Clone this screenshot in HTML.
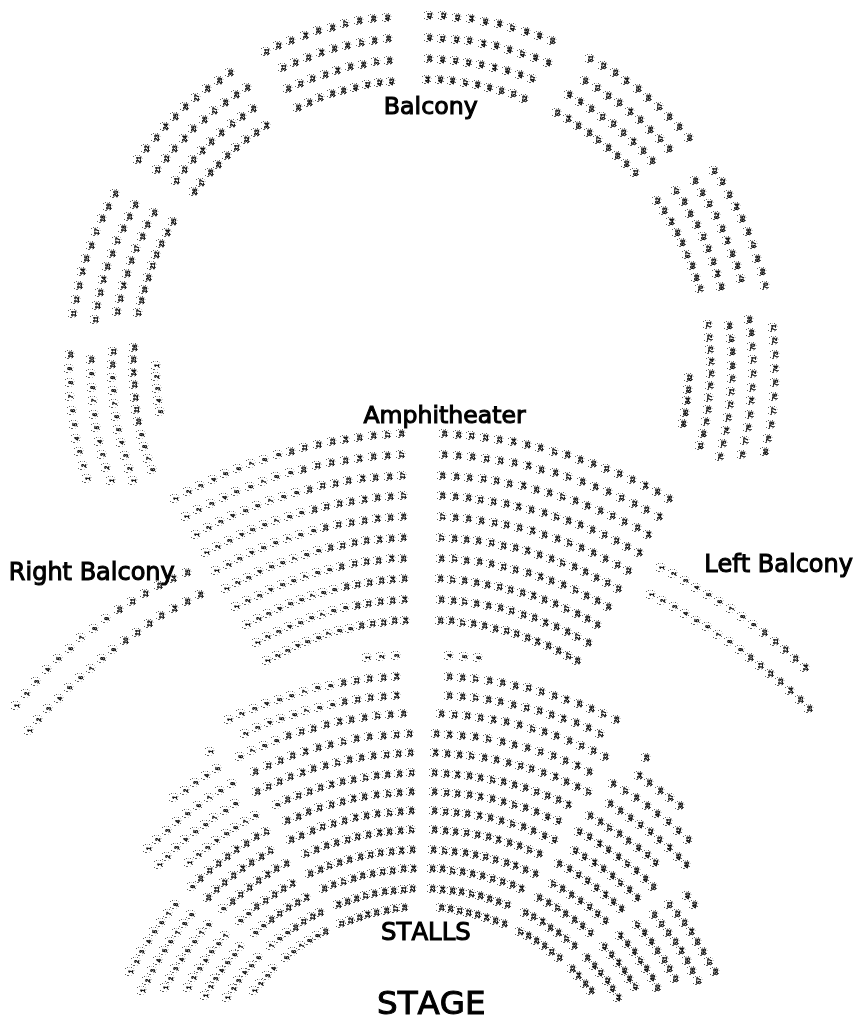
<!DOCTYPE html>
<html><head><meta charset="utf-8"><title>Seat map</title>
<style>
html,body{margin:0;padding:0;background:#fff;}
body{width:860px;height:1020px;overflow:hidden;position:relative;}
svg{position:absolute;left:0;top:0;display:block;}
.s path{fill:none;stroke:#5c5c5c;stroke-width:1;}
.s path+path{stroke:#d0d0d0;}
.s text{font-family:"Liberation Sans",sans-serif;font-weight:bold;font-size:6.5px;fill:#000;stroke:#000;stroke-width:.4;text-anchor:middle;}
.l{font-family:"DejaVu Sans","Liberation Sans",sans-serif;fill:#000;stroke:#000;stroke-width:1.05;stroke-linejoin:miter;font-kerning:none;}
</style></head><body>
<svg width="860" height="1020" viewBox="0 0 860 1020">
<g class="s" opacity="0.999">
<g transform="translate(87 478)"><path d="M-5-2.5h1M-3-3.5h1M1-3.5h1M-5 3.5h1M-3 4.5h2M3 2.5h1"/><path d="M-1-3.5h1M3-2.5h1M4-.5h1M1 4.5h1"/><text transform="translate(.5 .6) rotate(-83) scale(.92 1)" y="2.35">1</text></g>
<g transform="translate(83 465)"><path d="M-5-2.5h1M-3-3.5h1M1-3.5h1M-5 3.5h1M-3 4.5h2M3 2.5h1"/><path d="M-1-3.5h1M3-2.5h1M4-.5h1M1 4.5h1"/><text transform="translate(.5 .6) rotate(-83) scale(.92 1)" y="2.35">2</text></g>
<g transform="translate(79 451)"><path d="M-5-2.5h1M-3-3.5h1M1-3.5h1M-5 3.5h1M-3 4.5h2M3 2.5h1"/><path d="M-1-3.5h1M3-2.5h1M4-.5h1M1 4.5h1"/><text transform="translate(.5 .6) rotate(-83) scale(.92 1)" y="2.35">3</text></g>
<g transform="translate(76 438)"><path d="M-5-2.5h1M-3-3.5h1M1-3.5h1M-5 3.5h1M-3 4.5h2M3 2.5h1"/><path d="M-1-3.5h1M3-2.5h1M4-.5h1M1 4.5h1"/><text transform="translate(.5 .6) rotate(-83) scale(.92 1)" y="2.35">4</text></g>
<g transform="translate(74 424)"><path d="M-5-2.5h1M-3-3.5h1M1-3.5h1M-5 3.5h1M-3 4.5h2M3 2.5h1"/><path d="M-1-3.5h1M3-2.5h1M4-.5h1M1 4.5h1"/><text transform="translate(.5 .6) rotate(-83) scale(.92 1)" y="2.35">5</text></g>
<g transform="translate(72 410)"><path d="M-5-2.5h1M-3-3.5h1M1-3.5h1M-5 3.5h1M-3 4.5h2M3 2.5h1"/><path d="M-1-3.5h1M3-2.5h1M4-.5h1M1 4.5h1"/><text transform="translate(.5 .6) rotate(-83) scale(.92 1)" y="2.35">6</text></g>
<g transform="translate(70 396)"><path d="M-5-2.5h1M-3-3.5h1M1-3.5h1M-5 3.5h1M-3 4.5h2M3 2.5h1"/><path d="M-1-3.5h1M3-2.5h1M4-.5h1M1 4.5h1"/><text transform="translate(.5 .6) rotate(-83) scale(.92 1)" y="2.35">7</text></g>
<g transform="translate(70 382)"><path d="M-5-2.5h1M-3-3.5h1M1-3.5h1M-5 3.5h1M-3 4.5h2M3 2.5h1"/><path d="M-1-3.5h1M3-2.5h1M4-.5h1M1 4.5h1"/><text transform="translate(.5 .6) rotate(-83) scale(.92 1)" y="2.35">8</text></g>
<g transform="translate(69 368)"><path d="M-5-2.5h1M-3-3.5h1M1-3.5h1M-5 3.5h1M-3 4.5h2M3 2.5h1"/><path d="M-1-3.5h1M3-2.5h1M4-.5h1M1 4.5h1"/><text transform="translate(.5 .6) rotate(-83) scale(.92 1)" y="2.35">9</text></g>
<g transform="translate(70 354)"><path d="M-5-2.5h1M-3-3.5h1M1-3.5h1M-5 3.5h1M-3 4.5h2M3 2.5h1"/><path d="M-1-3.5h1M3-2.5h1M4-.5h1M1 4.5h1"/><text transform="translate(.5 .6) rotate(-83) scale(.92 1)" y="2.35">10</text></g>
<g transform="translate(111 480)"><path d="M-5-2.5h1M-3-3.5h1M1-3.5h1M-5 3.5h1M-3 4.5h2M3 2.5h1"/><path d="M-1-3.5h1M3-2.5h1M4-.5h1M1 4.5h1"/><text transform="translate(.5 .6) rotate(-83) scale(.92 1)" y="2.35">1</text></g>
<g transform="translate(106 467)"><path d="M-5-2.5h1M-3-3.5h1M1-3.5h1M-5 3.5h1M-3 4.5h2M3 2.5h1"/><path d="M-1-3.5h1M3-2.5h1M4-.5h1M1 4.5h1"/><text transform="translate(.5 .6) rotate(-83) scale(.92 1)" y="2.35">2</text></g>
<g transform="translate(102 454)"><path d="M-5-2.5h1M-3-3.5h1M1-3.5h1M-5 3.5h1M-3 4.5h2M3 2.5h1"/><path d="M-1-3.5h1M3-2.5h1M4-.5h1M1 4.5h1"/><text transform="translate(.5 .6) rotate(-83) scale(.92 1)" y="2.35">3</text></g>
<g transform="translate(99 441)"><path d="M-5-2.5h1M-3-3.5h1M1-3.5h1M-5 3.5h1M-3 4.5h2M3 2.5h1"/><path d="M-1-3.5h1M3-2.5h1M4-.5h1M1 4.5h1"/><text transform="translate(.5 .6) rotate(-83) scale(.92 1)" y="2.35">4</text></g>
<g transform="translate(96 427)"><path d="M-5-2.5h1M-3-3.5h1M1-3.5h1M-5 3.5h1M-3 4.5h2M3 2.5h1"/><path d="M-1-3.5h1M3-2.5h1M4-.5h1M1 4.5h1"/><text transform="translate(.5 .6) rotate(-83) scale(.92 1)" y="2.35">5</text></g>
<g transform="translate(94 414)"><path d="M-5-2.5h1M-3-3.5h1M1-3.5h1M-5 3.5h1M-3 4.5h2M3 2.5h1"/><path d="M-1-3.5h1M3-2.5h1M4-.5h1M1 4.5h1"/><text transform="translate(.5 .6) rotate(-83) scale(.92 1)" y="2.35">6</text></g>
<g transform="translate(93 400)"><path d="M-5-2.5h1M-3-3.5h1M1-3.5h1M-5 3.5h1M-3 4.5h2M3 2.5h1"/><path d="M-1-3.5h1M3-2.5h1M4-.5h1M1 4.5h1"/><text transform="translate(.5 .6) rotate(-83) scale(.92 1)" y="2.35">7</text></g>
<g transform="translate(92 387)"><path d="M-5-2.5h1M-3-3.5h1M1-3.5h1M-5 3.5h1M-3 4.5h2M3 2.5h1"/><path d="M-1-3.5h1M3-2.5h1M4-.5h1M1 4.5h1"/><text transform="translate(.5 .6) rotate(-83) scale(.92 1)" y="2.35">8</text></g>
<g transform="translate(91 373)"><path d="M-5-2.5h1M-3-3.5h1M1-3.5h1M-5 3.5h1M-3 4.5h2M3 2.5h1"/><path d="M-1-3.5h1M3-2.5h1M4-.5h1M1 4.5h1"/><text transform="translate(.5 .6) rotate(-83) scale(.92 1)" y="2.35">9</text></g>
<g transform="translate(91 359)"><path d="M-5-2.5h1M-3-3.5h1M1-3.5h1M-5 3.5h1M-3 4.5h2M3 2.5h1"/><path d="M-1-3.5h1M3-2.5h1M4-.5h1M1 4.5h1"/><text transform="translate(.5 .6) rotate(-83) scale(.92 1)" y="2.35">10</text></g>
<g transform="translate(133 480)"><path d="M-5-2.5h1M-3-3.5h1M1-3.5h1M-5 3.5h1M-3 4.5h2M3 2.5h1"/><path d="M-1-3.5h1M3-2.5h1M4-.5h1M1 4.5h1"/><text transform="translate(.5 .6) rotate(-83) scale(.92 1)" y="2.35">1</text></g>
<g transform="translate(129 468)"><path d="M-5-2.5h1M-3-3.5h1M1-3.5h1M-5 3.5h1M-3 4.5h2M3 2.5h1"/><path d="M-1-3.5h1M3-2.5h1M4-.5h1M1 4.5h1"/><text transform="translate(.5 .6) rotate(-83) scale(.92 1)" y="2.35">2</text></g>
<g transform="translate(125 455)"><path d="M-5-2.5h1M-3-3.5h1M1-3.5h1M-5 3.5h1M-3 4.5h2M3 2.5h1"/><path d="M-1-3.5h1M3-2.5h1M4-.5h1M1 4.5h1"/><text transform="translate(.5 .6) rotate(-83) scale(.92 1)" y="2.35">3</text></g>
<g transform="translate(121 442)"><path d="M-5-2.5h1M-3-3.5h1M1-3.5h1M-5 3.5h1M-3 4.5h2M3 2.5h1"/><path d="M-1-3.5h1M3-2.5h1M4-.5h1M1 4.5h1"/><text transform="translate(.5 .6) rotate(-83) scale(.92 1)" y="2.35">4</text></g>
<g transform="translate(118 429)"><path d="M-5-2.5h1M-3-3.5h1M1-3.5h1M-5 3.5h1M-3 4.5h2M3 2.5h1"/><path d="M-1-3.5h1M3-2.5h1M4-.5h1M1 4.5h1"/><text transform="translate(.5 .6) rotate(-83) scale(.92 1)" y="2.35">5</text></g>
<g transform="translate(116 416)"><path d="M-5-2.5h1M-3-3.5h1M1-3.5h1M-5 3.5h1M-3 4.5h2M3 2.5h1"/><path d="M-1-3.5h1M3-2.5h1M4-.5h1M1 4.5h1"/><text transform="translate(.5 .6) rotate(-83) scale(.92 1)" y="2.35">6</text></g>
<g transform="translate(114 403)"><path d="M-5-2.5h1M-3-3.5h1M1-3.5h1M-5 3.5h1M-3 4.5h2M3 2.5h1"/><path d="M-1-3.5h1M3-2.5h1M4-.5h1M1 4.5h1"/><text transform="translate(.5 .6) rotate(-83) scale(.92 1)" y="2.35">7</text></g>
<g transform="translate(113 390)"><path d="M-5-2.5h1M-3-3.5h1M1-3.5h1M-5 3.5h1M-3 4.5h2M3 2.5h1"/><path d="M-1-3.5h1M3-2.5h1M4-.5h1M1 4.5h1"/><text transform="translate(.5 .6) rotate(-83) scale(.92 1)" y="2.35">8</text></g>
<g transform="translate(112 377)"><path d="M-5-2.5h1M-3-3.5h1M1-3.5h1M-5 3.5h1M-3 4.5h2M3 2.5h1"/><path d="M-1-3.5h1M3-2.5h1M4-.5h1M1 4.5h1"/><text transform="translate(.5 .6) rotate(-83) scale(.92 1)" y="2.35">9</text></g>
<g transform="translate(112 364)"><path d="M-5-2.5h1M-3-3.5h1M1-3.5h1M-5 3.5h1M-3 4.5h2M3 2.5h1"/><path d="M-1-3.5h1M3-2.5h1M4-.5h1M1 4.5h1"/><text transform="translate(.5 .6) rotate(-83) scale(.92 1)" y="2.35">10</text></g>
<g transform="translate(113 351)"><path d="M-5-2.5h1M-3-3.5h1M1-3.5h1M-5 3.5h1M-3 4.5h2M3 2.5h1"/><path d="M-1-3.5h1M3-2.5h1M4-.5h1M1 4.5h1"/><text transform="translate(.5 .6) rotate(-83) scale(.92 1)" y="2.35">11</text></g>
<g transform="translate(152 469)"><path d="M-5-2.5h1M-3-3.5h1M1-3.5h1M-5 3.5h1M-3 4.5h2M3 2.5h1"/><path d="M-1-3.5h1M3-2.5h1M4-.5h1M1 4.5h1"/><text transform="translate(.5 .6) rotate(-83) scale(.92 1)" y="2.35">6</text></g>
<g transform="translate(148 458)"><path d="M-5-2.5h1M-3-3.5h1M1-3.5h1M-5 3.5h1M-3 4.5h2M3 2.5h1"/><path d="M-1-3.5h1M3-2.5h1M4-.5h1M1 4.5h1"/><text transform="translate(.5 .6) rotate(-83) scale(.92 1)" y="2.35">7</text></g>
<g transform="translate(144 446)"><path d="M-5-2.5h1M-3-3.5h1M1-3.5h1M-5 3.5h1M-3 4.5h2M3 2.5h1"/><path d="M-1-3.5h1M3-2.5h1M4-.5h1M1 4.5h1"/><text transform="translate(.5 .6) rotate(-83) scale(.92 1)" y="2.35">8</text></g>
<g transform="translate(141 434)"><path d="M-5-2.5h1M-3-3.5h1M1-3.5h1M-5 3.5h1M-3 4.5h2M3 2.5h1"/><path d="M-1-3.5h1M3-2.5h1M4-.5h1M1 4.5h1"/><text transform="translate(.5 .6) rotate(-83) scale(.92 1)" y="2.35">9</text></g>
<g transform="translate(138 421)"><path d="M-5-2.5h1M-3-3.5h1M1-3.5h1M-5 3.5h1M-3 4.5h2M3 2.5h1"/><path d="M-1-3.5h1M3-2.5h1M4-.5h1M1 4.5h1"/><text transform="translate(.5 .6) rotate(-83) scale(.92 1)" y="2.35">10</text></g>
<g transform="translate(136 409)"><path d="M-5-2.5h1M-3-3.5h1M1-3.5h1M-5 3.5h1M-3 4.5h2M3 2.5h1"/><path d="M-1-3.5h1M3-2.5h1M4-.5h1M1 4.5h1"/><text transform="translate(.5 .6) rotate(-83) scale(.92 1)" y="2.35">11</text></g>
<g transform="translate(135 397)"><path d="M-5-2.5h1M-3-3.5h1M1-3.5h1M-5 3.5h1M-3 4.5h2M3 2.5h1"/><path d="M-1-3.5h1M3-2.5h1M4-.5h1M1 4.5h1"/><text transform="translate(.5 .6) rotate(-83) scale(.92 1)" y="2.35">12</text></g>
<g transform="translate(134 384)"><path d="M-5-2.5h1M-3-3.5h1M1-3.5h1M-5 3.5h1M-3 4.5h2M3 2.5h1"/><path d="M-1-3.5h1M3-2.5h1M4-.5h1M1 4.5h1"/><text transform="translate(.5 .6) rotate(-83) scale(.92 1)" y="2.35">13</text></g>
<g transform="translate(133 372)"><path d="M-5-2.5h1M-3-3.5h1M1-3.5h1M-5 3.5h1M-3 4.5h2M3 2.5h1"/><path d="M-1-3.5h1M3-2.5h1M4-.5h1M1 4.5h1"/><text transform="translate(.5 .6) rotate(-83) scale(.92 1)" y="2.35">14</text></g>
<g transform="translate(133 359)"><path d="M-5-2.5h1M-3-3.5h1M1-3.5h1M-5 3.5h1M-3 4.5h2M3 2.5h1"/><path d="M-1-3.5h1M3-2.5h1M4-.5h1M1 4.5h1"/><text transform="translate(.5 .6) rotate(-83) scale(.92 1)" y="2.35">15</text></g>
<g transform="translate(134 347)"><path d="M-5-2.5h1M-3-3.5h1M1-3.5h1M-5 3.5h1M-3 4.5h2M3 2.5h1"/><path d="M-1-3.5h1M3-2.5h1M4-.5h1M1 4.5h1"/><text transform="translate(.5 .6) rotate(-83) scale(.92 1)" y="2.35">16</text></g>
<g transform="translate(160 411)"><path d="M-5-2.5h1M-3-3.5h1M1-3.5h1M-5 3.5h1M-3 4.5h2M3 2.5h1"/><path d="M-1-3.5h1M3-2.5h1M4-.5h1M1 4.5h1"/><text transform="translate(.5 .6) rotate(-83) scale(.92 1)" y="2.35">5</text></g>
<g transform="translate(158 400)"><path d="M-5-2.5h1M-3-3.5h1M1-3.5h1M-5 3.5h1M-3 4.5h2M3 2.5h1"/><path d="M-1-3.5h1M3-2.5h1M4-.5h1M1 4.5h1"/><text transform="translate(.5 .6) rotate(-83) scale(.92 1)" y="2.35">4</text></g>
<g transform="translate(157 388)"><path d="M-5-2.5h1M-3-3.5h1M1-3.5h1M-5 3.5h1M-3 4.5h2M3 2.5h1"/><path d="M-1-3.5h1M3-2.5h1M4-.5h1M1 4.5h1"/><text transform="translate(.5 .6) rotate(-83) scale(.92 1)" y="2.35">3</text></g>
<g transform="translate(156 376)"><path d="M-5-2.5h1M-3-3.5h1M1-3.5h1M-5 3.5h1M-3 4.5h2M3 2.5h1"/><path d="M-1-3.5h1M3-2.5h1M4-.5h1M1 4.5h1"/><text transform="translate(.5 .6) rotate(-83) scale(.92 1)" y="2.35">2</text></g>
<g transform="translate(156 365)"><path d="M-5-2.5h1M-3-3.5h1M1-3.5h1M-5 3.5h1M-3 4.5h2M3 2.5h1"/><path d="M-1-3.5h1M3-2.5h1M4-.5h1M1 4.5h1"/><text transform="translate(.5 .6) rotate(-83) scale(.92 1)" y="2.35">1</text></g>
<g transform="translate(73 313)"><path d="M-5-2.5h1M-3-3.5h1M1-3.5h1M-5 3.5h1M-3 4.5h2M3 2.5h1"/><path d="M-1-3.5h1M3-2.5h1M4-.5h1M1 4.5h1"/><text transform="translate(.5 .6) rotate(-83) scale(.92 1)" y="2.35">11</text></g>
<g transform="translate(76 299)"><path d="M-5-2.5h1M-3-3.5h1M1-3.5h1M-5 3.5h1M-3 4.5h2M3 2.5h1"/><path d="M-1-3.5h1M3-2.5h1M4-.5h1M1 4.5h1"/><text transform="translate(.5 .6) rotate(-83) scale(.92 1)" y="2.35">12</text></g>
<g transform="translate(79 285)"><path d="M-5-2.5h1M-3-3.5h1M1-3.5h1M-5 3.5h1M-3 4.5h2M3 2.5h1"/><path d="M-1-3.5h1M3-2.5h1M4-.5h1M1 4.5h1"/><text transform="translate(.5 .6) rotate(-83) scale(.92 1)" y="2.35">13</text></g>
<g transform="translate(82 271)"><path d="M-5-2.5h1M-3-3.5h1M1-3.5h1M-5 3.5h1M-3 4.5h2M3 2.5h1"/><path d="M-1-3.5h1M3-2.5h1M4-.5h1M1 4.5h1"/><text transform="translate(.5 .6) rotate(-83) scale(.92 1)" y="2.35">14</text></g>
<g transform="translate(86 258)"><path d="M-5-2.5h1M-3-3.5h1M1-3.5h1M-5 3.5h1M-3 4.5h2M3 2.5h1"/><path d="M-1-3.5h1M3-2.5h1M4-.5h1M1 4.5h1"/><text transform="translate(.5 .6) rotate(-83) scale(.92 1)" y="2.35">15</text></g>
<g transform="translate(91 245)"><path d="M-5-2.5h1M-3-3.5h1M1-3.5h1M-5 3.5h1M-3 4.5h2M3 2.5h1"/><path d="M-1-3.5h1M3-2.5h1M4-.5h1M1 4.5h1"/><text transform="translate(.5 .6) rotate(-83) scale(.92 1)" y="2.35">16</text></g>
<g transform="translate(96 231)"><path d="M-5-2.5h1M-3-3.5h1M1-3.5h1M-5 3.5h1M-3 4.5h2M3 2.5h1"/><path d="M-1-3.5h1M3-2.5h1M4-.5h1M1 4.5h1"/><text transform="translate(.5 .6) rotate(-83) scale(.92 1)" y="2.35">17</text></g>
<g transform="translate(102 218)"><path d="M-5-2.5h1M-3-3.5h1M1-3.5h1M-5 3.5h1M-3 4.5h2M3 2.5h1"/><path d="M-1-3.5h1M3-2.5h1M4-.5h1M1 4.5h1"/><text transform="translate(.5 .6) rotate(-83) scale(.92 1)" y="2.35">18</text></g>
<g transform="translate(108 206)"><path d="M-5-2.5h1M-3-3.5h1M1-3.5h1M-5 3.5h1M-3 4.5h2M3 2.5h1"/><path d="M-1-3.5h1M3-2.5h1M4-.5h1M1 4.5h1"/><text transform="translate(.5 .6) rotate(-83) scale(.92 1)" y="2.35">19</text></g>
<g transform="translate(115 193)"><path d="M-5-2.5h1M-3-3.5h1M1-3.5h1M-5 3.5h1M-3 4.5h2M3 2.5h1"/><path d="M-1-3.5h1M3-2.5h1M4-.5h1M1 4.5h1"/><text transform="translate(.5 .6) rotate(-83) scale(.92 1)" y="2.35">20</text></g>
<g transform="translate(95 319)"><path d="M-5-2.5h1M-3-3.5h1M1-3.5h1M-5 3.5h1M-3 4.5h2M3 2.5h1"/><path d="M-1-3.5h1M3-2.5h1M4-.5h1M1 4.5h1"/><text transform="translate(.5 .6) rotate(-83) scale(.92 1)" y="2.35">11</text></g>
<g transform="translate(97 305)"><path d="M-5-2.5h1M-3-3.5h1M1-3.5h1M-5 3.5h1M-3 4.5h2M3 2.5h1"/><path d="M-1-3.5h1M3-2.5h1M4-.5h1M1 4.5h1"/><text transform="translate(.5 .6) rotate(-83) scale(.92 1)" y="2.35">12</text></g>
<g transform="translate(100 292)"><path d="M-5-2.5h1M-3-3.5h1M1-3.5h1M-5 3.5h1M-3 4.5h2M3 2.5h1"/><path d="M-1-3.5h1M3-2.5h1M4-.5h1M1 4.5h1"/><text transform="translate(.5 .6) rotate(-83) scale(.92 1)" y="2.35">13</text></g>
<g transform="translate(103 279)"><path d="M-5-2.5h1M-3-3.5h1M1-3.5h1M-5 3.5h1M-3 4.5h2M3 2.5h1"/><path d="M-1-3.5h1M3-2.5h1M4-.5h1M1 4.5h1"/><text transform="translate(.5 .6) rotate(-83) scale(.92 1)" y="2.35">14</text></g>
<g transform="translate(107 266)"><path d="M-5-2.5h1M-3-3.5h1M1-3.5h1M-5 3.5h1M-3 4.5h2M3 2.5h1"/><path d="M-1-3.5h1M3-2.5h1M4-.5h1M1 4.5h1"/><text transform="translate(.5 .6) rotate(-83) scale(.92 1)" y="2.35">15</text></g>
<g transform="translate(112 253)"><path d="M-5-2.5h1M-3-3.5h1M1-3.5h1M-5 3.5h1M-3 4.5h2M3 2.5h1"/><path d="M-1-3.5h1M3-2.5h1M4-.5h1M1 4.5h1"/><text transform="translate(.5 .6) rotate(-83) scale(.92 1)" y="2.35">16</text></g>
<g transform="translate(117 240)"><path d="M-5-2.5h1M-3-3.5h1M1-3.5h1M-5 3.5h1M-3 4.5h2M3 2.5h1"/><path d="M-1-3.5h1M3-2.5h1M4-.5h1M1 4.5h1"/><text transform="translate(.5 .6) rotate(-83) scale(.92 1)" y="2.35">17</text></g>
<g transform="translate(123 228)"><path d="M-5-2.5h1M-3-3.5h1M1-3.5h1M-5 3.5h1M-3 4.5h2M3 2.5h1"/><path d="M-1-3.5h1M3-2.5h1M4-.5h1M1 4.5h1"/><text transform="translate(.5 .6) rotate(-83) scale(.92 1)" y="2.35">18</text></g>
<g transform="translate(129 216)"><path d="M-5-2.5h1M-3-3.5h1M1-3.5h1M-5 3.5h1M-3 4.5h2M3 2.5h1"/><path d="M-1-3.5h1M3-2.5h1M4-.5h1M1 4.5h1"/><text transform="translate(.5 .6) rotate(-83) scale(.92 1)" y="2.35">19</text></g>
<g transform="translate(135 204)"><path d="M-5-2.5h1M-3-3.5h1M1-3.5h1M-5 3.5h1M-3 4.5h2M3 2.5h1"/><path d="M-1-3.5h1M3-2.5h1M4-.5h1M1 4.5h1"/><text transform="translate(.5 .6) rotate(-83) scale(.92 1)" y="2.35">20</text></g>
<g transform="translate(117 311)"><path d="M-5-2.5h1M-3-3.5h1M1-3.5h1M-5 3.5h1M-3 4.5h2M3 2.5h1"/><path d="M-1-3.5h1M3-2.5h1M4-.5h1M1 4.5h1"/><text transform="translate(.5 .6) rotate(-83) scale(.92 1)" y="2.35">12</text></g>
<g transform="translate(120 298)"><path d="M-5-2.5h1M-3-3.5h1M1-3.5h1M-5 3.5h1M-3 4.5h2M3 2.5h1"/><path d="M-1-3.5h1M3-2.5h1M4-.5h1M1 4.5h1"/><text transform="translate(.5 .6) rotate(-83) scale(.92 1)" y="2.35">13</text></g>
<g transform="translate(123 285)"><path d="M-5-2.5h1M-3-3.5h1M1-3.5h1M-5 3.5h1M-3 4.5h2M3 2.5h1"/><path d="M-1-3.5h1M3-2.5h1M4-.5h1M1 4.5h1"/><text transform="translate(.5 .6) rotate(-83) scale(.92 1)" y="2.35">14</text></g>
<g transform="translate(127 273)"><path d="M-5-2.5h1M-3-3.5h1M1-3.5h1M-5 3.5h1M-3 4.5h2M3 2.5h1"/><path d="M-1-3.5h1M3-2.5h1M4-.5h1M1 4.5h1"/><text transform="translate(.5 .6) rotate(-83) scale(.92 1)" y="2.35">15</text></g>
<g transform="translate(131 260)"><path d="M-5-2.5h1M-3-3.5h1M1-3.5h1M-5 3.5h1M-3 4.5h2M3 2.5h1"/><path d="M-1-3.5h1M3-2.5h1M4-.5h1M1 4.5h1"/><text transform="translate(.5 .6) rotate(-83) scale(.92 1)" y="2.35">16</text></g>
<g transform="translate(136 248)"><path d="M-5-2.5h1M-3-3.5h1M1-3.5h1M-5 3.5h1M-3 4.5h2M3 2.5h1"/><path d="M-1-3.5h1M3-2.5h1M4-.5h1M1 4.5h1"/><text transform="translate(.5 .6) rotate(-83) scale(.92 1)" y="2.35">17</text></g>
<g transform="translate(142 236)"><path d="M-5-2.5h1M-3-3.5h1M1-3.5h1M-5 3.5h1M-3 4.5h2M3 2.5h1"/><path d="M-1-3.5h1M3-2.5h1M4-.5h1M1 4.5h1"/><text transform="translate(.5 .6) rotate(-83) scale(.92 1)" y="2.35">18</text></g>
<g transform="translate(147 224)"><path d="M-5-2.5h1M-3-3.5h1M1-3.5h1M-5 3.5h1M-3 4.5h2M3 2.5h1"/><path d="M-1-3.5h1M3-2.5h1M4-.5h1M1 4.5h1"/><text transform="translate(.5 .6) rotate(-83) scale(.92 1)" y="2.35">19</text></g>
<g transform="translate(154 212)"><path d="M-5-2.5h1M-3-3.5h1M1-3.5h1M-5 3.5h1M-3 4.5h2M3 2.5h1"/><path d="M-1-3.5h1M3-2.5h1M4-.5h1M1 4.5h1"/><text transform="translate(.5 .6) rotate(-83) scale(.92 1)" y="2.35">20</text></g>
<g transform="translate(138 312)"><path d="M-5-2.5h1M-3-3.5h1M1-3.5h1M-5 3.5h1M-3 4.5h2M3 2.5h1"/><path d="M-1-3.5h1M3-2.5h1M4-.5h1M1 4.5h1"/><text transform="translate(.5 .6) rotate(-83) scale(.92 1)" y="2.35">17</text></g>
<g transform="translate(141 300)"><path d="M-5-2.5h1M-3-3.5h1M1-3.5h1M-5 3.5h1M-3 4.5h2M3 2.5h1"/><path d="M-1-3.5h1M3-2.5h1M4-.5h1M1 4.5h1"/><text transform="translate(.5 .6) rotate(-83) scale(.92 1)" y="2.35">18</text></g>
<g transform="translate(144 289)"><path d="M-5-2.5h1M-3-3.5h1M1-3.5h1M-5 3.5h1M-3 4.5h2M3 2.5h1"/><path d="M-1-3.5h1M3-2.5h1M4-.5h1M1 4.5h1"/><text transform="translate(.5 .6) rotate(-83) scale(.92 1)" y="2.35">19</text></g>
<g transform="translate(148 277)"><path d="M-5-2.5h1M-3-3.5h1M1-3.5h1M-5 3.5h1M-3 4.5h2M3 2.5h1"/><path d="M-1-3.5h1M3-2.5h1M4-.5h1M1 4.5h1"/><text transform="translate(.5 .6) rotate(-83) scale(.92 1)" y="2.35">20</text></g>
<g transform="translate(152 265)"><path d="M-5-2.5h1M-3-3.5h1M1-3.5h1M-5 3.5h1M-3 4.5h2M3 2.5h1"/><path d="M-1-3.5h1M3-2.5h1M4-.5h1M1 4.5h1"/><text transform="translate(.5 .6) rotate(-83) scale(.92 1)" y="2.35">21</text></g>
<g transform="translate(156 254)"><path d="M-5-2.5h1M-3-3.5h1M1-3.5h1M-5 3.5h1M-3 4.5h2M3 2.5h1"/><path d="M-1-3.5h1M3-2.5h1M4-.5h1M1 4.5h1"/><text transform="translate(.5 .6) rotate(-83) scale(.92 1)" y="2.35">22</text></g>
<g transform="translate(161 243)"><path d="M-5-2.5h1M-3-3.5h1M1-3.5h1M-5 3.5h1M-3 4.5h2M3 2.5h1"/><path d="M-1-3.5h1M3-2.5h1M4-.5h1M1 4.5h1"/><text transform="translate(.5 .6) rotate(-83) scale(.92 1)" y="2.35">23</text></g>
<g transform="translate(167 232)"><path d="M-5-2.5h1M-3-3.5h1M1-3.5h1M-5 3.5h1M-3 4.5h2M3 2.5h1"/><path d="M-1-3.5h1M3-2.5h1M4-.5h1M1 4.5h1"/><text transform="translate(.5 .6) rotate(-83) scale(.92 1)" y="2.35">24</text></g>
<g transform="translate(173 221)"><path d="M-5-2.5h1M-3-3.5h1M1-3.5h1M-5 3.5h1M-3 4.5h2M3 2.5h1"/><path d="M-1-3.5h1M3-2.5h1M4-.5h1M1 4.5h1"/><text transform="translate(.5 .6) rotate(-83) scale(.92 1)" y="2.35">25</text></g>
<g transform="translate(138 159)"><path d="M-5-2.5h1M-3-3.5h1M1-3.5h1M-5 3.5h1M-3 4.5h2M3 2.5h1"/><path d="M-1-3.5h1M3-2.5h1M4-.5h1M1 4.5h1"/><text transform="translate(.5 .6) rotate(-83) scale(.92 1)" y="2.35">21</text></g>
<g transform="translate(146 148)"><path d="M-5-2.5h1M-3-3.5h1M1-3.5h1M-5 3.5h1M-3 4.5h2M3 2.5h1"/><path d="M-1-3.5h1M3-2.5h1M4-.5h1M1 4.5h1"/><text transform="translate(.5 .6) rotate(-83) scale(.92 1)" y="2.35">22</text></g>
<g transform="translate(156 137)"><path d="M-5-2.5h1M-3-3.5h1M1-3.5h1M-5 3.5h1M-3 4.5h2M3 2.5h1"/><path d="M-1-3.5h1M3-2.5h1M4-.5h1M1 4.5h1"/><text transform="translate(.5 .6) rotate(-83) scale(.92 1)" y="2.35">23</text></g>
<g transform="translate(165 126)"><path d="M-5-2.5h1M-3-3.5h1M1-3.5h1M-5 3.5h1M-3 4.5h2M3 2.5h1"/><path d="M-1-3.5h1M3-2.5h1M4-.5h1M1 4.5h1"/><text transform="translate(.5 .6) rotate(-83) scale(.92 1)" y="2.35">24</text></g>
<g transform="translate(175 116)"><path d="M-5-2.5h1M-3-3.5h1M1-3.5h1M-5 3.5h1M-3 4.5h2M3 2.5h1"/><path d="M-1-3.5h1M3-2.5h1M4-.5h1M1 4.5h1"/><text transform="translate(.5 .6) rotate(-83) scale(.92 1)" y="2.35">25</text></g>
<g transform="translate(185 106)"><path d="M-5-2.5h1M-3-3.5h1M1-3.5h1M-5 3.5h1M-3 4.5h2M3 2.5h1"/><path d="M-1-3.5h1M3-2.5h1M4-.5h1M1 4.5h1"/><text transform="translate(.5 .6) rotate(-83) scale(.92 1)" y="2.35">26</text></g>
<g transform="translate(196 97)"><path d="M-5-2.5h1M-3-3.5h1M1-3.5h1M-5 3.5h1M-3 4.5h2M3 2.5h1"/><path d="M-1-3.5h1M3-2.5h1M4-.5h1M1 4.5h1"/><text transform="translate(.5 .6) rotate(-83) scale(.92 1)" y="2.35">27</text></g>
<g transform="translate(207 88)"><path d="M-5-2.5h1M-3-3.5h1M1-3.5h1M-5 3.5h1M-3 4.5h2M3 2.5h1"/><path d="M-1-3.5h1M3-2.5h1M4-.5h1M1 4.5h1"/><text transform="translate(.5 .6) rotate(-83) scale(.92 1)" y="2.35">28</text></g>
<g transform="translate(219 80)"><path d="M-5-2.5h1M-3-3.5h1M1-3.5h1M-5 3.5h1M-3 4.5h2M3 2.5h1"/><path d="M-1-3.5h1M3-2.5h1M4-.5h1M1 4.5h1"/><text transform="translate(.5 .6) rotate(-83) scale(.92 1)" y="2.35">29</text></g>
<g transform="translate(230 72)"><path d="M-5-2.5h1M-3-3.5h1M1-3.5h1M-5 3.5h1M-3 4.5h2M3 2.5h1"/><path d="M-1-3.5h1M3-2.5h1M4-.5h1M1 4.5h1"/><text transform="translate(.5 .6) rotate(-83) scale(.92 1)" y="2.35">30</text></g>
<g transform="translate(157 169)"><path d="M-5-2.5h1M-3-3.5h1M1-3.5h1M-5 3.5h1M-3 4.5h2M3 2.5h1"/><path d="M-1-3.5h1M3-2.5h1M4-.5h1M1 4.5h1"/><text transform="translate(.5 .6) rotate(-83) scale(.92 1)" y="2.35">21</text></g>
<g transform="translate(166 158)"><path d="M-5-2.5h1M-3-3.5h1M1-3.5h1M-5 3.5h1M-3 4.5h2M3 2.5h1"/><path d="M-1-3.5h1M3-2.5h1M4-.5h1M1 4.5h1"/><text transform="translate(.5 .6) rotate(-83) scale(.92 1)" y="2.35">22</text></g>
<g transform="translate(174 148)"><path d="M-5-2.5h1M-3-3.5h1M1-3.5h1M-5 3.5h1M-3 4.5h2M3 2.5h1"/><path d="M-1-3.5h1M3-2.5h1M4-.5h1M1 4.5h1"/><text transform="translate(.5 .6) rotate(-83) scale(.92 1)" y="2.35">23</text></g>
<g transform="translate(184 138)"><path d="M-5-2.5h1M-3-3.5h1M1-3.5h1M-5 3.5h1M-3 4.5h2M3 2.5h1"/><path d="M-1-3.5h1M3-2.5h1M4-.5h1M1 4.5h1"/><text transform="translate(.5 .6) rotate(-83) scale(.92 1)" y="2.35">24</text></g>
<g transform="translate(193 128)"><path d="M-5-2.5h1M-3-3.5h1M1-3.5h1M-5 3.5h1M-3 4.5h2M3 2.5h1"/><path d="M-1-3.5h1M3-2.5h1M4-.5h1M1 4.5h1"/><text transform="translate(.5 .6) rotate(-83) scale(.92 1)" y="2.35">25</text></g>
<g transform="translate(204 119)"><path d="M-5-2.5h1M-3-3.5h1M1-3.5h1M-5 3.5h1M-3 4.5h2M3 2.5h1"/><path d="M-1-3.5h1M3-2.5h1M4-.5h1M1 4.5h1"/><text transform="translate(.5 .6) rotate(-83) scale(.92 1)" y="2.35">26</text></g>
<g transform="translate(214 110)"><path d="M-5-2.5h1M-3-3.5h1M1-3.5h1M-5 3.5h1M-3 4.5h2M3 2.5h1"/><path d="M-1-3.5h1M3-2.5h1M4-.5h1M1 4.5h1"/><text transform="translate(.5 .6) rotate(-83) scale(.92 1)" y="2.35">27</text></g>
<g transform="translate(225 102)"><path d="M-5-2.5h1M-3-3.5h1M1-3.5h1M-5 3.5h1M-3 4.5h2M3 2.5h1"/><path d="M-1-3.5h1M3-2.5h1M4-.5h1M1 4.5h1"/><text transform="translate(.5 .6) rotate(-83) scale(.92 1)" y="2.35">28</text></g>
<g transform="translate(236 94)"><path d="M-5-2.5h1M-3-3.5h1M1-3.5h1M-5 3.5h1M-3 4.5h2M3 2.5h1"/><path d="M-1-3.5h1M3-2.5h1M4-.5h1M1 4.5h1"/><text transform="translate(.5 .6) rotate(-83) scale(.92 1)" y="2.35">29</text></g>
<g transform="translate(247 87)"><path d="M-5-2.5h1M-3-3.5h1M1-3.5h1M-5 3.5h1M-3 4.5h2M3 2.5h1"/><path d="M-1-3.5h1M3-2.5h1M4-.5h1M1 4.5h1"/><text transform="translate(.5 .6) rotate(-83) scale(.92 1)" y="2.35">30</text></g>
<g transform="translate(176 180)"><path d="M-5-2.5h1M-3-3.5h1M1-3.5h1M-5 3.5h1M-3 4.5h2M3 2.5h1"/><path d="M-1-3.5h1M3-2.5h1M4-.5h1M1 4.5h1"/><text transform="translate(.5 .6) rotate(-83) scale(.92 1)" y="2.35">21</text></g>
<g transform="translate(184 169)"><path d="M-5-2.5h1M-3-3.5h1M1-3.5h1M-5 3.5h1M-3 4.5h2M3 2.5h1"/><path d="M-1-3.5h1M3-2.5h1M4-.5h1M1 4.5h1"/><text transform="translate(.5 .6) rotate(-83) scale(.92 1)" y="2.35">22</text></g>
<g transform="translate(193 159)"><path d="M-5-2.5h1M-3-3.5h1M1-3.5h1M-5 3.5h1M-3 4.5h2M3 2.5h1"/><path d="M-1-3.5h1M3-2.5h1M4-.5h1M1 4.5h1"/><text transform="translate(.5 .6) rotate(-83) scale(.92 1)" y="2.35">23</text></g>
<g transform="translate(202 150)"><path d="M-5-2.5h1M-3-3.5h1M1-3.5h1M-5 3.5h1M-3 4.5h2M3 2.5h1"/><path d="M-1-3.5h1M3-2.5h1M4-.5h1M1 4.5h1"/><text transform="translate(.5 .6) rotate(-83) scale(.92 1)" y="2.35">24</text></g>
<g transform="translate(211 141)"><path d="M-5-2.5h1M-3-3.5h1M1-3.5h1M-5 3.5h1M-3 4.5h2M3 2.5h1"/><path d="M-1-3.5h1M3-2.5h1M4-.5h1M1 4.5h1"/><text transform="translate(.5 .6) rotate(-83) scale(.92 1)" y="2.35">25</text></g>
<g transform="translate(221 132)"><path d="M-5-2.5h1M-3-3.5h1M1-3.5h1M-5 3.5h1M-3 4.5h2M3 2.5h1"/><path d="M-1-3.5h1M3-2.5h1M4-.5h1M1 4.5h1"/><text transform="translate(.5 .6) rotate(-83) scale(.92 1)" y="2.35">26</text></g>
<g transform="translate(232 123)"><path d="M-5-2.5h1M-3-3.5h1M1-3.5h1M-5 3.5h1M-3 4.5h2M3 2.5h1"/><path d="M-1-3.5h1M3-2.5h1M4-.5h1M1 4.5h1"/><text transform="translate(.5 .6) rotate(-83) scale(.92 1)" y="2.35">27</text></g>
<g transform="translate(242 116)"><path d="M-5-2.5h1M-3-3.5h1M1-3.5h1M-5 3.5h1M-3 4.5h2M3 2.5h1"/><path d="M-1-3.5h1M3-2.5h1M4-.5h1M1 4.5h1"/><text transform="translate(.5 .6) rotate(-83) scale(.92 1)" y="2.35">28</text></g>
<g transform="translate(253 108)"><path d="M-5-2.5h1M-3-3.5h1M1-3.5h1M-5 3.5h1M-3 4.5h2M3 2.5h1"/><path d="M-1-3.5h1M3-2.5h1M4-.5h1M1 4.5h1"/><text transform="translate(.5 .6) rotate(-83) scale(.92 1)" y="2.35">29</text></g>
<g transform="translate(194 191)"><path d="M-5-2.5h1M-3-3.5h1M1-3.5h1M-5 3.5h1M-3 4.5h2M3 2.5h1"/><path d="M-1-3.5h1M3-2.5h1M4-.5h1M1 4.5h1"/><text transform="translate(.5 .6) rotate(-83) scale(.92 1)" y="2.35">26</text></g>
<g transform="translate(201 182)"><path d="M-5-2.5h1M-3-3.5h1M1-3.5h1M-5 3.5h1M-3 4.5h2M3 2.5h1"/><path d="M-1-3.5h1M3-2.5h1M4-.5h1M1 4.5h1"/><text transform="translate(.5 .6) rotate(-83) scale(.92 1)" y="2.35">27</text></g>
<g transform="translate(210 172)"><path d="M-5-2.5h1M-3-3.5h1M1-3.5h1M-5 3.5h1M-3 4.5h2M3 2.5h1"/><path d="M-1-3.5h1M3-2.5h1M4-.5h1M1 4.5h1"/><text transform="translate(.5 .6) rotate(-83) scale(.92 1)" y="2.35">28</text></g>
<g transform="translate(218 164)"><path d="M-5-2.5h1M-3-3.5h1M1-3.5h1M-5 3.5h1M-3 4.5h2M3 2.5h1"/><path d="M-1-3.5h1M3-2.5h1M4-.5h1M1 4.5h1"/><text transform="translate(.5 .6) rotate(-83) scale(.92 1)" y="2.35">29</text></g>
<g transform="translate(227 155)"><path d="M-5-2.5h1M-3-3.5h1M1-3.5h1M-5 3.5h1M-3 4.5h2M3 2.5h1"/><path d="M-1-3.5h1M3-2.5h1M4-.5h1M1 4.5h1"/><text transform="translate(.5 .6) rotate(-83) scale(.92 1)" y="2.35">30</text></g>
<g transform="translate(236 147)"><path d="M-5-2.5h1M-3-3.5h1M1-3.5h1M-5 3.5h1M-3 4.5h2M3 2.5h1"/><path d="M-1-3.5h1M3-2.5h1M4-.5h1M1 4.5h1"/><text transform="translate(.5 .6) rotate(-83) scale(.92 1)" y="2.35">31</text></g>
<g transform="translate(246 139)"><path d="M-5-2.5h1M-3-3.5h1M1-3.5h1M-5 3.5h1M-3 4.5h2M3 2.5h1"/><path d="M-1-3.5h1M3-2.5h1M4-.5h1M1 4.5h1"/><text transform="translate(.5 .6) rotate(-83) scale(.92 1)" y="2.35">32</text></g>
<g transform="translate(256 132)"><path d="M-5-2.5h1M-3-3.5h1M1-3.5h1M-5 3.5h1M-3 4.5h2M3 2.5h1"/><path d="M-1-3.5h1M3-2.5h1M4-.5h1M1 4.5h1"/><text transform="translate(.5 .6) rotate(-83) scale(.92 1)" y="2.35">33</text></g>
<g transform="translate(266 125)"><path d="M-5-2.5h1M-3-3.5h1M1-3.5h1M-5 3.5h1M-3 4.5h2M3 2.5h1"/><path d="M-1-3.5h1M3-2.5h1M4-.5h1M1 4.5h1"/><text transform="translate(.5 .6) rotate(-83) scale(.92 1)" y="2.35">34</text></g>
<g transform="translate(266 51)"><path d="M-5-2.5h1M-3-3.5h1M1-3.5h1M-5 3.5h1M-3 4.5h2M3 2.5h1"/><path d="M-1-3.5h1M3-2.5h1M4-.5h1M1 4.5h1"/><text transform="translate(.5 .6) rotate(-83) scale(.92 1)" y="2.35">31</text></g>
<g transform="translate(278 45)"><path d="M-5-2.5h1M-3-3.5h1M1-3.5h1M-5 3.5h1M-3 4.5h2M3 2.5h1"/><path d="M-1-3.5h1M3-2.5h1M4-.5h1M1 4.5h1"/><text transform="translate(.5 .6) rotate(-83) scale(.92 1)" y="2.35">32</text></g>
<g transform="translate(291 40)"><path d="M-5-2.5h1M-3-3.5h1M1-3.5h1M-5 3.5h1M-3 4.5h2M3 2.5h1"/><path d="M-1-3.5h1M3-2.5h1M4-.5h1M1 4.5h1"/><text transform="translate(.5 .6) rotate(-83) scale(.92 1)" y="2.35">33</text></g>
<g transform="translate(305 35)"><path d="M-5-2.5h1M-3-3.5h1M1-3.5h1M-5 3.5h1M-3 4.5h2M3 2.5h1"/><path d="M-1-3.5h1M3-2.5h1M4-.5h1M1 4.5h1"/><text transform="translate(.5 .6) rotate(-83) scale(.92 1)" y="2.35">34</text></g>
<g transform="translate(318 30)"><path d="M-5-2.5h1M-3-3.5h1M1-3.5h1M-5 3.5h1M-3 4.5h2M3 2.5h1"/><path d="M-1-3.5h1M3-2.5h1M4-.5h1M1 4.5h1"/><text transform="translate(.5 .6) rotate(-83) scale(.92 1)" y="2.35">35</text></g>
<g transform="translate(332 27)"><path d="M-5-2.5h1M-3-3.5h1M1-3.5h1M-5 3.5h1M-3 4.5h2M3 2.5h1"/><path d="M-1-3.5h1M3-2.5h1M4-.5h1M1 4.5h1"/><text transform="translate(.5 .6) rotate(-83) scale(.92 1)" y="2.35">36</text></g>
<g transform="translate(345 23)"><path d="M-5-2.5h1M-3-3.5h1M1-3.5h1M-5 3.5h1M-3 4.5h2M3 2.5h1"/><path d="M-1-3.5h1M3-2.5h1M4-.5h1M1 4.5h1"/><text transform="translate(.5 .6) rotate(-83) scale(.92 1)" y="2.35">37</text></g>
<g transform="translate(359 20)"><path d="M-5-2.5h1M-3-3.5h1M1-3.5h1M-5 3.5h1M-3 4.5h2M3 2.5h1"/><path d="M-1-3.5h1M3-2.5h1M4-.5h1M1 4.5h1"/><text transform="translate(.5 .6) rotate(-83) scale(.92 1)" y="2.35">38</text></g>
<g transform="translate(373 18)"><path d="M-5-2.5h1M-3-3.5h1M1-3.5h1M-5 3.5h1M-3 4.5h2M3 2.5h1"/><path d="M-1-3.5h1M3-2.5h1M4-.5h1M1 4.5h1"/><text transform="translate(.5 .6) rotate(-83) scale(.92 1)" y="2.35">39</text></g>
<g transform="translate(387 17)"><path d="M-5-2.5h1M-3-3.5h1M1-3.5h1M-5 3.5h1M-3 4.5h2M3 2.5h1"/><path d="M-1-3.5h1M3-2.5h1M4-.5h1M1 4.5h1"/><text transform="translate(.5 .6) rotate(-83) scale(.92 1)" y="2.35">40</text></g>
<g transform="translate(283 67)"><path d="M-5-2.5h1M-3-3.5h1M1-3.5h1M-5 3.5h1M-3 4.5h2M3 2.5h1"/><path d="M-1-3.5h1M3-2.5h1M4-.5h1M1 4.5h1"/><text transform="translate(.5 .6) rotate(-83) scale(.92 1)" y="2.35">31</text></g>
<g transform="translate(295 62)"><path d="M-5-2.5h1M-3-3.5h1M1-3.5h1M-5 3.5h1M-3 4.5h2M3 2.5h1"/><path d="M-1-3.5h1M3-2.5h1M4-.5h1M1 4.5h1"/><text transform="translate(.5 .6) rotate(-83) scale(.92 1)" y="2.35">32</text></g>
<g transform="translate(308 57)"><path d="M-5-2.5h1M-3-3.5h1M1-3.5h1M-5 3.5h1M-3 4.5h2M3 2.5h1"/><path d="M-1-3.5h1M3-2.5h1M4-.5h1M1 4.5h1"/><text transform="translate(.5 .6) rotate(-83) scale(.92 1)" y="2.35">33</text></g>
<g transform="translate(321 52)"><path d="M-5-2.5h1M-3-3.5h1M1-3.5h1M-5 3.5h1M-3 4.5h2M3 2.5h1"/><path d="M-1-3.5h1M3-2.5h1M4-.5h1M1 4.5h1"/><text transform="translate(.5 .6) rotate(-83) scale(.92 1)" y="2.35">34</text></g>
<g transform="translate(334 48)"><path d="M-5-2.5h1M-3-3.5h1M1-3.5h1M-5 3.5h1M-3 4.5h2M3 2.5h1"/><path d="M-1-3.5h1M3-2.5h1M4-.5h1M1 4.5h1"/><text transform="translate(.5 .6) rotate(-83) scale(.92 1)" y="2.35">35</text></g>
<g transform="translate(347 45)"><path d="M-5-2.5h1M-3-3.5h1M1-3.5h1M-5 3.5h1M-3 4.5h2M3 2.5h1"/><path d="M-1-3.5h1M3-2.5h1M4-.5h1M1 4.5h1"/><text transform="translate(.5 .6) rotate(-83) scale(.92 1)" y="2.35">36</text></g>
<g transform="translate(361 42)"><path d="M-5-2.5h1M-3-3.5h1M1-3.5h1M-5 3.5h1M-3 4.5h2M3 2.5h1"/><path d="M-1-3.5h1M3-2.5h1M4-.5h1M1 4.5h1"/><text transform="translate(.5 .6) rotate(-83) scale(.92 1)" y="2.35">37</text></g>
<g transform="translate(374 40)"><path d="M-5-2.5h1M-3-3.5h1M1-3.5h1M-5 3.5h1M-3 4.5h2M3 2.5h1"/><path d="M-1-3.5h1M3-2.5h1M4-.5h1M1 4.5h1"/><text transform="translate(.5 .6) rotate(-83) scale(.92 1)" y="2.35">38</text></g>
<g transform="translate(388 38)"><path d="M-5-2.5h1M-3-3.5h1M1-3.5h1M-5 3.5h1M-3 4.5h2M3 2.5h1"/><path d="M-1-3.5h1M3-2.5h1M4-.5h1M1 4.5h1"/><text transform="translate(.5 .6) rotate(-83) scale(.92 1)" y="2.35">39</text></g>
<g transform="translate(288 88)"><path d="M-5-2.5h1M-3-3.5h1M1-3.5h1M-5 3.5h1M-3 4.5h2M3 2.5h1"/><path d="M-1-3.5h1M3-2.5h1M4-.5h1M1 4.5h1"/><text transform="translate(.5 .6) rotate(-83) scale(.92 1)" y="2.35">30</text></g>
<g transform="translate(300 83)"><path d="M-5-2.5h1M-3-3.5h1M1-3.5h1M-5 3.5h1M-3 4.5h2M3 2.5h1"/><path d="M-1-3.5h1M3-2.5h1M4-.5h1M1 4.5h1"/><text transform="translate(.5 .6) rotate(-83) scale(.92 1)" y="2.35">31</text></g>
<g transform="translate(312 78)"><path d="M-5-2.5h1M-3-3.5h1M1-3.5h1M-5 3.5h1M-3 4.5h2M3 2.5h1"/><path d="M-1-3.5h1M3-2.5h1M4-.5h1M1 4.5h1"/><text transform="translate(.5 .6) rotate(-83) scale(.92 1)" y="2.35">32</text></g>
<g transform="translate(325 74)"><path d="M-5-2.5h1M-3-3.5h1M1-3.5h1M-5 3.5h1M-3 4.5h2M3 2.5h1"/><path d="M-1-3.5h1M3-2.5h1M4-.5h1M1 4.5h1"/><text transform="translate(.5 .6) rotate(-83) scale(.92 1)" y="2.35">33</text></g>
<g transform="translate(337 70)"><path d="M-5-2.5h1M-3-3.5h1M1-3.5h1M-5 3.5h1M-3 4.5h2M3 2.5h1"/><path d="M-1-3.5h1M3-2.5h1M4-.5h1M1 4.5h1"/><text transform="translate(.5 .6) rotate(-83) scale(.92 1)" y="2.35">34</text></g>
<g transform="translate(350 66)"><path d="M-5-2.5h1M-3-3.5h1M1-3.5h1M-5 3.5h1M-3 4.5h2M3 2.5h1"/><path d="M-1-3.5h1M3-2.5h1M4-.5h1M1 4.5h1"/><text transform="translate(.5 .6) rotate(-83) scale(.92 1)" y="2.35">35</text></g>
<g transform="translate(363 64)"><path d="M-5-2.5h1M-3-3.5h1M1-3.5h1M-5 3.5h1M-3 4.5h2M3 2.5h1"/><path d="M-1-3.5h1M3-2.5h1M4-.5h1M1 4.5h1"/><text transform="translate(.5 .6) rotate(-83) scale(.92 1)" y="2.35">36</text></g>
<g transform="translate(376 61)"><path d="M-5-2.5h1M-3-3.5h1M1-3.5h1M-5 3.5h1M-3 4.5h2M3 2.5h1"/><path d="M-1-3.5h1M3-2.5h1M4-.5h1M1 4.5h1"/><text transform="translate(.5 .6) rotate(-83) scale(.92 1)" y="2.35">37</text></g>
<g transform="translate(389 60)"><path d="M-5-2.5h1M-3-3.5h1M1-3.5h1M-5 3.5h1M-3 4.5h2M3 2.5h1"/><path d="M-1-3.5h1M3-2.5h1M4-.5h1M1 4.5h1"/><text transform="translate(.5 .6) rotate(-83) scale(.92 1)" y="2.35">38</text></g>
<g transform="translate(298 107)"><path d="M-5-2.5h1M-3-3.5h1M1-3.5h1M-5 3.5h1M-3 4.5h2M3 2.5h1"/><path d="M-1-3.5h1M3-2.5h1M4-.5h1M1 4.5h1"/><text transform="translate(.5 .6) rotate(-83) scale(.92 1)" y="2.35">35</text></g>
<g transform="translate(309 102)"><path d="M-5-2.5h1M-3-3.5h1M1-3.5h1M-5 3.5h1M-3 4.5h2M3 2.5h1"/><path d="M-1-3.5h1M3-2.5h1M4-.5h1M1 4.5h1"/><text transform="translate(.5 .6) rotate(-83) scale(.92 1)" y="2.35">36</text></g>
<g transform="translate(320 97)"><path d="M-5-2.5h1M-3-3.5h1M1-3.5h1M-5 3.5h1M-3 4.5h2M3 2.5h1"/><path d="M-1-3.5h1M3-2.5h1M4-.5h1M1 4.5h1"/><text transform="translate(.5 .6) rotate(-83) scale(.92 1)" y="2.35">37</text></g>
<g transform="translate(332 93)"><path d="M-5-2.5h1M-3-3.5h1M1-3.5h1M-5 3.5h1M-3 4.5h2M3 2.5h1"/><path d="M-1-3.5h1M3-2.5h1M4-.5h1M1 4.5h1"/><text transform="translate(.5 .6) rotate(-83) scale(.92 1)" y="2.35">38</text></g>
<g transform="translate(343 90)"><path d="M-5-2.5h1M-3-3.5h1M1-3.5h1M-5 3.5h1M-3 4.5h2M3 2.5h1"/><path d="M-1-3.5h1M3-2.5h1M4-.5h1M1 4.5h1"/><text transform="translate(.5 .6) rotate(-83) scale(.92 1)" y="2.35">39</text></g>
<g transform="translate(355 87)"><path d="M-5-2.5h1M-3-3.5h1M1-3.5h1M-5 3.5h1M-3 4.5h2M3 2.5h1"/><path d="M-1-3.5h1M3-2.5h1M4-.5h1M1 4.5h1"/><text transform="translate(.5 .6) rotate(-83) scale(.92 1)" y="2.35">40</text></g>
<g transform="translate(367 84)"><path d="M-5-2.5h1M-3-3.5h1M1-3.5h1M-5 3.5h1M-3 4.5h2M3 2.5h1"/><path d="M-1-3.5h1M3-2.5h1M4-.5h1M1 4.5h1"/><text transform="translate(.5 .6) rotate(-83) scale(.92 1)" y="2.35">41</text></g>
<g transform="translate(379 82)"><path d="M-5-2.5h1M-3-3.5h1M1-3.5h1M-5 3.5h1M-3 4.5h2M3 2.5h1"/><path d="M-1-3.5h1M3-2.5h1M4-.5h1M1 4.5h1"/><text transform="translate(.5 .6) rotate(-83) scale(.92 1)" y="2.35">42</text></g>
<g transform="translate(391 81)"><path d="M-5-2.5h1M-3-3.5h1M1-3.5h1M-5 3.5h1M-3 4.5h2M3 2.5h1"/><path d="M-1-3.5h1M3-2.5h1M4-.5h1M1 4.5h1"/><text transform="translate(.5 .6) rotate(-83) scale(.92 1)" y="2.35">43</text></g>
<g transform="translate(429 15)"><path d="M-5-2.5h1M-3-3.5h1M1-3.5h1M-5 3.5h1M-3 4.5h2M3 2.5h1"/><path d="M-1-3.5h1M3-2.5h1M4-.5h1M1 4.5h1"/><text transform="translate(.5 .6) rotate(-83) scale(.92 1)" y="2.35">41</text></g>
<g transform="translate(443 15)"><path d="M-5-2.5h1M-3-3.5h1M1-3.5h1M-5 3.5h1M-3 4.5h2M3 2.5h1"/><path d="M-1-3.5h1M3-2.5h1M4-.5h1M1 4.5h1"/><text transform="translate(.5 .6) rotate(-83) scale(.92 1)" y="2.35">42</text></g>
<g transform="translate(457 17)"><path d="M-5-2.5h1M-3-3.5h1M1-3.5h1M-5 3.5h1M-3 4.5h2M3 2.5h1"/><path d="M-1-3.5h1M3-2.5h1M4-.5h1M1 4.5h1"/><text transform="translate(.5 .6) rotate(-83) scale(.92 1)" y="2.35">43</text></g>
<g transform="translate(471 18)"><path d="M-5-2.5h1M-3-3.5h1M1-3.5h1M-5 3.5h1M-3 4.5h2M3 2.5h1"/><path d="M-1-3.5h1M3-2.5h1M4-.5h1M1 4.5h1"/><text transform="translate(.5 .6) rotate(-83) scale(.92 1)" y="2.35">44</text></g>
<g transform="translate(485 21)"><path d="M-5-2.5h1M-3-3.5h1M1-3.5h1M-5 3.5h1M-3 4.5h2M3 2.5h1"/><path d="M-1-3.5h1M3-2.5h1M4-.5h1M1 4.5h1"/><text transform="translate(.5 .6) rotate(-83) scale(.92 1)" y="2.35">45</text></g>
<g transform="translate(499 23)"><path d="M-5-2.5h1M-3-3.5h1M1-3.5h1M-5 3.5h1M-3 4.5h2M3 2.5h1"/><path d="M-1-3.5h1M3-2.5h1M4-.5h1M1 4.5h1"/><text transform="translate(.5 .6) rotate(-83) scale(.92 1)" y="2.35">46</text></g>
<g transform="translate(512 27)"><path d="M-5-2.5h1M-3-3.5h1M1-3.5h1M-5 3.5h1M-3 4.5h2M3 2.5h1"/><path d="M-1-3.5h1M3-2.5h1M4-.5h1M1 4.5h1"/><text transform="translate(.5 .6) rotate(-83) scale(.92 1)" y="2.35">47</text></g>
<g transform="translate(526 31)"><path d="M-5-2.5h1M-3-3.5h1M1-3.5h1M-5 3.5h1M-3 4.5h2M3 2.5h1"/><path d="M-1-3.5h1M3-2.5h1M4-.5h1M1 4.5h1"/><text transform="translate(.5 .6) rotate(-83) scale(.92 1)" y="2.35">48</text></g>
<g transform="translate(539 35)"><path d="M-5-2.5h1M-3-3.5h1M1-3.5h1M-5 3.5h1M-3 4.5h2M3 2.5h1"/><path d="M-1-3.5h1M3-2.5h1M4-.5h1M1 4.5h1"/><text transform="translate(.5 .6) rotate(-83) scale(.92 1)" y="2.35">49</text></g>
<g transform="translate(552 40)"><path d="M-5-2.5h1M-3-3.5h1M1-3.5h1M-5 3.5h1M-3 4.5h2M3 2.5h1"/><path d="M-1-3.5h1M3-2.5h1M4-.5h1M1 4.5h1"/><text transform="translate(.5 .6) rotate(-83) scale(.92 1)" y="2.35">50</text></g>
<g transform="translate(429 37)"><path d="M-5-2.5h1M-3-3.5h1M1-3.5h1M-5 3.5h1M-3 4.5h2M3 2.5h1"/><path d="M-1-3.5h1M3-2.5h1M4-.5h1M1 4.5h1"/><text transform="translate(.5 .6) rotate(-83) scale(.92 1)" y="2.35">40</text></g>
<g transform="translate(442 38)"><path d="M-5-2.5h1M-3-3.5h1M1-3.5h1M-5 3.5h1M-3 4.5h2M3 2.5h1"/><path d="M-1-3.5h1M3-2.5h1M4-.5h1M1 4.5h1"/><text transform="translate(.5 .6) rotate(-83) scale(.92 1)" y="2.35">41</text></g>
<g transform="translate(456 39)"><path d="M-5-2.5h1M-3-3.5h1M1-3.5h1M-5 3.5h1M-3 4.5h2M3 2.5h1"/><path d="M-1-3.5h1M3-2.5h1M4-.5h1M1 4.5h1"/><text transform="translate(.5 .6) rotate(-83) scale(.92 1)" y="2.35">42</text></g>
<g transform="translate(469 40)"><path d="M-5-2.5h1M-3-3.5h1M1-3.5h1M-5 3.5h1M-3 4.5h2M3 2.5h1"/><path d="M-1-3.5h1M3-2.5h1M4-.5h1M1 4.5h1"/><text transform="translate(.5 .6) rotate(-83) scale(.92 1)" y="2.35">43</text></g>
<g transform="translate(483 43)"><path d="M-5-2.5h1M-3-3.5h1M1-3.5h1M-5 3.5h1M-3 4.5h2M3 2.5h1"/><path d="M-1-3.5h1M3-2.5h1M4-.5h1M1 4.5h1"/><text transform="translate(.5 .6) rotate(-83) scale(.92 1)" y="2.35">44</text></g>
<g transform="translate(496 45)"><path d="M-5-2.5h1M-3-3.5h1M1-3.5h1M-5 3.5h1M-3 4.5h2M3 2.5h1"/><path d="M-1-3.5h1M3-2.5h1M4-.5h1M1 4.5h1"/><text transform="translate(.5 .6) rotate(-83) scale(.92 1)" y="2.35">45</text></g>
<g transform="translate(509 49)"><path d="M-5-2.5h1M-3-3.5h1M1-3.5h1M-5 3.5h1M-3 4.5h2M3 2.5h1"/><path d="M-1-3.5h1M3-2.5h1M4-.5h1M1 4.5h1"/><text transform="translate(.5 .6) rotate(-83) scale(.92 1)" y="2.35">46</text></g>
<g transform="translate(522 53)"><path d="M-5-2.5h1M-3-3.5h1M1-3.5h1M-5 3.5h1M-3 4.5h2M3 2.5h1"/><path d="M-1-3.5h1M3-2.5h1M4-.5h1M1 4.5h1"/><text transform="translate(.5 .6) rotate(-83) scale(.92 1)" y="2.35">47</text></g>
<g transform="translate(535 57)"><path d="M-5-2.5h1M-3-3.5h1M1-3.5h1M-5 3.5h1M-3 4.5h2M3 2.5h1"/><path d="M-1-3.5h1M3-2.5h1M4-.5h1M1 4.5h1"/><text transform="translate(.5 .6) rotate(-83) scale(.92 1)" y="2.35">48</text></g>
<g transform="translate(548 62)"><path d="M-5-2.5h1M-3-3.5h1M1-3.5h1M-5 3.5h1M-3 4.5h2M3 2.5h1"/><path d="M-1-3.5h1M3-2.5h1M4-.5h1M1 4.5h1"/><text transform="translate(.5 .6) rotate(-83) scale(.92 1)" y="2.35">49</text></g>
<g transform="translate(429 58)"><path d="M-5-2.5h1M-3-3.5h1M1-3.5h1M-5 3.5h1M-3 4.5h2M3 2.5h1"/><path d="M-1-3.5h1M3-2.5h1M4-.5h1M1 4.5h1"/><text transform="translate(.5 .6) rotate(-83) scale(.92 1)" y="2.35">39</text></g>
<g transform="translate(442 59)"><path d="M-5-2.5h1M-3-3.5h1M1-3.5h1M-5 3.5h1M-3 4.5h2M3 2.5h1"/><path d="M-1-3.5h1M3-2.5h1M4-.5h1M1 4.5h1"/><text transform="translate(.5 .6) rotate(-83) scale(.92 1)" y="2.35">40</text></g>
<g transform="translate(455 60)"><path d="M-5-2.5h1M-3-3.5h1M1-3.5h1M-5 3.5h1M-3 4.5h2M3 2.5h1"/><path d="M-1-3.5h1M3-2.5h1M4-.5h1M1 4.5h1"/><text transform="translate(.5 .6) rotate(-83) scale(.92 1)" y="2.35">41</text></g>
<g transform="translate(468 62)"><path d="M-5-2.5h1M-3-3.5h1M1-3.5h1M-5 3.5h1M-3 4.5h2M3 2.5h1"/><path d="M-1-3.5h1M3-2.5h1M4-.5h1M1 4.5h1"/><text transform="translate(.5 .6) rotate(-83) scale(.92 1)" y="2.35">42</text></g>
<g transform="translate(481 64)"><path d="M-5-2.5h1M-3-3.5h1M1-3.5h1M-5 3.5h1M-3 4.5h2M3 2.5h1"/><path d="M-1-3.5h1M3-2.5h1M4-.5h1M1 4.5h1"/><text transform="translate(.5 .6) rotate(-83) scale(.92 1)" y="2.35">43</text></g>
<g transform="translate(494 67)"><path d="M-5-2.5h1M-3-3.5h1M1-3.5h1M-5 3.5h1M-3 4.5h2M3 2.5h1"/><path d="M-1-3.5h1M3-2.5h1M4-.5h1M1 4.5h1"/><text transform="translate(.5 .6) rotate(-83) scale(.92 1)" y="2.35">44</text></g>
<g transform="translate(507 70)"><path d="M-5-2.5h1M-3-3.5h1M1-3.5h1M-5 3.5h1M-3 4.5h2M3 2.5h1"/><path d="M-1-3.5h1M3-2.5h1M4-.5h1M1 4.5h1"/><text transform="translate(.5 .6) rotate(-83) scale(.92 1)" y="2.35">45</text></g>
<g transform="translate(520 74)"><path d="M-5-2.5h1M-3-3.5h1M1-3.5h1M-5 3.5h1M-3 4.5h2M3 2.5h1"/><path d="M-1-3.5h1M3-2.5h1M4-.5h1M1 4.5h1"/><text transform="translate(.5 .6) rotate(-83) scale(.92 1)" y="2.35">46</text></g>
<g transform="translate(532 78)"><path d="M-5-2.5h1M-3-3.5h1M1-3.5h1M-5 3.5h1M-3 4.5h2M3 2.5h1"/><path d="M-1-3.5h1M3-2.5h1M4-.5h1M1 4.5h1"/><text transform="translate(.5 .6) rotate(-83) scale(.92 1)" y="2.35">47</text></g>
<g transform="translate(427 79)"><path d="M-5-2.5h1M-3-3.5h1M1-3.5h1M-5 3.5h1M-3 4.5h2M3 2.5h1"/><path d="M-1-3.5h1M3-2.5h1M4-.5h1M1 4.5h1"/><text transform="translate(.5 .6) rotate(-83) scale(.92 1)" y="2.35">44</text></g>
<g transform="translate(440 79)"><path d="M-5-2.5h1M-3-3.5h1M1-3.5h1M-5 3.5h1M-3 4.5h2M3 2.5h1"/><path d="M-1-3.5h1M3-2.5h1M4-.5h1M1 4.5h1"/><text transform="translate(.5 .6) rotate(-83) scale(.92 1)" y="2.35">45</text></g>
<g transform="translate(452 80)"><path d="M-5-2.5h1M-3-3.5h1M1-3.5h1M-5 3.5h1M-3 4.5h2M3 2.5h1"/><path d="M-1-3.5h1M3-2.5h1M4-.5h1M1 4.5h1"/><text transform="translate(.5 .6) rotate(-83) scale(.92 1)" y="2.35">46</text></g>
<g transform="translate(465 82)"><path d="M-5-2.5h1M-3-3.5h1M1-3.5h1M-5 3.5h1M-3 4.5h2M3 2.5h1"/><path d="M-1-3.5h1M3-2.5h1M4-.5h1M1 4.5h1"/><text transform="translate(.5 .6) rotate(-83) scale(.92 1)" y="2.35">47</text></g>
<g transform="translate(477 84)"><path d="M-5-2.5h1M-3-3.5h1M1-3.5h1M-5 3.5h1M-3 4.5h2M3 2.5h1"/><path d="M-1-3.5h1M3-2.5h1M4-.5h1M1 4.5h1"/><text transform="translate(.5 .6) rotate(-83) scale(.92 1)" y="2.35">48</text></g>
<g transform="translate(489 87)"><path d="M-5-2.5h1M-3-3.5h1M1-3.5h1M-5 3.5h1M-3 4.5h2M3 2.5h1"/><path d="M-1-3.5h1M3-2.5h1M4-.5h1M1 4.5h1"/><text transform="translate(.5 .6) rotate(-83) scale(.92 1)" y="2.35">49</text></g>
<g transform="translate(501 90)"><path d="M-5-2.5h1M-3-3.5h1M1-3.5h1M-5 3.5h1M-3 4.5h2M3 2.5h1"/><path d="M-1-3.5h1M3-2.5h1M4-.5h1M1 4.5h1"/><text transform="translate(.5 .6) rotate(-83) scale(.92 1)" y="2.35">50</text></g>
<g transform="translate(513 93)"><path d="M-5-2.5h1M-3-3.5h1M1-3.5h1M-5 3.5h1M-3 4.5h2M3 2.5h1"/><path d="M-1-3.5h1M3-2.5h1M4-.5h1M1 4.5h1"/><text transform="translate(.5 .6) rotate(-83) scale(.92 1)" y="2.35">51</text></g>
<g transform="translate(524 98)"><path d="M-5-2.5h1M-3-3.5h1M1-3.5h1M-5 3.5h1M-3 4.5h2M3 2.5h1"/><path d="M-1-3.5h1M3-2.5h1M4-.5h1M1 4.5h1"/><text transform="translate(.5 .6) rotate(-83) scale(.92 1)" y="2.35">52</text></g>
<g transform="translate(590 58)"><path d="M-5-2.5h1M-3-3.5h1M1-3.5h1M-5 3.5h1M-3 4.5h2M3 2.5h1"/><path d="M-1-3.5h1M3-2.5h1M4-.5h1M1 4.5h1"/><text transform="translate(.5 .6) rotate(-83) scale(.92 1)" y="2.35">51</text></g>
<g transform="translate(603 65)"><path d="M-5-2.5h1M-3-3.5h1M1-3.5h1M-5 3.5h1M-3 4.5h2M3 2.5h1"/><path d="M-1-3.5h1M3-2.5h1M4-.5h1M1 4.5h1"/><text transform="translate(.5 .6) rotate(-83) scale(.92 1)" y="2.35">52</text></g>
<g transform="translate(615 72)"><path d="M-5-2.5h1M-3-3.5h1M1-3.5h1M-5 3.5h1M-3 4.5h2M3 2.5h1"/><path d="M-1-3.5h1M3-2.5h1M4-.5h1M1 4.5h1"/><text transform="translate(.5 .6) rotate(-83) scale(.92 1)" y="2.35">53</text></g>
<g transform="translate(626 80)"><path d="M-5-2.5h1M-3-3.5h1M1-3.5h1M-5 3.5h1M-3 4.5h2M3 2.5h1"/><path d="M-1-3.5h1M3-2.5h1M4-.5h1M1 4.5h1"/><text transform="translate(.5 .6) rotate(-83) scale(.92 1)" y="2.35">54</text></g>
<g transform="translate(638 88)"><path d="M-5-2.5h1M-3-3.5h1M1-3.5h1M-5 3.5h1M-3 4.5h2M3 2.5h1"/><path d="M-1-3.5h1M3-2.5h1M4-.5h1M1 4.5h1"/><text transform="translate(.5 .6) rotate(-83) scale(.92 1)" y="2.35">55</text></g>
<g transform="translate(648 97)"><path d="M-5-2.5h1M-3-3.5h1M1-3.5h1M-5 3.5h1M-3 4.5h2M3 2.5h1"/><path d="M-1-3.5h1M3-2.5h1M4-.5h1M1 4.5h1"/><text transform="translate(.5 .6) rotate(-83) scale(.92 1)" y="2.35">56</text></g>
<g transform="translate(659 106)"><path d="M-5-2.5h1M-3-3.5h1M1-3.5h1M-5 3.5h1M-3 4.5h2M3 2.5h1"/><path d="M-1-3.5h1M3-2.5h1M4-.5h1M1 4.5h1"/><text transform="translate(.5 .6) rotate(-83) scale(.92 1)" y="2.35">57</text></g>
<g transform="translate(669 116)"><path d="M-5-2.5h1M-3-3.5h1M1-3.5h1M-5 3.5h1M-3 4.5h2M3 2.5h1"/><path d="M-1-3.5h1M3-2.5h1M4-.5h1M1 4.5h1"/><text transform="translate(.5 .6) rotate(-83) scale(.92 1)" y="2.35">58</text></g>
<g transform="translate(679 126)"><path d="M-5-2.5h1M-3-3.5h1M1-3.5h1M-5 3.5h1M-3 4.5h2M3 2.5h1"/><path d="M-1-3.5h1M3-2.5h1M4-.5h1M1 4.5h1"/><text transform="translate(.5 .6) rotate(-83) scale(.92 1)" y="2.35">59</text></g>
<g transform="translate(689 137)"><path d="M-5-2.5h1M-3-3.5h1M1-3.5h1M-5 3.5h1M-3 4.5h2M3 2.5h1"/><path d="M-1-3.5h1M3-2.5h1M4-.5h1M1 4.5h1"/><text transform="translate(.5 .6) rotate(-83) scale(.92 1)" y="2.35">60</text></g>
<g transform="translate(585 80)"><path d="M-5-2.5h1M-3-3.5h1M1-3.5h1M-5 3.5h1M-3 4.5h2M3 2.5h1"/><path d="M-1-3.5h1M3-2.5h1M4-.5h1M1 4.5h1"/><text transform="translate(.5 .6) rotate(-83) scale(.92 1)" y="2.35">50</text></g>
<g transform="translate(597 87)"><path d="M-5-2.5h1M-3-3.5h1M1-3.5h1M-5 3.5h1M-3 4.5h2M3 2.5h1"/><path d="M-1-3.5h1M3-2.5h1M4-.5h1M1 4.5h1"/><text transform="translate(.5 .6) rotate(-83) scale(.92 1)" y="2.35">51</text></g>
<g transform="translate(608 95)"><path d="M-5-2.5h1M-3-3.5h1M1-3.5h1M-5 3.5h1M-3 4.5h2M3 2.5h1"/><path d="M-1-3.5h1M3-2.5h1M4-.5h1M1 4.5h1"/><text transform="translate(.5 .6) rotate(-83) scale(.92 1)" y="2.35">52</text></g>
<g transform="translate(619 102)"><path d="M-5-2.5h1M-3-3.5h1M1-3.5h1M-5 3.5h1M-3 4.5h2M3 2.5h1"/><path d="M-1-3.5h1M3-2.5h1M4-.5h1M1 4.5h1"/><text transform="translate(.5 .6) rotate(-83) scale(.92 1)" y="2.35">53</text></g>
<g transform="translate(630 111)"><path d="M-5-2.5h1M-3-3.5h1M1-3.5h1M-5 3.5h1M-3 4.5h2M3 2.5h1"/><path d="M-1-3.5h1M3-2.5h1M4-.5h1M1 4.5h1"/><text transform="translate(.5 .6) rotate(-83) scale(.92 1)" y="2.35">54</text></g>
<g transform="translate(640 119)"><path d="M-5-2.5h1M-3-3.5h1M1-3.5h1M-5 3.5h1M-3 4.5h2M3 2.5h1"/><path d="M-1-3.5h1M3-2.5h1M4-.5h1M1 4.5h1"/><text transform="translate(.5 .6) rotate(-83) scale(.92 1)" y="2.35">55</text></g>
<g transform="translate(650 129)"><path d="M-5-2.5h1M-3-3.5h1M1-3.5h1M-5 3.5h1M-3 4.5h2M3 2.5h1"/><path d="M-1-3.5h1M3-2.5h1M4-.5h1M1 4.5h1"/><text transform="translate(.5 .6) rotate(-83) scale(.92 1)" y="2.35">56</text></g>
<g transform="translate(660 138)"><path d="M-5-2.5h1M-3-3.5h1M1-3.5h1M-5 3.5h1M-3 4.5h2M3 2.5h1"/><path d="M-1-3.5h1M3-2.5h1M4-.5h1M1 4.5h1"/><text transform="translate(.5 .6) rotate(-83) scale(.92 1)" y="2.35">57</text></g>
<g transform="translate(669 148)"><path d="M-5-2.5h1M-3-3.5h1M1-3.5h1M-5 3.5h1M-3 4.5h2M3 2.5h1"/><path d="M-1-3.5h1M3-2.5h1M4-.5h1M1 4.5h1"/><text transform="translate(.5 .6) rotate(-83) scale(.92 1)" y="2.35">58</text></g>
<g transform="translate(569 94)"><path d="M-5-2.5h1M-3-3.5h1M1-3.5h1M-5 3.5h1M-3 4.5h2M3 2.5h1"/><path d="M-1-3.5h1M3-2.5h1M4-.5h1M1 4.5h1"/><text transform="translate(.5 .6) rotate(-83) scale(.92 1)" y="2.35">48</text></g>
<g transform="translate(580 101)"><path d="M-5-2.5h1M-3-3.5h1M1-3.5h1M-5 3.5h1M-3 4.5h2M3 2.5h1"/><path d="M-1-3.5h1M3-2.5h1M4-.5h1M1 4.5h1"/><text transform="translate(.5 .6) rotate(-83) scale(.92 1)" y="2.35">49</text></g>
<g transform="translate(591 108)"><path d="M-5-2.5h1M-3-3.5h1M1-3.5h1M-5 3.5h1M-3 4.5h2M3 2.5h1"/><path d="M-1-3.5h1M3-2.5h1M4-.5h1M1 4.5h1"/><text transform="translate(.5 .6) rotate(-83) scale(.92 1)" y="2.35">50</text></g>
<g transform="translate(602 116)"><path d="M-5-2.5h1M-3-3.5h1M1-3.5h1M-5 3.5h1M-3 4.5h2M3 2.5h1"/><path d="M-1-3.5h1M3-2.5h1M4-.5h1M1 4.5h1"/><text transform="translate(.5 .6) rotate(-83) scale(.92 1)" y="2.35">51</text></g>
<g transform="translate(613 123)"><path d="M-5-2.5h1M-3-3.5h1M1-3.5h1M-5 3.5h1M-3 4.5h2M3 2.5h1"/><path d="M-1-3.5h1M3-2.5h1M4-.5h1M1 4.5h1"/><text transform="translate(.5 .6) rotate(-83) scale(.92 1)" y="2.35">52</text></g>
<g transform="translate(623 132)"><path d="M-5-2.5h1M-3-3.5h1M1-3.5h1M-5 3.5h1M-3 4.5h2M3 2.5h1"/><path d="M-1-3.5h1M3-2.5h1M4-.5h1M1 4.5h1"/><text transform="translate(.5 .6) rotate(-83) scale(.92 1)" y="2.35">53</text></g>
<g transform="translate(633 141)"><path d="M-5-2.5h1M-3-3.5h1M1-3.5h1M-5 3.5h1M-3 4.5h2M3 2.5h1"/><path d="M-1-3.5h1M3-2.5h1M4-.5h1M1 4.5h1"/><text transform="translate(.5 .6) rotate(-83) scale(.92 1)" y="2.35">54</text></g>
<g transform="translate(643 150)"><path d="M-5-2.5h1M-3-3.5h1M1-3.5h1M-5 3.5h1M-3 4.5h2M3 2.5h1"/><path d="M-1-3.5h1M3-2.5h1M4-.5h1M1 4.5h1"/><text transform="translate(.5 .6) rotate(-83) scale(.92 1)" y="2.35">55</text></g>
<g transform="translate(652 160)"><path d="M-5-2.5h1M-3-3.5h1M1-3.5h1M-5 3.5h1M-3 4.5h2M3 2.5h1"/><path d="M-1-3.5h1M3-2.5h1M4-.5h1M1 4.5h1"/><text transform="translate(.5 .6) rotate(-83) scale(.92 1)" y="2.35">56</text></g>
<g transform="translate(557 112)"><path d="M-5-2.5h1M-3-3.5h1M1-3.5h1M-5 3.5h1M-3 4.5h2M3 2.5h1"/><path d="M-1-3.5h1M3-2.5h1M4-.5h1M1 4.5h1"/><text transform="translate(.5 .6) rotate(-83) scale(.92 1)" y="2.35">53</text></g>
<g transform="translate(568 118)"><path d="M-5-2.5h1M-3-3.5h1M1-3.5h1M-5 3.5h1M-3 4.5h2M3 2.5h1"/><path d="M-1-3.5h1M3-2.5h1M4-.5h1M1 4.5h1"/><text transform="translate(.5 .6) rotate(-83) scale(.92 1)" y="2.35">54</text></g>
<g transform="translate(578 125)"><path d="M-5-2.5h1M-3-3.5h1M1-3.5h1M-5 3.5h1M-3 4.5h2M3 2.5h1"/><path d="M-1-3.5h1M3-2.5h1M4-.5h1M1 4.5h1"/><text transform="translate(.5 .6) rotate(-83) scale(.92 1)" y="2.35">55</text></g>
<g transform="translate(589 132)"><path d="M-5-2.5h1M-3-3.5h1M1-3.5h1M-5 3.5h1M-3 4.5h2M3 2.5h1"/><path d="M-1-3.5h1M3-2.5h1M4-.5h1M1 4.5h1"/><text transform="translate(.5 .6) rotate(-83) scale(.92 1)" y="2.35">56</text></g>
<g transform="translate(598 139)"><path d="M-5-2.5h1M-3-3.5h1M1-3.5h1M-5 3.5h1M-3 4.5h2M3 2.5h1"/><path d="M-1-3.5h1M3-2.5h1M4-.5h1M1 4.5h1"/><text transform="translate(.5 .6) rotate(-83) scale(.92 1)" y="2.35">57</text></g>
<g transform="translate(608 147)"><path d="M-5-2.5h1M-3-3.5h1M1-3.5h1M-5 3.5h1M-3 4.5h2M3 2.5h1"/><path d="M-1-3.5h1M3-2.5h1M4-.5h1M1 4.5h1"/><text transform="translate(.5 .6) rotate(-83) scale(.92 1)" y="2.35">58</text></g>
<g transform="translate(617 155)"><path d="M-5-2.5h1M-3-3.5h1M1-3.5h1M-5 3.5h1M-3 4.5h2M3 2.5h1"/><path d="M-1-3.5h1M3-2.5h1M4-.5h1M1 4.5h1"/><text transform="translate(.5 .6) rotate(-83) scale(.92 1)" y="2.35">59</text></g>
<g transform="translate(626 163)"><path d="M-5-2.5h1M-3-3.5h1M1-3.5h1M-5 3.5h1M-3 4.5h2M3 2.5h1"/><path d="M-1-3.5h1M3-2.5h1M4-.5h1M1 4.5h1"/><text transform="translate(.5 .6) rotate(-83) scale(.92 1)" y="2.35">60</text></g>
<g transform="translate(635 172)"><path d="M-5-2.5h1M-3-3.5h1M1-3.5h1M-5 3.5h1M-3 4.5h2M3 2.5h1"/><path d="M-1-3.5h1M3-2.5h1M4-.5h1M1 4.5h1"/><text transform="translate(.5 .6) rotate(-83) scale(.92 1)" y="2.35">61</text></g>
<g transform="translate(714 170)"><path d="M-5-2.5h1M-3-3.5h1M1-3.5h1M-5 3.5h1M-3 4.5h2M3 2.5h1"/><path d="M-1-3.5h1M3-2.5h1M4-.5h1M1 4.5h1"/><text transform="translate(.5 .6) rotate(-83) scale(.92 1)" y="2.35">61</text></g>
<g transform="translate(722 181)"><path d="M-5-2.5h1M-3-3.5h1M1-3.5h1M-5 3.5h1M-3 4.5h2M3 2.5h1"/><path d="M-1-3.5h1M3-2.5h1M4-.5h1M1 4.5h1"/><text transform="translate(.5 .6) rotate(-83) scale(.92 1)" y="2.35">62</text></g>
<g transform="translate(729 194)"><path d="M-5-2.5h1M-3-3.5h1M1-3.5h1M-5 3.5h1M-3 4.5h2M3 2.5h1"/><path d="M-1-3.5h1M3-2.5h1M4-.5h1M1 4.5h1"/><text transform="translate(.5 .6) rotate(-83) scale(.92 1)" y="2.35">63</text></g>
<g transform="translate(736 206)"><path d="M-5-2.5h1M-3-3.5h1M1-3.5h1M-5 3.5h1M-3 4.5h2M3 2.5h1"/><path d="M-1-3.5h1M3-2.5h1M4-.5h1M1 4.5h1"/><text transform="translate(.5 .6) rotate(-83) scale(.92 1)" y="2.35">64</text></g>
<g transform="translate(742 218)"><path d="M-5-2.5h1M-3-3.5h1M1-3.5h1M-5 3.5h1M-3 4.5h2M3 2.5h1"/><path d="M-1-3.5h1M3-2.5h1M4-.5h1M1 4.5h1"/><text transform="translate(.5 .6) rotate(-83) scale(.92 1)" y="2.35">65</text></g>
<g transform="translate(748 231)"><path d="M-5-2.5h1M-3-3.5h1M1-3.5h1M-5 3.5h1M-3 4.5h2M3 2.5h1"/><path d="M-1-3.5h1M3-2.5h1M4-.5h1M1 4.5h1"/><text transform="translate(.5 .6) rotate(-83) scale(.92 1)" y="2.35">66</text></g>
<g transform="translate(753 244)"><path d="M-5-2.5h1M-3-3.5h1M1-3.5h1M-5 3.5h1M-3 4.5h2M3 2.5h1"/><path d="M-1-3.5h1M3-2.5h1M4-.5h1M1 4.5h1"/><text transform="translate(.5 .6) rotate(-83) scale(.92 1)" y="2.35">67</text></g>
<g transform="translate(757 258)"><path d="M-5-2.5h1M-3-3.5h1M1-3.5h1M-5 3.5h1M-3 4.5h2M3 2.5h1"/><path d="M-1-3.5h1M3-2.5h1M4-.5h1M1 4.5h1"/><text transform="translate(.5 .6) rotate(-83) scale(.92 1)" y="2.35">68</text></g>
<g transform="translate(762 271)"><path d="M-5-2.5h1M-3-3.5h1M1-3.5h1M-5 3.5h1M-3 4.5h2M3 2.5h1"/><path d="M-1-3.5h1M3-2.5h1M4-.5h1M1 4.5h1"/><text transform="translate(.5 .6) rotate(-83) scale(.92 1)" y="2.35">69</text></g>
<g transform="translate(765 285)"><path d="M-5-2.5h1M-3-3.5h1M1-3.5h1M-5 3.5h1M-3 4.5h2M3 2.5h1"/><path d="M-1-3.5h1M3-2.5h1M4-.5h1M1 4.5h1"/><text transform="translate(.5 .6) rotate(-83) scale(.92 1)" y="2.35">70</text></g>
<g transform="translate(695 180)"><path d="M-5-2.5h1M-3-3.5h1M1-3.5h1M-5 3.5h1M-3 4.5h2M3 2.5h1"/><path d="M-1-3.5h1M3-2.5h1M4-.5h1M1 4.5h1"/><text transform="translate(.5 .6) rotate(-83) scale(.92 1)" y="2.35">59</text></g>
<g transform="translate(702 192)"><path d="M-5-2.5h1M-3-3.5h1M1-3.5h1M-5 3.5h1M-3 4.5h2M3 2.5h1"/><path d="M-1-3.5h1M3-2.5h1M4-.5h1M1 4.5h1"/><text transform="translate(.5 .6) rotate(-83) scale(.92 1)" y="2.35">60</text></g>
<g transform="translate(709 203)"><path d="M-5-2.5h1M-3-3.5h1M1-3.5h1M-5 3.5h1M-3 4.5h2M3 2.5h1"/><path d="M-1-3.5h1M3-2.5h1M4-.5h1M1 4.5h1"/><text transform="translate(.5 .6) rotate(-83) scale(.92 1)" y="2.35">61</text></g>
<g transform="translate(716 215)"><path d="M-5-2.5h1M-3-3.5h1M1-3.5h1M-5 3.5h1M-3 4.5h2M3 2.5h1"/><path d="M-1-3.5h1M3-2.5h1M4-.5h1M1 4.5h1"/><text transform="translate(.5 .6) rotate(-83) scale(.92 1)" y="2.35">62</text></g>
<g transform="translate(722 228)"><path d="M-5-2.5h1M-3-3.5h1M1-3.5h1M-5 3.5h1M-3 4.5h2M3 2.5h1"/><path d="M-1-3.5h1M3-2.5h1M4-.5h1M1 4.5h1"/><text transform="translate(.5 .6) rotate(-83) scale(.92 1)" y="2.35">63</text></g>
<g transform="translate(727 240)"><path d="M-5-2.5h1M-3-3.5h1M1-3.5h1M-5 3.5h1M-3 4.5h2M3 2.5h1"/><path d="M-1-3.5h1M3-2.5h1M4-.5h1M1 4.5h1"/><text transform="translate(.5 .6) rotate(-83) scale(.92 1)" y="2.35">64</text></g>
<g transform="translate(732 253)"><path d="M-5-2.5h1M-3-3.5h1M1-3.5h1M-5 3.5h1M-3 4.5h2M3 2.5h1"/><path d="M-1-3.5h1M3-2.5h1M4-.5h1M1 4.5h1"/><text transform="translate(.5 .6) rotate(-83) scale(.92 1)" y="2.35">65</text></g>
<g transform="translate(737 265)"><path d="M-5-2.5h1M-3-3.5h1M1-3.5h1M-5 3.5h1M-3 4.5h2M3 2.5h1"/><path d="M-1-3.5h1M3-2.5h1M4-.5h1M1 4.5h1"/><text transform="translate(.5 .6) rotate(-83) scale(.92 1)" y="2.35">66</text></g>
<g transform="translate(741 278)"><path d="M-5-2.5h1M-3-3.5h1M1-3.5h1M-5 3.5h1M-3 4.5h2M3 2.5h1"/><path d="M-1-3.5h1M3-2.5h1M4-.5h1M1 4.5h1"/><text transform="translate(.5 .6) rotate(-83) scale(.92 1)" y="2.35">67</text></g>
<g transform="translate(676 190)"><path d="M-5-2.5h1M-3-3.5h1M1-3.5h1M-5 3.5h1M-3 4.5h2M3 2.5h1"/><path d="M-1-3.5h1M3-2.5h1M4-.5h1M1 4.5h1"/><text transform="translate(.5 .6) rotate(-83) scale(.92 1)" y="2.35">57</text></g>
<g transform="translate(684 201)"><path d="M-5-2.5h1M-3-3.5h1M1-3.5h1M-5 3.5h1M-3 4.5h2M3 2.5h1"/><path d="M-1-3.5h1M3-2.5h1M4-.5h1M1 4.5h1"/><text transform="translate(.5 .6) rotate(-83) scale(.92 1)" y="2.35">58</text></g>
<g transform="translate(690 213)"><path d="M-5-2.5h1M-3-3.5h1M1-3.5h1M-5 3.5h1M-3 4.5h2M3 2.5h1"/><path d="M-1-3.5h1M3-2.5h1M4-.5h1M1 4.5h1"/><text transform="translate(.5 .6) rotate(-83) scale(.92 1)" y="2.35">59</text></g>
<g transform="translate(697 224)"><path d="M-5-2.5h1M-3-3.5h1M1-3.5h1M-5 3.5h1M-3 4.5h2M3 2.5h1"/><path d="M-1-3.5h1M3-2.5h1M4-.5h1M1 4.5h1"/><text transform="translate(.5 .6) rotate(-83) scale(.92 1)" y="2.35">60</text></g>
<g transform="translate(703 236)"><path d="M-5-2.5h1M-3-3.5h1M1-3.5h1M-5 3.5h1M-3 4.5h2M3 2.5h1"/><path d="M-1-3.5h1M3-2.5h1M4-.5h1M1 4.5h1"/><text transform="translate(.5 .6) rotate(-83) scale(.92 1)" y="2.35">61</text></g>
<g transform="translate(708 248)"><path d="M-5-2.5h1M-3-3.5h1M1-3.5h1M-5 3.5h1M-3 4.5h2M3 2.5h1"/><path d="M-1-3.5h1M3-2.5h1M4-.5h1M1 4.5h1"/><text transform="translate(.5 .6) rotate(-83) scale(.92 1)" y="2.35">62</text></g>
<g transform="translate(713 261)"><path d="M-5-2.5h1M-3-3.5h1M1-3.5h1M-5 3.5h1M-3 4.5h2M3 2.5h1"/><path d="M-1-3.5h1M3-2.5h1M4-.5h1M1 4.5h1"/><text transform="translate(.5 .6) rotate(-83) scale(.92 1)" y="2.35">63</text></g>
<g transform="translate(717 273)"><path d="M-5-2.5h1M-3-3.5h1M1-3.5h1M-5 3.5h1M-3 4.5h2M3 2.5h1"/><path d="M-1-3.5h1M3-2.5h1M4-.5h1M1 4.5h1"/><text transform="translate(.5 .6) rotate(-83) scale(.92 1)" y="2.35">64</text></g>
<g transform="translate(721 286)"><path d="M-5-2.5h1M-3-3.5h1M1-3.5h1M-5 3.5h1M-3 4.5h2M3 2.5h1"/><path d="M-1-3.5h1M3-2.5h1M4-.5h1M1 4.5h1"/><text transform="translate(.5 .6) rotate(-83) scale(.92 1)" y="2.35">65</text></g>
<g transform="translate(657 200)"><path d="M-5-2.5h1M-3-3.5h1M1-3.5h1M-5 3.5h1M-3 4.5h2M3 2.5h1"/><path d="M-1-3.5h1M3-2.5h1M4-.5h1M1 4.5h1"/><text transform="translate(.5 .6) rotate(-83) scale(.92 1)" y="2.35">62</text></g>
<g transform="translate(664 210)"><path d="M-5-2.5h1M-3-3.5h1M1-3.5h1M-5 3.5h1M-3 4.5h2M3 2.5h1"/><path d="M-1-3.5h1M3-2.5h1M4-.5h1M1 4.5h1"/><text transform="translate(.5 .6) rotate(-83) scale(.92 1)" y="2.35">63</text></g>
<g transform="translate(671 221)"><path d="M-5-2.5h1M-3-3.5h1M1-3.5h1M-5 3.5h1M-3 4.5h2M3 2.5h1"/><path d="M-1-3.5h1M3-2.5h1M4-.5h1M1 4.5h1"/><text transform="translate(.5 .6) rotate(-83) scale(.92 1)" y="2.35">64</text></g>
<g transform="translate(677 232)"><path d="M-5-2.5h1M-3-3.5h1M1-3.5h1M-5 3.5h1M-3 4.5h2M3 2.5h1"/><path d="M-1-3.5h1M3-2.5h1M4-.5h1M1 4.5h1"/><text transform="translate(.5 .6) rotate(-83) scale(.92 1)" y="2.35">65</text></g>
<g transform="translate(682 242)"><path d="M-5-2.5h1M-3-3.5h1M1-3.5h1M-5 3.5h1M-3 4.5h2M3 2.5h1"/><path d="M-1-3.5h1M3-2.5h1M4-.5h1M1 4.5h1"/><text transform="translate(.5 .6) rotate(-83) scale(.92 1)" y="2.35">66</text></g>
<g transform="translate(687 254)"><path d="M-5-2.5h1M-3-3.5h1M1-3.5h1M-5 3.5h1M-3 4.5h2M3 2.5h1"/><path d="M-1-3.5h1M3-2.5h1M4-.5h1M1 4.5h1"/><text transform="translate(.5 .6) rotate(-83) scale(.92 1)" y="2.35">67</text></g>
<g transform="translate(692 265)"><path d="M-5-2.5h1M-3-3.5h1M1-3.5h1M-5 3.5h1M-3 4.5h2M3 2.5h1"/><path d="M-1-3.5h1M3-2.5h1M4-.5h1M1 4.5h1"/><text transform="translate(.5 .6) rotate(-83) scale(.92 1)" y="2.35">68</text></g>
<g transform="translate(696 277)"><path d="M-5-2.5h1M-3-3.5h1M1-3.5h1M-5 3.5h1M-3 4.5h2M3 2.5h1"/><path d="M-1-3.5h1M3-2.5h1M4-.5h1M1 4.5h1"/><text transform="translate(.5 .6) rotate(-83) scale(.92 1)" y="2.35">69</text></g>
<g transform="translate(700 288)"><path d="M-5-2.5h1M-3-3.5h1M1-3.5h1M-5 3.5h1M-3 4.5h2M3 2.5h1"/><path d="M-1-3.5h1M3-2.5h1M4-.5h1M1 4.5h1"/><text transform="translate(.5 .6) rotate(-83) scale(.92 1)" y="2.35">70</text></g>
<g transform="translate(773 327)"><path d="M-5-2.5h1M-3-3.5h1M1-3.5h1M-5 3.5h1M-3 4.5h2M3 2.5h1"/><path d="M-1-3.5h1M3-2.5h1M4-.5h1M1 4.5h1"/><text transform="translate(.5 .6) rotate(-83) scale(.92 1)" y="2.35">71</text></g>
<g transform="translate(774 340)"><path d="M-5-2.5h1M-3-3.5h1M1-3.5h1M-5 3.5h1M-3 4.5h2M3 2.5h1"/><path d="M-1-3.5h1M3-2.5h1M4-.5h1M1 4.5h1"/><text transform="translate(.5 .6) rotate(-83) scale(.92 1)" y="2.35">72</text></g>
<g transform="translate(775 354)"><path d="M-5-2.5h1M-3-3.5h1M1-3.5h1M-5 3.5h1M-3 4.5h2M3 2.5h1"/><path d="M-1-3.5h1M3-2.5h1M4-.5h1M1 4.5h1"/><text transform="translate(.5 .6) rotate(-83) scale(.92 1)" y="2.35">73</text></g>
<g transform="translate(775 368)"><path d="M-5-2.5h1M-3-3.5h1M1-3.5h1M-5 3.5h1M-3 4.5h2M3 2.5h1"/><path d="M-1-3.5h1M3-2.5h1M4-.5h1M1 4.5h1"/><text transform="translate(.5 .6) rotate(-83) scale(.92 1)" y="2.35">74</text></g>
<g transform="translate(775 382)"><path d="M-5-2.5h1M-3-3.5h1M1-3.5h1M-5 3.5h1M-3 4.5h2M3 2.5h1"/><path d="M-1-3.5h1M3-2.5h1M4-.5h1M1 4.5h1"/><text transform="translate(.5 .6) rotate(-83) scale(.92 1)" y="2.35">75</text></g>
<g transform="translate(774 396)"><path d="M-5-2.5h1M-3-3.5h1M1-3.5h1M-5 3.5h1M-3 4.5h2M3 2.5h1"/><path d="M-1-3.5h1M3-2.5h1M4-.5h1M1 4.5h1"/><text transform="translate(.5 .6) rotate(-83) scale(.92 1)" y="2.35">76</text></g>
<g transform="translate(773 410)"><path d="M-5-2.5h1M-3-3.5h1M1-3.5h1M-5 3.5h1M-3 4.5h2M3 2.5h1"/><path d="M-1-3.5h1M3-2.5h1M4-.5h1M1 4.5h1"/><text transform="translate(.5 .6) rotate(-83) scale(.92 1)" y="2.35">77</text></g>
<g transform="translate(771 424)"><path d="M-5-2.5h1M-3-3.5h1M1-3.5h1M-5 3.5h1M-3 4.5h2M3 2.5h1"/><path d="M-1-3.5h1M3-2.5h1M4-.5h1M1 4.5h1"/><text transform="translate(.5 .6) rotate(-83) scale(.92 1)" y="2.35">78</text></g>
<g transform="translate(768 438)"><path d="M-5-2.5h1M-3-3.5h1M1-3.5h1M-5 3.5h1M-3 4.5h2M3 2.5h1"/><path d="M-1-3.5h1M3-2.5h1M4-.5h1M1 4.5h1"/><text transform="translate(.5 .6) rotate(-83) scale(.92 1)" y="2.35">79</text></g>
<g transform="translate(765 451)"><path d="M-5-2.5h1M-3-3.5h1M1-3.5h1M-5 3.5h1M-3 4.5h2M3 2.5h1"/><path d="M-1-3.5h1M3-2.5h1M4-.5h1M1 4.5h1"/><text transform="translate(.5 .6) rotate(-83) scale(.92 1)" y="2.35">80</text></g>
<g transform="translate(749 319)"><path d="M-5-2.5h1M-3-3.5h1M1-3.5h1M-5 3.5h1M-3 4.5h2M3 2.5h1"/><path d="M-1-3.5h1M3-2.5h1M4-.5h1M1 4.5h1"/><text transform="translate(.5 .6) rotate(-83) scale(.92 1)" y="2.35">68</text></g>
<g transform="translate(751 332)"><path d="M-5-2.5h1M-3-3.5h1M1-3.5h1M-5 3.5h1M-3 4.5h2M3 2.5h1"/><path d="M-1-3.5h1M3-2.5h1M4-.5h1M1 4.5h1"/><text transform="translate(.5 .6) rotate(-83) scale(.92 1)" y="2.35">69</text></g>
<g transform="translate(752 346)"><path d="M-5-2.5h1M-3-3.5h1M1-3.5h1M-5 3.5h1M-3 4.5h2M3 2.5h1"/><path d="M-1-3.5h1M3-2.5h1M4-.5h1M1 4.5h1"/><text transform="translate(.5 .6) rotate(-83) scale(.92 1)" y="2.35">70</text></g>
<g transform="translate(753 359)"><path d="M-5-2.5h1M-3-3.5h1M1-3.5h1M-5 3.5h1M-3 4.5h2M3 2.5h1"/><path d="M-1-3.5h1M3-2.5h1M4-.5h1M1 4.5h1"/><text transform="translate(.5 .6) rotate(-83) scale(.92 1)" y="2.35">71</text></g>
<g transform="translate(753 373)"><path d="M-5-2.5h1M-3-3.5h1M1-3.5h1M-5 3.5h1M-3 4.5h2M3 2.5h1"/><path d="M-1-3.5h1M3-2.5h1M4-.5h1M1 4.5h1"/><text transform="translate(.5 .6) rotate(-83) scale(.92 1)" y="2.35">72</text></g>
<g transform="translate(752 387)"><path d="M-5-2.5h1M-3-3.5h1M1-3.5h1M-5 3.5h1M-3 4.5h2M3 2.5h1"/><path d="M-1-3.5h1M3-2.5h1M4-.5h1M1 4.5h1"/><text transform="translate(.5 .6) rotate(-83) scale(.92 1)" y="2.35">73</text></g>
<g transform="translate(751 400)"><path d="M-5-2.5h1M-3-3.5h1M1-3.5h1M-5 3.5h1M-3 4.5h2M3 2.5h1"/><path d="M-1-3.5h1M3-2.5h1M4-.5h1M1 4.5h1"/><text transform="translate(.5 .6) rotate(-83) scale(.92 1)" y="2.35">74</text></g>
<g transform="translate(750 414)"><path d="M-5-2.5h1M-3-3.5h1M1-3.5h1M-5 3.5h1M-3 4.5h2M3 2.5h1"/><path d="M-1-3.5h1M3-2.5h1M4-.5h1M1 4.5h1"/><text transform="translate(.5 .6) rotate(-83) scale(.92 1)" y="2.35">75</text></g>
<g transform="translate(748 427)"><path d="M-5-2.5h1M-3-3.5h1M1-3.5h1M-5 3.5h1M-3 4.5h2M3 2.5h1"/><path d="M-1-3.5h1M3-2.5h1M4-.5h1M1 4.5h1"/><text transform="translate(.5 .6) rotate(-83) scale(.92 1)" y="2.35">76</text></g>
<g transform="translate(745 440)"><path d="M-5-2.5h1M-3-3.5h1M1-3.5h1M-5 3.5h1M-3 4.5h2M3 2.5h1"/><path d="M-1-3.5h1M3-2.5h1M4-.5h1M1 4.5h1"/><text transform="translate(.5 .6) rotate(-83) scale(.92 1)" y="2.35">77</text></g>
<g transform="translate(742 454)"><path d="M-5-2.5h1M-3-3.5h1M1-3.5h1M-5 3.5h1M-3 4.5h2M3 2.5h1"/><path d="M-1-3.5h1M3-2.5h1M4-.5h1M1 4.5h1"/><text transform="translate(.5 .6) rotate(-83) scale(.92 1)" y="2.35">78</text></g>
<g transform="translate(729 325)"><path d="M-5-2.5h1M-3-3.5h1M1-3.5h1M-5 3.5h1M-3 4.5h2M3 2.5h1"/><path d="M-1-3.5h1M3-2.5h1M4-.5h1M1 4.5h1"/><text transform="translate(.5 .6) rotate(-83) scale(.92 1)" y="2.35">66</text></g>
<g transform="translate(731 338)"><path d="M-5-2.5h1M-3-3.5h1M1-3.5h1M-5 3.5h1M-3 4.5h2M3 2.5h1"/><path d="M-1-3.5h1M3-2.5h1M4-.5h1M1 4.5h1"/><text transform="translate(.5 .6) rotate(-83) scale(.92 1)" y="2.35">67</text></g>
<g transform="translate(732 351)"><path d="M-5-2.5h1M-3-3.5h1M1-3.5h1M-5 3.5h1M-3 4.5h2M3 2.5h1"/><path d="M-1-3.5h1M3-2.5h1M4-.5h1M1 4.5h1"/><text transform="translate(.5 .6) rotate(-83) scale(.92 1)" y="2.35">68</text></g>
<g transform="translate(732 365)"><path d="M-5-2.5h1M-3-3.5h1M1-3.5h1M-5 3.5h1M-3 4.5h2M3 2.5h1"/><path d="M-1-3.5h1M3-2.5h1M4-.5h1M1 4.5h1"/><text transform="translate(.5 .6) rotate(-83) scale(.92 1)" y="2.35">69</text></g>
<g transform="translate(732 378)"><path d="M-5-2.5h1M-3-3.5h1M1-3.5h1M-5 3.5h1M-3 4.5h2M3 2.5h1"/><path d="M-1-3.5h1M3-2.5h1M4-.5h1M1 4.5h1"/><text transform="translate(.5 .6) rotate(-83) scale(.92 1)" y="2.35">70</text></g>
<g transform="translate(731 391)"><path d="M-5-2.5h1M-3-3.5h1M1-3.5h1M-5 3.5h1M-3 4.5h2M3 2.5h1"/><path d="M-1-3.5h1M3-2.5h1M4-.5h1M1 4.5h1"/><text transform="translate(.5 .6) rotate(-83) scale(.92 1)" y="2.35">71</text></g>
<g transform="translate(730 404)"><path d="M-5-2.5h1M-3-3.5h1M1-3.5h1M-5 3.5h1M-3 4.5h2M3 2.5h1"/><path d="M-1-3.5h1M3-2.5h1M4-.5h1M1 4.5h1"/><text transform="translate(.5 .6) rotate(-83) scale(.92 1)" y="2.35">72</text></g>
<g transform="translate(728 417)"><path d="M-5-2.5h1M-3-3.5h1M1-3.5h1M-5 3.5h1M-3 4.5h2M3 2.5h1"/><path d="M-1-3.5h1M3-2.5h1M4-.5h1M1 4.5h1"/><text transform="translate(.5 .6) rotate(-83) scale(.92 1)" y="2.35">73</text></g>
<g transform="translate(726 430)"><path d="M-5-2.5h1M-3-3.5h1M1-3.5h1M-5 3.5h1M-3 4.5h2M3 2.5h1"/><path d="M-1-3.5h1M3-2.5h1M4-.5h1M1 4.5h1"/><text transform="translate(.5 .6) rotate(-83) scale(.92 1)" y="2.35">74</text></g>
<g transform="translate(723 443)"><path d="M-5-2.5h1M-3-3.5h1M1-3.5h1M-5 3.5h1M-3 4.5h2M3 2.5h1"/><path d="M-1-3.5h1M3-2.5h1M4-.5h1M1 4.5h1"/><text transform="translate(.5 .6) rotate(-83) scale(.92 1)" y="2.35">75</text></g>
<g transform="translate(720 456)"><path d="M-5-2.5h1M-3-3.5h1M1-3.5h1M-5 3.5h1M-3 4.5h2M3 2.5h1"/><path d="M-1-3.5h1M3-2.5h1M4-.5h1M1 4.5h1"/><text transform="translate(.5 .6) rotate(-83) scale(.92 1)" y="2.35">76</text></g>
<g transform="translate(708 324)"><path d="M-5-2.5h1M-3-3.5h1M1-3.5h1M-5 3.5h1M-3 4.5h2M3 2.5h1"/><path d="M-1-3.5h1M3-2.5h1M4-.5h1M1 4.5h1"/><text transform="translate(.5 .6) rotate(-83) scale(.92 1)" y="2.35">71</text></g>
<g transform="translate(709 337)"><path d="M-5-2.5h1M-3-3.5h1M1-3.5h1M-5 3.5h1M-3 4.5h2M3 2.5h1"/><path d="M-1-3.5h1M3-2.5h1M4-.5h1M1 4.5h1"/><text transform="translate(.5 .6) rotate(-83) scale(.92 1)" y="2.35">72</text></g>
<g transform="translate(710 349)"><path d="M-5-2.5h1M-3-3.5h1M1-3.5h1M-5 3.5h1M-3 4.5h2M3 2.5h1"/><path d="M-1-3.5h1M3-2.5h1M4-.5h1M1 4.5h1"/><text transform="translate(.5 .6) rotate(-83) scale(.92 1)" y="2.35">73</text></g>
<g transform="translate(711 361)"><path d="M-5-2.5h1M-3-3.5h1M1-3.5h1M-5 3.5h1M-3 4.5h2M3 2.5h1"/><path d="M-1-3.5h1M3-2.5h1M4-.5h1M1 4.5h1"/><text transform="translate(.5 .6) rotate(-83) scale(.92 1)" y="2.35">74</text></g>
<g transform="translate(711 373)"><path d="M-5-2.5h1M-3-3.5h1M1-3.5h1M-5 3.5h1M-3 4.5h2M3 2.5h1"/><path d="M-1-3.5h1M3-2.5h1M4-.5h1M1 4.5h1"/><text transform="translate(.5 .6) rotate(-83) scale(.92 1)" y="2.35">75</text></g>
<g transform="translate(710 385)"><path d="M-5-2.5h1M-3-3.5h1M1-3.5h1M-5 3.5h1M-3 4.5h2M3 2.5h1"/><path d="M-1-3.5h1M3-2.5h1M4-.5h1M1 4.5h1"/><text transform="translate(.5 .6) rotate(-83) scale(.92 1)" y="2.35">76</text></g>
<g transform="translate(709 397)"><path d="M-5-2.5h1M-3-3.5h1M1-3.5h1M-5 3.5h1M-3 4.5h2M3 2.5h1"/><path d="M-1-3.5h1M3-2.5h1M4-.5h1M1 4.5h1"/><text transform="translate(.5 .6) rotate(-83) scale(.92 1)" y="2.35">77</text></g>
<g transform="translate(708 409)"><path d="M-5-2.5h1M-3-3.5h1M1-3.5h1M-5 3.5h1M-3 4.5h2M3 2.5h1"/><path d="M-1-3.5h1M3-2.5h1M4-.5h1M1 4.5h1"/><text transform="translate(.5 .6) rotate(-83) scale(.92 1)" y="2.35">78</text></g>
<g transform="translate(706 421)"><path d="M-5-2.5h1M-3-3.5h1M1-3.5h1M-5 3.5h1M-3 4.5h2M3 2.5h1"/><path d="M-1-3.5h1M3-2.5h1M4-.5h1M1 4.5h1"/><text transform="translate(.5 .6) rotate(-83) scale(.92 1)" y="2.35">79</text></g>
<g transform="translate(703 433)"><path d="M-5-2.5h1M-3-3.5h1M1-3.5h1M-5 3.5h1M-3 4.5h2M3 2.5h1"/><path d="M-1-3.5h1M3-2.5h1M4-.5h1M1 4.5h1"/><text transform="translate(.5 .6) rotate(-83) scale(.92 1)" y="2.35">80</text></g>
<g transform="translate(700 445)"><path d="M-5-2.5h1M-3-3.5h1M1-3.5h1M-5 3.5h1M-3 4.5h2M3 2.5h1"/><path d="M-1-3.5h1M3-2.5h1M4-.5h1M1 4.5h1"/><text transform="translate(.5 .6) rotate(-83) scale(.92 1)" y="2.35">81</text></g>
<g transform="translate(689 377)"><path d="M-5-2.5h1M-3-3.5h1M1-3.5h1M-5 3.5h1M-3 4.5h2M3 2.5h1"/><path d="M-1-3.5h1M3-2.5h1M4-.5h1M1 4.5h1"/><text transform="translate(.5 .6) rotate(-83) scale(.92 1)" y="2.35">82</text></g>
<g transform="translate(688 389)"><path d="M-5-2.5h1M-3-3.5h1M1-3.5h1M-5 3.5h1M-3 4.5h2M3 2.5h1"/><path d="M-1-3.5h1M3-2.5h1M4-.5h1M1 4.5h1"/><text transform="translate(.5 .6) rotate(-83) scale(.92 1)" y="2.35">83</text></g>
<g transform="translate(687 400)"><path d="M-5-2.5h1M-3-3.5h1M1-3.5h1M-5 3.5h1M-3 4.5h2M3 2.5h1"/><path d="M-1-3.5h1M3-2.5h1M4-.5h1M1 4.5h1"/><text transform="translate(.5 .6) rotate(-83) scale(.92 1)" y="2.35">84</text></g>
<g transform="translate(685 412)"><path d="M-5-2.5h1M-3-3.5h1M1-3.5h1M-5 3.5h1M-3 4.5h2M3 2.5h1"/><path d="M-1-3.5h1M3-2.5h1M4-.5h1M1 4.5h1"/><text transform="translate(.5 .6) rotate(-83) scale(.92 1)" y="2.35">85</text></g>
<g transform="translate(683 423)"><path d="M-5-2.5h1M-3-3.5h1M1-3.5h1M-5 3.5h1M-3 4.5h2M3 2.5h1"/><path d="M-1-3.5h1M3-2.5h1M4-.5h1M1 4.5h1"/><text transform="translate(.5 .6) rotate(-83) scale(.92 1)" y="2.35">86</text></g>
<g transform="translate(175 498)"><path d="M-5-2.5h1M-3-3.5h1M1-3.5h1M-5 3.5h1M-3 4.5h2M3 2.5h1"/><path d="M-1-3.5h1M3-2.5h1M4-.5h1M1 4.5h1"/><text transform="translate(.5 .6) rotate(-83) scale(.92 1)" y="2.35">1</text></g>
<g transform="translate(669 498)"><path d="M-5-2.5h1M-3-3.5h1M1-3.5h1M-5 3.5h1M-3 4.5h2M3 2.5h1"/><path d="M-1-3.5h1M3-2.5h1M4-.5h1M1 4.5h1"/><text transform="translate(.5 .6) rotate(-83) scale(.92 1)" y="2.35">36</text></g>
<g transform="translate(188 491)"><path d="M-5-2.5h1M-3-3.5h1M1-3.5h1M-5 3.5h1M-3 4.5h2M3 2.5h1"/><path d="M-1-3.5h1M3-2.5h1M4-.5h1M1 4.5h1"/><text transform="translate(.5 .6) rotate(-83) scale(.92 1)" y="2.35">2</text></g>
<g transform="translate(657 491)"><path d="M-5-2.5h1M-3-3.5h1M1-3.5h1M-5 3.5h1M-3 4.5h2M3 2.5h1"/><path d="M-1-3.5h1M3-2.5h1M4-.5h1M1 4.5h1"/><text transform="translate(.5 .6) rotate(-83) scale(.92 1)" y="2.35">35</text></g>
<g transform="translate(200 485)"><path d="M-5-2.5h1M-3-3.5h1M1-3.5h1M-5 3.5h1M-3 4.5h2M3 2.5h1"/><path d="M-1-3.5h1M3-2.5h1M4-.5h1M1 4.5h1"/><text transform="translate(.5 .6) rotate(-83) scale(.92 1)" y="2.35">3</text></g>
<g transform="translate(645 485)"><path d="M-5-2.5h1M-3-3.5h1M1-3.5h1M-5 3.5h1M-3 4.5h2M3 2.5h1"/><path d="M-1-3.5h1M3-2.5h1M4-.5h1M1 4.5h1"/><text transform="translate(.5 .6) rotate(-83) scale(.92 1)" y="2.35">34</text></g>
<g transform="translate(213 479)"><path d="M-5-2.5h1M-3-3.5h1M1-3.5h1M-5 3.5h1M-3 4.5h2M3 2.5h1"/><path d="M-1-3.5h1M3-2.5h1M4-.5h1M1 4.5h1"/><text transform="translate(.5 .6) rotate(-83) scale(.92 1)" y="2.35">4</text></g>
<g transform="translate(632 479)"><path d="M-5-2.5h1M-3-3.5h1M1-3.5h1M-5 3.5h1M-3 4.5h2M3 2.5h1"/><path d="M-1-3.5h1M3-2.5h1M4-.5h1M1 4.5h1"/><text transform="translate(.5 .6) rotate(-83) scale(.92 1)" y="2.35">33</text></g>
<g transform="translate(225 473)"><path d="M-5-2.5h1M-3-3.5h1M1-3.5h1M-5 3.5h1M-3 4.5h2M3 2.5h1"/><path d="M-1-3.5h1M3-2.5h1M4-.5h1M1 4.5h1"/><text transform="translate(.5 .6) rotate(-83) scale(.92 1)" y="2.35">5</text></g>
<g transform="translate(619 473)"><path d="M-5-2.5h1M-3-3.5h1M1-3.5h1M-5 3.5h1M-3 4.5h2M3 2.5h1"/><path d="M-1-3.5h1M3-2.5h1M4-.5h1M1 4.5h1"/><text transform="translate(.5 .6) rotate(-83) scale(.92 1)" y="2.35">32</text></g>
<g transform="translate(238 468)"><path d="M-5-2.5h1M-3-3.5h1M1-3.5h1M-5 3.5h1M-3 4.5h2M3 2.5h1"/><path d="M-1-3.5h1M3-2.5h1M4-.5h1M1 4.5h1"/><text transform="translate(.5 .6) rotate(-83) scale(.92 1)" y="2.35">6</text></g>
<g transform="translate(606 468)"><path d="M-5-2.5h1M-3-3.5h1M1-3.5h1M-5 3.5h1M-3 4.5h2M3 2.5h1"/><path d="M-1-3.5h1M3-2.5h1M4-.5h1M1 4.5h1"/><text transform="translate(.5 .6) rotate(-83) scale(.92 1)" y="2.35">31</text></g>
<g transform="translate(251 463)"><path d="M-5-2.5h1M-3-3.5h1M1-3.5h1M-5 3.5h1M-3 4.5h2M3 2.5h1"/><path d="M-1-3.5h1M3-2.5h1M4-.5h1M1 4.5h1"/><text transform="translate(.5 .6) rotate(-83) scale(.92 1)" y="2.35">7</text></g>
<g transform="translate(593 463)"><path d="M-5-2.5h1M-3-3.5h1M1-3.5h1M-5 3.5h1M-3 4.5h2M3 2.5h1"/><path d="M-1-3.5h1M3-2.5h1M4-.5h1M1 4.5h1"/><text transform="translate(.5 .6) rotate(-83) scale(.92 1)" y="2.35">30</text></g>
<g transform="translate(264 459)"><path d="M-5-2.5h1M-3-3.5h1M1-3.5h1M-5 3.5h1M-3 4.5h2M3 2.5h1"/><path d="M-1-3.5h1M3-2.5h1M4-.5h1M1 4.5h1"/><text transform="translate(.5 .6) rotate(-83) scale(.92 1)" y="2.35">8</text></g>
<g transform="translate(580 459)"><path d="M-5-2.5h1M-3-3.5h1M1-3.5h1M-5 3.5h1M-3 4.5h2M3 2.5h1"/><path d="M-1-3.5h1M3-2.5h1M4-.5h1M1 4.5h1"/><text transform="translate(.5 .6) rotate(-83) scale(.92 1)" y="2.35">29</text></g>
<g transform="translate(278 454)"><path d="M-5-2.5h1M-3-3.5h1M1-3.5h1M-5 3.5h1M-3 4.5h2M3 2.5h1"/><path d="M-1-3.5h1M3-2.5h1M4-.5h1M1 4.5h1"/><text transform="translate(.5 .6) rotate(-83) scale(.92 1)" y="2.35">9</text></g>
<g transform="translate(567 454)"><path d="M-5-2.5h1M-3-3.5h1M1-3.5h1M-5 3.5h1M-3 4.5h2M3 2.5h1"/><path d="M-1-3.5h1M3-2.5h1M4-.5h1M1 4.5h1"/><text transform="translate(.5 .6) rotate(-83) scale(.92 1)" y="2.35">28</text></g>
<g transform="translate(291 451)"><path d="M-5-2.5h1M-3-3.5h1M1-3.5h1M-5 3.5h1M-3 4.5h2M3 2.5h1"/><path d="M-1-3.5h1M3-2.5h1M4-.5h1M1 4.5h1"/><text transform="translate(.5 .6) rotate(-83) scale(.92 1)" y="2.35">10</text></g>
<g transform="translate(554 451)"><path d="M-5-2.5h1M-3-3.5h1M1-3.5h1M-5 3.5h1M-3 4.5h2M3 2.5h1"/><path d="M-1-3.5h1M3-2.5h1M4-.5h1M1 4.5h1"/><text transform="translate(.5 .6) rotate(-83) scale(.92 1)" y="2.35">27</text></g>
<g transform="translate(304 447)"><path d="M-5-2.5h1M-3-3.5h1M1-3.5h1M-5 3.5h1M-3 4.5h2M3 2.5h1"/><path d="M-1-3.5h1M3-2.5h1M4-.5h1M1 4.5h1"/><text transform="translate(.5 .6) rotate(-83) scale(.92 1)" y="2.35">11</text></g>
<g transform="translate(540 447)"><path d="M-5-2.5h1M-3-3.5h1M1-3.5h1M-5 3.5h1M-3 4.5h2M3 2.5h1"/><path d="M-1-3.5h1M3-2.5h1M4-.5h1M1 4.5h1"/><text transform="translate(.5 .6) rotate(-83) scale(.92 1)" y="2.35">26</text></g>
<g transform="translate(318 444)"><path d="M-5-2.5h1M-3-3.5h1M1-3.5h1M-5 3.5h1M-3 4.5h2M3 2.5h1"/><path d="M-1-3.5h1M3-2.5h1M4-.5h1M1 4.5h1"/><text transform="translate(.5 .6) rotate(-83) scale(.92 1)" y="2.35">12</text></g>
<g transform="translate(527 444)"><path d="M-5-2.5h1M-3-3.5h1M1-3.5h1M-5 3.5h1M-3 4.5h2M3 2.5h1"/><path d="M-1-3.5h1M3-2.5h1M4-.5h1M1 4.5h1"/><text transform="translate(.5 .6) rotate(-83) scale(.92 1)" y="2.35">25</text></g>
<g transform="translate(332 441)"><path d="M-5-2.5h1M-3-3.5h1M1-3.5h1M-5 3.5h1M-3 4.5h2M3 2.5h1"/><path d="M-1-3.5h1M3-2.5h1M4-.5h1M1 4.5h1"/><text transform="translate(.5 .6) rotate(-83) scale(.92 1)" y="2.35">13</text></g>
<g transform="translate(513 441)"><path d="M-5-2.5h1M-3-3.5h1M1-3.5h1M-5 3.5h1M-3 4.5h2M3 2.5h1"/><path d="M-1-3.5h1M3-2.5h1M4-.5h1M1 4.5h1"/><text transform="translate(.5 .6) rotate(-83) scale(.92 1)" y="2.35">24</text></g>
<g transform="translate(345 439)"><path d="M-5-2.5h1M-3-3.5h1M1-3.5h1M-5 3.5h1M-3 4.5h2M3 2.5h1"/><path d="M-1-3.5h1M3-2.5h1M4-.5h1M1 4.5h1"/><text transform="translate(.5 .6) rotate(-83) scale(.92 1)" y="2.35">14</text></g>
<g transform="translate(499 439)"><path d="M-5-2.5h1M-3-3.5h1M1-3.5h1M-5 3.5h1M-3 4.5h2M3 2.5h1"/><path d="M-1-3.5h1M3-2.5h1M4-.5h1M1 4.5h1"/><text transform="translate(.5 .6) rotate(-83) scale(.92 1)" y="2.35">23</text></g>
<g transform="translate(359 437)"><path d="M-5-2.5h1M-3-3.5h1M1-3.5h1M-5 3.5h1M-3 4.5h2M3 2.5h1"/><path d="M-1-3.5h1M3-2.5h1M4-.5h1M1 4.5h1"/><text transform="translate(.5 .6) rotate(-83) scale(.92 1)" y="2.35">15</text></g>
<g transform="translate(485 437)"><path d="M-5-2.5h1M-3-3.5h1M1-3.5h1M-5 3.5h1M-3 4.5h2M3 2.5h1"/><path d="M-1-3.5h1M3-2.5h1M4-.5h1M1 4.5h1"/><text transform="translate(.5 .6) rotate(-83) scale(.92 1)" y="2.35">22</text></g>
<g transform="translate(373 435)"><path d="M-5-2.5h1M-3-3.5h1M1-3.5h1M-5 3.5h1M-3 4.5h2M3 2.5h1"/><path d="M-1-3.5h1M3-2.5h1M4-.5h1M1 4.5h1"/><text transform="translate(.5 .6) rotate(-83) scale(.92 1)" y="2.35">16</text></g>
<g transform="translate(471 435)"><path d="M-5-2.5h1M-3-3.5h1M1-3.5h1M-5 3.5h1M-3 4.5h2M3 2.5h1"/><path d="M-1-3.5h1M3-2.5h1M4-.5h1M1 4.5h1"/><text transform="translate(.5 .6) rotate(-83) scale(.92 1)" y="2.35">21</text></g>
<g transform="translate(387 434)"><path d="M-5-2.5h1M-3-3.5h1M1-3.5h1M-5 3.5h1M-3 4.5h2M3 2.5h1"/><path d="M-1-3.5h1M3-2.5h1M4-.5h1M1 4.5h1"/><text transform="translate(.5 .6) rotate(-83) scale(.92 1)" y="2.35">17</text></g>
<g transform="translate(458 434)"><path d="M-5-2.5h1M-3-3.5h1M1-3.5h1M-5 3.5h1M-3 4.5h2M3 2.5h1"/><path d="M-1-3.5h1M3-2.5h1M4-.5h1M1 4.5h1"/><text transform="translate(.5 .6) rotate(-83) scale(.92 1)" y="2.35">20</text></g>
<g transform="translate(401 433)"><path d="M-5-2.5h1M-3-3.5h1M1-3.5h1M-5 3.5h1M-3 4.5h2M3 2.5h1"/><path d="M-1-3.5h1M3-2.5h1M4-.5h1M1 4.5h1"/><text transform="translate(.5 .6) rotate(-83) scale(.92 1)" y="2.35">18</text></g>
<g transform="translate(444 433)"><path d="M-5-2.5h1M-3-3.5h1M1-3.5h1M-5 3.5h1M-3 4.5h2M3 2.5h1"/><path d="M-1-3.5h1M3-2.5h1M4-.5h1M1 4.5h1"/><text transform="translate(.5 .6) rotate(-83) scale(.92 1)" y="2.35">19</text></g>
<g transform="translate(186 516)"><path d="M-5-2.5h1M-3-3.5h1M1-3.5h1M-5 3.5h1M-3 4.5h2M3 2.5h1"/><path d="M-1-3.5h1M3-2.5h1M4-.5h1M1 4.5h1"/><text transform="translate(.5 .6) rotate(-83) scale(.92 1)" y="2.35">1</text></g>
<g transform="translate(659 516)"><path d="M-5-2.5h1M-3-3.5h1M1-3.5h1M-5 3.5h1M-3 4.5h2M3 2.5h1"/><path d="M-1-3.5h1M3-2.5h1M4-.5h1M1 4.5h1"/><text transform="translate(.5 .6) rotate(-83) scale(.92 1)" y="2.35">34</text></g>
<g transform="translate(198 509)"><path d="M-5-2.5h1M-3-3.5h1M1-3.5h1M-5 3.5h1M-3 4.5h2M3 2.5h1"/><path d="M-1-3.5h1M3-2.5h1M4-.5h1M1 4.5h1"/><text transform="translate(.5 .6) rotate(-83) scale(.92 1)" y="2.35">2</text></g>
<g transform="translate(646 509)"><path d="M-5-2.5h1M-3-3.5h1M1-3.5h1M-5 3.5h1M-3 4.5h2M3 2.5h1"/><path d="M-1-3.5h1M3-2.5h1M4-.5h1M1 4.5h1"/><text transform="translate(.5 .6) rotate(-83) scale(.92 1)" y="2.35">33</text></g>
<g transform="translate(211 503)"><path d="M-5-2.5h1M-3-3.5h1M1-3.5h1M-5 3.5h1M-3 4.5h2M3 2.5h1"/><path d="M-1-3.5h1M3-2.5h1M4-.5h1M1 4.5h1"/><text transform="translate(.5 .6) rotate(-83) scale(.92 1)" y="2.35">3</text></g>
<g transform="translate(634 503)"><path d="M-5-2.5h1M-3-3.5h1M1-3.5h1M-5 3.5h1M-3 4.5h2M3 2.5h1"/><path d="M-1-3.5h1M3-2.5h1M4-.5h1M1 4.5h1"/><text transform="translate(.5 .6) rotate(-83) scale(.92 1)" y="2.35">32</text></g>
<g transform="translate(224 497)"><path d="M-5-2.5h1M-3-3.5h1M1-3.5h1M-5 3.5h1M-3 4.5h2M3 2.5h1"/><path d="M-1-3.5h1M3-2.5h1M4-.5h1M1 4.5h1"/><text transform="translate(.5 .6) rotate(-83) scale(.92 1)" y="2.35">4</text></g>
<g transform="translate(621 497)"><path d="M-5-2.5h1M-3-3.5h1M1-3.5h1M-5 3.5h1M-3 4.5h2M3 2.5h1"/><path d="M-1-3.5h1M3-2.5h1M4-.5h1M1 4.5h1"/><text transform="translate(.5 .6) rotate(-83) scale(.92 1)" y="2.35">31</text></g>
<g transform="translate(236 491)"><path d="M-5-2.5h1M-3-3.5h1M1-3.5h1M-5 3.5h1M-3 4.5h2M3 2.5h1"/><path d="M-1-3.5h1M3-2.5h1M4-.5h1M1 4.5h1"/><text transform="translate(.5 .6) rotate(-83) scale(.92 1)" y="2.35">5</text></g>
<g transform="translate(608 491)"><path d="M-5-2.5h1M-3-3.5h1M1-3.5h1M-5 3.5h1M-3 4.5h2M3 2.5h1"/><path d="M-1-3.5h1M3-2.5h1M4-.5h1M1 4.5h1"/><text transform="translate(.5 .6) rotate(-83) scale(.92 1)" y="2.35">30</text></g>
<g transform="translate(250 486)"><path d="M-5-2.5h1M-3-3.5h1M1-3.5h1M-5 3.5h1M-3 4.5h2M3 2.5h1"/><path d="M-1-3.5h1M3-2.5h1M4-.5h1M1 4.5h1"/><text transform="translate(.5 .6) rotate(-83) scale(.92 1)" y="2.35">6</text></g>
<g transform="translate(595 486)"><path d="M-5-2.5h1M-3-3.5h1M1-3.5h1M-5 3.5h1M-3 4.5h2M3 2.5h1"/><path d="M-1-3.5h1M3-2.5h1M4-.5h1M1 4.5h1"/><text transform="translate(.5 .6) rotate(-83) scale(.92 1)" y="2.35">29</text></g>
<g transform="translate(263 481)"><path d="M-5-2.5h1M-3-3.5h1M1-3.5h1M-5 3.5h1M-3 4.5h2M3 2.5h1"/><path d="M-1-3.5h1M3-2.5h1M4-.5h1M1 4.5h1"/><text transform="translate(.5 .6) rotate(-83) scale(.92 1)" y="2.35">7</text></g>
<g transform="translate(582 481)"><path d="M-5-2.5h1M-3-3.5h1M1-3.5h1M-5 3.5h1M-3 4.5h2M3 2.5h1"/><path d="M-1-3.5h1M3-2.5h1M4-.5h1M1 4.5h1"/><text transform="translate(.5 .6) rotate(-83) scale(.92 1)" y="2.35">28</text></g>
<g transform="translate(276 476)"><path d="M-5-2.5h1M-3-3.5h1M1-3.5h1M-5 3.5h1M-3 4.5h2M3 2.5h1"/><path d="M-1-3.5h1M3-2.5h1M4-.5h1M1 4.5h1"/><text transform="translate(.5 .6) rotate(-83) scale(.92 1)" y="2.35">8</text></g>
<g transform="translate(568 476)"><path d="M-5-2.5h1M-3-3.5h1M1-3.5h1M-5 3.5h1M-3 4.5h2M3 2.5h1"/><path d="M-1-3.5h1M3-2.5h1M4-.5h1M1 4.5h1"/><text transform="translate(.5 .6) rotate(-83) scale(.92 1)" y="2.35">27</text></g>
<g transform="translate(290 472)"><path d="M-5-2.5h1M-3-3.5h1M1-3.5h1M-5 3.5h1M-3 4.5h2M3 2.5h1"/><path d="M-1-3.5h1M3-2.5h1M4-.5h1M1 4.5h1"/><text transform="translate(.5 .6) rotate(-83) scale(.92 1)" y="2.35">9</text></g>
<g transform="translate(555 472)"><path d="M-5-2.5h1M-3-3.5h1M1-3.5h1M-5 3.5h1M-3 4.5h2M3 2.5h1"/><path d="M-1-3.5h1M3-2.5h1M4-.5h1M1 4.5h1"/><text transform="translate(.5 .6) rotate(-83) scale(.92 1)" y="2.35">26</text></g>
<g transform="translate(303 469)"><path d="M-5-2.5h1M-3-3.5h1M1-3.5h1M-5 3.5h1M-3 4.5h2M3 2.5h1"/><path d="M-1-3.5h1M3-2.5h1M4-.5h1M1 4.5h1"/><text transform="translate(.5 .6) rotate(-83) scale(.92 1)" y="2.35">10</text></g>
<g transform="translate(541 469)"><path d="M-5-2.5h1M-3-3.5h1M1-3.5h1M-5 3.5h1M-3 4.5h2M3 2.5h1"/><path d="M-1-3.5h1M3-2.5h1M4-.5h1M1 4.5h1"/><text transform="translate(.5 .6) rotate(-83) scale(.92 1)" y="2.35">25</text></g>
<g transform="translate(317 465)"><path d="M-5-2.5h1M-3-3.5h1M1-3.5h1M-5 3.5h1M-3 4.5h2M3 2.5h1"/><path d="M-1-3.5h1M3-2.5h1M4-.5h1M1 4.5h1"/><text transform="translate(.5 .6) rotate(-83) scale(.92 1)" y="2.35">11</text></g>
<g transform="translate(528 465)"><path d="M-5-2.5h1M-3-3.5h1M1-3.5h1M-5 3.5h1M-3 4.5h2M3 2.5h1"/><path d="M-1-3.5h1M3-2.5h1M4-.5h1M1 4.5h1"/><text transform="translate(.5 .6) rotate(-83) scale(.92 1)" y="2.35">24</text></g>
<g transform="translate(331 462)"><path d="M-5-2.5h1M-3-3.5h1M1-3.5h1M-5 3.5h1M-3 4.5h2M3 2.5h1"/><path d="M-1-3.5h1M3-2.5h1M4-.5h1M1 4.5h1"/><text transform="translate(.5 .6) rotate(-83) scale(.92 1)" y="2.35">12</text></g>
<g transform="translate(514 462)"><path d="M-5-2.5h1M-3-3.5h1M1-3.5h1M-5 3.5h1M-3 4.5h2M3 2.5h1"/><path d="M-1-3.5h1M3-2.5h1M4-.5h1M1 4.5h1"/><text transform="translate(.5 .6) rotate(-83) scale(.92 1)" y="2.35">23</text></g>
<g transform="translate(345 460)"><path d="M-5-2.5h1M-3-3.5h1M1-3.5h1M-5 3.5h1M-3 4.5h2M3 2.5h1"/><path d="M-1-3.5h1M3-2.5h1M4-.5h1M1 4.5h1"/><text transform="translate(.5 .6) rotate(-83) scale(.92 1)" y="2.35">13</text></g>
<g transform="translate(500 460)"><path d="M-5-2.5h1M-3-3.5h1M1-3.5h1M-5 3.5h1M-3 4.5h2M3 2.5h1"/><path d="M-1-3.5h1M3-2.5h1M4-.5h1M1 4.5h1"/><text transform="translate(.5 .6) rotate(-83) scale(.92 1)" y="2.35">22</text></g>
<g transform="translate(359 458)"><path d="M-5-2.5h1M-3-3.5h1M1-3.5h1M-5 3.5h1M-3 4.5h2M3 2.5h1"/><path d="M-1-3.5h1M3-2.5h1M4-.5h1M1 4.5h1"/><text transform="translate(.5 .6) rotate(-83) scale(.92 1)" y="2.35">14</text></g>
<g transform="translate(486 458)"><path d="M-5-2.5h1M-3-3.5h1M1-3.5h1M-5 3.5h1M-3 4.5h2M3 2.5h1"/><path d="M-1-3.5h1M3-2.5h1M4-.5h1M1 4.5h1"/><text transform="translate(.5 .6) rotate(-83) scale(.92 1)" y="2.35">21</text></g>
<g transform="translate(373 456)"><path d="M-5-2.5h1M-3-3.5h1M1-3.5h1M-5 3.5h1M-3 4.5h2M3 2.5h1"/><path d="M-1-3.5h1M3-2.5h1M4-.5h1M1 4.5h1"/><text transform="translate(.5 .6) rotate(-83) scale(.92 1)" y="2.35">15</text></g>
<g transform="translate(472 456)"><path d="M-5-2.5h1M-3-3.5h1M1-3.5h1M-5 3.5h1M-3 4.5h2M3 2.5h1"/><path d="M-1-3.5h1M3-2.5h1M4-.5h1M1 4.5h1"/><text transform="translate(.5 .6) rotate(-83) scale(.92 1)" y="2.35">20</text></g>
<g transform="translate(387 455)"><path d="M-5-2.5h1M-3-3.5h1M1-3.5h1M-5 3.5h1M-3 4.5h2M3 2.5h1"/><path d="M-1-3.5h1M3-2.5h1M4-.5h1M1 4.5h1"/><text transform="translate(.5 .6) rotate(-83) scale(.92 1)" y="2.35">16</text></g>
<g transform="translate(458 455)"><path d="M-5-2.5h1M-3-3.5h1M1-3.5h1M-5 3.5h1M-3 4.5h2M3 2.5h1"/><path d="M-1-3.5h1M3-2.5h1M4-.5h1M1 4.5h1"/><text transform="translate(.5 .6) rotate(-83) scale(.92 1)" y="2.35">19</text></g>
<g transform="translate(401 454)"><path d="M-5-2.5h1M-3-3.5h1M1-3.5h1M-5 3.5h1M-3 4.5h2M3 2.5h1"/><path d="M-1-3.5h1M3-2.5h1M4-.5h1M1 4.5h1"/><text transform="translate(.5 .6) rotate(-83) scale(.92 1)" y="2.35">17</text></g>
<g transform="translate(444 454)"><path d="M-5-2.5h1M-3-3.5h1M1-3.5h1M-5 3.5h1M-3 4.5h2M3 2.5h1"/><path d="M-1-3.5h1M3-2.5h1M4-.5h1M1 4.5h1"/><text transform="translate(.5 .6) rotate(-83) scale(.92 1)" y="2.35">18</text></g>
<g transform="translate(196 534)"><path d="M-5-2.5h1M-3-3.5h1M1-3.5h1M-5 3.5h1M-3 4.5h2M3 2.5h1"/><path d="M-1-3.5h1M3-2.5h1M4-.5h1M1 4.5h1"/><text transform="translate(.5 .6) rotate(-83) scale(.92 1)" y="2.35">1</text></g>
<g transform="translate(648 534)"><path d="M-5-2.5h1M-3-3.5h1M1-3.5h1M-5 3.5h1M-3 4.5h2M3 2.5h1"/><path d="M-1-3.5h1M3-2.5h1M4-.5h1M1 4.5h1"/><text transform="translate(.5 .6) rotate(-83) scale(.92 1)" y="2.35">34</text></g>
<g transform="translate(208 527)"><path d="M-5-2.5h1M-3-3.5h1M1-3.5h1M-5 3.5h1M-3 4.5h2M3 2.5h1"/><path d="M-1-3.5h1M3-2.5h1M4-.5h1M1 4.5h1"/><text transform="translate(.5 .6) rotate(-83) scale(.92 1)" y="2.35">2</text></g>
<g transform="translate(637 527)"><path d="M-5-2.5h1M-3-3.5h1M1-3.5h1M-5 3.5h1M-3 4.5h2M3 2.5h1"/><path d="M-1-3.5h1M3-2.5h1M4-.5h1M1 4.5h1"/><text transform="translate(.5 .6) rotate(-83) scale(.92 1)" y="2.35">33</text></g>
<g transform="translate(220 521)"><path d="M-5-2.5h1M-3-3.5h1M1-3.5h1M-5 3.5h1M-3 4.5h2M3 2.5h1"/><path d="M-1-3.5h1M3-2.5h1M4-.5h1M1 4.5h1"/><text transform="translate(.5 .6) rotate(-83) scale(.92 1)" y="2.35">3</text></g>
<g transform="translate(624 521)"><path d="M-5-2.5h1M-3-3.5h1M1-3.5h1M-5 3.5h1M-3 4.5h2M3 2.5h1"/><path d="M-1-3.5h1M3-2.5h1M4-.5h1M1 4.5h1"/><text transform="translate(.5 .6) rotate(-83) scale(.92 1)" y="2.35">32</text></g>
<g transform="translate(232 515)"><path d="M-5-2.5h1M-3-3.5h1M1-3.5h1M-5 3.5h1M-3 4.5h2M3 2.5h1"/><path d="M-1-3.5h1M3-2.5h1M4-.5h1M1 4.5h1"/><text transform="translate(.5 .6) rotate(-83) scale(.92 1)" y="2.35">4</text></g>
<g transform="translate(612 515)"><path d="M-5-2.5h1M-3-3.5h1M1-3.5h1M-5 3.5h1M-3 4.5h2M3 2.5h1"/><path d="M-1-3.5h1M3-2.5h1M4-.5h1M1 4.5h1"/><text transform="translate(.5 .6) rotate(-83) scale(.92 1)" y="2.35">31</text></g>
<g transform="translate(245 510)"><path d="M-5-2.5h1M-3-3.5h1M1-3.5h1M-5 3.5h1M-3 4.5h2M3 2.5h1"/><path d="M-1-3.5h1M3-2.5h1M4-.5h1M1 4.5h1"/><text transform="translate(.5 .6) rotate(-83) scale(.92 1)" y="2.35">5</text></g>
<g transform="translate(600 510)"><path d="M-5-2.5h1M-3-3.5h1M1-3.5h1M-5 3.5h1M-3 4.5h2M3 2.5h1"/><path d="M-1-3.5h1M3-2.5h1M4-.5h1M1 4.5h1"/><text transform="translate(.5 .6) rotate(-83) scale(.92 1)" y="2.35">30</text></g>
<g transform="translate(257 505)"><path d="M-5-2.5h1M-3-3.5h1M1-3.5h1M-5 3.5h1M-3 4.5h2M3 2.5h1"/><path d="M-1-3.5h1M3-2.5h1M4-.5h1M1 4.5h1"/><text transform="translate(.5 .6) rotate(-83) scale(.92 1)" y="2.35">6</text></g>
<g transform="translate(587 505)"><path d="M-5-2.5h1M-3-3.5h1M1-3.5h1M-5 3.5h1M-3 4.5h2M3 2.5h1"/><path d="M-1-3.5h1M3-2.5h1M4-.5h1M1 4.5h1"/><text transform="translate(.5 .6) rotate(-83) scale(.92 1)" y="2.35">29</text></g>
<g transform="translate(270 500)"><path d="M-5-2.5h1M-3-3.5h1M1-3.5h1M-5 3.5h1M-3 4.5h2M3 2.5h1"/><path d="M-1-3.5h1M3-2.5h1M4-.5h1M1 4.5h1"/><text transform="translate(.5 .6) rotate(-83) scale(.92 1)" y="2.35">7</text></g>
<g transform="translate(575 500)"><path d="M-5-2.5h1M-3-3.5h1M1-3.5h1M-5 3.5h1M-3 4.5h2M3 2.5h1"/><path d="M-1-3.5h1M3-2.5h1M4-.5h1M1 4.5h1"/><text transform="translate(.5 .6) rotate(-83) scale(.92 1)" y="2.35">28</text></g>
<g transform="translate(283 496)"><path d="M-5-2.5h1M-3-3.5h1M1-3.5h1M-5 3.5h1M-3 4.5h2M3 2.5h1"/><path d="M-1-3.5h1M3-2.5h1M4-.5h1M1 4.5h1"/><text transform="translate(.5 .6) rotate(-83) scale(.92 1)" y="2.35">8</text></g>
<g transform="translate(562 496)"><path d="M-5-2.5h1M-3-3.5h1M1-3.5h1M-5 3.5h1M-3 4.5h2M3 2.5h1"/><path d="M-1-3.5h1M3-2.5h1M4-.5h1M1 4.5h1"/><text transform="translate(.5 .6) rotate(-83) scale(.92 1)" y="2.35">27</text></g>
<g transform="translate(296 492)"><path d="M-5-2.5h1M-3-3.5h1M1-3.5h1M-5 3.5h1M-3 4.5h2M3 2.5h1"/><path d="M-1-3.5h1M3-2.5h1M4-.5h1M1 4.5h1"/><text transform="translate(.5 .6) rotate(-83) scale(.92 1)" y="2.35">9</text></g>
<g transform="translate(549 492)"><path d="M-5-2.5h1M-3-3.5h1M1-3.5h1M-5 3.5h1M-3 4.5h2M3 2.5h1"/><path d="M-1-3.5h1M3-2.5h1M4-.5h1M1 4.5h1"/><text transform="translate(.5 .6) rotate(-83) scale(.92 1)" y="2.35">26</text></g>
<g transform="translate(309 489)"><path d="M-5-2.5h1M-3-3.5h1M1-3.5h1M-5 3.5h1M-3 4.5h2M3 2.5h1"/><path d="M-1-3.5h1M3-2.5h1M4-.5h1M1 4.5h1"/><text transform="translate(.5 .6) rotate(-83) scale(.92 1)" y="2.35">10</text></g>
<g transform="translate(536 489)"><path d="M-5-2.5h1M-3-3.5h1M1-3.5h1M-5 3.5h1M-3 4.5h2M3 2.5h1"/><path d="M-1-3.5h1M3-2.5h1M4-.5h1M1 4.5h1"/><text transform="translate(.5 .6) rotate(-83) scale(.92 1)" y="2.35">25</text></g>
<g transform="translate(322 485)"><path d="M-5-2.5h1M-3-3.5h1M1-3.5h1M-5 3.5h1M-3 4.5h2M3 2.5h1"/><path d="M-1-3.5h1M3-2.5h1M4-.5h1M1 4.5h1"/><text transform="translate(.5 .6) rotate(-83) scale(.92 1)" y="2.35">11</text></g>
<g transform="translate(523 485)"><path d="M-5-2.5h1M-3-3.5h1M1-3.5h1M-5 3.5h1M-3 4.5h2M3 2.5h1"/><path d="M-1-3.5h1M3-2.5h1M4-.5h1M1 4.5h1"/><text transform="translate(.5 .6) rotate(-83) scale(.92 1)" y="2.35">24</text></g>
<g transform="translate(335 483)"><path d="M-5-2.5h1M-3-3.5h1M1-3.5h1M-5 3.5h1M-3 4.5h2M3 2.5h1"/><path d="M-1-3.5h1M3-2.5h1M4-.5h1M1 4.5h1"/><text transform="translate(.5 .6) rotate(-83) scale(.92 1)" y="2.35">12</text></g>
<g transform="translate(509 483)"><path d="M-5-2.5h1M-3-3.5h1M1-3.5h1M-5 3.5h1M-3 4.5h2M3 2.5h1"/><path d="M-1-3.5h1M3-2.5h1M4-.5h1M1 4.5h1"/><text transform="translate(.5 .6) rotate(-83) scale(.92 1)" y="2.35">23</text></g>
<g transform="translate(348 480)"><path d="M-5-2.5h1M-3-3.5h1M1-3.5h1M-5 3.5h1M-3 4.5h2M3 2.5h1"/><path d="M-1-3.5h1M3-2.5h1M4-.5h1M1 4.5h1"/><text transform="translate(.5 .6) rotate(-83) scale(.92 1)" y="2.35">13</text></g>
<g transform="translate(496 480)"><path d="M-5-2.5h1M-3-3.5h1M1-3.5h1M-5 3.5h1M-3 4.5h2M3 2.5h1"/><path d="M-1-3.5h1M3-2.5h1M4-.5h1M1 4.5h1"/><text transform="translate(.5 .6) rotate(-83) scale(.92 1)" y="2.35">22</text></g>
<g transform="translate(362 478)"><path d="M-5-2.5h1M-3-3.5h1M1-3.5h1M-5 3.5h1M-3 4.5h2M3 2.5h1"/><path d="M-1-3.5h1M3-2.5h1M4-.5h1M1 4.5h1"/><text transform="translate(.5 .6) rotate(-83) scale(.92 1)" y="2.35">14</text></g>
<g transform="translate(483 478)"><path d="M-5-2.5h1M-3-3.5h1M1-3.5h1M-5 3.5h1M-3 4.5h2M3 2.5h1"/><path d="M-1-3.5h1M3-2.5h1M4-.5h1M1 4.5h1"/><text transform="translate(.5 .6) rotate(-83) scale(.92 1)" y="2.35">21</text></g>
<g transform="translate(375 477)"><path d="M-5-2.5h1M-3-3.5h1M1-3.5h1M-5 3.5h1M-3 4.5h2M3 2.5h1"/><path d="M-1-3.5h1M3-2.5h1M4-.5h1M1 4.5h1"/><text transform="translate(.5 .6) rotate(-83) scale(.92 1)" y="2.35">15</text></g>
<g transform="translate(469 477)"><path d="M-5-2.5h1M-3-3.5h1M1-3.5h1M-5 3.5h1M-3 4.5h2M3 2.5h1"/><path d="M-1-3.5h1M3-2.5h1M4-.5h1M1 4.5h1"/><text transform="translate(.5 .6) rotate(-83) scale(.92 1)" y="2.35">20</text></g>
<g transform="translate(389 476)"><path d="M-5-2.5h1M-3-3.5h1M1-3.5h1M-5 3.5h1M-3 4.5h2M3 2.5h1"/><path d="M-1-3.5h1M3-2.5h1M4-.5h1M1 4.5h1"/><text transform="translate(.5 .6) rotate(-83) scale(.92 1)" y="2.35">16</text></g>
<g transform="translate(456 476)"><path d="M-5-2.5h1M-3-3.5h1M1-3.5h1M-5 3.5h1M-3 4.5h2M3 2.5h1"/><path d="M-1-3.5h1M3-2.5h1M4-.5h1M1 4.5h1"/><text transform="translate(.5 .6) rotate(-83) scale(.92 1)" y="2.35">19</text></g>
<g transform="translate(402 475)"><path d="M-5-2.5h1M-3-3.5h1M1-3.5h1M-5 3.5h1M-3 4.5h2M3 2.5h1"/><path d="M-1-3.5h1M3-2.5h1M4-.5h1M1 4.5h1"/><text transform="translate(.5 .6) rotate(-83) scale(.92 1)" y="2.35">17</text></g>
<g transform="translate(442 475)"><path d="M-5-2.5h1M-3-3.5h1M1-3.5h1M-5 3.5h1M-3 4.5h2M3 2.5h1"/><path d="M-1-3.5h1M3-2.5h1M4-.5h1M1 4.5h1"/><text transform="translate(.5 .6) rotate(-83) scale(.92 1)" y="2.35">18</text></g>
<g transform="translate(206 552)"><path d="M-5-2.5h1M-3-3.5h1M1-3.5h1M-5 3.5h1M-3 4.5h2M3 2.5h1"/><path d="M-1-3.5h1M3-2.5h1M4-.5h1M1 4.5h1"/><text transform="translate(.5 .6) rotate(-83) scale(.92 1)" y="2.35">1</text></g>
<g transform="translate(639 552)"><path d="M-5-2.5h1M-3-3.5h1M1-3.5h1M-5 3.5h1M-3 4.5h2M3 2.5h1"/><path d="M-1-3.5h1M3-2.5h1M4-.5h1M1 4.5h1"/><text transform="translate(.5 .6) rotate(-83) scale(.92 1)" y="2.35">34</text></g>
<g transform="translate(217 546)"><path d="M-5-2.5h1M-3-3.5h1M1-3.5h1M-5 3.5h1M-3 4.5h2M3 2.5h1"/><path d="M-1-3.5h1M3-2.5h1M4-.5h1M1 4.5h1"/><text transform="translate(.5 .6) rotate(-83) scale(.92 1)" y="2.35">2</text></g>
<g transform="translate(627 546)"><path d="M-5-2.5h1M-3-3.5h1M1-3.5h1M-5 3.5h1M-3 4.5h2M3 2.5h1"/><path d="M-1-3.5h1M3-2.5h1M4-.5h1M1 4.5h1"/><text transform="translate(.5 .6) rotate(-83) scale(.92 1)" y="2.35">33</text></g>
<g transform="translate(229 540)"><path d="M-5-2.5h1M-3-3.5h1M1-3.5h1M-5 3.5h1M-3 4.5h2M3 2.5h1"/><path d="M-1-3.5h1M3-2.5h1M4-.5h1M1 4.5h1"/><text transform="translate(.5 .6) rotate(-83) scale(.92 1)" y="2.35">3</text></g>
<g transform="translate(616 540)"><path d="M-5-2.5h1M-3-3.5h1M1-3.5h1M-5 3.5h1M-3 4.5h2M3 2.5h1"/><path d="M-1-3.5h1M3-2.5h1M4-.5h1M1 4.5h1"/><text transform="translate(.5 .6) rotate(-83) scale(.92 1)" y="2.35">32</text></g>
<g transform="translate(241 534)"><path d="M-5-2.5h1M-3-3.5h1M1-3.5h1M-5 3.5h1M-3 4.5h2M3 2.5h1"/><path d="M-1-3.5h1M3-2.5h1M4-.5h1M1 4.5h1"/><text transform="translate(.5 .6) rotate(-83) scale(.92 1)" y="2.35">4</text></g>
<g transform="translate(604 534)"><path d="M-5-2.5h1M-3-3.5h1M1-3.5h1M-5 3.5h1M-3 4.5h2M3 2.5h1"/><path d="M-1-3.5h1M3-2.5h1M4-.5h1M1 4.5h1"/><text transform="translate(.5 .6) rotate(-83) scale(.92 1)" y="2.35">31</text></g>
<g transform="translate(252 529)"><path d="M-5-2.5h1M-3-3.5h1M1-3.5h1M-5 3.5h1M-3 4.5h2M3 2.5h1"/><path d="M-1-3.5h1M3-2.5h1M4-.5h1M1 4.5h1"/><text transform="translate(.5 .6) rotate(-83) scale(.92 1)" y="2.35">5</text></g>
<g transform="translate(592 529)"><path d="M-5-2.5h1M-3-3.5h1M1-3.5h1M-5 3.5h1M-3 4.5h2M3 2.5h1"/><path d="M-1-3.5h1M3-2.5h1M4-.5h1M1 4.5h1"/><text transform="translate(.5 .6) rotate(-83) scale(.92 1)" y="2.35">30</text></g>
<g transform="translate(264 524)"><path d="M-5-2.5h1M-3-3.5h1M1-3.5h1M-5 3.5h1M-3 4.5h2M3 2.5h1"/><path d="M-1-3.5h1M3-2.5h1M4-.5h1M1 4.5h1"/><text transform="translate(.5 .6) rotate(-83) scale(.92 1)" y="2.35">6</text></g>
<g transform="translate(580 524)"><path d="M-5-2.5h1M-3-3.5h1M1-3.5h1M-5 3.5h1M-3 4.5h2M3 2.5h1"/><path d="M-1-3.5h1M3-2.5h1M4-.5h1M1 4.5h1"/><text transform="translate(.5 .6) rotate(-83) scale(.92 1)" y="2.35">29</text></g>
<g transform="translate(276 520)"><path d="M-5-2.5h1M-3-3.5h1M1-3.5h1M-5 3.5h1M-3 4.5h2M3 2.5h1"/><path d="M-1-3.5h1M3-2.5h1M4-.5h1M1 4.5h1"/><text transform="translate(.5 .6) rotate(-83) scale(.92 1)" y="2.35">7</text></g>
<g transform="translate(568 520)"><path d="M-5-2.5h1M-3-3.5h1M1-3.5h1M-5 3.5h1M-3 4.5h2M3 2.5h1"/><path d="M-1-3.5h1M3-2.5h1M4-.5h1M1 4.5h1"/><text transform="translate(.5 .6) rotate(-83) scale(.92 1)" y="2.35">28</text></g>
<g transform="translate(289 516)"><path d="M-5-2.5h1M-3-3.5h1M1-3.5h1M-5 3.5h1M-3 4.5h2M3 2.5h1"/><path d="M-1-3.5h1M3-2.5h1M4-.5h1M1 4.5h1"/><text transform="translate(.5 .6) rotate(-83) scale(.92 1)" y="2.35">8</text></g>
<g transform="translate(556 516)"><path d="M-5-2.5h1M-3-3.5h1M1-3.5h1M-5 3.5h1M-3 4.5h2M3 2.5h1"/><path d="M-1-3.5h1M3-2.5h1M4-.5h1M1 4.5h1"/><text transform="translate(.5 .6) rotate(-83) scale(.92 1)" y="2.35">27</text></g>
<g transform="translate(301 512)"><path d="M-5-2.5h1M-3-3.5h1M1-3.5h1M-5 3.5h1M-3 4.5h2M3 2.5h1"/><path d="M-1-3.5h1M3-2.5h1M4-.5h1M1 4.5h1"/><text transform="translate(.5 .6) rotate(-83) scale(.92 1)" y="2.35">9</text></g>
<g transform="translate(544 512)"><path d="M-5-2.5h1M-3-3.5h1M1-3.5h1M-5 3.5h1M-3 4.5h2M3 2.5h1"/><path d="M-1-3.5h1M3-2.5h1M4-.5h1M1 4.5h1"/><text transform="translate(.5 .6) rotate(-83) scale(.92 1)" y="2.35">26</text></g>
<g transform="translate(314 509)"><path d="M-5-2.5h1M-3-3.5h1M1-3.5h1M-5 3.5h1M-3 4.5h2M3 2.5h1"/><path d="M-1-3.5h1M3-2.5h1M4-.5h1M1 4.5h1"/><text transform="translate(.5 .6) rotate(-83) scale(.92 1)" y="2.35">10</text></g>
<g transform="translate(531 509)"><path d="M-5-2.5h1M-3-3.5h1M1-3.5h1M-5 3.5h1M-3 4.5h2M3 2.5h1"/><path d="M-1-3.5h1M3-2.5h1M4-.5h1M1 4.5h1"/><text transform="translate(.5 .6) rotate(-83) scale(.92 1)" y="2.35">25</text></g>
<g transform="translate(326 506)"><path d="M-5-2.5h1M-3-3.5h1M1-3.5h1M-5 3.5h1M-3 4.5h2M3 2.5h1"/><path d="M-1-3.5h1M3-2.5h1M4-.5h1M1 4.5h1"/><text transform="translate(.5 .6) rotate(-83) scale(.92 1)" y="2.35">11</text></g>
<g transform="translate(518 506)"><path d="M-5-2.5h1M-3-3.5h1M1-3.5h1M-5 3.5h1M-3 4.5h2M3 2.5h1"/><path d="M-1-3.5h1M3-2.5h1M4-.5h1M1 4.5h1"/><text transform="translate(.5 .6) rotate(-83) scale(.92 1)" y="2.35">24</text></g>
<g transform="translate(339 503)"><path d="M-5-2.5h1M-3-3.5h1M1-3.5h1M-5 3.5h1M-3 4.5h2M3 2.5h1"/><path d="M-1-3.5h1M3-2.5h1M4-.5h1M1 4.5h1"/><text transform="translate(.5 .6) rotate(-83) scale(.92 1)" y="2.35">12</text></g>
<g transform="translate(506 503)"><path d="M-5-2.5h1M-3-3.5h1M1-3.5h1M-5 3.5h1M-3 4.5h2M3 2.5h1"/><path d="M-1-3.5h1M3-2.5h1M4-.5h1M1 4.5h1"/><text transform="translate(.5 .6) rotate(-83) scale(.92 1)" y="2.35">23</text></g>
<g transform="translate(351 501)"><path d="M-5-2.5h1M-3-3.5h1M1-3.5h1M-5 3.5h1M-3 4.5h2M3 2.5h1"/><path d="M-1-3.5h1M3-2.5h1M4-.5h1M1 4.5h1"/><text transform="translate(.5 .6) rotate(-83) scale(.92 1)" y="2.35">13</text></g>
<g transform="translate(493 501)"><path d="M-5-2.5h1M-3-3.5h1M1-3.5h1M-5 3.5h1M-3 4.5h2M3 2.5h1"/><path d="M-1-3.5h1M3-2.5h1M4-.5h1M1 4.5h1"/><text transform="translate(.5 .6) rotate(-83) scale(.92 1)" y="2.35">22</text></g>
<g transform="translate(364 499)"><path d="M-5-2.5h1M-3-3.5h1M1-3.5h1M-5 3.5h1M-3 4.5h2M3 2.5h1"/><path d="M-1-3.5h1M3-2.5h1M4-.5h1M1 4.5h1"/><text transform="translate(.5 .6) rotate(-83) scale(.92 1)" y="2.35">14</text></g>
<g transform="translate(480 499)"><path d="M-5-2.5h1M-3-3.5h1M1-3.5h1M-5 3.5h1M-3 4.5h2M3 2.5h1"/><path d="M-1-3.5h1M3-2.5h1M4-.5h1M1 4.5h1"/><text transform="translate(.5 .6) rotate(-83) scale(.92 1)" y="2.35">21</text></g>
<g transform="translate(377 497)"><path d="M-5-2.5h1M-3-3.5h1M1-3.5h1M-5 3.5h1M-3 4.5h2M3 2.5h1"/><path d="M-1-3.5h1M3-2.5h1M4-.5h1M1 4.5h1"/><text transform="translate(.5 .6) rotate(-83) scale(.92 1)" y="2.35">15</text></g>
<g transform="translate(468 497)"><path d="M-5-2.5h1M-3-3.5h1M1-3.5h1M-5 3.5h1M-3 4.5h2M3 2.5h1"/><path d="M-1-3.5h1M3-2.5h1M4-.5h1M1 4.5h1"/><text transform="translate(.5 .6) rotate(-83) scale(.92 1)" y="2.35">20</text></g>
<g transform="translate(390 496)"><path d="M-5-2.5h1M-3-3.5h1M1-3.5h1M-5 3.5h1M-3 4.5h2M3 2.5h1"/><path d="M-1-3.5h1M3-2.5h1M4-.5h1M1 4.5h1"/><text transform="translate(.5 .6) rotate(-83) scale(.92 1)" y="2.35">16</text></g>
<g transform="translate(455 496)"><path d="M-5-2.5h1M-3-3.5h1M1-3.5h1M-5 3.5h1M-3 4.5h2M3 2.5h1"/><path d="M-1-3.5h1M3-2.5h1M4-.5h1M1 4.5h1"/><text transform="translate(.5 .6) rotate(-83) scale(.92 1)" y="2.35">19</text></g>
<g transform="translate(403 495)"><path d="M-5-2.5h1M-3-3.5h1M1-3.5h1M-5 3.5h1M-3 4.5h2M3 2.5h1"/><path d="M-1-3.5h1M3-2.5h1M4-.5h1M1 4.5h1"/><text transform="translate(.5 .6) rotate(-83) scale(.92 1)" y="2.35">17</text></g>
<g transform="translate(442 495)"><path d="M-5-2.5h1M-3-3.5h1M1-3.5h1M-5 3.5h1M-3 4.5h2M3 2.5h1"/><path d="M-1-3.5h1M3-2.5h1M4-.5h1M1 4.5h1"/><text transform="translate(.5 .6) rotate(-83) scale(.92 1)" y="2.35">18</text></g>
<g transform="translate(216 570)"><path d="M-5-2.5h1M-3-3.5h1M1-3.5h1M-5 3.5h1M-3 4.5h2M3 2.5h1"/><path d="M-1-3.5h1M3-2.5h1M4-.5h1M1 4.5h1"/><text transform="translate(.5 .6) rotate(-83) scale(.92 1)" y="2.35">1</text></g>
<g transform="translate(628 570)"><path d="M-5-2.5h1M-3-3.5h1M1-3.5h1M-5 3.5h1M-3 4.5h2M3 2.5h1"/><path d="M-1-3.5h1M3-2.5h1M4-.5h1M1 4.5h1"/><text transform="translate(.5 .6) rotate(-83) scale(.92 1)" y="2.35">32</text></g>
<g transform="translate(228 564)"><path d="M-5-2.5h1M-3-3.5h1M1-3.5h1M-5 3.5h1M-3 4.5h2M3 2.5h1"/><path d="M-1-3.5h1M3-2.5h1M4-.5h1M1 4.5h1"/><text transform="translate(.5 .6) rotate(-83) scale(.92 1)" y="2.35">2</text></g>
<g transform="translate(617 564)"><path d="M-5-2.5h1M-3-3.5h1M1-3.5h1M-5 3.5h1M-3 4.5h2M3 2.5h1"/><path d="M-1-3.5h1M3-2.5h1M4-.5h1M1 4.5h1"/><text transform="translate(.5 .6) rotate(-83) scale(.92 1)" y="2.35">31</text></g>
<g transform="translate(239 558)"><path d="M-5-2.5h1M-3-3.5h1M1-3.5h1M-5 3.5h1M-3 4.5h2M3 2.5h1"/><path d="M-1-3.5h1M3-2.5h1M4-.5h1M1 4.5h1"/><text transform="translate(.5 .6) rotate(-83) scale(.92 1)" y="2.35">3</text></g>
<g transform="translate(605 558)"><path d="M-5-2.5h1M-3-3.5h1M1-3.5h1M-5 3.5h1M-3 4.5h2M3 2.5h1"/><path d="M-1-3.5h1M3-2.5h1M4-.5h1M1 4.5h1"/><text transform="translate(.5 .6) rotate(-83) scale(.92 1)" y="2.35">30</text></g>
<g transform="translate(251 552)"><path d="M-5-2.5h1M-3-3.5h1M1-3.5h1M-5 3.5h1M-3 4.5h2M3 2.5h1"/><path d="M-1-3.5h1M3-2.5h1M4-.5h1M1 4.5h1"/><text transform="translate(.5 .6) rotate(-83) scale(.92 1)" y="2.35">4</text></g>
<g transform="translate(593 552)"><path d="M-5-2.5h1M-3-3.5h1M1-3.5h1M-5 3.5h1M-3 4.5h2M3 2.5h1"/><path d="M-1-3.5h1M3-2.5h1M4-.5h1M1 4.5h1"/><text transform="translate(.5 .6) rotate(-83) scale(.92 1)" y="2.35">29</text></g>
<g transform="translate(263 547)"><path d="M-5-2.5h1M-3-3.5h1M1-3.5h1M-5 3.5h1M-3 4.5h2M3 2.5h1"/><path d="M-1-3.5h1M3-2.5h1M4-.5h1M1 4.5h1"/><text transform="translate(.5 .6) rotate(-83) scale(.92 1)" y="2.35">5</text></g>
<g transform="translate(581 547)"><path d="M-5-2.5h1M-3-3.5h1M1-3.5h1M-5 3.5h1M-3 4.5h2M3 2.5h1"/><path d="M-1-3.5h1M3-2.5h1M4-.5h1M1 4.5h1"/><text transform="translate(.5 .6) rotate(-83) scale(.92 1)" y="2.35">28</text></g>
<g transform="translate(275 542)"><path d="M-5-2.5h1M-3-3.5h1M1-3.5h1M-5 3.5h1M-3 4.5h2M3 2.5h1"/><path d="M-1-3.5h1M3-2.5h1M4-.5h1M1 4.5h1"/><text transform="translate(.5 .6) rotate(-83) scale(.92 1)" y="2.35">6</text></g>
<g transform="translate(569 542)"><path d="M-5-2.5h1M-3-3.5h1M1-3.5h1M-5 3.5h1M-3 4.5h2M3 2.5h1"/><path d="M-1-3.5h1M3-2.5h1M4-.5h1M1 4.5h1"/><text transform="translate(.5 .6) rotate(-83) scale(.92 1)" y="2.35">27</text></g>
<g transform="translate(288 538)"><path d="M-5-2.5h1M-3-3.5h1M1-3.5h1M-5 3.5h1M-3 4.5h2M3 2.5h1"/><path d="M-1-3.5h1M3-2.5h1M4-.5h1M1 4.5h1"/><text transform="translate(.5 .6) rotate(-83) scale(.92 1)" y="2.35">7</text></g>
<g transform="translate(557 538)"><path d="M-5-2.5h1M-3-3.5h1M1-3.5h1M-5 3.5h1M-3 4.5h2M3 2.5h1"/><path d="M-1-3.5h1M3-2.5h1M4-.5h1M1 4.5h1"/><text transform="translate(.5 .6) rotate(-83) scale(.92 1)" y="2.35">26</text></g>
<g transform="translate(300 534)"><path d="M-5-2.5h1M-3-3.5h1M1-3.5h1M-5 3.5h1M-3 4.5h2M3 2.5h1"/><path d="M-1-3.5h1M3-2.5h1M4-.5h1M1 4.5h1"/><text transform="translate(.5 .6) rotate(-83) scale(.92 1)" y="2.35">8</text></g>
<g transform="translate(544 534)"><path d="M-5-2.5h1M-3-3.5h1M1-3.5h1M-5 3.5h1M-3 4.5h2M3 2.5h1"/><path d="M-1-3.5h1M3-2.5h1M4-.5h1M1 4.5h1"/><text transform="translate(.5 .6) rotate(-83) scale(.92 1)" y="2.35">25</text></g>
<g transform="translate(313 530)"><path d="M-5-2.5h1M-3-3.5h1M1-3.5h1M-5 3.5h1M-3 4.5h2M3 2.5h1"/><path d="M-1-3.5h1M3-2.5h1M4-.5h1M1 4.5h1"/><text transform="translate(.5 .6) rotate(-83) scale(.92 1)" y="2.35">9</text></g>
<g transform="translate(532 530)"><path d="M-5-2.5h1M-3-3.5h1M1-3.5h1M-5 3.5h1M-3 4.5h2M3 2.5h1"/><path d="M-1-3.5h1M3-2.5h1M4-.5h1M1 4.5h1"/><text transform="translate(.5 .6) rotate(-83) scale(.92 1)" y="2.35">24</text></g>
<g transform="translate(325 527)"><path d="M-5-2.5h1M-3-3.5h1M1-3.5h1M-5 3.5h1M-3 4.5h2M3 2.5h1"/><path d="M-1-3.5h1M3-2.5h1M4-.5h1M1 4.5h1"/><text transform="translate(.5 .6) rotate(-83) scale(.92 1)" y="2.35">10</text></g>
<g transform="translate(519 527)"><path d="M-5-2.5h1M-3-3.5h1M1-3.5h1M-5 3.5h1M-3 4.5h2M3 2.5h1"/><path d="M-1-3.5h1M3-2.5h1M4-.5h1M1 4.5h1"/><text transform="translate(.5 .6) rotate(-83) scale(.92 1)" y="2.35">23</text></g>
<g transform="translate(338 524)"><path d="M-5-2.5h1M-3-3.5h1M1-3.5h1M-5 3.5h1M-3 4.5h2M3 2.5h1"/><path d="M-1-3.5h1M3-2.5h1M4-.5h1M1 4.5h1"/><text transform="translate(.5 .6) rotate(-83) scale(.92 1)" y="2.35">11</text></g>
<g transform="translate(506 524)"><path d="M-5-2.5h1M-3-3.5h1M1-3.5h1M-5 3.5h1M-3 4.5h2M3 2.5h1"/><path d="M-1-3.5h1M3-2.5h1M4-.5h1M1 4.5h1"/><text transform="translate(.5 .6) rotate(-83) scale(.92 1)" y="2.35">22</text></g>
<g transform="translate(351 522)"><path d="M-5-2.5h1M-3-3.5h1M1-3.5h1M-5 3.5h1M-3 4.5h2M3 2.5h1"/><path d="M-1-3.5h1M3-2.5h1M4-.5h1M1 4.5h1"/><text transform="translate(.5 .6) rotate(-83) scale(.92 1)" y="2.35">12</text></g>
<g transform="translate(494 522)"><path d="M-5-2.5h1M-3-3.5h1M1-3.5h1M-5 3.5h1M-3 4.5h2M3 2.5h1"/><path d="M-1-3.5h1M3-2.5h1M4-.5h1M1 4.5h1"/><text transform="translate(.5 .6) rotate(-83) scale(.92 1)" y="2.35">21</text></g>
<g transform="translate(364 520)"><path d="M-5-2.5h1M-3-3.5h1M1-3.5h1M-5 3.5h1M-3 4.5h2M3 2.5h1"/><path d="M-1-3.5h1M3-2.5h1M4-.5h1M1 4.5h1"/><text transform="translate(.5 .6) rotate(-83) scale(.92 1)" y="2.35">13</text></g>
<g transform="translate(481 520)"><path d="M-5-2.5h1M-3-3.5h1M1-3.5h1M-5 3.5h1M-3 4.5h2M3 2.5h1"/><path d="M-1-3.5h1M3-2.5h1M4-.5h1M1 4.5h1"/><text transform="translate(.5 .6) rotate(-83) scale(.92 1)" y="2.35">20</text></g>
<g transform="translate(377 518)"><path d="M-5-2.5h1M-3-3.5h1M1-3.5h1M-5 3.5h1M-3 4.5h2M3 2.5h1"/><path d="M-1-3.5h1M3-2.5h1M4-.5h1M1 4.5h1"/><text transform="translate(.5 .6) rotate(-83) scale(.92 1)" y="2.35">14</text></g>
<g transform="translate(468 518)"><path d="M-5-2.5h1M-3-3.5h1M1-3.5h1M-5 3.5h1M-3 4.5h2M3 2.5h1"/><path d="M-1-3.5h1M3-2.5h1M4-.5h1M1 4.5h1"/><text transform="translate(.5 .6) rotate(-83) scale(.92 1)" y="2.35">19</text></g>
<g transform="translate(390 517)"><path d="M-5-2.5h1M-3-3.5h1M1-3.5h1M-5 3.5h1M-3 4.5h2M3 2.5h1"/><path d="M-1-3.5h1M3-2.5h1M4-.5h1M1 4.5h1"/><text transform="translate(.5 .6) rotate(-83) scale(.92 1)" y="2.35">15</text></g>
<g transform="translate(455 517)"><path d="M-5-2.5h1M-3-3.5h1M1-3.5h1M-5 3.5h1M-3 4.5h2M3 2.5h1"/><path d="M-1-3.5h1M3-2.5h1M4-.5h1M1 4.5h1"/><text transform="translate(.5 .6) rotate(-83) scale(.92 1)" y="2.35">18</text></g>
<g transform="translate(403 516)"><path d="M-5-2.5h1M-3-3.5h1M1-3.5h1M-5 3.5h1M-3 4.5h2M3 2.5h1"/><path d="M-1-3.5h1M3-2.5h1M4-.5h1M1 4.5h1"/><text transform="translate(.5 .6) rotate(-83) scale(.92 1)" y="2.35">16</text></g>
<g transform="translate(442 516)"><path d="M-5-2.5h1M-3-3.5h1M1-3.5h1M-5 3.5h1M-3 4.5h2M3 2.5h1"/><path d="M-1-3.5h1M3-2.5h1M4-.5h1M1 4.5h1"/><text transform="translate(.5 .6) rotate(-83) scale(.92 1)" y="2.35">17</text></g>
<g transform="translate(226 588)"><path d="M-5-2.5h1M-3-3.5h1M1-3.5h1M-5 3.5h1M-3 4.5h2M3 2.5h1"/><path d="M-1-3.5h1M3-2.5h1M4-.5h1M1 4.5h1"/><text transform="translate(.5 .6) rotate(-83) scale(.92 1)" y="2.35">1</text></g>
<g transform="translate(618 588)"><path d="M-5-2.5h1M-3-3.5h1M1-3.5h1M-5 3.5h1M-3 4.5h2M3 2.5h1"/><path d="M-1-3.5h1M3-2.5h1M4-.5h1M1 4.5h1"/><text transform="translate(.5 .6) rotate(-83) scale(.92 1)" y="2.35">32</text></g>
<g transform="translate(237 582)"><path d="M-5-2.5h1M-3-3.5h1M1-3.5h1M-5 3.5h1M-3 4.5h2M3 2.5h1"/><path d="M-1-3.5h1M3-2.5h1M4-.5h1M1 4.5h1"/><text transform="translate(.5 .6) rotate(-83) scale(.92 1)" y="2.35">2</text></g>
<g transform="translate(607 582)"><path d="M-5-2.5h1M-3-3.5h1M1-3.5h1M-5 3.5h1M-3 4.5h2M3 2.5h1"/><path d="M-1-3.5h1M3-2.5h1M4-.5h1M1 4.5h1"/><text transform="translate(.5 .6) rotate(-83) scale(.92 1)" y="2.35">31</text></g>
<g transform="translate(248 577)"><path d="M-5-2.5h1M-3-3.5h1M1-3.5h1M-5 3.5h1M-3 4.5h2M3 2.5h1"/><path d="M-1-3.5h1M3-2.5h1M4-.5h1M1 4.5h1"/><text transform="translate(.5 .6) rotate(-83) scale(.92 1)" y="2.35">3</text></g>
<g transform="translate(596 577)"><path d="M-5-2.5h1M-3-3.5h1M1-3.5h1M-5 3.5h1M-3 4.5h2M3 2.5h1"/><path d="M-1-3.5h1M3-2.5h1M4-.5h1M1 4.5h1"/><text transform="translate(.5 .6) rotate(-83) scale(.92 1)" y="2.35">30</text></g>
<g transform="translate(259 571)"><path d="M-5-2.5h1M-3-3.5h1M1-3.5h1M-5 3.5h1M-3 4.5h2M3 2.5h1"/><path d="M-1-3.5h1M3-2.5h1M4-.5h1M1 4.5h1"/><text transform="translate(.5 .6) rotate(-83) scale(.92 1)" y="2.35">4</text></g>
<g transform="translate(585 571)"><path d="M-5-2.5h1M-3-3.5h1M1-3.5h1M-5 3.5h1M-3 4.5h2M3 2.5h1"/><path d="M-1-3.5h1M3-2.5h1M4-.5h1M1 4.5h1"/><text transform="translate(.5 .6) rotate(-83) scale(.92 1)" y="2.35">29</text></g>
<g transform="translate(271 566)"><path d="M-5-2.5h1M-3-3.5h1M1-3.5h1M-5 3.5h1M-3 4.5h2M3 2.5h1"/><path d="M-1-3.5h1M3-2.5h1M4-.5h1M1 4.5h1"/><text transform="translate(.5 .6) rotate(-83) scale(.92 1)" y="2.35">5</text></g>
<g transform="translate(574 566)"><path d="M-5-2.5h1M-3-3.5h1M1-3.5h1M-5 3.5h1M-3 4.5h2M3 2.5h1"/><path d="M-1-3.5h1M3-2.5h1M4-.5h1M1 4.5h1"/><text transform="translate(.5 .6) rotate(-83) scale(.92 1)" y="2.35">28</text></g>
<g transform="translate(282 562)"><path d="M-5-2.5h1M-3-3.5h1M1-3.5h1M-5 3.5h1M-3 4.5h2M3 2.5h1"/><path d="M-1-3.5h1M3-2.5h1M4-.5h1M1 4.5h1"/><text transform="translate(.5 .6) rotate(-83) scale(.92 1)" y="2.35">6</text></g>
<g transform="translate(562 562)"><path d="M-5-2.5h1M-3-3.5h1M1-3.5h1M-5 3.5h1M-3 4.5h2M3 2.5h1"/><path d="M-1-3.5h1M3-2.5h1M4-.5h1M1 4.5h1"/><text transform="translate(.5 .6) rotate(-83) scale(.92 1)" y="2.35">27</text></g>
<g transform="translate(294 558)"><path d="M-5-2.5h1M-3-3.5h1M1-3.5h1M-5 3.5h1M-3 4.5h2M3 2.5h1"/><path d="M-1-3.5h1M3-2.5h1M4-.5h1M1 4.5h1"/><text transform="translate(.5 .6) rotate(-83) scale(.92 1)" y="2.35">7</text></g>
<g transform="translate(551 558)"><path d="M-5-2.5h1M-3-3.5h1M1-3.5h1M-5 3.5h1M-3 4.5h2M3 2.5h1"/><path d="M-1-3.5h1M3-2.5h1M4-.5h1M1 4.5h1"/><text transform="translate(.5 .6) rotate(-83) scale(.92 1)" y="2.35">26</text></g>
<g transform="translate(306 554)"><path d="M-5-2.5h1M-3-3.5h1M1-3.5h1M-5 3.5h1M-3 4.5h2M3 2.5h1"/><path d="M-1-3.5h1M3-2.5h1M4-.5h1M1 4.5h1"/><text transform="translate(.5 .6) rotate(-83) scale(.92 1)" y="2.35">8</text></g>
<g transform="translate(539 554)"><path d="M-5-2.5h1M-3-3.5h1M1-3.5h1M-5 3.5h1M-3 4.5h2M3 2.5h1"/><path d="M-1-3.5h1M3-2.5h1M4-.5h1M1 4.5h1"/><text transform="translate(.5 .6) rotate(-83) scale(.92 1)" y="2.35">25</text></g>
<g transform="translate(318 550)"><path d="M-5-2.5h1M-3-3.5h1M1-3.5h1M-5 3.5h1M-3 4.5h2M3 2.5h1"/><path d="M-1-3.5h1M3-2.5h1M4-.5h1M1 4.5h1"/><text transform="translate(.5 .6) rotate(-83) scale(.92 1)" y="2.35">9</text></g>
<g transform="translate(527 550)"><path d="M-5-2.5h1M-3-3.5h1M1-3.5h1M-5 3.5h1M-3 4.5h2M3 2.5h1"/><path d="M-1-3.5h1M3-2.5h1M4-.5h1M1 4.5h1"/><text transform="translate(.5 .6) rotate(-83) scale(.92 1)" y="2.35">24</text></g>
<g transform="translate(330 547)"><path d="M-5-2.5h1M-3-3.5h1M1-3.5h1M-5 3.5h1M-3 4.5h2M3 2.5h1"/><path d="M-1-3.5h1M3-2.5h1M4-.5h1M1 4.5h1"/><text transform="translate(.5 .6) rotate(-83) scale(.92 1)" y="2.35">10</text></g>
<g transform="translate(515 547)"><path d="M-5-2.5h1M-3-3.5h1M1-3.5h1M-5 3.5h1M-3 4.5h2M3 2.5h1"/><path d="M-1-3.5h1M3-2.5h1M4-.5h1M1 4.5h1"/><text transform="translate(.5 .6) rotate(-83) scale(.92 1)" y="2.35">23</text></g>
<g transform="translate(342 545)"><path d="M-5-2.5h1M-3-3.5h1M1-3.5h1M-5 3.5h1M-3 4.5h2M3 2.5h1"/><path d="M-1-3.5h1M3-2.5h1M4-.5h1M1 4.5h1"/><text transform="translate(.5 .6) rotate(-83) scale(.92 1)" y="2.35">11</text></g>
<g transform="translate(503 545)"><path d="M-5-2.5h1M-3-3.5h1M1-3.5h1M-5 3.5h1M-3 4.5h2M3 2.5h1"/><path d="M-1-3.5h1M3-2.5h1M4-.5h1M1 4.5h1"/><text transform="translate(.5 .6) rotate(-83) scale(.92 1)" y="2.35">22</text></g>
<g transform="translate(354 542)"><path d="M-5-2.5h1M-3-3.5h1M1-3.5h1M-5 3.5h1M-3 4.5h2M3 2.5h1"/><path d="M-1-3.5h1M3-2.5h1M4-.5h1M1 4.5h1"/><text transform="translate(.5 .6) rotate(-83) scale(.92 1)" y="2.35">12</text></g>
<g transform="translate(491 542)"><path d="M-5-2.5h1M-3-3.5h1M1-3.5h1M-5 3.5h1M-3 4.5h2M3 2.5h1"/><path d="M-1-3.5h1M3-2.5h1M4-.5h1M1 4.5h1"/><text transform="translate(.5 .6) rotate(-83) scale(.92 1)" y="2.35">21</text></g>
<g transform="translate(366 540)"><path d="M-5-2.5h1M-3-3.5h1M1-3.5h1M-5 3.5h1M-3 4.5h2M3 2.5h1"/><path d="M-1-3.5h1M3-2.5h1M4-.5h1M1 4.5h1"/><text transform="translate(.5 .6) rotate(-83) scale(.92 1)" y="2.35">13</text></g>
<g transform="translate(478 540)"><path d="M-5-2.5h1M-3-3.5h1M1-3.5h1M-5 3.5h1M-3 4.5h2M3 2.5h1"/><path d="M-1-3.5h1M3-2.5h1M4-.5h1M1 4.5h1"/><text transform="translate(.5 .6) rotate(-83) scale(.92 1)" y="2.35">20</text></g>
<g transform="translate(379 539)"><path d="M-5-2.5h1M-3-3.5h1M1-3.5h1M-5 3.5h1M-3 4.5h2M3 2.5h1"/><path d="M-1-3.5h1M3-2.5h1M4-.5h1M1 4.5h1"/><text transform="translate(.5 .6) rotate(-83) scale(.92 1)" y="2.35">14</text></g>
<g transform="translate(466 539)"><path d="M-5-2.5h1M-3-3.5h1M1-3.5h1M-5 3.5h1M-3 4.5h2M3 2.5h1"/><path d="M-1-3.5h1M3-2.5h1M4-.5h1M1 4.5h1"/><text transform="translate(.5 .6) rotate(-83) scale(.92 1)" y="2.35">19</text></g>
<g transform="translate(391 538)"><path d="M-5-2.5h1M-3-3.5h1M1-3.5h1M-5 3.5h1M-3 4.5h2M3 2.5h1"/><path d="M-1-3.5h1M3-2.5h1M4-.5h1M1 4.5h1"/><text transform="translate(.5 .6) rotate(-83) scale(.92 1)" y="2.35">15</text></g>
<g transform="translate(454 538)"><path d="M-5-2.5h1M-3-3.5h1M1-3.5h1M-5 3.5h1M-3 4.5h2M3 2.5h1"/><path d="M-1-3.5h1M3-2.5h1M4-.5h1M1 4.5h1"/><text transform="translate(.5 .6) rotate(-83) scale(.92 1)" y="2.35">18</text></g>
<g transform="translate(403 537)"><path d="M-5-2.5h1M-3-3.5h1M1-3.5h1M-5 3.5h1M-3 4.5h2M3 2.5h1"/><path d="M-1-3.5h1M3-2.5h1M4-.5h1M1 4.5h1"/><text transform="translate(.5 .6) rotate(-83) scale(.92 1)" y="2.35">16</text></g>
<g transform="translate(441 537)"><path d="M-5-2.5h1M-3-3.5h1M1-3.5h1M-5 3.5h1M-3 4.5h2M3 2.5h1"/><path d="M-1-3.5h1M3-2.5h1M4-.5h1M1 4.5h1"/><text transform="translate(.5 .6) rotate(-83) scale(.92 1)" y="2.35">17</text></g>
<g transform="translate(236 606)"><path d="M-5-2.5h1M-3-3.5h1M1-3.5h1M-5 3.5h1M-3 4.5h2M3 2.5h1"/><path d="M-1-3.5h1M3-2.5h1M4-.5h1M1 4.5h1"/><text transform="translate(.5 .6) rotate(-83) scale(.92 1)" y="2.35">1</text></g>
<g transform="translate(608 606)"><path d="M-5-2.5h1M-3-3.5h1M1-3.5h1M-5 3.5h1M-3 4.5h2M3 2.5h1"/><path d="M-1-3.5h1M3-2.5h1M4-.5h1M1 4.5h1"/><text transform="translate(.5 .6) rotate(-83) scale(.92 1)" y="2.35">30</text></g>
<g transform="translate(247 600)"><path d="M-5-2.5h1M-3-3.5h1M1-3.5h1M-5 3.5h1M-3 4.5h2M3 2.5h1"/><path d="M-1-3.5h1M3-2.5h1M4-.5h1M1 4.5h1"/><text transform="translate(.5 .6) rotate(-83) scale(.92 1)" y="2.35">2</text></g>
<g transform="translate(597 600)"><path d="M-5-2.5h1M-3-3.5h1M1-3.5h1M-5 3.5h1M-3 4.5h2M3 2.5h1"/><path d="M-1-3.5h1M3-2.5h1M4-.5h1M1 4.5h1"/><text transform="translate(.5 .6) rotate(-83) scale(.92 1)" y="2.35">29</text></g>
<g transform="translate(259 595)"><path d="M-5-2.5h1M-3-3.5h1M1-3.5h1M-5 3.5h1M-3 4.5h2M3 2.5h1"/><path d="M-1-3.5h1M3-2.5h1M4-.5h1M1 4.5h1"/><text transform="translate(.5 .6) rotate(-83) scale(.92 1)" y="2.35">3</text></g>
<g transform="translate(586 595)"><path d="M-5-2.5h1M-3-3.5h1M1-3.5h1M-5 3.5h1M-3 4.5h2M3 2.5h1"/><path d="M-1-3.5h1M3-2.5h1M4-.5h1M1 4.5h1"/><text transform="translate(.5 .6) rotate(-83) scale(.92 1)" y="2.35">28</text></g>
<g transform="translate(270 589)"><path d="M-5-2.5h1M-3-3.5h1M1-3.5h1M-5 3.5h1M-3 4.5h2M3 2.5h1"/><path d="M-1-3.5h1M3-2.5h1M4-.5h1M1 4.5h1"/><text transform="translate(.5 .6) rotate(-83) scale(.92 1)" y="2.35">4</text></g>
<g transform="translate(575 589)"><path d="M-5-2.5h1M-3-3.5h1M1-3.5h1M-5 3.5h1M-3 4.5h2M3 2.5h1"/><path d="M-1-3.5h1M3-2.5h1M4-.5h1M1 4.5h1"/><text transform="translate(.5 .6) rotate(-83) scale(.92 1)" y="2.35">27</text></g>
<g transform="translate(282 584)"><path d="M-5-2.5h1M-3-3.5h1M1-3.5h1M-5 3.5h1M-3 4.5h2M3 2.5h1"/><path d="M-1-3.5h1M3-2.5h1M4-.5h1M1 4.5h1"/><text transform="translate(.5 .6) rotate(-83) scale(.92 1)" y="2.35">5</text></g>
<g transform="translate(563 584)"><path d="M-5-2.5h1M-3-3.5h1M1-3.5h1M-5 3.5h1M-3 4.5h2M3 2.5h1"/><path d="M-1-3.5h1M3-2.5h1M4-.5h1M1 4.5h1"/><text transform="translate(.5 .6) rotate(-83) scale(.92 1)" y="2.35">26</text></g>
<g transform="translate(293 580)"><path d="M-5-2.5h1M-3-3.5h1M1-3.5h1M-5 3.5h1M-3 4.5h2M3 2.5h1"/><path d="M-1-3.5h1M3-2.5h1M4-.5h1M1 4.5h1"/><text transform="translate(.5 .6) rotate(-83) scale(.92 1)" y="2.35">6</text></g>
<g transform="translate(551 580)"><path d="M-5-2.5h1M-3-3.5h1M1-3.5h1M-5 3.5h1M-3 4.5h2M3 2.5h1"/><path d="M-1-3.5h1M3-2.5h1M4-.5h1M1 4.5h1"/><text transform="translate(.5 .6) rotate(-83) scale(.92 1)" y="2.35">25</text></g>
<g transform="translate(305 576)"><path d="M-5-2.5h1M-3-3.5h1M1-3.5h1M-5 3.5h1M-3 4.5h2M3 2.5h1"/><path d="M-1-3.5h1M3-2.5h1M4-.5h1M1 4.5h1"/><text transform="translate(.5 .6) rotate(-83) scale(.92 1)" y="2.35">7</text></g>
<g transform="translate(540 576)"><path d="M-5-2.5h1M-3-3.5h1M1-3.5h1M-5 3.5h1M-3 4.5h2M3 2.5h1"/><path d="M-1-3.5h1M3-2.5h1M4-.5h1M1 4.5h1"/><text transform="translate(.5 .6) rotate(-83) scale(.92 1)" y="2.35">24</text></g>
<g transform="translate(317 572)"><path d="M-5-2.5h1M-3-3.5h1M1-3.5h1M-5 3.5h1M-3 4.5h2M3 2.5h1"/><path d="M-1-3.5h1M3-2.5h1M4-.5h1M1 4.5h1"/><text transform="translate(.5 .6) rotate(-83) scale(.92 1)" y="2.35">8</text></g>
<g transform="translate(528 572)"><path d="M-5-2.5h1M-3-3.5h1M1-3.5h1M-5 3.5h1M-3 4.5h2M3 2.5h1"/><path d="M-1-3.5h1M3-2.5h1M4-.5h1M1 4.5h1"/><text transform="translate(.5 .6) rotate(-83) scale(.92 1)" y="2.35">23</text></g>
<g transform="translate(329 569)"><path d="M-5-2.5h1M-3-3.5h1M1-3.5h1M-5 3.5h1M-3 4.5h2M3 2.5h1"/><path d="M-1-3.5h1M3-2.5h1M4-.5h1M1 4.5h1"/><text transform="translate(.5 .6) rotate(-83) scale(.92 1)" y="2.35">9</text></g>
<g transform="translate(515 569)"><path d="M-5-2.5h1M-3-3.5h1M1-3.5h1M-5 3.5h1M-3 4.5h2M3 2.5h1"/><path d="M-1-3.5h1M3-2.5h1M4-.5h1M1 4.5h1"/><text transform="translate(.5 .6) rotate(-83) scale(.92 1)" y="2.35">22</text></g>
<g transform="translate(341 566)"><path d="M-5-2.5h1M-3-3.5h1M1-3.5h1M-5 3.5h1M-3 4.5h2M3 2.5h1"/><path d="M-1-3.5h1M3-2.5h1M4-.5h1M1 4.5h1"/><text transform="translate(.5 .6) rotate(-83) scale(.92 1)" y="2.35">10</text></g>
<g transform="translate(503 566)"><path d="M-5-2.5h1M-3-3.5h1M1-3.5h1M-5 3.5h1M-3 4.5h2M3 2.5h1"/><path d="M-1-3.5h1M3-2.5h1M4-.5h1M1 4.5h1"/><text transform="translate(.5 .6) rotate(-83) scale(.92 1)" y="2.35">21</text></g>
<g transform="translate(354 563)"><path d="M-5-2.5h1M-3-3.5h1M1-3.5h1M-5 3.5h1M-3 4.5h2M3 2.5h1"/><path d="M-1-3.5h1M3-2.5h1M4-.5h1M1 4.5h1"/><text transform="translate(.5 .6) rotate(-83) scale(.92 1)" y="2.35">11</text></g>
<g transform="translate(491 563)"><path d="M-5-2.5h1M-3-3.5h1M1-3.5h1M-5 3.5h1M-3 4.5h2M3 2.5h1"/><path d="M-1-3.5h1M3-2.5h1M4-.5h1M1 4.5h1"/><text transform="translate(.5 .6) rotate(-83) scale(.92 1)" y="2.35">20</text></g>
<g transform="translate(366 561)"><path d="M-5-2.5h1M-3-3.5h1M1-3.5h1M-5 3.5h1M-3 4.5h2M3 2.5h1"/><path d="M-1-3.5h1M3-2.5h1M4-.5h1M1 4.5h1"/><text transform="translate(.5 .6) rotate(-83) scale(.92 1)" y="2.35">12</text></g>
<g transform="translate(479 561)"><path d="M-5-2.5h1M-3-3.5h1M1-3.5h1M-5 3.5h1M-3 4.5h2M3 2.5h1"/><path d="M-1-3.5h1M3-2.5h1M4-.5h1M1 4.5h1"/><text transform="translate(.5 .6) rotate(-83) scale(.92 1)" y="2.35">19</text></g>
<g transform="translate(378 560)"><path d="M-5-2.5h1M-3-3.5h1M1-3.5h1M-5 3.5h1M-3 4.5h2M3 2.5h1"/><path d="M-1-3.5h1M3-2.5h1M4-.5h1M1 4.5h1"/><text transform="translate(.5 .6) rotate(-83) scale(.92 1)" y="2.35">13</text></g>
<g transform="translate(466 560)"><path d="M-5-2.5h1M-3-3.5h1M1-3.5h1M-5 3.5h1M-3 4.5h2M3 2.5h1"/><path d="M-1-3.5h1M3-2.5h1M4-.5h1M1 4.5h1"/><text transform="translate(.5 .6) rotate(-83) scale(.92 1)" y="2.35">18</text></g>
<g transform="translate(391 558)"><path d="M-5-2.5h1M-3-3.5h1M1-3.5h1M-5 3.5h1M-3 4.5h2M3 2.5h1"/><path d="M-1-3.5h1M3-2.5h1M4-.5h1M1 4.5h1"/><text transform="translate(.5 .6) rotate(-83) scale(.92 1)" y="2.35">14</text></g>
<g transform="translate(454 558)"><path d="M-5-2.5h1M-3-3.5h1M1-3.5h1M-5 3.5h1M-3 4.5h2M3 2.5h1"/><path d="M-1-3.5h1M3-2.5h1M4-.5h1M1 4.5h1"/><text transform="translate(.5 .6) rotate(-83) scale(.92 1)" y="2.35">17</text></g>
<g transform="translate(403 558)"><path d="M-5-2.5h1M-3-3.5h1M1-3.5h1M-5 3.5h1M-3 4.5h2M3 2.5h1"/><path d="M-1-3.5h1M3-2.5h1M4-.5h1M1 4.5h1"/><text transform="translate(.5 .6) rotate(-83) scale(.92 1)" y="2.35">15</text></g>
<g transform="translate(441 558)"><path d="M-5-2.5h1M-3-3.5h1M1-3.5h1M-5 3.5h1M-3 4.5h2M3 2.5h1"/><path d="M-1-3.5h1M3-2.5h1M4-.5h1M1 4.5h1"/><text transform="translate(.5 .6) rotate(-83) scale(.92 1)" y="2.35">16</text></g>
<g transform="translate(247 624)"><path d="M-5-2.5h1M-3-3.5h1M1-3.5h1M-5 3.5h1M-3 4.5h2M3 2.5h1"/><path d="M-1-3.5h1M3-2.5h1M4-.5h1M1 4.5h1"/><text transform="translate(.5 .6) rotate(-83) scale(.92 1)" y="2.35">1</text></g>
<g transform="translate(597 624)"><path d="M-5-2.5h1M-3-3.5h1M1-3.5h1M-5 3.5h1M-3 4.5h2M3 2.5h1"/><path d="M-1-3.5h1M3-2.5h1M4-.5h1M1 4.5h1"/><text transform="translate(.5 .6) rotate(-83) scale(.92 1)" y="2.35">30</text></g>
<g transform="translate(258 618)"><path d="M-5-2.5h1M-3-3.5h1M1-3.5h1M-5 3.5h1M-3 4.5h2M3 2.5h1"/><path d="M-1-3.5h1M3-2.5h1M4-.5h1M1 4.5h1"/><text transform="translate(.5 .6) rotate(-83) scale(.92 1)" y="2.35">2</text></g>
<g transform="translate(587 618)"><path d="M-5-2.5h1M-3-3.5h1M1-3.5h1M-5 3.5h1M-3 4.5h2M3 2.5h1"/><path d="M-1-3.5h1M3-2.5h1M4-.5h1M1 4.5h1"/><text transform="translate(.5 .6) rotate(-83) scale(.92 1)" y="2.35">29</text></g>
<g transform="translate(268 613)"><path d="M-5-2.5h1M-3-3.5h1M1-3.5h1M-5 3.5h1M-3 4.5h2M3 2.5h1"/><path d="M-1-3.5h1M3-2.5h1M4-.5h1M1 4.5h1"/><text transform="translate(.5 .6) rotate(-83) scale(.92 1)" y="2.35">3</text></g>
<g transform="translate(577 613)"><path d="M-5-2.5h1M-3-3.5h1M1-3.5h1M-5 3.5h1M-3 4.5h2M3 2.5h1"/><path d="M-1-3.5h1M3-2.5h1M4-.5h1M1 4.5h1"/><text transform="translate(.5 .6) rotate(-83) scale(.92 1)" y="2.35">28</text></g>
<g transform="translate(279 608)"><path d="M-5-2.5h1M-3-3.5h1M1-3.5h1M-5 3.5h1M-3 4.5h2M3 2.5h1"/><path d="M-1-3.5h1M3-2.5h1M4-.5h1M1 4.5h1"/><text transform="translate(.5 .6) rotate(-83) scale(.92 1)" y="2.35">4</text></g>
<g transform="translate(566 608)"><path d="M-5-2.5h1M-3-3.5h1M1-3.5h1M-5 3.5h1M-3 4.5h2M3 2.5h1"/><path d="M-1-3.5h1M3-2.5h1M4-.5h1M1 4.5h1"/><text transform="translate(.5 .6) rotate(-83) scale(.92 1)" y="2.35">27</text></g>
<g transform="translate(290 603)"><path d="M-5-2.5h1M-3-3.5h1M1-3.5h1M-5 3.5h1M-3 4.5h2M3 2.5h1"/><path d="M-1-3.5h1M3-2.5h1M4-.5h1M1 4.5h1"/><text transform="translate(.5 .6) rotate(-83) scale(.92 1)" y="2.35">5</text></g>
<g transform="translate(555 603)"><path d="M-5-2.5h1M-3-3.5h1M1-3.5h1M-5 3.5h1M-3 4.5h2M3 2.5h1"/><path d="M-1-3.5h1M3-2.5h1M4-.5h1M1 4.5h1"/><text transform="translate(.5 .6) rotate(-83) scale(.92 1)" y="2.35">26</text></g>
<g transform="translate(301 599)"><path d="M-5-2.5h1M-3-3.5h1M1-3.5h1M-5 3.5h1M-3 4.5h2M3 2.5h1"/><path d="M-1-3.5h1M3-2.5h1M4-.5h1M1 4.5h1"/><text transform="translate(.5 .6) rotate(-83) scale(.92 1)" y="2.35">6</text></g>
<g transform="translate(544 599)"><path d="M-5-2.5h1M-3-3.5h1M1-3.5h1M-5 3.5h1M-3 4.5h2M3 2.5h1"/><path d="M-1-3.5h1M3-2.5h1M4-.5h1M1 4.5h1"/><text transform="translate(.5 .6) rotate(-83) scale(.92 1)" y="2.35">25</text></g>
<g transform="translate(312 595)"><path d="M-5-2.5h1M-3-3.5h1M1-3.5h1M-5 3.5h1M-3 4.5h2M3 2.5h1"/><path d="M-1-3.5h1M3-2.5h1M4-.5h1M1 4.5h1"/><text transform="translate(.5 .6) rotate(-83) scale(.92 1)" y="2.35">7</text></g>
<g transform="translate(533 595)"><path d="M-5-2.5h1M-3-3.5h1M1-3.5h1M-5 3.5h1M-3 4.5h2M3 2.5h1"/><path d="M-1-3.5h1M3-2.5h1M4-.5h1M1 4.5h1"/><text transform="translate(.5 .6) rotate(-83) scale(.92 1)" y="2.35">24</text></g>
<g transform="translate(323 592)"><path d="M-5-2.5h1M-3-3.5h1M1-3.5h1M-5 3.5h1M-3 4.5h2M3 2.5h1"/><path d="M-1-3.5h1M3-2.5h1M4-.5h1M1 4.5h1"/><text transform="translate(.5 .6) rotate(-83) scale(.92 1)" y="2.35">8</text></g>
<g transform="translate(522 592)"><path d="M-5-2.5h1M-3-3.5h1M1-3.5h1M-5 3.5h1M-3 4.5h2M3 2.5h1"/><path d="M-1-3.5h1M3-2.5h1M4-.5h1M1 4.5h1"/><text transform="translate(.5 .6) rotate(-83) scale(.92 1)" y="2.35">23</text></g>
<g transform="translate(334 589)"><path d="M-5-2.5h1M-3-3.5h1M1-3.5h1M-5 3.5h1M-3 4.5h2M3 2.5h1"/><path d="M-1-3.5h1M3-2.5h1M4-.5h1M1 4.5h1"/><text transform="translate(.5 .6) rotate(-83) scale(.92 1)" y="2.35">9</text></g>
<g transform="translate(510 589)"><path d="M-5-2.5h1M-3-3.5h1M1-3.5h1M-5 3.5h1M-3 4.5h2M3 2.5h1"/><path d="M-1-3.5h1M3-2.5h1M4-.5h1M1 4.5h1"/><text transform="translate(.5 .6) rotate(-83) scale(.92 1)" y="2.35">22</text></g>
<g transform="translate(346 586)"><path d="M-5-2.5h1M-3-3.5h1M1-3.5h1M-5 3.5h1M-3 4.5h2M3 2.5h1"/><path d="M-1-3.5h1M3-2.5h1M4-.5h1M1 4.5h1"/><text transform="translate(.5 .6) rotate(-83) scale(.92 1)" y="2.35">10</text></g>
<g transform="translate(499 586)"><path d="M-5-2.5h1M-3-3.5h1M1-3.5h1M-5 3.5h1M-3 4.5h2M3 2.5h1"/><path d="M-1-3.5h1M3-2.5h1M4-.5h1M1 4.5h1"/><text transform="translate(.5 .6) rotate(-83) scale(.92 1)" y="2.35">21</text></g>
<g transform="translate(357 584)"><path d="M-5-2.5h1M-3-3.5h1M1-3.5h1M-5 3.5h1M-3 4.5h2M3 2.5h1"/><path d="M-1-3.5h1M3-2.5h1M4-.5h1M1 4.5h1"/><text transform="translate(.5 .6) rotate(-83) scale(.92 1)" y="2.35">11</text></g>
<g transform="translate(487 584)"><path d="M-5-2.5h1M-3-3.5h1M1-3.5h1M-5 3.5h1M-3 4.5h2M3 2.5h1"/><path d="M-1-3.5h1M3-2.5h1M4-.5h1M1 4.5h1"/><text transform="translate(.5 .6) rotate(-83) scale(.92 1)" y="2.35">20</text></g>
<g transform="translate(369 582)"><path d="M-5-2.5h1M-3-3.5h1M1-3.5h1M-5 3.5h1M-3 4.5h2M3 2.5h1"/><path d="M-1-3.5h1M3-2.5h1M4-.5h1M1 4.5h1"/><text transform="translate(.5 .6) rotate(-83) scale(.92 1)" y="2.35">12</text></g>
<g transform="translate(476 582)"><path d="M-5-2.5h1M-3-3.5h1M1-3.5h1M-5 3.5h1M-3 4.5h2M3 2.5h1"/><path d="M-1-3.5h1M3-2.5h1M4-.5h1M1 4.5h1"/><text transform="translate(.5 .6) rotate(-83) scale(.92 1)" y="2.35">19</text></g>
<g transform="translate(381 580)"><path d="M-5-2.5h1M-3-3.5h1M1-3.5h1M-5 3.5h1M-3 4.5h2M3 2.5h1"/><path d="M-1-3.5h1M3-2.5h1M4-.5h1M1 4.5h1"/><text transform="translate(.5 .6) rotate(-83) scale(.92 1)" y="2.35">13</text></g>
<g transform="translate(464 580)"><path d="M-5-2.5h1M-3-3.5h1M1-3.5h1M-5 3.5h1M-3 4.5h2M3 2.5h1"/><path d="M-1-3.5h1M3-2.5h1M4-.5h1M1 4.5h1"/><text transform="translate(.5 .6) rotate(-83) scale(.92 1)" y="2.35">18</text></g>
<g transform="translate(392 579)"><path d="M-5-2.5h1M-3-3.5h1M1-3.5h1M-5 3.5h1M-3 4.5h2M3 2.5h1"/><path d="M-1-3.5h1M3-2.5h1M4-.5h1M1 4.5h1"/><text transform="translate(.5 .6) rotate(-83) scale(.92 1)" y="2.35">14</text></g>
<g transform="translate(452 579)"><path d="M-5-2.5h1M-3-3.5h1M1-3.5h1M-5 3.5h1M-3 4.5h2M3 2.5h1"/><path d="M-1-3.5h1M3-2.5h1M4-.5h1M1 4.5h1"/><text transform="translate(.5 .6) rotate(-83) scale(.92 1)" y="2.35">17</text></g>
<g transform="translate(404 578)"><path d="M-5-2.5h1M-3-3.5h1M1-3.5h1M-5 3.5h1M-3 4.5h2M3 2.5h1"/><path d="M-1-3.5h1M3-2.5h1M4-.5h1M1 4.5h1"/><text transform="translate(.5 .6) rotate(-83) scale(.92 1)" y="2.35">15</text></g>
<g transform="translate(440 578)"><path d="M-5-2.5h1M-3-3.5h1M1-3.5h1M-5 3.5h1M-3 4.5h2M3 2.5h1"/><path d="M-1-3.5h1M3-2.5h1M4-.5h1M1 4.5h1"/><text transform="translate(.5 .6) rotate(-83) scale(.92 1)" y="2.35">16</text></g>
<g transform="translate(257 642)"><path d="M-5-2.5h1M-3-3.5h1M1-3.5h1M-5 3.5h1M-3 4.5h2M3 2.5h1"/><path d="M-1-3.5h1M3-2.5h1M4-.5h1M1 4.5h1"/><text transform="translate(.5 .6) rotate(-83) scale(.92 1)" y="2.35">1</text></g>
<g transform="translate(588 642)"><path d="M-5-2.5h1M-3-3.5h1M1-3.5h1M-5 3.5h1M-3 4.5h2M3 2.5h1"/><path d="M-1-3.5h1M3-2.5h1M4-.5h1M1 4.5h1"/><text transform="translate(.5 .6) rotate(-83) scale(.92 1)" y="2.35">28</text></g>
<g transform="translate(267 636)"><path d="M-5-2.5h1M-3-3.5h1M1-3.5h1M-5 3.5h1M-3 4.5h2M3 2.5h1"/><path d="M-1-3.5h1M3-2.5h1M4-.5h1M1 4.5h1"/><text transform="translate(.5 .6) rotate(-83) scale(.92 1)" y="2.35">2</text></g>
<g transform="translate(577 636)"><path d="M-5-2.5h1M-3-3.5h1M1-3.5h1M-5 3.5h1M-3 4.5h2M3 2.5h1"/><path d="M-1-3.5h1M3-2.5h1M4-.5h1M1 4.5h1"/><text transform="translate(.5 .6) rotate(-83) scale(.92 1)" y="2.35">27</text></g>
<g transform="translate(278 631)"><path d="M-5-2.5h1M-3-3.5h1M1-3.5h1M-5 3.5h1M-3 4.5h2M3 2.5h1"/><path d="M-1-3.5h1M3-2.5h1M4-.5h1M1 4.5h1"/><text transform="translate(.5 .6) rotate(-83) scale(.92 1)" y="2.35">3</text></g>
<g transform="translate(567 631)"><path d="M-5-2.5h1M-3-3.5h1M1-3.5h1M-5 3.5h1M-3 4.5h2M3 2.5h1"/><path d="M-1-3.5h1M3-2.5h1M4-.5h1M1 4.5h1"/><text transform="translate(.5 .6) rotate(-83) scale(.92 1)" y="2.35">26</text></g>
<g transform="translate(289 626)"><path d="M-5-2.5h1M-3-3.5h1M1-3.5h1M-5 3.5h1M-3 4.5h2M3 2.5h1"/><path d="M-1-3.5h1M3-2.5h1M4-.5h1M1 4.5h1"/><text transform="translate(.5 .6) rotate(-83) scale(.92 1)" y="2.35">4</text></g>
<g transform="translate(556 626)"><path d="M-5-2.5h1M-3-3.5h1M1-3.5h1M-5 3.5h1M-3 4.5h2M3 2.5h1"/><path d="M-1-3.5h1M3-2.5h1M4-.5h1M1 4.5h1"/><text transform="translate(.5 .6) rotate(-83) scale(.92 1)" y="2.35">25</text></g>
<g transform="translate(300 622)"><path d="M-5-2.5h1M-3-3.5h1M1-3.5h1M-5 3.5h1M-3 4.5h2M3 2.5h1"/><path d="M-1-3.5h1M3-2.5h1M4-.5h1M1 4.5h1"/><text transform="translate(.5 .6) rotate(-83) scale(.92 1)" y="2.35">5</text></g>
<g transform="translate(545 622)"><path d="M-5-2.5h1M-3-3.5h1M1-3.5h1M-5 3.5h1M-3 4.5h2M3 2.5h1"/><path d="M-1-3.5h1M3-2.5h1M4-.5h1M1 4.5h1"/><text transform="translate(.5 .6) rotate(-83) scale(.92 1)" y="2.35">24</text></g>
<g transform="translate(311 617)"><path d="M-5-2.5h1M-3-3.5h1M1-3.5h1M-5 3.5h1M-3 4.5h2M3 2.5h1"/><path d="M-1-3.5h1M3-2.5h1M4-.5h1M1 4.5h1"/><text transform="translate(.5 .6) rotate(-83) scale(.92 1)" y="2.35">6</text></g>
<g transform="translate(534 617)"><path d="M-5-2.5h1M-3-3.5h1M1-3.5h1M-5 3.5h1M-3 4.5h2M3 2.5h1"/><path d="M-1-3.5h1M3-2.5h1M4-.5h1M1 4.5h1"/><text transform="translate(.5 .6) rotate(-83) scale(.92 1)" y="2.35">23</text></g>
<g transform="translate(322 614)"><path d="M-5-2.5h1M-3-3.5h1M1-3.5h1M-5 3.5h1M-3 4.5h2M3 2.5h1"/><path d="M-1-3.5h1M3-2.5h1M4-.5h1M1 4.5h1"/><text transform="translate(.5 .6) rotate(-83) scale(.92 1)" y="2.35">7</text></g>
<g transform="translate(523 614)"><path d="M-5-2.5h1M-3-3.5h1M1-3.5h1M-5 3.5h1M-3 4.5h2M3 2.5h1"/><path d="M-1-3.5h1M3-2.5h1M4-.5h1M1 4.5h1"/><text transform="translate(.5 .6) rotate(-83) scale(.92 1)" y="2.35">22</text></g>
<g transform="translate(333 610)"><path d="M-5-2.5h1M-3-3.5h1M1-3.5h1M-5 3.5h1M-3 4.5h2M3 2.5h1"/><path d="M-1-3.5h1M3-2.5h1M4-.5h1M1 4.5h1"/><text transform="translate(.5 .6) rotate(-83) scale(.92 1)" y="2.35">8</text></g>
<g transform="translate(511 610)"><path d="M-5-2.5h1M-3-3.5h1M1-3.5h1M-5 3.5h1M-3 4.5h2M3 2.5h1"/><path d="M-1-3.5h1M3-2.5h1M4-.5h1M1 4.5h1"/><text transform="translate(.5 .6) rotate(-83) scale(.92 1)" y="2.35">21</text></g>
<g transform="translate(345 607)"><path d="M-5-2.5h1M-3-3.5h1M1-3.5h1M-5 3.5h1M-3 4.5h2M3 2.5h1"/><path d="M-1-3.5h1M3-2.5h1M4-.5h1M1 4.5h1"/><text transform="translate(.5 .6) rotate(-83) scale(.92 1)" y="2.35">9</text></g>
<g transform="translate(500 607)"><path d="M-5-2.5h1M-3-3.5h1M1-3.5h1M-5 3.5h1M-3 4.5h2M3 2.5h1"/><path d="M-1-3.5h1M3-2.5h1M4-.5h1M1 4.5h1"/><text transform="translate(.5 .6) rotate(-83) scale(.92 1)" y="2.35">20</text></g>
<g transform="translate(357 605)"><path d="M-5-2.5h1M-3-3.5h1M1-3.5h1M-5 3.5h1M-3 4.5h2M3 2.5h1"/><path d="M-1-3.5h1M3-2.5h1M4-.5h1M1 4.5h1"/><text transform="translate(.5 .6) rotate(-83) scale(.92 1)" y="2.35">10</text></g>
<g transform="translate(488 605)"><path d="M-5-2.5h1M-3-3.5h1M1-3.5h1M-5 3.5h1M-3 4.5h2M3 2.5h1"/><path d="M-1-3.5h1M3-2.5h1M4-.5h1M1 4.5h1"/><text transform="translate(.5 .6) rotate(-83) scale(.92 1)" y="2.35">19</text></g>
<g transform="translate(368 603)"><path d="M-5-2.5h1M-3-3.5h1M1-3.5h1M-5 3.5h1M-3 4.5h2M3 2.5h1"/><path d="M-1-3.5h1M3-2.5h1M4-.5h1M1 4.5h1"/><text transform="translate(.5 .6) rotate(-83) scale(.92 1)" y="2.35">11</text></g>
<g transform="translate(476 603)"><path d="M-5-2.5h1M-3-3.5h1M1-3.5h1M-5 3.5h1M-3 4.5h2M3 2.5h1"/><path d="M-1-3.5h1M3-2.5h1M4-.5h1M1 4.5h1"/><text transform="translate(.5 .6) rotate(-83) scale(.92 1)" y="2.35">18</text></g>
<g transform="translate(380 601)"><path d="M-5-2.5h1M-3-3.5h1M1-3.5h1M-5 3.5h1M-3 4.5h2M3 2.5h1"/><path d="M-1-3.5h1M3-2.5h1M4-.5h1M1 4.5h1"/><text transform="translate(.5 .6) rotate(-83) scale(.92 1)" y="2.35">12</text></g>
<g transform="translate(464 601)"><path d="M-5-2.5h1M-3-3.5h1M1-3.5h1M-5 3.5h1M-3 4.5h2M3 2.5h1"/><path d="M-1-3.5h1M3-2.5h1M4-.5h1M1 4.5h1"/><text transform="translate(.5 .6) rotate(-83) scale(.92 1)" y="2.35">17</text></g>
<g transform="translate(392 600)"><path d="M-5-2.5h1M-3-3.5h1M1-3.5h1M-5 3.5h1M-3 4.5h2M3 2.5h1"/><path d="M-1-3.5h1M3-2.5h1M4-.5h1M1 4.5h1"/><text transform="translate(.5 .6) rotate(-83) scale(.92 1)" y="2.35">13</text></g>
<g transform="translate(453 600)"><path d="M-5-2.5h1M-3-3.5h1M1-3.5h1M-5 3.5h1M-3 4.5h2M3 2.5h1"/><path d="M-1-3.5h1M3-2.5h1M4-.5h1M1 4.5h1"/><text transform="translate(.5 .6) rotate(-83) scale(.92 1)" y="2.35">16</text></g>
<g transform="translate(404 599)"><path d="M-5-2.5h1M-3-3.5h1M1-3.5h1M-5 3.5h1M-3 4.5h2M3 2.5h1"/><path d="M-1-3.5h1M3-2.5h1M4-.5h1M1 4.5h1"/><text transform="translate(.5 .6) rotate(-83) scale(.92 1)" y="2.35">14</text></g>
<g transform="translate(441 599)"><path d="M-5-2.5h1M-3-3.5h1M1-3.5h1M-5 3.5h1M-3 4.5h2M3 2.5h1"/><path d="M-1-3.5h1M3-2.5h1M4-.5h1M1 4.5h1"/><text transform="translate(.5 .6) rotate(-83) scale(.92 1)" y="2.35">15</text></g>
<g transform="translate(267 660)"><path d="M-5-2.5h1M-3-3.5h1M1-3.5h1M-5 3.5h1M-3 4.5h2M3 2.5h1"/><path d="M-1-3.5h1M3-2.5h1M4-.5h1M1 4.5h1"/><text transform="translate(.5 .6) rotate(-83) scale(.92 1)" y="2.35">1</text></g>
<g transform="translate(577 660)"><path d="M-5-2.5h1M-3-3.5h1M1-3.5h1M-5 3.5h1M-3 4.5h2M3 2.5h1"/><path d="M-1-3.5h1M3-2.5h1M4-.5h1M1 4.5h1"/><text transform="translate(.5 .6) rotate(-83) scale(.92 1)" y="2.35">28</text></g>
<g transform="translate(277 655)"><path d="M-5-2.5h1M-3-3.5h1M1-3.5h1M-5 3.5h1M-3 4.5h2M3 2.5h1"/><path d="M-1-3.5h1M3-2.5h1M4-.5h1M1 4.5h1"/><text transform="translate(.5 .6) rotate(-83) scale(.92 1)" y="2.35">2</text></g>
<g transform="translate(568 655)"><path d="M-5-2.5h1M-3-3.5h1M1-3.5h1M-5 3.5h1M-3 4.5h2M3 2.5h1"/><path d="M-1-3.5h1M3-2.5h1M4-.5h1M1 4.5h1"/><text transform="translate(.5 .6) rotate(-83) scale(.92 1)" y="2.35">27</text></g>
<g transform="translate(287 650)"><path d="M-5-2.5h1M-3-3.5h1M1-3.5h1M-5 3.5h1M-3 4.5h2M3 2.5h1"/><path d="M-1-3.5h1M3-2.5h1M4-.5h1M1 4.5h1"/><text transform="translate(.5 .6) rotate(-83) scale(.92 1)" y="2.35">3</text></g>
<g transform="translate(558 650)"><path d="M-5-2.5h1M-3-3.5h1M1-3.5h1M-5 3.5h1M-3 4.5h2M3 2.5h1"/><path d="M-1-3.5h1M3-2.5h1M4-.5h1M1 4.5h1"/><text transform="translate(.5 .6) rotate(-83) scale(.92 1)" y="2.35">26</text></g>
<g transform="translate(297 645)"><path d="M-5-2.5h1M-3-3.5h1M1-3.5h1M-5 3.5h1M-3 4.5h2M3 2.5h1"/><path d="M-1-3.5h1M3-2.5h1M4-.5h1M1 4.5h1"/><text transform="translate(.5 .6) rotate(-83) scale(.92 1)" y="2.35">4</text></g>
<g transform="translate(548 645)"><path d="M-5-2.5h1M-3-3.5h1M1-3.5h1M-5 3.5h1M-3 4.5h2M3 2.5h1"/><path d="M-1-3.5h1M3-2.5h1M4-.5h1M1 4.5h1"/><text transform="translate(.5 .6) rotate(-83) scale(.92 1)" y="2.35">25</text></g>
<g transform="translate(307 641)"><path d="M-5-2.5h1M-3-3.5h1M1-3.5h1M-5 3.5h1M-3 4.5h2M3 2.5h1"/><path d="M-1-3.5h1M3-2.5h1M4-.5h1M1 4.5h1"/><text transform="translate(.5 .6) rotate(-83) scale(.92 1)" y="2.35">5</text></g>
<g transform="translate(537 641)"><path d="M-5-2.5h1M-3-3.5h1M1-3.5h1M-5 3.5h1M-3 4.5h2M3 2.5h1"/><path d="M-1-3.5h1M3-2.5h1M4-.5h1M1 4.5h1"/><text transform="translate(.5 .6) rotate(-83) scale(.92 1)" y="2.35">24</text></g>
<g transform="translate(318 637)"><path d="M-5-2.5h1M-3-3.5h1M1-3.5h1M-5 3.5h1M-3 4.5h2M3 2.5h1"/><path d="M-1-3.5h1M3-2.5h1M4-.5h1M1 4.5h1"/><text transform="translate(.5 .6) rotate(-83) scale(.92 1)" y="2.35">6</text></g>
<g transform="translate(527 637)"><path d="M-5-2.5h1M-3-3.5h1M1-3.5h1M-5 3.5h1M-3 4.5h2M3 2.5h1"/><path d="M-1-3.5h1M3-2.5h1M4-.5h1M1 4.5h1"/><text transform="translate(.5 .6) rotate(-83) scale(.92 1)" y="2.35">23</text></g>
<g transform="translate(328 633)"><path d="M-5-2.5h1M-3-3.5h1M1-3.5h1M-5 3.5h1M-3 4.5h2M3 2.5h1"/><path d="M-1-3.5h1M3-2.5h1M4-.5h1M1 4.5h1"/><text transform="translate(.5 .6) rotate(-83) scale(.92 1)" y="2.35">7</text></g>
<g transform="translate(516 633)"><path d="M-5-2.5h1M-3-3.5h1M1-3.5h1M-5 3.5h1M-3 4.5h2M3 2.5h1"/><path d="M-1-3.5h1M3-2.5h1M4-.5h1M1 4.5h1"/><text transform="translate(.5 .6) rotate(-83) scale(.92 1)" y="2.35">22</text></g>
<g transform="translate(339 630)"><path d="M-5-2.5h1M-3-3.5h1M1-3.5h1M-5 3.5h1M-3 4.5h2M3 2.5h1"/><path d="M-1-3.5h1M3-2.5h1M4-.5h1M1 4.5h1"/><text transform="translate(.5 .6) rotate(-83) scale(.92 1)" y="2.35">8</text></g>
<g transform="translate(506 630)"><path d="M-5-2.5h1M-3-3.5h1M1-3.5h1M-5 3.5h1M-3 4.5h2M3 2.5h1"/><path d="M-1-3.5h1M3-2.5h1M4-.5h1M1 4.5h1"/><text transform="translate(.5 .6) rotate(-83) scale(.92 1)" y="2.35">21</text></g>
<g transform="translate(350 628)"><path d="M-5-2.5h1M-3-3.5h1M1-3.5h1M-5 3.5h1M-3 4.5h2M3 2.5h1"/><path d="M-1-3.5h1M3-2.5h1M4-.5h1M1 4.5h1"/><text transform="translate(.5 .6) rotate(-83) scale(.92 1)" y="2.35">9</text></g>
<g transform="translate(495 628)"><path d="M-5-2.5h1M-3-3.5h1M1-3.5h1M-5 3.5h1M-3 4.5h2M3 2.5h1"/><path d="M-1-3.5h1M3-2.5h1M4-.5h1M1 4.5h1"/><text transform="translate(.5 .6) rotate(-83) scale(.92 1)" y="2.35">20</text></g>
<g transform="translate(361 625)"><path d="M-5-2.5h1M-3-3.5h1M1-3.5h1M-5 3.5h1M-3 4.5h2M3 2.5h1"/><path d="M-1-3.5h1M3-2.5h1M4-.5h1M1 4.5h1"/><text transform="translate(.5 .6) rotate(-83) scale(.92 1)" y="2.35">10</text></g>
<g transform="translate(484 625)"><path d="M-5-2.5h1M-3-3.5h1M1-3.5h1M-5 3.5h1M-3 4.5h2M3 2.5h1"/><path d="M-1-3.5h1M3-2.5h1M4-.5h1M1 4.5h1"/><text transform="translate(.5 .6) rotate(-83) scale(.92 1)" y="2.35">19</text></g>
<g transform="translate(372 623)"><path d="M-5-2.5h1M-3-3.5h1M1-3.5h1M-5 3.5h1M-3 4.5h2M3 2.5h1"/><path d="M-1-3.5h1M3-2.5h1M4-.5h1M1 4.5h1"/><text transform="translate(.5 .6) rotate(-83) scale(.92 1)" y="2.35">11</text></g>
<g transform="translate(473 623)"><path d="M-5-2.5h1M-3-3.5h1M1-3.5h1M-5 3.5h1M-3 4.5h2M3 2.5h1"/><path d="M-1-3.5h1M3-2.5h1M4-.5h1M1 4.5h1"/><text transform="translate(.5 .6) rotate(-83) scale(.92 1)" y="2.35">18</text></g>
<g transform="translate(383 622)"><path d="M-5-2.5h1M-3-3.5h1M1-3.5h1M-5 3.5h1M-3 4.5h2M3 2.5h1"/><path d="M-1-3.5h1M3-2.5h1M4-.5h1M1 4.5h1"/><text transform="translate(.5 .6) rotate(-83) scale(.92 1)" y="2.35">12</text></g>
<g transform="translate(462 622)"><path d="M-5-2.5h1M-3-3.5h1M1-3.5h1M-5 3.5h1M-3 4.5h2M3 2.5h1"/><path d="M-1-3.5h1M3-2.5h1M4-.5h1M1 4.5h1"/><text transform="translate(.5 .6) rotate(-83) scale(.92 1)" y="2.35">17</text></g>
<g transform="translate(394 620)"><path d="M-5-2.5h1M-3-3.5h1M1-3.5h1M-5 3.5h1M-3 4.5h2M3 2.5h1"/><path d="M-1-3.5h1M3-2.5h1M4-.5h1M1 4.5h1"/><text transform="translate(.5 .6) rotate(-83) scale(.92 1)" y="2.35">13</text></g>
<g transform="translate(451 620)"><path d="M-5-2.5h1M-3-3.5h1M1-3.5h1M-5 3.5h1M-3 4.5h2M3 2.5h1"/><path d="M-1-3.5h1M3-2.5h1M4-.5h1M1 4.5h1"/><text transform="translate(.5 .6) rotate(-83) scale(.92 1)" y="2.35">16</text></g>
<g transform="translate(405 620)"><path d="M-5-2.5h1M-3-3.5h1M1-3.5h1M-5 3.5h1M-3 4.5h2M3 2.5h1"/><path d="M-1-3.5h1M3-2.5h1M4-.5h1M1 4.5h1"/><text transform="translate(.5 .6) rotate(-83) scale(.92 1)" y="2.35">14</text></g>
<g transform="translate(440 620)"><path d="M-5-2.5h1M-3-3.5h1M1-3.5h1M-5 3.5h1M-3 4.5h2M3 2.5h1"/><path d="M-1-3.5h1M3-2.5h1M4-.5h1M1 4.5h1"/><text transform="translate(.5 .6) rotate(-83) scale(.92 1)" y="2.35">15</text></g>
<g transform="translate(16 705)"><path d="M-5-2.5h1M-3-3.5h1M1-3.5h1M-5 3.5h1M-3 4.5h2M3 2.5h1"/><path d="M-1-3.5h1M3-2.5h1M4-.5h1M1 4.5h1"/><text transform="translate(.5 .6) rotate(-83) scale(.92 1)" y="2.35">1</text></g>
<g transform="translate(26 693)"><path d="M-5-2.5h1M-3-3.5h1M1-3.5h1M-5 3.5h1M-3 4.5h2M3 2.5h1"/><path d="M-1-3.5h1M3-2.5h1M4-.5h1M1 4.5h1"/><text transform="translate(.5 .6) rotate(-83) scale(.92 1)" y="2.35">2</text></g>
<g transform="translate(36 681)"><path d="M-5-2.5h1M-3-3.5h1M1-3.5h1M-5 3.5h1M-3 4.5h2M3 2.5h1"/><path d="M-1-3.5h1M3-2.5h1M4-.5h1M1 4.5h1"/><text transform="translate(.5 .6) rotate(-83) scale(.92 1)" y="2.35">3</text></g>
<g transform="translate(47 669)"><path d="M-5-2.5h1M-3-3.5h1M1-3.5h1M-5 3.5h1M-3 4.5h2M3 2.5h1"/><path d="M-1-3.5h1M3-2.5h1M4-.5h1M1 4.5h1"/><text transform="translate(.5 .6) rotate(-83) scale(.92 1)" y="2.35">4</text></g>
<g transform="translate(58 658)"><path d="M-5-2.5h1M-3-3.5h1M1-3.5h1M-5 3.5h1M-3 4.5h2M3 2.5h1"/><path d="M-1-3.5h1M3-2.5h1M4-.5h1M1 4.5h1"/><text transform="translate(.5 .6) rotate(-83) scale(.92 1)" y="2.35">5</text></g>
<g transform="translate(70 648)"><path d="M-5-2.5h1M-3-3.5h1M1-3.5h1M-5 3.5h1M-3 4.5h2M3 2.5h1"/><path d="M-1-3.5h1M3-2.5h1M4-.5h1M1 4.5h1"/><text transform="translate(.5 .6) rotate(-83) scale(.92 1)" y="2.35">6</text></g>
<g transform="translate(81 637)"><path d="M-5-2.5h1M-3-3.5h1M1-3.5h1M-5 3.5h1M-3 4.5h2M3 2.5h1"/><path d="M-1-3.5h1M3-2.5h1M4-.5h1M1 4.5h1"/><text transform="translate(.5 .6) rotate(-83) scale(.92 1)" y="2.35">7</text></g>
<g transform="translate(94 628)"><path d="M-5-2.5h1M-3-3.5h1M1-3.5h1M-5 3.5h1M-3 4.5h2M3 2.5h1"/><path d="M-1-3.5h1M3-2.5h1M4-.5h1M1 4.5h1"/><text transform="translate(.5 .6) rotate(-83) scale(.92 1)" y="2.35">8</text></g>
<g transform="translate(106 618)"><path d="M-5-2.5h1M-3-3.5h1M1-3.5h1M-5 3.5h1M-3 4.5h2M3 2.5h1"/><path d="M-1-3.5h1M3-2.5h1M4-.5h1M1 4.5h1"/><text transform="translate(.5 .6) rotate(-83) scale(.92 1)" y="2.35">9</text></g>
<g transform="translate(119 609)"><path d="M-5-2.5h1M-3-3.5h1M1-3.5h1M-5 3.5h1M-3 4.5h2M3 2.5h1"/><path d="M-1-3.5h1M3-2.5h1M4-.5h1M1 4.5h1"/><text transform="translate(.5 .6) rotate(-83) scale(.92 1)" y="2.35">10</text></g>
<g transform="translate(132 601)"><path d="M-5-2.5h1M-3-3.5h1M1-3.5h1M-5 3.5h1M-3 4.5h2M3 2.5h1"/><path d="M-1-3.5h1M3-2.5h1M4-.5h1M1 4.5h1"/><text transform="translate(.5 .6) rotate(-83) scale(.92 1)" y="2.35">11</text></g>
<g transform="translate(145 593)"><path d="M-5-2.5h1M-3-3.5h1M1-3.5h1M-5 3.5h1M-3 4.5h2M3 2.5h1"/><path d="M-1-3.5h1M3-2.5h1M4-.5h1M1 4.5h1"/><text transform="translate(.5 .6) rotate(-83) scale(.92 1)" y="2.35">12</text></g>
<g transform="translate(159 585)"><path d="M-5-2.5h1M-3-3.5h1M1-3.5h1M-5 3.5h1M-3 4.5h2M3 2.5h1"/><path d="M-1-3.5h1M3-2.5h1M4-.5h1M1 4.5h1"/><text transform="translate(.5 .6) rotate(-83) scale(.92 1)" y="2.35">13</text></g>
<g transform="translate(173 578)"><path d="M-5-2.5h1M-3-3.5h1M1-3.5h1M-5 3.5h1M-3 4.5h2M3 2.5h1"/><path d="M-1-3.5h1M3-2.5h1M4-.5h1M1 4.5h1"/><text transform="translate(.5 .6) rotate(-83) scale(.92 1)" y="2.35">14</text></g>
<g transform="translate(187 572)"><path d="M-5-2.5h1M-3-3.5h1M1-3.5h1M-5 3.5h1M-3 4.5h2M3 2.5h1"/><path d="M-1-3.5h1M3-2.5h1M4-.5h1M1 4.5h1"/><text transform="translate(.5 .6) rotate(-83) scale(.92 1)" y="2.35">15</text></g>
<g transform="translate(29 730)"><path d="M-5-2.5h1M-3-3.5h1M1-3.5h1M-5 3.5h1M-3 4.5h2M3 2.5h1"/><path d="M-1-3.5h1M3-2.5h1M4-.5h1M1 4.5h1"/><text transform="translate(.5 .6) rotate(-83) scale(.92 1)" y="2.35">1</text></g>
<g transform="translate(38 719)"><path d="M-5-2.5h1M-3-3.5h1M1-3.5h1M-5 3.5h1M-3 4.5h2M3 2.5h1"/><path d="M-1-3.5h1M3-2.5h1M4-.5h1M1 4.5h1"/><text transform="translate(.5 .6) rotate(-83) scale(.92 1)" y="2.35">2</text></g>
<g transform="translate(48 708)"><path d="M-5-2.5h1M-3-3.5h1M1-3.5h1M-5 3.5h1M-3 4.5h2M3 2.5h1"/><path d="M-1-3.5h1M3-2.5h1M4-.5h1M1 4.5h1"/><text transform="translate(.5 .6) rotate(-83) scale(.92 1)" y="2.35">3</text></g>
<g transform="translate(59 698)"><path d="M-5-2.5h1M-3-3.5h1M1-3.5h1M-5 3.5h1M-3 4.5h2M3 2.5h1"/><path d="M-1-3.5h1M3-2.5h1M4-.5h1M1 4.5h1"/><text transform="translate(.5 .6) rotate(-83) scale(.92 1)" y="2.35">4</text></g>
<g transform="translate(69 687)"><path d="M-5-2.5h1M-3-3.5h1M1-3.5h1M-5 3.5h1M-3 4.5h2M3 2.5h1"/><path d="M-1-3.5h1M3-2.5h1M4-.5h1M1 4.5h1"/><text transform="translate(.5 .6) rotate(-83) scale(.92 1)" y="2.35">5</text></g>
<g transform="translate(80 677)"><path d="M-5-2.5h1M-3-3.5h1M1-3.5h1M-5 3.5h1M-3 4.5h2M3 2.5h1"/><path d="M-1-3.5h1M3-2.5h1M4-.5h1M1 4.5h1"/><text transform="translate(.5 .6) rotate(-83) scale(.92 1)" y="2.35">6</text></g>
<g transform="translate(91 668)"><path d="M-5-2.5h1M-3-3.5h1M1-3.5h1M-5 3.5h1M-3 4.5h2M3 2.5h1"/><path d="M-1-3.5h1M3-2.5h1M4-.5h1M1 4.5h1"/><text transform="translate(.5 .6) rotate(-83) scale(.92 1)" y="2.35">7</text></g>
<g transform="translate(102 658)"><path d="M-5-2.5h1M-3-3.5h1M1-3.5h1M-5 3.5h1M-3 4.5h2M3 2.5h1"/><path d="M-1-3.5h1M3-2.5h1M4-.5h1M1 4.5h1"/><text transform="translate(.5 .6) rotate(-83) scale(.92 1)" y="2.35">8</text></g>
<g transform="translate(113 649)"><path d="M-5-2.5h1M-3-3.5h1M1-3.5h1M-5 3.5h1M-3 4.5h2M3 2.5h1"/><path d="M-1-3.5h1M3-2.5h1M4-.5h1M1 4.5h1"/><text transform="translate(.5 .6) rotate(-83) scale(.92 1)" y="2.35">9</text></g>
<g transform="translate(125 640)"><path d="M-5-2.5h1M-3-3.5h1M1-3.5h1M-5 3.5h1M-3 4.5h2M3 2.5h1"/><path d="M-1-3.5h1M3-2.5h1M4-.5h1M1 4.5h1"/><text transform="translate(.5 .6) rotate(-83) scale(.92 1)" y="2.35">10</text></g>
<g transform="translate(137 632)"><path d="M-5-2.5h1M-3-3.5h1M1-3.5h1M-5 3.5h1M-3 4.5h2M3 2.5h1"/><path d="M-1-3.5h1M3-2.5h1M4-.5h1M1 4.5h1"/><text transform="translate(.5 .6) rotate(-83) scale(.92 1)" y="2.35">11</text></g>
<g transform="translate(149 623)"><path d="M-5-2.5h1M-3-3.5h1M1-3.5h1M-5 3.5h1M-3 4.5h2M3 2.5h1"/><path d="M-1-3.5h1M3-2.5h1M4-.5h1M1 4.5h1"/><text transform="translate(.5 .6) rotate(-83) scale(.92 1)" y="2.35">12</text></g>
<g transform="translate(161 615)"><path d="M-5-2.5h1M-3-3.5h1M1-3.5h1M-5 3.5h1M-3 4.5h2M3 2.5h1"/><path d="M-1-3.5h1M3-2.5h1M4-.5h1M1 4.5h1"/><text transform="translate(.5 .6) rotate(-83) scale(.92 1)" y="2.35">13</text></g>
<g transform="translate(174 608)"><path d="M-5-2.5h1M-3-3.5h1M1-3.5h1M-5 3.5h1M-3 4.5h2M3 2.5h1"/><path d="M-1-3.5h1M3-2.5h1M4-.5h1M1 4.5h1"/><text transform="translate(.5 .6) rotate(-83) scale(.92 1)" y="2.35">14</text></g>
<g transform="translate(187 601)"><path d="M-5-2.5h1M-3-3.5h1M1-3.5h1M-5 3.5h1M-3 4.5h2M3 2.5h1"/><path d="M-1-3.5h1M3-2.5h1M4-.5h1M1 4.5h1"/><text transform="translate(.5 .6) rotate(-83) scale(.92 1)" y="2.35">15</text></g>
<g transform="translate(200 594)"><path d="M-5-2.5h1M-3-3.5h1M1-3.5h1M-5 3.5h1M-3 4.5h2M3 2.5h1"/><path d="M-1-3.5h1M3-2.5h1M4-.5h1M1 4.5h1"/><text transform="translate(.5 .6) rotate(-83) scale(.92 1)" y="2.35">16</text></g>
<g transform="translate(661 567)"><path d="M-5-2.5h1M-3-3.5h1M1-3.5h1M-5 3.5h1M-3 4.5h2M3 2.5h1"/><path d="M-1-3.5h1M3-2.5h1M4-.5h1M1 4.5h1"/><text transform="translate(.5 .6) rotate(-83) scale(.92 1)" y="2.35">1</text></g>
<g transform="translate(673 573)"><path d="M-5-2.5h1M-3-3.5h1M1-3.5h1M-5 3.5h1M-3 4.5h2M3 2.5h1"/><path d="M-1-3.5h1M3-2.5h1M4-.5h1M1 4.5h1"/><text transform="translate(.5 .6) rotate(-83) scale(.92 1)" y="2.35">2</text></g>
<g transform="translate(685 580)"><path d="M-5-2.5h1M-3-3.5h1M1-3.5h1M-5 3.5h1M-3 4.5h2M3 2.5h1"/><path d="M-1-3.5h1M3-2.5h1M4-.5h1M1 4.5h1"/><text transform="translate(.5 .6) rotate(-83) scale(.92 1)" y="2.35">3</text></g>
<g transform="translate(696 587)"><path d="M-5-2.5h1M-3-3.5h1M1-3.5h1M-5 3.5h1M-3 4.5h2M3 2.5h1"/><path d="M-1-3.5h1M3-2.5h1M4-.5h1M1 4.5h1"/><text transform="translate(.5 .6) rotate(-83) scale(.92 1)" y="2.35">4</text></g>
<g transform="translate(708 594)"><path d="M-5-2.5h1M-3-3.5h1M1-3.5h1M-5 3.5h1M-3 4.5h2M3 2.5h1"/><path d="M-1-3.5h1M3-2.5h1M4-.5h1M1 4.5h1"/><text transform="translate(.5 .6) rotate(-83) scale(.92 1)" y="2.35">5</text></g>
<g transform="translate(719 601)"><path d="M-5-2.5h1M-3-3.5h1M1-3.5h1M-5 3.5h1M-3 4.5h2M3 2.5h1"/><path d="M-1-3.5h1M3-2.5h1M4-.5h1M1 4.5h1"/><text transform="translate(.5 .6) rotate(-83) scale(.92 1)" y="2.35">6</text></g>
<g transform="translate(731 608)"><path d="M-5-2.5h1M-3-3.5h1M1-3.5h1M-5 3.5h1M-3 4.5h2M3 2.5h1"/><path d="M-1-3.5h1M3-2.5h1M4-.5h1M1 4.5h1"/><text transform="translate(.5 .6) rotate(-83) scale(.92 1)" y="2.35">7</text></g>
<g transform="translate(742 616)"><path d="M-5-2.5h1M-3-3.5h1M1-3.5h1M-5 3.5h1M-3 4.5h2M3 2.5h1"/><path d="M-1-3.5h1M3-2.5h1M4-.5h1M1 4.5h1"/><text transform="translate(.5 .6) rotate(-83) scale(.92 1)" y="2.35">8</text></g>
<g transform="translate(753 624)"><path d="M-5-2.5h1M-3-3.5h1M1-3.5h1M-5 3.5h1M-3 4.5h2M3 2.5h1"/><path d="M-1-3.5h1M3-2.5h1M4-.5h1M1 4.5h1"/><text transform="translate(.5 .6) rotate(-83) scale(.92 1)" y="2.35">9</text></g>
<g transform="translate(764 632)"><path d="M-5-2.5h1M-3-3.5h1M1-3.5h1M-5 3.5h1M-3 4.5h2M3 2.5h1"/><path d="M-1-3.5h1M3-2.5h1M4-.5h1M1 4.5h1"/><text transform="translate(.5 .6) rotate(-83) scale(.92 1)" y="2.35">10</text></g>
<g transform="translate(775 641)"><path d="M-5-2.5h1M-3-3.5h1M1-3.5h1M-5 3.5h1M-3 4.5h2M3 2.5h1"/><path d="M-1-3.5h1M3-2.5h1M4-.5h1M1 4.5h1"/><text transform="translate(.5 .6) rotate(-83) scale(.92 1)" y="2.35">11</text></g>
<g transform="translate(785 649)"><path d="M-5-2.5h1M-3-3.5h1M1-3.5h1M-5 3.5h1M-3 4.5h2M3 2.5h1"/><path d="M-1-3.5h1M3-2.5h1M4-.5h1M1 4.5h1"/><text transform="translate(.5 .6) rotate(-83) scale(.92 1)" y="2.35">12</text></g>
<g transform="translate(795 658)"><path d="M-5-2.5h1M-3-3.5h1M1-3.5h1M-5 3.5h1M-3 4.5h2M3 2.5h1"/><path d="M-1-3.5h1M3-2.5h1M4-.5h1M1 4.5h1"/><text transform="translate(.5 .6) rotate(-83) scale(.92 1)" y="2.35">13</text></g>
<g transform="translate(805 667)"><path d="M-5-2.5h1M-3-3.5h1M1-3.5h1M-5 3.5h1M-3 4.5h2M3 2.5h1"/><path d="M-1-3.5h1M3-2.5h1M4-.5h1M1 4.5h1"/><text transform="translate(.5 .6) rotate(-83) scale(.92 1)" y="2.35">14</text></g>
<g transform="translate(651 594)"><path d="M-5-2.5h1M-3-3.5h1M1-3.5h1M-5 3.5h1M-3 4.5h2M3 2.5h1"/><path d="M-1-3.5h1M3-2.5h1M4-.5h1M1 4.5h1"/><text transform="translate(.5 .6) rotate(-83) scale(.92 1)" y="2.35">1</text></g>
<g transform="translate(662 600)"><path d="M-5-2.5h1M-3-3.5h1M1-3.5h1M-5 3.5h1M-3 4.5h2M3 2.5h1"/><path d="M-1-3.5h1M3-2.5h1M4-.5h1M1 4.5h1"/><text transform="translate(.5 .6) rotate(-83) scale(.92 1)" y="2.35">2</text></g>
<g transform="translate(674 606)"><path d="M-5-2.5h1M-3-3.5h1M1-3.5h1M-5 3.5h1M-3 4.5h2M3 2.5h1"/><path d="M-1-3.5h1M3-2.5h1M4-.5h1M1 4.5h1"/><text transform="translate(.5 .6) rotate(-83) scale(.92 1)" y="2.35">3</text></g>
<g transform="translate(685 613)"><path d="M-5-2.5h1M-3-3.5h1M1-3.5h1M-5 3.5h1M-3 4.5h2M3 2.5h1"/><path d="M-1-3.5h1M3-2.5h1M4-.5h1M1 4.5h1"/><text transform="translate(.5 .6) rotate(-83) scale(.92 1)" y="2.35">4</text></g>
<g transform="translate(696 620)"><path d="M-5-2.5h1M-3-3.5h1M1-3.5h1M-5 3.5h1M-3 4.5h2M3 2.5h1"/><path d="M-1-3.5h1M3-2.5h1M4-.5h1M1 4.5h1"/><text transform="translate(.5 .6) rotate(-83) scale(.92 1)" y="2.35">5</text></g>
<g transform="translate(707 626)"><path d="M-5-2.5h1M-3-3.5h1M1-3.5h1M-5 3.5h1M-3 4.5h2M3 2.5h1"/><path d="M-1-3.5h1M3-2.5h1M4-.5h1M1 4.5h1"/><text transform="translate(.5 .6) rotate(-83) scale(.92 1)" y="2.35">6</text></g>
<g transform="translate(718 634)"><path d="M-5-2.5h1M-3-3.5h1M1-3.5h1M-5 3.5h1M-3 4.5h2M3 2.5h1"/><path d="M-1-3.5h1M3-2.5h1M4-.5h1M1 4.5h1"/><text transform="translate(.5 .6) rotate(-83) scale(.92 1)" y="2.35">7</text></g>
<g transform="translate(729 641)"><path d="M-5-2.5h1M-3-3.5h1M1-3.5h1M-5 3.5h1M-3 4.5h2M3 2.5h1"/><path d="M-1-3.5h1M3-2.5h1M4-.5h1M1 4.5h1"/><text transform="translate(.5 .6) rotate(-83) scale(.92 1)" y="2.35">8</text></g>
<g transform="translate(740 649)"><path d="M-5-2.5h1M-3-3.5h1M1-3.5h1M-5 3.5h1M-3 4.5h2M3 2.5h1"/><path d="M-1-3.5h1M3-2.5h1M4-.5h1M1 4.5h1"/><text transform="translate(.5 .6) rotate(-83) scale(.92 1)" y="2.35">9</text></g>
<g transform="translate(750 657)"><path d="M-5-2.5h1M-3-3.5h1M1-3.5h1M-5 3.5h1M-3 4.5h2M3 2.5h1"/><path d="M-1-3.5h1M3-2.5h1M4-.5h1M1 4.5h1"/><text transform="translate(.5 .6) rotate(-83) scale(.92 1)" y="2.35">10</text></g>
<g transform="translate(760 665)"><path d="M-5-2.5h1M-3-3.5h1M1-3.5h1M-5 3.5h1M-3 4.5h2M3 2.5h1"/><path d="M-1-3.5h1M3-2.5h1M4-.5h1M1 4.5h1"/><text transform="translate(.5 .6) rotate(-83) scale(.92 1)" y="2.35">11</text></g>
<g transform="translate(770 673)"><path d="M-5-2.5h1M-3-3.5h1M1-3.5h1M-5 3.5h1M-3 4.5h2M3 2.5h1"/><path d="M-1-3.5h1M3-2.5h1M4-.5h1M1 4.5h1"/><text transform="translate(.5 .6) rotate(-83) scale(.92 1)" y="2.35">12</text></g>
<g transform="translate(780 681)"><path d="M-5-2.5h1M-3-3.5h1M1-3.5h1M-5 3.5h1M-3 4.5h2M3 2.5h1"/><path d="M-1-3.5h1M3-2.5h1M4-.5h1M1 4.5h1"/><text transform="translate(.5 .6) rotate(-83) scale(.92 1)" y="2.35">13</text></g>
<g transform="translate(790 690)"><path d="M-5-2.5h1M-3-3.5h1M1-3.5h1M-5 3.5h1M-3 4.5h2M3 2.5h1"/><path d="M-1-3.5h1M3-2.5h1M4-.5h1M1 4.5h1"/><text transform="translate(.5 .6) rotate(-83) scale(.92 1)" y="2.35">14</text></g>
<g transform="translate(800 699)"><path d="M-5-2.5h1M-3-3.5h1M1-3.5h1M-5 3.5h1M-3 4.5h2M3 2.5h1"/><path d="M-1-3.5h1M3-2.5h1M4-.5h1M1 4.5h1"/><text transform="translate(.5 .6) rotate(-83) scale(.92 1)" y="2.35">15</text></g>
<g transform="translate(809 708)"><path d="M-5-2.5h1M-3-3.5h1M1-3.5h1M-5 3.5h1M-3 4.5h2M3 2.5h1"/><path d="M-1-3.5h1M3-2.5h1M4-.5h1M1 4.5h1"/><text transform="translate(.5 .6) rotate(-83) scale(.92 1)" y="2.35">16</text></g>
<g transform="translate(367 657)"><path d="M-5-2.5h1M-3-3.5h1M1-3.5h1M-5 3.5h1M-3 4.5h2M3 2.5h1"/><path d="M-1-3.5h1M3-2.5h1M4-.5h1M1 4.5h1"/><text transform="translate(.5 .6) rotate(-83) scale(.92 1)" y="2.35">1</text></g>
<g transform="translate(381 656)"><path d="M-5-2.5h1M-3-3.5h1M1-3.5h1M-5 3.5h1M-3 4.5h2M3 2.5h1"/><path d="M-1-3.5h1M3-2.5h1M4-.5h1M1 4.5h1"/><text transform="translate(.5 .6) rotate(-83) scale(.92 1)" y="2.35">2</text></g>
<g transform="translate(396 655)"><path d="M-5-2.5h1M-3-3.5h1M1-3.5h1M-5 3.5h1M-3 4.5h2M3 2.5h1"/><path d="M-1-3.5h1M3-2.5h1M4-.5h1M1 4.5h1"/><text transform="translate(.5 .6) rotate(-83) scale(.92 1)" y="2.35">3</text></g>
<g transform="translate(229 719)"><path d="M-5-2.5h1M-3-3.5h1M1-3.5h1M-5 3.5h1M-3 4.5h2M3 2.5h1"/><path d="M-1-3.5h1M3-2.5h1M4-.5h1M1 4.5h1"/><text transform="translate(.5 .6) rotate(-83) scale(.92 1)" y="2.35">1</text></g>
<g transform="translate(241 713)"><path d="M-5-2.5h1M-3-3.5h1M1-3.5h1M-5 3.5h1M-3 4.5h2M3 2.5h1"/><path d="M-1-3.5h1M3-2.5h1M4-.5h1M1 4.5h1"/><text transform="translate(.5 .6) rotate(-83) scale(.92 1)" y="2.35">2</text></g>
<g transform="translate(254 708)"><path d="M-5-2.5h1M-3-3.5h1M1-3.5h1M-5 3.5h1M-3 4.5h2M3 2.5h1"/><path d="M-1-3.5h1M3-2.5h1M4-.5h1M1 4.5h1"/><text transform="translate(.5 .6) rotate(-83) scale(.92 1)" y="2.35">3</text></g>
<g transform="translate(266 703)"><path d="M-5-2.5h1M-3-3.5h1M1-3.5h1M-5 3.5h1M-3 4.5h2M3 2.5h1"/><path d="M-1-3.5h1M3-2.5h1M4-.5h1M1 4.5h1"/><text transform="translate(.5 .6) rotate(-83) scale(.92 1)" y="2.35">4</text></g>
<g transform="translate(279 699)"><path d="M-5-2.5h1M-3-3.5h1M1-3.5h1M-5 3.5h1M-3 4.5h2M3 2.5h1"/><path d="M-1-3.5h1M3-2.5h1M4-.5h1M1 4.5h1"/><text transform="translate(.5 .6) rotate(-83) scale(.92 1)" y="2.35">5</text></g>
<g transform="translate(291 695)"><path d="M-5-2.5h1M-3-3.5h1M1-3.5h1M-5 3.5h1M-3 4.5h2M3 2.5h1"/><path d="M-1-3.5h1M3-2.5h1M4-.5h1M1 4.5h1"/><text transform="translate(.5 .6) rotate(-83) scale(.92 1)" y="2.35">6</text></g>
<g transform="translate(304 691)"><path d="M-5-2.5h1M-3-3.5h1M1-3.5h1M-5 3.5h1M-3 4.5h2M3 2.5h1"/><path d="M-1-3.5h1M3-2.5h1M4-.5h1M1 4.5h1"/><text transform="translate(.5 .6) rotate(-83) scale(.92 1)" y="2.35">7</text></g>
<g transform="translate(317 687)"><path d="M-5-2.5h1M-3-3.5h1M1-3.5h1M-5 3.5h1M-3 4.5h2M3 2.5h1"/><path d="M-1-3.5h1M3-2.5h1M4-.5h1M1 4.5h1"/><text transform="translate(.5 .6) rotate(-83) scale(.92 1)" y="2.35">8</text></g>
<g transform="translate(330 685)"><path d="M-5-2.5h1M-3-3.5h1M1-3.5h1M-5 3.5h1M-3 4.5h2M3 2.5h1"/><path d="M-1-3.5h1M3-2.5h1M4-.5h1M1 4.5h1"/><text transform="translate(.5 .6) rotate(-83) scale(.92 1)" y="2.35">9</text></g>
<g transform="translate(343 682)"><path d="M-5-2.5h1M-3-3.5h1M1-3.5h1M-5 3.5h1M-3 4.5h2M3 2.5h1"/><path d="M-1-3.5h1M3-2.5h1M4-.5h1M1 4.5h1"/><text transform="translate(.5 .6) rotate(-83) scale(.92 1)" y="2.35">10</text></g>
<g transform="translate(356 680)"><path d="M-5-2.5h1M-3-3.5h1M1-3.5h1M-5 3.5h1M-3 4.5h2M3 2.5h1"/><path d="M-1-3.5h1M3-2.5h1M4-.5h1M1 4.5h1"/><text transform="translate(.5 .6) rotate(-83) scale(.92 1)" y="2.35">11</text></g>
<g transform="translate(369 678)"><path d="M-5-2.5h1M-3-3.5h1M1-3.5h1M-5 3.5h1M-3 4.5h2M3 2.5h1"/><path d="M-1-3.5h1M3-2.5h1M4-.5h1M1 4.5h1"/><text transform="translate(.5 .6) rotate(-83) scale(.92 1)" y="2.35">12</text></g>
<g transform="translate(383 677)"><path d="M-5-2.5h1M-3-3.5h1M1-3.5h1M-5 3.5h1M-3 4.5h2M3 2.5h1"/><path d="M-1-3.5h1M3-2.5h1M4-.5h1M1 4.5h1"/><text transform="translate(.5 .6) rotate(-83) scale(.92 1)" y="2.35">13</text></g>
<g transform="translate(396 676)"><path d="M-5-2.5h1M-3-3.5h1M1-3.5h1M-5 3.5h1M-3 4.5h2M3 2.5h1"/><path d="M-1-3.5h1M3-2.5h1M4-.5h1M1 4.5h1"/><text transform="translate(.5 .6) rotate(-83) scale(.92 1)" y="2.35">14</text></g>
<g transform="translate(210 751)"><path d="M-5-2.5h1M-3-3.5h1M1-3.5h1M-5 3.5h1M-3 4.5h2M3 2.5h1"/><path d="M-1-3.5h1M3-2.5h1M4-.5h1M1 4.5h1"/><text transform="translate(.5 .6) rotate(-83) scale(.92 1)" y="2.35">1</text></g>
<g transform="translate(245 733)"><path d="M-5-2.5h1M-3-3.5h1M1-3.5h1M-5 3.5h1M-3 4.5h2M3 2.5h1"/><path d="M-1-3.5h1M3-2.5h1M4-.5h1M1 4.5h1"/><text transform="translate(.5 .6) rotate(-83) scale(.92 1)" y="2.35">2</text></g>
<g transform="translate(257 727)"><path d="M-5-2.5h1M-3-3.5h1M1-3.5h1M-5 3.5h1M-3 4.5h2M3 2.5h1"/><path d="M-1-3.5h1M3-2.5h1M4-.5h1M1 4.5h1"/><text transform="translate(.5 .6) rotate(-83) scale(.92 1)" y="2.35">3</text></g>
<g transform="translate(269 722)"><path d="M-5-2.5h1M-3-3.5h1M1-3.5h1M-5 3.5h1M-3 4.5h2M3 2.5h1"/><path d="M-1-3.5h1M3-2.5h1M4-.5h1M1 4.5h1"/><text transform="translate(.5 .6) rotate(-83) scale(.92 1)" y="2.35">4</text></g>
<g transform="translate(281 718)"><path d="M-5-2.5h1M-3-3.5h1M1-3.5h1M-5 3.5h1M-3 4.5h2M3 2.5h1"/><path d="M-1-3.5h1M3-2.5h1M4-.5h1M1 4.5h1"/><text transform="translate(.5 .6) rotate(-83) scale(.92 1)" y="2.35">5</text></g>
<g transform="translate(294 714)"><path d="M-5-2.5h1M-3-3.5h1M1-3.5h1M-5 3.5h1M-3 4.5h2M3 2.5h1"/><path d="M-1-3.5h1M3-2.5h1M4-.5h1M1 4.5h1"/><text transform="translate(.5 .6) rotate(-83) scale(.92 1)" y="2.35">6</text></g>
<g transform="translate(306 710)"><path d="M-5-2.5h1M-3-3.5h1M1-3.5h1M-5 3.5h1M-3 4.5h2M3 2.5h1"/><path d="M-1-3.5h1M3-2.5h1M4-.5h1M1 4.5h1"/><text transform="translate(.5 .6) rotate(-83) scale(.92 1)" y="2.35">7</text></g>
<g transform="translate(319 707)"><path d="M-5-2.5h1M-3-3.5h1M1-3.5h1M-5 3.5h1M-3 4.5h2M3 2.5h1"/><path d="M-1-3.5h1M3-2.5h1M4-.5h1M1 4.5h1"/><text transform="translate(.5 .6) rotate(-83) scale(.92 1)" y="2.35">8</text></g>
<g transform="translate(332 704)"><path d="M-5-2.5h1M-3-3.5h1M1-3.5h1M-5 3.5h1M-3 4.5h2M3 2.5h1"/><path d="M-1-3.5h1M3-2.5h1M4-.5h1M1 4.5h1"/><text transform="translate(.5 .6) rotate(-83) scale(.92 1)" y="2.35">9</text></g>
<g transform="translate(344 701)"><path d="M-5-2.5h1M-3-3.5h1M1-3.5h1M-5 3.5h1M-3 4.5h2M3 2.5h1"/><path d="M-1-3.5h1M3-2.5h1M4-.5h1M1 4.5h1"/><text transform="translate(.5 .6) rotate(-83) scale(.92 1)" y="2.35">10</text></g>
<g transform="translate(357 699)"><path d="M-5-2.5h1M-3-3.5h1M1-3.5h1M-5 3.5h1M-3 4.5h2M3 2.5h1"/><path d="M-1-3.5h1M3-2.5h1M4-.5h1M1 4.5h1"/><text transform="translate(.5 .6) rotate(-83) scale(.92 1)" y="2.35">11</text></g>
<g transform="translate(370 697)"><path d="M-5-2.5h1M-3-3.5h1M1-3.5h1M-5 3.5h1M-3 4.5h2M3 2.5h1"/><path d="M-1-3.5h1M3-2.5h1M4-.5h1M1 4.5h1"/><text transform="translate(.5 .6) rotate(-83) scale(.92 1)" y="2.35">12</text></g>
<g transform="translate(383 696)"><path d="M-5-2.5h1M-3-3.5h1M1-3.5h1M-5 3.5h1M-3 4.5h2M3 2.5h1"/><path d="M-1-3.5h1M3-2.5h1M4-.5h1M1 4.5h1"/><text transform="translate(.5 .6) rotate(-83) scale(.92 1)" y="2.35">13</text></g>
<g transform="translate(396 695)"><path d="M-5-2.5h1M-3-3.5h1M1-3.5h1M-5 3.5h1M-3 4.5h2M3 2.5h1"/><path d="M-1-3.5h1M3-2.5h1M4-.5h1M1 4.5h1"/><text transform="translate(.5 .6) rotate(-83) scale(.92 1)" y="2.35">14</text></g>
<g transform="translate(174 797)"><path d="M-5-2.5h1M-3-3.5h1M1-3.5h1M-5 3.5h1M-3 4.5h2M3 2.5h1"/><path d="M-1-3.5h1M3-2.5h1M4-.5h1M1 4.5h1"/><text transform="translate(.5 .6) rotate(-83) scale(.92 1)" y="2.35">1</text></g>
<g transform="translate(185 790)"><path d="M-5-2.5h1M-3-3.5h1M1-3.5h1M-5 3.5h1M-3 4.5h2M3 2.5h1"/><path d="M-1-3.5h1M3-2.5h1M4-.5h1M1 4.5h1"/><text transform="translate(.5 .6) rotate(-83) scale(.92 1)" y="2.35">2</text></g>
<g transform="translate(195 782)"><path d="M-5-2.5h1M-3-3.5h1M1-3.5h1M-5 3.5h1M-3 4.5h2M3 2.5h1"/><path d="M-1-3.5h1M3-2.5h1M4-.5h1M1 4.5h1"/><text transform="translate(.5 .6) rotate(-83) scale(.92 1)" y="2.35">3</text></g>
<g transform="translate(206 775)"><path d="M-5-2.5h1M-3-3.5h1M1-3.5h1M-5 3.5h1M-3 4.5h2M3 2.5h1"/><path d="M-1-3.5h1M3-2.5h1M4-.5h1M1 4.5h1"/><text transform="translate(.5 .6) rotate(-83) scale(.92 1)" y="2.35">4</text></g>
<g transform="translate(217 768)"><path d="M-5-2.5h1M-3-3.5h1M1-3.5h1M-5 3.5h1M-3 4.5h2M3 2.5h1"/><path d="M-1-3.5h1M3-2.5h1M4-.5h1M1 4.5h1"/><text transform="translate(.5 .6) rotate(-83) scale(.92 1)" y="2.35">5</text></g>
<g transform="translate(240 756)"><path d="M-5-2.5h1M-3-3.5h1M1-3.5h1M-5 3.5h1M-3 4.5h2M3 2.5h1"/><path d="M-1-3.5h1M3-2.5h1M4-.5h1M1 4.5h1"/><text transform="translate(.5 .6) rotate(-83) scale(.92 1)" y="2.35">6</text></g>
<g transform="translate(252 750)"><path d="M-5-2.5h1M-3-3.5h1M1-3.5h1M-5 3.5h1M-3 4.5h2M3 2.5h1"/><path d="M-1-3.5h1M3-2.5h1M4-.5h1M1 4.5h1"/><text transform="translate(.5 .6) rotate(-83) scale(.92 1)" y="2.35">7</text></g>
<g transform="translate(264 745)"><path d="M-5-2.5h1M-3-3.5h1M1-3.5h1M-5 3.5h1M-3 4.5h2M3 2.5h1"/><path d="M-1-3.5h1M3-2.5h1M4-.5h1M1 4.5h1"/><text transform="translate(.5 .6) rotate(-83) scale(.92 1)" y="2.35">8</text></g>
<g transform="translate(276 740)"><path d="M-5-2.5h1M-3-3.5h1M1-3.5h1M-5 3.5h1M-3 4.5h2M3 2.5h1"/><path d="M-1-3.5h1M3-2.5h1M4-.5h1M1 4.5h1"/><text transform="translate(.5 .6) rotate(-83) scale(.92 1)" y="2.35">9</text></g>
<g transform="translate(288 735)"><path d="M-5-2.5h1M-3-3.5h1M1-3.5h1M-5 3.5h1M-3 4.5h2M3 2.5h1"/><path d="M-1-3.5h1M3-2.5h1M4-.5h1M1 4.5h1"/><text transform="translate(.5 .6) rotate(-83) scale(.92 1)" y="2.35">10</text></g>
<g transform="translate(301 731)"><path d="M-5-2.5h1M-3-3.5h1M1-3.5h1M-5 3.5h1M-3 4.5h2M3 2.5h1"/><path d="M-1-3.5h1M3-2.5h1M4-.5h1M1 4.5h1"/><text transform="translate(.5 .6) rotate(-83) scale(.92 1)" y="2.35">11</text></g>
<g transform="translate(313 728)"><path d="M-5-2.5h1M-3-3.5h1M1-3.5h1M-5 3.5h1M-3 4.5h2M3 2.5h1"/><path d="M-1-3.5h1M3-2.5h1M4-.5h1M1 4.5h1"/><text transform="translate(.5 .6) rotate(-83) scale(.92 1)" y="2.35">12</text></g>
<g transform="translate(326 724)"><path d="M-5-2.5h1M-3-3.5h1M1-3.5h1M-5 3.5h1M-3 4.5h2M3 2.5h1"/><path d="M-1-3.5h1M3-2.5h1M4-.5h1M1 4.5h1"/><text transform="translate(.5 .6) rotate(-83) scale(.92 1)" y="2.35">13</text></g>
<g transform="translate(339 721)"><path d="M-5-2.5h1M-3-3.5h1M1-3.5h1M-5 3.5h1M-3 4.5h2M3 2.5h1"/><path d="M-1-3.5h1M3-2.5h1M4-.5h1M1 4.5h1"/><text transform="translate(.5 .6) rotate(-83) scale(.92 1)" y="2.35">14</text></g>
<g transform="translate(351 719)"><path d="M-5-2.5h1M-3-3.5h1M1-3.5h1M-5 3.5h1M-3 4.5h2M3 2.5h1"/><path d="M-1-3.5h1M3-2.5h1M4-.5h1M1 4.5h1"/><text transform="translate(.5 .6) rotate(-83) scale(.92 1)" y="2.35">15</text></g>
<g transform="translate(364 717)"><path d="M-5-2.5h1M-3-3.5h1M1-3.5h1M-5 3.5h1M-3 4.5h2M3 2.5h1"/><path d="M-1-3.5h1M3-2.5h1M4-.5h1M1 4.5h1"/><text transform="translate(.5 .6) rotate(-83) scale(.92 1)" y="2.35">16</text></g>
<g transform="translate(377 715)"><path d="M-5-2.5h1M-3-3.5h1M1-3.5h1M-5 3.5h1M-3 4.5h2M3 2.5h1"/><path d="M-1-3.5h1M3-2.5h1M4-.5h1M1 4.5h1"/><text transform="translate(.5 .6) rotate(-83) scale(.92 1)" y="2.35">17</text></g>
<g transform="translate(390 714)"><path d="M-5-2.5h1M-3-3.5h1M1-3.5h1M-5 3.5h1M-3 4.5h2M3 2.5h1"/><path d="M-1-3.5h1M3-2.5h1M4-.5h1M1 4.5h1"/><text transform="translate(.5 .6) rotate(-83) scale(.92 1)" y="2.35">18</text></g>
<g transform="translate(403 713)"><path d="M-5-2.5h1M-3-3.5h1M1-3.5h1M-5 3.5h1M-3 4.5h2M3 2.5h1"/><path d="M-1-3.5h1M3-2.5h1M4-.5h1M1 4.5h1"/><text transform="translate(.5 .6) rotate(-83) scale(.92 1)" y="2.35">19</text></g>
<g transform="translate(148 848)"><path d="M-5-2.5h1M-3-3.5h1M1-3.5h1M-5 3.5h1M-3 4.5h2M3 2.5h1"/><path d="M-1-3.5h1M3-2.5h1M4-.5h1M1 4.5h1"/><text transform="translate(.5 .6) rotate(-83) scale(.92 1)" y="2.35">1</text></g>
<g transform="translate(157 839)"><path d="M-5-2.5h1M-3-3.5h1M1-3.5h1M-5 3.5h1M-3 4.5h2M3 2.5h1"/><path d="M-1-3.5h1M3-2.5h1M4-.5h1M1 4.5h1"/><text transform="translate(.5 .6) rotate(-83) scale(.92 1)" y="2.35">2</text></g>
<g transform="translate(167 830)"><path d="M-5-2.5h1M-3-3.5h1M1-3.5h1M-5 3.5h1M-3 4.5h2M3 2.5h1"/><path d="M-1-3.5h1M3-2.5h1M4-.5h1M1 4.5h1"/><text transform="translate(.5 .6) rotate(-83) scale(.92 1)" y="2.35">3</text></g>
<g transform="translate(177 821)"><path d="M-5-2.5h1M-3-3.5h1M1-3.5h1M-5 3.5h1M-3 4.5h2M3 2.5h1"/><path d="M-1-3.5h1M3-2.5h1M4-.5h1M1 4.5h1"/><text transform="translate(.5 .6) rotate(-83) scale(.92 1)" y="2.35">4</text></g>
<g transform="translate(187 813)"><path d="M-5-2.5h1M-3-3.5h1M1-3.5h1M-5 3.5h1M-3 4.5h2M3 2.5h1"/><path d="M-1-3.5h1M3-2.5h1M4-.5h1M1 4.5h1"/><text transform="translate(.5 .6) rotate(-83) scale(.92 1)" y="2.35">5</text></g>
<g transform="translate(198 805)"><path d="M-5-2.5h1M-3-3.5h1M1-3.5h1M-5 3.5h1M-3 4.5h2M3 2.5h1"/><path d="M-1-3.5h1M3-2.5h1M4-.5h1M1 4.5h1"/><text transform="translate(.5 .6) rotate(-83) scale(.92 1)" y="2.35">6</text></g>
<g transform="translate(209 797)"><path d="M-5-2.5h1M-3-3.5h1M1-3.5h1M-5 3.5h1M-3 4.5h2M3 2.5h1"/><path d="M-1-3.5h1M3-2.5h1M4-.5h1M1 4.5h1"/><text transform="translate(.5 .6) rotate(-83) scale(.92 1)" y="2.35">7</text></g>
<g transform="translate(220 790)"><path d="M-5-2.5h1M-3-3.5h1M1-3.5h1M-5 3.5h1M-3 4.5h2M3 2.5h1"/><path d="M-1-3.5h1M3-2.5h1M4-.5h1M1 4.5h1"/><text transform="translate(.5 .6) rotate(-83) scale(.92 1)" y="2.35">8</text></g>
<g transform="translate(232 783)"><path d="M-5-2.5h1M-3-3.5h1M1-3.5h1M-5 3.5h1M-3 4.5h2M3 2.5h1"/><path d="M-1-3.5h1M3-2.5h1M4-.5h1M1 4.5h1"/><text transform="translate(.5 .6) rotate(-83) scale(.92 1)" y="2.35">9</text></g>
<g transform="translate(255 771)"><path d="M-5-2.5h1M-3-3.5h1M1-3.5h1M-5 3.5h1M-3 4.5h2M3 2.5h1"/><path d="M-1-3.5h1M3-2.5h1M4-.5h1M1 4.5h1"/><text transform="translate(.5 .6) rotate(-83) scale(.92 1)" y="2.35">10</text></g>
<g transform="translate(268 765)"><path d="M-5-2.5h1M-3-3.5h1M1-3.5h1M-5 3.5h1M-3 4.5h2M3 2.5h1"/><path d="M-1-3.5h1M3-2.5h1M4-.5h1M1 4.5h1"/><text transform="translate(.5 .6) rotate(-83) scale(.92 1)" y="2.35">11</text></g>
<g transform="translate(280 760)"><path d="M-5-2.5h1M-3-3.5h1M1-3.5h1M-5 3.5h1M-3 4.5h2M3 2.5h1"/><path d="M-1-3.5h1M3-2.5h1M4-.5h1M1 4.5h1"/><text transform="translate(.5 .6) rotate(-83) scale(.92 1)" y="2.35">12</text></g>
<g transform="translate(292 755)"><path d="M-5-2.5h1M-3-3.5h1M1-3.5h1M-5 3.5h1M-3 4.5h2M3 2.5h1"/><path d="M-1-3.5h1M3-2.5h1M4-.5h1M1 4.5h1"/><text transform="translate(.5 .6) rotate(-83) scale(.92 1)" y="2.35">13</text></g>
<g transform="translate(305 751)"><path d="M-5-2.5h1M-3-3.5h1M1-3.5h1M-5 3.5h1M-3 4.5h2M3 2.5h1"/><path d="M-1-3.5h1M3-2.5h1M4-.5h1M1 4.5h1"/><text transform="translate(.5 .6) rotate(-83) scale(.92 1)" y="2.35">14</text></g>
<g transform="translate(318 747)"><path d="M-5-2.5h1M-3-3.5h1M1-3.5h1M-5 3.5h1M-3 4.5h2M3 2.5h1"/><path d="M-1-3.5h1M3-2.5h1M4-.5h1M1 4.5h1"/><text transform="translate(.5 .6) rotate(-83) scale(.92 1)" y="2.35">15</text></g>
<g transform="translate(330 744)"><path d="M-5-2.5h1M-3-3.5h1M1-3.5h1M-5 3.5h1M-3 4.5h2M3 2.5h1"/><path d="M-1-3.5h1M3-2.5h1M4-.5h1M1 4.5h1"/><text transform="translate(.5 .6) rotate(-83) scale(.92 1)" y="2.35">16</text></g>
<g transform="translate(343 741)"><path d="M-5-2.5h1M-3-3.5h1M1-3.5h1M-5 3.5h1M-3 4.5h2M3 2.5h1"/><path d="M-1-3.5h1M3-2.5h1M4-.5h1M1 4.5h1"/><text transform="translate(.5 .6) rotate(-83) scale(.92 1)" y="2.35">17</text></g>
<g transform="translate(356 738)"><path d="M-5-2.5h1M-3-3.5h1M1-3.5h1M-5 3.5h1M-3 4.5h2M3 2.5h1"/><path d="M-1-3.5h1M3-2.5h1M4-.5h1M1 4.5h1"/><text transform="translate(.5 .6) rotate(-83) scale(.92 1)" y="2.35">18</text></g>
<g transform="translate(369 736)"><path d="M-5-2.5h1M-3-3.5h1M1-3.5h1M-5 3.5h1M-3 4.5h2M3 2.5h1"/><path d="M-1-3.5h1M3-2.5h1M4-.5h1M1 4.5h1"/><text transform="translate(.5 .6) rotate(-83) scale(.92 1)" y="2.35">19</text></g>
<g transform="translate(383 735)"><path d="M-5-2.5h1M-3-3.5h1M1-3.5h1M-5 3.5h1M-3 4.5h2M3 2.5h1"/><path d="M-1-3.5h1M3-2.5h1M4-.5h1M1 4.5h1"/><text transform="translate(.5 .6) rotate(-83) scale(.92 1)" y="2.35">20</text></g>
<g transform="translate(396 734)"><path d="M-5-2.5h1M-3-3.5h1M1-3.5h1M-5 3.5h1M-3 4.5h2M3 2.5h1"/><path d="M-1-3.5h1M3-2.5h1M4-.5h1M1 4.5h1"/><text transform="translate(.5 .6) rotate(-83) scale(.92 1)" y="2.35">21</text></g>
<g transform="translate(409 733)"><path d="M-5-2.5h1M-3-3.5h1M1-3.5h1M-5 3.5h1M-3 4.5h2M3 2.5h1"/><path d="M-1-3.5h1M3-2.5h1M4-.5h1M1 4.5h1"/><text transform="translate(.5 .6) rotate(-83) scale(.92 1)" y="2.35">22</text></g>
<g transform="translate(159 864)"><path d="M-5-2.5h1M-3-3.5h1M1-3.5h1M-5 3.5h1M-3 4.5h2M3 2.5h1"/><path d="M-1-3.5h1M3-2.5h1M4-.5h1M1 4.5h1"/><text transform="translate(.5 .6) rotate(-83) scale(.92 1)" y="2.35">1</text></g>
<g transform="translate(167 856)"><path d="M-5-2.5h1M-3-3.5h1M1-3.5h1M-5 3.5h1M-3 4.5h2M3 2.5h1"/><path d="M-1-3.5h1M3-2.5h1M4-.5h1M1 4.5h1"/><text transform="translate(.5 .6) rotate(-83) scale(.92 1)" y="2.35">2</text></g>
<g transform="translate(176 847)"><path d="M-5-2.5h1M-3-3.5h1M1-3.5h1M-5 3.5h1M-3 4.5h2M3 2.5h1"/><path d="M-1-3.5h1M3-2.5h1M4-.5h1M1 4.5h1"/><text transform="translate(.5 .6) rotate(-83) scale(.92 1)" y="2.35">3</text></g>
<g transform="translate(185 839)"><path d="M-5-2.5h1M-3-3.5h1M1-3.5h1M-5 3.5h1M-3 4.5h2M3 2.5h1"/><path d="M-1-3.5h1M3-2.5h1M4-.5h1M1 4.5h1"/><text transform="translate(.5 .6) rotate(-83) scale(.92 1)" y="2.35">4</text></g>
<g transform="translate(195 831)"><path d="M-5-2.5h1M-3-3.5h1M1-3.5h1M-5 3.5h1M-3 4.5h2M3 2.5h1"/><path d="M-1-3.5h1M3-2.5h1M4-.5h1M1 4.5h1"/><text transform="translate(.5 .6) rotate(-83) scale(.92 1)" y="2.35">5</text></g>
<g transform="translate(205 824)"><path d="M-5-2.5h1M-3-3.5h1M1-3.5h1M-5 3.5h1M-3 4.5h2M3 2.5h1"/><path d="M-1-3.5h1M3-2.5h1M4-.5h1M1 4.5h1"/><text transform="translate(.5 .6) rotate(-83) scale(.92 1)" y="2.35">6</text></g>
<g transform="translate(214 817)"><path d="M-5-2.5h1M-3-3.5h1M1-3.5h1M-5 3.5h1M-3 4.5h2M3 2.5h1"/><path d="M-1-3.5h1M3-2.5h1M4-.5h1M1 4.5h1"/><text transform="translate(.5 .6) rotate(-83) scale(.92 1)" y="2.35">7</text></g>
<g transform="translate(225 810)"><path d="M-5-2.5h1M-3-3.5h1M1-3.5h1M-5 3.5h1M-3 4.5h2M3 2.5h1"/><path d="M-1-3.5h1M3-2.5h1M4-.5h1M1 4.5h1"/><text transform="translate(.5 .6) rotate(-83) scale(.92 1)" y="2.35">8</text></g>
<g transform="translate(235 803)"><path d="M-5-2.5h1M-3-3.5h1M1-3.5h1M-5 3.5h1M-3 4.5h2M3 2.5h1"/><path d="M-1-3.5h1M3-2.5h1M4-.5h1M1 4.5h1"/><text transform="translate(.5 .6) rotate(-83) scale(.92 1)" y="2.35">9</text></g>
<g transform="translate(257 791)"><path d="M-5-2.5h1M-3-3.5h1M1-3.5h1M-5 3.5h1M-3 4.5h2M3 2.5h1"/><path d="M-1-3.5h1M3-2.5h1M4-.5h1M1 4.5h1"/><text transform="translate(.5 .6) rotate(-83) scale(.92 1)" y="2.35">10</text></g>
<g transform="translate(268 786)"><path d="M-5-2.5h1M-3-3.5h1M1-3.5h1M-5 3.5h1M-3 4.5h2M3 2.5h1"/><path d="M-1-3.5h1M3-2.5h1M4-.5h1M1 4.5h1"/><text transform="translate(.5 .6) rotate(-83) scale(.92 1)" y="2.35">11</text></g>
<g transform="translate(279 781)"><path d="M-5-2.5h1M-3-3.5h1M1-3.5h1M-5 3.5h1M-3 4.5h2M3 2.5h1"/><path d="M-1-3.5h1M3-2.5h1M4-.5h1M1 4.5h1"/><text transform="translate(.5 .6) rotate(-83) scale(.92 1)" y="2.35">12</text></g>
<g transform="translate(290 776)"><path d="M-5-2.5h1M-3-3.5h1M1-3.5h1M-5 3.5h1M-3 4.5h2M3 2.5h1"/><path d="M-1-3.5h1M3-2.5h1M4-.5h1M1 4.5h1"/><text transform="translate(.5 .6) rotate(-83) scale(.92 1)" y="2.35">13</text></g>
<g transform="translate(302 772)"><path d="M-5-2.5h1M-3-3.5h1M1-3.5h1M-5 3.5h1M-3 4.5h2M3 2.5h1"/><path d="M-1-3.5h1M3-2.5h1M4-.5h1M1 4.5h1"/><text transform="translate(.5 .6) rotate(-83) scale(.92 1)" y="2.35">14</text></g>
<g transform="translate(313 768)"><path d="M-5-2.5h1M-3-3.5h1M1-3.5h1M-5 3.5h1M-3 4.5h2M3 2.5h1"/><path d="M-1-3.5h1M3-2.5h1M4-.5h1M1 4.5h1"/><text transform="translate(.5 .6) rotate(-83) scale(.92 1)" y="2.35">15</text></g>
<g transform="translate(325 765)"><path d="M-5-2.5h1M-3-3.5h1M1-3.5h1M-5 3.5h1M-3 4.5h2M3 2.5h1"/><path d="M-1-3.5h1M3-2.5h1M4-.5h1M1 4.5h1"/><text transform="translate(.5 .6) rotate(-83) scale(.92 1)" y="2.35">16</text></g>
<g transform="translate(337 762)"><path d="M-5-2.5h1M-3-3.5h1M1-3.5h1M-5 3.5h1M-3 4.5h2M3 2.5h1"/><path d="M-1-3.5h1M3-2.5h1M4-.5h1M1 4.5h1"/><text transform="translate(.5 .6) rotate(-83) scale(.92 1)" y="2.35">17</text></g>
<g transform="translate(349 759)"><path d="M-5-2.5h1M-3-3.5h1M1-3.5h1M-5 3.5h1M-3 4.5h2M3 2.5h1"/><path d="M-1-3.5h1M3-2.5h1M4-.5h1M1 4.5h1"/><text transform="translate(.5 .6) rotate(-83) scale(.92 1)" y="2.35">18</text></g>
<g transform="translate(361 757)"><path d="M-5-2.5h1M-3-3.5h1M1-3.5h1M-5 3.5h1M-3 4.5h2M3 2.5h1"/><path d="M-1-3.5h1M3-2.5h1M4-.5h1M1 4.5h1"/><text transform="translate(.5 .6) rotate(-83) scale(.92 1)" y="2.35">19</text></g>
<g transform="translate(373 755)"><path d="M-5-2.5h1M-3-3.5h1M1-3.5h1M-5 3.5h1M-3 4.5h2M3 2.5h1"/><path d="M-1-3.5h1M3-2.5h1M4-.5h1M1 4.5h1"/><text transform="translate(.5 .6) rotate(-83) scale(.92 1)" y="2.35">20</text></g>
<g transform="translate(386 754)"><path d="M-5-2.5h1M-3-3.5h1M1-3.5h1M-5 3.5h1M-3 4.5h2M3 2.5h1"/><path d="M-1-3.5h1M3-2.5h1M4-.5h1M1 4.5h1"/><text transform="translate(.5 .6) rotate(-83) scale(.92 1)" y="2.35">21</text></g>
<g transform="translate(398 753)"><path d="M-5-2.5h1M-3-3.5h1M1-3.5h1M-5 3.5h1M-3 4.5h2M3 2.5h1"/><path d="M-1-3.5h1M3-2.5h1M4-.5h1M1 4.5h1"/><text transform="translate(.5 .6) rotate(-83) scale(.92 1)" y="2.35">22</text></g>
<g transform="translate(410 752)"><path d="M-5-2.5h1M-3-3.5h1M1-3.5h1M-5 3.5h1M-3 4.5h2M3 2.5h1"/><path d="M-1-3.5h1M3-2.5h1M4-.5h1M1 4.5h1"/><text transform="translate(.5 .6) rotate(-83) scale(.92 1)" y="2.35">23</text></g>
<g transform="translate(189 862)"><path d="M-5-2.5h1M-3-3.5h1M1-3.5h1M-5 3.5h1M-3 4.5h2M3 2.5h1"/><path d="M-1-3.5h1M3-2.5h1M4-.5h1M1 4.5h1"/><text transform="translate(.5 .6) rotate(-83) scale(.92 1)" y="2.35">1</text></g>
<g transform="translate(198 854)"><path d="M-5-2.5h1M-3-3.5h1M1-3.5h1M-5 3.5h1M-3 4.5h2M3 2.5h1"/><path d="M-1-3.5h1M3-2.5h1M4-.5h1M1 4.5h1"/><text transform="translate(.5 .6) rotate(-83) scale(.92 1)" y="2.35">2</text></g>
<g transform="translate(207 847)"><path d="M-5-2.5h1M-3-3.5h1M1-3.5h1M-5 3.5h1M-3 4.5h2M3 2.5h1"/><path d="M-1-3.5h1M3-2.5h1M4-.5h1M1 4.5h1"/><text transform="translate(.5 .6) rotate(-83) scale(.92 1)" y="2.35">3</text></g>
<g transform="translate(216 840)"><path d="M-5-2.5h1M-3-3.5h1M1-3.5h1M-5 3.5h1M-3 4.5h2M3 2.5h1"/><path d="M-1-3.5h1M3-2.5h1M4-.5h1M1 4.5h1"/><text transform="translate(.5 .6) rotate(-83) scale(.92 1)" y="2.35">4</text></g>
<g transform="translate(226 833)"><path d="M-5-2.5h1M-3-3.5h1M1-3.5h1M-5 3.5h1M-3 4.5h2M3 2.5h1"/><path d="M-1-3.5h1M3-2.5h1M4-.5h1M1 4.5h1"/><text transform="translate(.5 .6) rotate(-83) scale(.92 1)" y="2.35">5</text></g>
<g transform="translate(235 827)"><path d="M-5-2.5h1M-3-3.5h1M1-3.5h1M-5 3.5h1M-3 4.5h2M3 2.5h1"/><path d="M-1-3.5h1M3-2.5h1M4-.5h1M1 4.5h1"/><text transform="translate(.5 .6) rotate(-83) scale(.92 1)" y="2.35">6</text></g>
<g transform="translate(245 821)"><path d="M-5-2.5h1M-3-3.5h1M1-3.5h1M-5 3.5h1M-3 4.5h2M3 2.5h1"/><path d="M-1-3.5h1M3-2.5h1M4-.5h1M1 4.5h1"/><text transform="translate(.5 .6) rotate(-83) scale(.92 1)" y="2.35">7</text></g>
<g transform="translate(255 815)"><path d="M-5-2.5h1M-3-3.5h1M1-3.5h1M-5 3.5h1M-3 4.5h2M3 2.5h1"/><path d="M-1-3.5h1M3-2.5h1M4-.5h1M1 4.5h1"/><text transform="translate(.5 .6) rotate(-83) scale(.92 1)" y="2.35">8</text></g>
<g transform="translate(277 804)"><path d="M-5-2.5h1M-3-3.5h1M1-3.5h1M-5 3.5h1M-3 4.5h2M3 2.5h1"/><path d="M-1-3.5h1M3-2.5h1M4-.5h1M1 4.5h1"/><text transform="translate(.5 .6) rotate(-83) scale(.92 1)" y="2.35">9</text></g>
<g transform="translate(287 799)"><path d="M-5-2.5h1M-3-3.5h1M1-3.5h1M-5 3.5h1M-3 4.5h2M3 2.5h1"/><path d="M-1-3.5h1M3-2.5h1M4-.5h1M1 4.5h1"/><text transform="translate(.5 .6) rotate(-83) scale(.92 1)" y="2.35">10</text></g>
<g transform="translate(298 795)"><path d="M-5-2.5h1M-3-3.5h1M1-3.5h1M-5 3.5h1M-3 4.5h2M3 2.5h1"/><path d="M-1-3.5h1M3-2.5h1M4-.5h1M1 4.5h1"/><text transform="translate(.5 .6) rotate(-83) scale(.92 1)" y="2.35">11</text></g>
<g transform="translate(309 791)"><path d="M-5-2.5h1M-3-3.5h1M1-3.5h1M-5 3.5h1M-3 4.5h2M3 2.5h1"/><path d="M-1-3.5h1M3-2.5h1M4-.5h1M1 4.5h1"/><text transform="translate(.5 .6) rotate(-83) scale(.92 1)" y="2.35">12</text></g>
<g transform="translate(320 787)"><path d="M-5-2.5h1M-3-3.5h1M1-3.5h1M-5 3.5h1M-3 4.5h2M3 2.5h1"/><path d="M-1-3.5h1M3-2.5h1M4-.5h1M1 4.5h1"/><text transform="translate(.5 .6) rotate(-83) scale(.92 1)" y="2.35">13</text></g>
<g transform="translate(331 784)"><path d="M-5-2.5h1M-3-3.5h1M1-3.5h1M-5 3.5h1M-3 4.5h2M3 2.5h1"/><path d="M-1-3.5h1M3-2.5h1M4-.5h1M1 4.5h1"/><text transform="translate(.5 .6) rotate(-83) scale(.92 1)" y="2.35">14</text></g>
<g transform="translate(342 781)"><path d="M-5-2.5h1M-3-3.5h1M1-3.5h1M-5 3.5h1M-3 4.5h2M3 2.5h1"/><path d="M-1-3.5h1M3-2.5h1M4-.5h1M1 4.5h1"/><text transform="translate(.5 .6) rotate(-83) scale(.92 1)" y="2.35">15</text></g>
<g transform="translate(353 779)"><path d="M-5-2.5h1M-3-3.5h1M1-3.5h1M-5 3.5h1M-3 4.5h2M3 2.5h1"/><path d="M-1-3.5h1M3-2.5h1M4-.5h1M1 4.5h1"/><text transform="translate(.5 .6) rotate(-83) scale(.92 1)" y="2.35">16</text></g>
<g transform="translate(365 777)"><path d="M-5-2.5h1M-3-3.5h1M1-3.5h1M-5 3.5h1M-3 4.5h2M3 2.5h1"/><path d="M-1-3.5h1M3-2.5h1M4-.5h1M1 4.5h1"/><text transform="translate(.5 .6) rotate(-83) scale(.92 1)" y="2.35">17</text></g>
<g transform="translate(376 775)"><path d="M-5-2.5h1M-3-3.5h1M1-3.5h1M-5 3.5h1M-3 4.5h2M3 2.5h1"/><path d="M-1-3.5h1M3-2.5h1M4-.5h1M1 4.5h1"/><text transform="translate(.5 .6) rotate(-83) scale(.92 1)" y="2.35">18</text></g>
<g transform="translate(387 774)"><path d="M-5-2.5h1M-3-3.5h1M1-3.5h1M-5 3.5h1M-3 4.5h2M3 2.5h1"/><path d="M-1-3.5h1M3-2.5h1M4-.5h1M1 4.5h1"/><text transform="translate(.5 .6) rotate(-83) scale(.92 1)" y="2.35">19</text></g>
<g transform="translate(399 773)"><path d="M-5-2.5h1M-3-3.5h1M1-3.5h1M-5 3.5h1M-3 4.5h2M3 2.5h1"/><path d="M-1-3.5h1M3-2.5h1M4-.5h1M1 4.5h1"/><text transform="translate(.5 .6) rotate(-83) scale(.92 1)" y="2.35">20</text></g>
<g transform="translate(411 772)"><path d="M-5-2.5h1M-3-3.5h1M1-3.5h1M-5 3.5h1M-3 4.5h2M3 2.5h1"/><path d="M-1-3.5h1M3-2.5h1M4-.5h1M1 4.5h1"/><text transform="translate(.5 .6) rotate(-83) scale(.92 1)" y="2.35">21</text></g>
<g transform="translate(130 971)"><path d="M-5-2.5h1M-3-3.5h1M1-3.5h1M-5 3.5h1M-3 4.5h2M3 2.5h1"/><path d="M-1-3.5h1M3-2.5h1M4-.5h1M1 4.5h1"/><text transform="translate(.5 .6) rotate(-83) scale(.92 1)" y="2.35">1</text></g>
<g transform="translate(136 961)"><path d="M-5-2.5h1M-3-3.5h1M1-3.5h1M-5 3.5h1M-3 4.5h2M3 2.5h1"/><path d="M-1-3.5h1M3-2.5h1M4-.5h1M1 4.5h1"/><text transform="translate(.5 .6) rotate(-83) scale(.92 1)" y="2.35">2</text></g>
<g transform="translate(141 951)"><path d="M-5-2.5h1M-3-3.5h1M1-3.5h1M-5 3.5h1M-3 4.5h2M3 2.5h1"/><path d="M-1-3.5h1M3-2.5h1M4-.5h1M1 4.5h1"/><text transform="translate(.5 .6) rotate(-83) scale(.92 1)" y="2.35">3</text></g>
<g transform="translate(148 941)"><path d="M-5-2.5h1M-3-3.5h1M1-3.5h1M-5 3.5h1M-3 4.5h2M3 2.5h1"/><path d="M-1-3.5h1M3-2.5h1M4-.5h1M1 4.5h1"/><text transform="translate(.5 .6) rotate(-83) scale(.92 1)" y="2.35">4</text></g>
<g transform="translate(154 931)"><path d="M-5-2.5h1M-3-3.5h1M1-3.5h1M-5 3.5h1M-3 4.5h2M3 2.5h1"/><path d="M-1-3.5h1M3-2.5h1M4-.5h1M1 4.5h1"/><text transform="translate(.5 .6) rotate(-83) scale(.92 1)" y="2.35">5</text></g>
<g transform="translate(161 922)"><path d="M-5-2.5h1M-3-3.5h1M1-3.5h1M-5 3.5h1M-3 4.5h2M3 2.5h1"/><path d="M-1-3.5h1M3-2.5h1M4-.5h1M1 4.5h1"/><text transform="translate(.5 .6) rotate(-83) scale(.92 1)" y="2.35">6</text></g>
<g transform="translate(168 913)"><path d="M-5-2.5h1M-3-3.5h1M1-3.5h1M-5 3.5h1M-3 4.5h2M3 2.5h1"/><path d="M-1-3.5h1M3-2.5h1M4-.5h1M1 4.5h1"/><text transform="translate(.5 .6) rotate(-83) scale(.92 1)" y="2.35">7</text></g>
<g transform="translate(175 904)"><path d="M-5-2.5h1M-3-3.5h1M1-3.5h1M-5 3.5h1M-3 4.5h2M3 2.5h1"/><path d="M-1-3.5h1M3-2.5h1M4-.5h1M1 4.5h1"/><text transform="translate(.5 .6) rotate(-83) scale(.92 1)" y="2.35">8</text></g>
<g transform="translate(192 886)"><path d="M-5-2.5h1M-3-3.5h1M1-3.5h1M-5 3.5h1M-3 4.5h2M3 2.5h1"/><path d="M-1-3.5h1M3-2.5h1M4-.5h1M1 4.5h1"/><text transform="translate(.5 .6) rotate(-83) scale(.92 1)" y="2.35">9</text></g>
<g transform="translate(200 878)"><path d="M-5-2.5h1M-3-3.5h1M1-3.5h1M-5 3.5h1M-3 4.5h2M3 2.5h1"/><path d="M-1-3.5h1M3-2.5h1M4-.5h1M1 4.5h1"/><text transform="translate(.5 .6) rotate(-83) scale(.92 1)" y="2.35">10</text></g>
<g transform="translate(209 870)"><path d="M-5-2.5h1M-3-3.5h1M1-3.5h1M-5 3.5h1M-3 4.5h2M3 2.5h1"/><path d="M-1-3.5h1M3-2.5h1M4-.5h1M1 4.5h1"/><text transform="translate(.5 .6) rotate(-83) scale(.92 1)" y="2.35">11</text></g>
<g transform="translate(218 863)"><path d="M-5-2.5h1M-3-3.5h1M1-3.5h1M-5 3.5h1M-3 4.5h2M3 2.5h1"/><path d="M-1-3.5h1M3-2.5h1M4-.5h1M1 4.5h1"/><text transform="translate(.5 .6) rotate(-83) scale(.92 1)" y="2.35">12</text></g>
<g transform="translate(227 856)"><path d="M-5-2.5h1M-3-3.5h1M1-3.5h1M-5 3.5h1M-3 4.5h2M3 2.5h1"/><path d="M-1-3.5h1M3-2.5h1M4-.5h1M1 4.5h1"/><text transform="translate(.5 .6) rotate(-83) scale(.92 1)" y="2.35">13</text></g>
<g transform="translate(236 849)"><path d="M-5-2.5h1M-3-3.5h1M1-3.5h1M-5 3.5h1M-3 4.5h2M3 2.5h1"/><path d="M-1-3.5h1M3-2.5h1M4-.5h1M1 4.5h1"/><text transform="translate(.5 .6) rotate(-83) scale(.92 1)" y="2.35">14</text></g>
<g transform="translate(246 843)"><path d="M-5-2.5h1M-3-3.5h1M1-3.5h1M-5 3.5h1M-3 4.5h2M3 2.5h1"/><path d="M-1-3.5h1M3-2.5h1M4-.5h1M1 4.5h1"/><text transform="translate(.5 .6) rotate(-83) scale(.92 1)" y="2.35">15</text></g>
<g transform="translate(256 836)"><path d="M-5-2.5h1M-3-3.5h1M1-3.5h1M-5 3.5h1M-3 4.5h2M3 2.5h1"/><path d="M-1-3.5h1M3-2.5h1M4-.5h1M1 4.5h1"/><text transform="translate(.5 .6) rotate(-83) scale(.92 1)" y="2.35">16</text></g>
<g transform="translate(266 831)"><path d="M-5-2.5h1M-3-3.5h1M1-3.5h1M-5 3.5h1M-3 4.5h2M3 2.5h1"/><path d="M-1-3.5h1M3-2.5h1M4-.5h1M1 4.5h1"/><text transform="translate(.5 .6) rotate(-83) scale(.92 1)" y="2.35">17</text></g>
<g transform="translate(287 820)"><path d="M-5-2.5h1M-3-3.5h1M1-3.5h1M-5 3.5h1M-3 4.5h2M3 2.5h1"/><path d="M-1-3.5h1M3-2.5h1M4-.5h1M1 4.5h1"/><text transform="translate(.5 .6) rotate(-83) scale(.92 1)" y="2.35">18</text></g>
<g transform="translate(298 816)"><path d="M-5-2.5h1M-3-3.5h1M1-3.5h1M-5 3.5h1M-3 4.5h2M3 2.5h1"/><path d="M-1-3.5h1M3-2.5h1M4-.5h1M1 4.5h1"/><text transform="translate(.5 .6) rotate(-83) scale(.92 1)" y="2.35">19</text></g>
<g transform="translate(308 811)"><path d="M-5-2.5h1M-3-3.5h1M1-3.5h1M-5 3.5h1M-3 4.5h2M3 2.5h1"/><path d="M-1-3.5h1M3-2.5h1M4-.5h1M1 4.5h1"/><text transform="translate(.5 .6) rotate(-83) scale(.92 1)" y="2.35">20</text></g>
<g transform="translate(319 807)"><path d="M-5-2.5h1M-3-3.5h1M1-3.5h1M-5 3.5h1M-3 4.5h2M3 2.5h1"/><path d="M-1-3.5h1M3-2.5h1M4-.5h1M1 4.5h1"/><text transform="translate(.5 .6) rotate(-83) scale(.92 1)" y="2.35">21</text></g>
<g transform="translate(331 804)"><path d="M-5-2.5h1M-3-3.5h1M1-3.5h1M-5 3.5h1M-3 4.5h2M3 2.5h1"/><path d="M-1-3.5h1M3-2.5h1M4-.5h1M1 4.5h1"/><text transform="translate(.5 .6) rotate(-83) scale(.92 1)" y="2.35">22</text></g>
<g transform="translate(342 801)"><path d="M-5-2.5h1M-3-3.5h1M1-3.5h1M-5 3.5h1M-3 4.5h2M3 2.5h1"/><path d="M-1-3.5h1M3-2.5h1M4-.5h1M1 4.5h1"/><text transform="translate(.5 .6) rotate(-83) scale(.92 1)" y="2.35">23</text></g>
<g transform="translate(353 798)"><path d="M-5-2.5h1M-3-3.5h1M1-3.5h1M-5 3.5h1M-3 4.5h2M3 2.5h1"/><path d="M-1-3.5h1M3-2.5h1M4-.5h1M1 4.5h1"/><text transform="translate(.5 .6) rotate(-83) scale(.92 1)" y="2.35">24</text></g>
<g transform="translate(364 796)"><path d="M-5-2.5h1M-3-3.5h1M1-3.5h1M-5 3.5h1M-3 4.5h2M3 2.5h1"/><path d="M-1-3.5h1M3-2.5h1M4-.5h1M1 4.5h1"/><text transform="translate(.5 .6) rotate(-83) scale(.92 1)" y="2.35">25</text></g>
<g transform="translate(376 794)"><path d="M-5-2.5h1M-3-3.5h1M1-3.5h1M-5 3.5h1M-3 4.5h2M3 2.5h1"/><path d="M-1-3.5h1M3-2.5h1M4-.5h1M1 4.5h1"/><text transform="translate(.5 .6) rotate(-83) scale(.92 1)" y="2.35">26</text></g>
<g transform="translate(388 793)"><path d="M-5-2.5h1M-3-3.5h1M1-3.5h1M-5 3.5h1M-3 4.5h2M3 2.5h1"/><path d="M-1-3.5h1M3-2.5h1M4-.5h1M1 4.5h1"/><text transform="translate(.5 .6) rotate(-83) scale(.92 1)" y="2.35">27</text></g>
<g transform="translate(399 792)"><path d="M-5-2.5h1M-3-3.5h1M1-3.5h1M-5 3.5h1M-3 4.5h2M3 2.5h1"/><path d="M-1-3.5h1M3-2.5h1M4-.5h1M1 4.5h1"/><text transform="translate(.5 .6) rotate(-83) scale(.92 1)" y="2.35">28</text></g>
<g transform="translate(411 791)"><path d="M-5-2.5h1M-3-3.5h1M1-3.5h1M-5 3.5h1M-3 4.5h2M3 2.5h1"/><path d="M-1-3.5h1M3-2.5h1M4-.5h1M1 4.5h1"/><text transform="translate(.5 .6) rotate(-83) scale(.92 1)" y="2.35">29</text></g>
<g transform="translate(142 990)"><path d="M-5-2.5h1M-3-3.5h1M1-3.5h1M-5 3.5h1M-3 4.5h2M3 2.5h1"/><path d="M-1-3.5h1M3-2.5h1M4-.5h1M1 4.5h1"/><text transform="translate(.5 .6) rotate(-83) scale(.92 1)" y="2.35">1</text></g>
<g transform="translate(147 980)"><path d="M-5-2.5h1M-3-3.5h1M1-3.5h1M-5 3.5h1M-3 4.5h2M3 2.5h1"/><path d="M-1-3.5h1M3-2.5h1M4-.5h1M1 4.5h1"/><text transform="translate(.5 .6) rotate(-83) scale(.92 1)" y="2.35">2</text></g>
<g transform="translate(152 970)"><path d="M-5-2.5h1M-3-3.5h1M1-3.5h1M-5 3.5h1M-3 4.5h2M3 2.5h1"/><path d="M-1-3.5h1M3-2.5h1M4-.5h1M1 4.5h1"/><text transform="translate(.5 .6) rotate(-83) scale(.92 1)" y="2.35">3</text></g>
<g transform="translate(158 960)"><path d="M-5-2.5h1M-3-3.5h1M1-3.5h1M-5 3.5h1M-3 4.5h2M3 2.5h1"/><path d="M-1-3.5h1M3-2.5h1M4-.5h1M1 4.5h1"/><text transform="translate(.5 .6) rotate(-83) scale(.92 1)" y="2.35">4</text></g>
<g transform="translate(164 950)"><path d="M-5-2.5h1M-3-3.5h1M1-3.5h1M-5 3.5h1M-3 4.5h2M3 2.5h1"/><path d="M-1-3.5h1M3-2.5h1M4-.5h1M1 4.5h1"/><text transform="translate(.5 .6) rotate(-83) scale(.92 1)" y="2.35">5</text></g>
<g transform="translate(170 941)"><path d="M-5-2.5h1M-3-3.5h1M1-3.5h1M-5 3.5h1M-3 4.5h2M3 2.5h1"/><path d="M-1-3.5h1M3-2.5h1M4-.5h1M1 4.5h1"/><text transform="translate(.5 .6) rotate(-83) scale(.92 1)" y="2.35">6</text></g>
<g transform="translate(177 932)"><path d="M-5-2.5h1M-3-3.5h1M1-3.5h1M-5 3.5h1M-3 4.5h2M3 2.5h1"/><path d="M-1-3.5h1M3-2.5h1M4-.5h1M1 4.5h1"/><text transform="translate(.5 .6) rotate(-83) scale(.92 1)" y="2.35">7</text></g>
<g transform="translate(184 923)"><path d="M-5-2.5h1M-3-3.5h1M1-3.5h1M-5 3.5h1M-3 4.5h2M3 2.5h1"/><path d="M-1-3.5h1M3-2.5h1M4-.5h1M1 4.5h1"/><text transform="translate(.5 .6) rotate(-83) scale(.92 1)" y="2.35">8</text></g>
<g transform="translate(191 914)"><path d="M-5-2.5h1M-3-3.5h1M1-3.5h1M-5 3.5h1M-3 4.5h2M3 2.5h1"/><path d="M-1-3.5h1M3-2.5h1M4-.5h1M1 4.5h1"/><text transform="translate(.5 .6) rotate(-83) scale(.92 1)" y="2.35">9</text></g>
<g transform="translate(208 897)"><path d="M-5-2.5h1M-3-3.5h1M1-3.5h1M-5 3.5h1M-3 4.5h2M3 2.5h1"/><path d="M-1-3.5h1M3-2.5h1M4-.5h1M1 4.5h1"/><text transform="translate(.5 .6) rotate(-83) scale(.92 1)" y="2.35">10</text></g>
<g transform="translate(216 889)"><path d="M-5-2.5h1M-3-3.5h1M1-3.5h1M-5 3.5h1M-3 4.5h2M3 2.5h1"/><path d="M-1-3.5h1M3-2.5h1M4-.5h1M1 4.5h1"/><text transform="translate(.5 .6) rotate(-83) scale(.92 1)" y="2.35">11</text></g>
<g transform="translate(224 882)"><path d="M-5-2.5h1M-3-3.5h1M1-3.5h1M-5 3.5h1M-3 4.5h2M3 2.5h1"/><path d="M-1-3.5h1M3-2.5h1M4-.5h1M1 4.5h1"/><text transform="translate(.5 .6) rotate(-83) scale(.92 1)" y="2.35">12</text></g>
<g transform="translate(233 875)"><path d="M-5-2.5h1M-3-3.5h1M1-3.5h1M-5 3.5h1M-3 4.5h2M3 2.5h1"/><path d="M-1-3.5h1M3-2.5h1M4-.5h1M1 4.5h1"/><text transform="translate(.5 .6) rotate(-83) scale(.92 1)" y="2.35">13</text></g>
<g transform="translate(242 868)"><path d="M-5-2.5h1M-3-3.5h1M1-3.5h1M-5 3.5h1M-3 4.5h2M3 2.5h1"/><path d="M-1-3.5h1M3-2.5h1M4-.5h1M1 4.5h1"/><text transform="translate(.5 .6) rotate(-83) scale(.92 1)" y="2.35">14</text></g>
<g transform="translate(251 862)"><path d="M-5-2.5h1M-3-3.5h1M1-3.5h1M-5 3.5h1M-3 4.5h2M3 2.5h1"/><path d="M-1-3.5h1M3-2.5h1M4-.5h1M1 4.5h1"/><text transform="translate(.5 .6) rotate(-83) scale(.92 1)" y="2.35">15</text></g>
<g transform="translate(261 856)"><path d="M-5-2.5h1M-3-3.5h1M1-3.5h1M-5 3.5h1M-3 4.5h2M3 2.5h1"/><path d="M-1-3.5h1M3-2.5h1M4-.5h1M1 4.5h1"/><text transform="translate(.5 .6) rotate(-83) scale(.92 1)" y="2.35">16</text></g>
<g transform="translate(270 850)"><path d="M-5-2.5h1M-3-3.5h1M1-3.5h1M-5 3.5h1M-3 4.5h2M3 2.5h1"/><path d="M-1-3.5h1M3-2.5h1M4-.5h1M1 4.5h1"/><text transform="translate(.5 .6) rotate(-83) scale(.92 1)" y="2.35">17</text></g>
<g transform="translate(291 839)"><path d="M-5-2.5h1M-3-3.5h1M1-3.5h1M-5 3.5h1M-3 4.5h2M3 2.5h1"/><path d="M-1-3.5h1M3-2.5h1M4-.5h1M1 4.5h1"/><text transform="translate(.5 .6) rotate(-83) scale(.92 1)" y="2.35">18</text></g>
<g transform="translate(301 835)"><path d="M-5-2.5h1M-3-3.5h1M1-3.5h1M-5 3.5h1M-3 4.5h2M3 2.5h1"/><path d="M-1-3.5h1M3-2.5h1M4-.5h1M1 4.5h1"/><text transform="translate(.5 .6) rotate(-83) scale(.92 1)" y="2.35">19</text></g>
<g transform="translate(312 830)"><path d="M-5-2.5h1M-3-3.5h1M1-3.5h1M-5 3.5h1M-3 4.5h2M3 2.5h1"/><path d="M-1-3.5h1M3-2.5h1M4-.5h1M1 4.5h1"/><text transform="translate(.5 .6) rotate(-83) scale(.92 1)" y="2.35">20</text></g>
<g transform="translate(322 826)"><path d="M-5-2.5h1M-3-3.5h1M1-3.5h1M-5 3.5h1M-3 4.5h2M3 2.5h1"/><path d="M-1-3.5h1M3-2.5h1M4-.5h1M1 4.5h1"/><text transform="translate(.5 .6) rotate(-83) scale(.92 1)" y="2.35">21</text></g>
<g transform="translate(333 823)"><path d="M-5-2.5h1M-3-3.5h1M1-3.5h1M-5 3.5h1M-3 4.5h2M3 2.5h1"/><path d="M-1-3.5h1M3-2.5h1M4-.5h1M1 4.5h1"/><text transform="translate(.5 .6) rotate(-83) scale(.92 1)" y="2.35">22</text></g>
<g transform="translate(344 820)"><path d="M-5-2.5h1M-3-3.5h1M1-3.5h1M-5 3.5h1M-3 4.5h2M3 2.5h1"/><path d="M-1-3.5h1M3-2.5h1M4-.5h1M1 4.5h1"/><text transform="translate(.5 .6) rotate(-83) scale(.92 1)" y="2.35">23</text></g>
<g transform="translate(355 817)"><path d="M-5-2.5h1M-3-3.5h1M1-3.5h1M-5 3.5h1M-3 4.5h2M3 2.5h1"/><path d="M-1-3.5h1M3-2.5h1M4-.5h1M1 4.5h1"/><text transform="translate(.5 .6) rotate(-83) scale(.92 1)" y="2.35">24</text></g>
<g transform="translate(366 815)"><path d="M-5-2.5h1M-3-3.5h1M1-3.5h1M-5 3.5h1M-3 4.5h2M3 2.5h1"/><path d="M-1-3.5h1M3-2.5h1M4-.5h1M1 4.5h1"/><text transform="translate(.5 .6) rotate(-83) scale(.92 1)" y="2.35">25</text></g>
<g transform="translate(377 813)"><path d="M-5-2.5h1M-3-3.5h1M1-3.5h1M-5 3.5h1M-3 4.5h2M3 2.5h1"/><path d="M-1-3.5h1M3-2.5h1M4-.5h1M1 4.5h1"/><text transform="translate(.5 .6) rotate(-83) scale(.92 1)" y="2.35">26</text></g>
<g transform="translate(389 812)"><path d="M-5-2.5h1M-3-3.5h1M1-3.5h1M-5 3.5h1M-3 4.5h2M3 2.5h1"/><path d="M-1-3.5h1M3-2.5h1M4-.5h1M1 4.5h1"/><text transform="translate(.5 .6) rotate(-83) scale(.92 1)" y="2.35">27</text></g>
<g transform="translate(400 811)"><path d="M-5-2.5h1M-3-3.5h1M1-3.5h1M-5 3.5h1M-3 4.5h2M3 2.5h1"/><path d="M-1-3.5h1M3-2.5h1M4-.5h1M1 4.5h1"/><text transform="translate(.5 .6) rotate(-83) scale(.92 1)" y="2.35">28</text></g>
<g transform="translate(411 810)"><path d="M-5-2.5h1M-3-3.5h1M1-3.5h1M-5 3.5h1M-3 4.5h2M3 2.5h1"/><path d="M-1-3.5h1M3-2.5h1M4-.5h1M1 4.5h1"/><text transform="translate(.5 .6) rotate(-83) scale(.92 1)" y="2.35">29</text></g>
<g transform="translate(165 987)"><path d="M-5-2.5h1M-3-3.5h1M1-3.5h1M-5 3.5h1M-3 4.5h2M3 2.5h1"/><path d="M-1-3.5h1M3-2.5h1M4-.5h1M1 4.5h1"/><text transform="translate(.5 .6) rotate(-83) scale(.92 1)" y="2.35">1</text></g>
<g transform="translate(170 978)"><path d="M-5-2.5h1M-3-3.5h1M1-3.5h1M-5 3.5h1M-3 4.5h2M3 2.5h1"/><path d="M-1-3.5h1M3-2.5h1M4-.5h1M1 4.5h1"/><text transform="translate(.5 .6) rotate(-83) scale(.92 1)" y="2.35">2</text></g>
<g transform="translate(175 968)"><path d="M-5-2.5h1M-3-3.5h1M1-3.5h1M-5 3.5h1M-3 4.5h2M3 2.5h1"/><path d="M-1-3.5h1M3-2.5h1M4-.5h1M1 4.5h1"/><text transform="translate(.5 .6) rotate(-83) scale(.92 1)" y="2.35">3</text></g>
<g transform="translate(181 959)"><path d="M-5-2.5h1M-3-3.5h1M1-3.5h1M-5 3.5h1M-3 4.5h2M3 2.5h1"/><path d="M-1-3.5h1M3-2.5h1M4-.5h1M1 4.5h1"/><text transform="translate(.5 .6) rotate(-83) scale(.92 1)" y="2.35">4</text></g>
<g transform="translate(187 950)"><path d="M-5-2.5h1M-3-3.5h1M1-3.5h1M-5 3.5h1M-3 4.5h2M3 2.5h1"/><path d="M-1-3.5h1M3-2.5h1M4-.5h1M1 4.5h1"/><text transform="translate(.5 .6) rotate(-83) scale(.92 1)" y="2.35">5</text></g>
<g transform="translate(194 941)"><path d="M-5-2.5h1M-3-3.5h1M1-3.5h1M-5 3.5h1M-3 4.5h2M3 2.5h1"/><path d="M-1-3.5h1M3-2.5h1M4-.5h1M1 4.5h1"/><text transform="translate(.5 .6) rotate(-83) scale(.92 1)" y="2.35">6</text></g>
<g transform="translate(201 932)"><path d="M-5-2.5h1M-3-3.5h1M1-3.5h1M-5 3.5h1M-3 4.5h2M3 2.5h1"/><path d="M-1-3.5h1M3-2.5h1M4-.5h1M1 4.5h1"/><text transform="translate(.5 .6) rotate(-83) scale(.92 1)" y="2.35">7</text></g>
<g transform="translate(208 924)"><path d="M-5-2.5h1M-3-3.5h1M1-3.5h1M-5 3.5h1M-3 4.5h2M3 2.5h1"/><path d="M-1-3.5h1M3-2.5h1M4-.5h1M1 4.5h1"/><text transform="translate(.5 .6) rotate(-83) scale(.92 1)" y="2.35">8</text></g>
<g transform="translate(223 908)"><path d="M-5-2.5h1M-3-3.5h1M1-3.5h1M-5 3.5h1M-3 4.5h2M3 2.5h1"/><path d="M-1-3.5h1M3-2.5h1M4-.5h1M1 4.5h1"/><text transform="translate(.5 .6) rotate(-83) scale(.92 1)" y="2.35">9</text></g>
<g transform="translate(232 901)"><path d="M-5-2.5h1M-3-3.5h1M1-3.5h1M-5 3.5h1M-3 4.5h2M3 2.5h1"/><path d="M-1-3.5h1M3-2.5h1M4-.5h1M1 4.5h1"/><text transform="translate(.5 .6) rotate(-83) scale(.92 1)" y="2.35">10</text></g>
<g transform="translate(240 894)"><path d="M-5-2.5h1M-3-3.5h1M1-3.5h1M-5 3.5h1M-3 4.5h2M3 2.5h1"/><path d="M-1-3.5h1M3-2.5h1M4-.5h1M1 4.5h1"/><text transform="translate(.5 .6) rotate(-83) scale(.92 1)" y="2.35">11</text></g>
<g transform="translate(249 887)"><path d="M-5-2.5h1M-3-3.5h1M1-3.5h1M-5 3.5h1M-3 4.5h2M3 2.5h1"/><path d="M-1-3.5h1M3-2.5h1M4-.5h1M1 4.5h1"/><text transform="translate(.5 .6) rotate(-83) scale(.92 1)" y="2.35">12</text></g>
<g transform="translate(258 880)"><path d="M-5-2.5h1M-3-3.5h1M1-3.5h1M-5 3.5h1M-3 4.5h2M3 2.5h1"/><path d="M-1-3.5h1M3-2.5h1M4-.5h1M1 4.5h1"/><text transform="translate(.5 .6) rotate(-83) scale(.92 1)" y="2.35">13</text></g>
<g transform="translate(267 874)"><path d="M-5-2.5h1M-3-3.5h1M1-3.5h1M-5 3.5h1M-3 4.5h2M3 2.5h1"/><path d="M-1-3.5h1M3-2.5h1M4-.5h1M1 4.5h1"/><text transform="translate(.5 .6) rotate(-83) scale(.92 1)" y="2.35">14</text></g>
<g transform="translate(276 868)"><path d="M-5-2.5h1M-3-3.5h1M1-3.5h1M-5 3.5h1M-3 4.5h2M3 2.5h1"/><path d="M-1-3.5h1M3-2.5h1M4-.5h1M1 4.5h1"/><text transform="translate(.5 .6) rotate(-83) scale(.92 1)" y="2.35">15</text></g>
<g transform="translate(286 863)"><path d="M-5-2.5h1M-3-3.5h1M1-3.5h1M-5 3.5h1M-3 4.5h2M3 2.5h1"/><path d="M-1-3.5h1M3-2.5h1M4-.5h1M1 4.5h1"/><text transform="translate(.5 .6) rotate(-83) scale(.92 1)" y="2.35">16</text></g>
<g transform="translate(306 853)"><path d="M-5-2.5h1M-3-3.5h1M1-3.5h1M-5 3.5h1M-3 4.5h2M3 2.5h1"/><path d="M-1-3.5h1M3-2.5h1M4-.5h1M1 4.5h1"/><text transform="translate(.5 .6) rotate(-83) scale(.92 1)" y="2.35">17</text></g>
<g transform="translate(316 849)"><path d="M-5-2.5h1M-3-3.5h1M1-3.5h1M-5 3.5h1M-3 4.5h2M3 2.5h1"/><path d="M-1-3.5h1M3-2.5h1M4-.5h1M1 4.5h1"/><text transform="translate(.5 .6) rotate(-83) scale(.92 1)" y="2.35">18</text></g>
<g transform="translate(326 845)"><path d="M-5-2.5h1M-3-3.5h1M1-3.5h1M-5 3.5h1M-3 4.5h2M3 2.5h1"/><path d="M-1-3.5h1M3-2.5h1M4-.5h1M1 4.5h1"/><text transform="translate(.5 .6) rotate(-83) scale(.92 1)" y="2.35">19</text></g>
<g transform="translate(336 842)"><path d="M-5-2.5h1M-3-3.5h1M1-3.5h1M-5 3.5h1M-3 4.5h2M3 2.5h1"/><path d="M-1-3.5h1M3-2.5h1M4-.5h1M1 4.5h1"/><text transform="translate(.5 .6) rotate(-83) scale(.92 1)" y="2.35">20</text></g>
<g transform="translate(347 839)"><path d="M-5-2.5h1M-3-3.5h1M1-3.5h1M-5 3.5h1M-3 4.5h2M3 2.5h1"/><path d="M-1-3.5h1M3-2.5h1M4-.5h1M1 4.5h1"/><text transform="translate(.5 .6) rotate(-83) scale(.92 1)" y="2.35">21</text></g>
<g transform="translate(357 836)"><path d="M-5-2.5h1M-3-3.5h1M1-3.5h1M-5 3.5h1M-3 4.5h2M3 2.5h1"/><path d="M-1-3.5h1M3-2.5h1M4-.5h1M1 4.5h1"/><text transform="translate(.5 .6) rotate(-83) scale(.92 1)" y="2.35">22</text></g>
<g transform="translate(368 834)"><path d="M-5-2.5h1M-3-3.5h1M1-3.5h1M-5 3.5h1M-3 4.5h2M3 2.5h1"/><path d="M-1-3.5h1M3-2.5h1M4-.5h1M1 4.5h1"/><text transform="translate(.5 .6) rotate(-83) scale(.92 1)" y="2.35">23</text></g>
<g transform="translate(379 832)"><path d="M-5-2.5h1M-3-3.5h1M1-3.5h1M-5 3.5h1M-3 4.5h2M3 2.5h1"/><path d="M-1-3.5h1M3-2.5h1M4-.5h1M1 4.5h1"/><text transform="translate(.5 .6) rotate(-83) scale(.92 1)" y="2.35">24</text></g>
<g transform="translate(389 831)"><path d="M-5-2.5h1M-3-3.5h1M1-3.5h1M-5 3.5h1M-3 4.5h2M3 2.5h1"/><path d="M-1-3.5h1M3-2.5h1M4-.5h1M1 4.5h1"/><text transform="translate(.5 .6) rotate(-83) scale(.92 1)" y="2.35">25</text></g>
<g transform="translate(400 830)"><path d="M-5-2.5h1M-3-3.5h1M1-3.5h1M-5 3.5h1M-3 4.5h2M3 2.5h1"/><path d="M-1-3.5h1M3-2.5h1M4-.5h1M1 4.5h1"/><text transform="translate(.5 .6) rotate(-83) scale(.92 1)" y="2.35">26</text></g>
<g transform="translate(411 829)"><path d="M-5-2.5h1M-3-3.5h1M1-3.5h1M-5 3.5h1M-3 4.5h2M3 2.5h1"/><path d="M-1-3.5h1M3-2.5h1M4-.5h1M1 4.5h1"/><text transform="translate(.5 .6) rotate(-83) scale(.92 1)" y="2.35">27</text></g>
<g transform="translate(188 987)"><path d="M-5-2.5h1M-3-3.5h1M1-3.5h1M-5 3.5h1M-3 4.5h2M3 2.5h1"/><path d="M-1-3.5h1M3-2.5h1M4-.5h1M1 4.5h1"/><text transform="translate(.5 .6) rotate(-83) scale(.92 1)" y="2.35">1</text></g>
<g transform="translate(193 977)"><path d="M-5-2.5h1M-3-3.5h1M1-3.5h1M-5 3.5h1M-3 4.5h2M3 2.5h1"/><path d="M-1-3.5h1M3-2.5h1M4-.5h1M1 4.5h1"/><text transform="translate(.5 .6) rotate(-83) scale(.92 1)" y="2.35">2</text></g>
<g transform="translate(199 968)"><path d="M-5-2.5h1M-3-3.5h1M1-3.5h1M-5 3.5h1M-3 4.5h2M3 2.5h1"/><path d="M-1-3.5h1M3-2.5h1M4-.5h1M1 4.5h1"/><text transform="translate(.5 .6) rotate(-83) scale(.92 1)" y="2.35">3</text></g>
<g transform="translate(205 960)"><path d="M-5-2.5h1M-3-3.5h1M1-3.5h1M-5 3.5h1M-3 4.5h2M3 2.5h1"/><path d="M-1-3.5h1M3-2.5h1M4-.5h1M1 4.5h1"/><text transform="translate(.5 .6) rotate(-83) scale(.92 1)" y="2.35">4</text></g>
<g transform="translate(211 951)"><path d="M-5-2.5h1M-3-3.5h1M1-3.5h1M-5 3.5h1M-3 4.5h2M3 2.5h1"/><path d="M-1-3.5h1M3-2.5h1M4-.5h1M1 4.5h1"/><text transform="translate(.5 .6) rotate(-83) scale(.92 1)" y="2.35">5</text></g>
<g transform="translate(218 943)"><path d="M-5-2.5h1M-3-3.5h1M1-3.5h1M-5 3.5h1M-3 4.5h2M3 2.5h1"/><path d="M-1-3.5h1M3-2.5h1M4-.5h1M1 4.5h1"/><text transform="translate(.5 .6) rotate(-83) scale(.92 1)" y="2.35">6</text></g>
<g transform="translate(225 935)"><path d="M-5-2.5h1M-3-3.5h1M1-3.5h1M-5 3.5h1M-3 4.5h2M3 2.5h1"/><path d="M-1-3.5h1M3-2.5h1M4-.5h1M1 4.5h1"/><text transform="translate(.5 .6) rotate(-83) scale(.92 1)" y="2.35">7</text></g>
<g transform="translate(240 920)"><path d="M-5-2.5h1M-3-3.5h1M1-3.5h1M-5 3.5h1M-3 4.5h2M3 2.5h1"/><path d="M-1-3.5h1M3-2.5h1M4-.5h1M1 4.5h1"/><text transform="translate(.5 .6) rotate(-83) scale(.92 1)" y="2.35">8</text></g>
<g transform="translate(248 913)"><path d="M-5-2.5h1M-3-3.5h1M1-3.5h1M-5 3.5h1M-3 4.5h2M3 2.5h1"/><path d="M-1-3.5h1M3-2.5h1M4-.5h1M1 4.5h1"/><text transform="translate(.5 .6) rotate(-83) scale(.92 1)" y="2.35">9</text></g>
<g transform="translate(256 906)"><path d="M-5-2.5h1M-3-3.5h1M1-3.5h1M-5 3.5h1M-3 4.5h2M3 2.5h1"/><path d="M-1-3.5h1M3-2.5h1M4-.5h1M1 4.5h1"/><text transform="translate(.5 .6) rotate(-83) scale(.92 1)" y="2.35">10</text></g>
<g transform="translate(265 900)"><path d="M-5-2.5h1M-3-3.5h1M1-3.5h1M-5 3.5h1M-3 4.5h2M3 2.5h1"/><path d="M-1-3.5h1M3-2.5h1M4-.5h1M1 4.5h1"/><text transform="translate(.5 .6) rotate(-83) scale(.92 1)" y="2.35">11</text></g>
<g transform="translate(274 894)"><path d="M-5-2.5h1M-3-3.5h1M1-3.5h1M-5 3.5h1M-3 4.5h2M3 2.5h1"/><path d="M-1-3.5h1M3-2.5h1M4-.5h1M1 4.5h1"/><text transform="translate(.5 .6) rotate(-83) scale(.92 1)" y="2.35">12</text></g>
<g transform="translate(283 888)"><path d="M-5-2.5h1M-3-3.5h1M1-3.5h1M-5 3.5h1M-3 4.5h2M3 2.5h1"/><path d="M-1-3.5h1M3-2.5h1M4-.5h1M1 4.5h1"/><text transform="translate(.5 .6) rotate(-83) scale(.92 1)" y="2.35">13</text></g>
<g transform="translate(292 883)"><path d="M-5-2.5h1M-3-3.5h1M1-3.5h1M-5 3.5h1M-3 4.5h2M3 2.5h1"/><path d="M-1-3.5h1M3-2.5h1M4-.5h1M1 4.5h1"/><text transform="translate(.5 .6) rotate(-83) scale(.92 1)" y="2.35">14</text></g>
<g transform="translate(310 873)"><path d="M-5-2.5h1M-3-3.5h1M1-3.5h1M-5 3.5h1M-3 4.5h2M3 2.5h1"/><path d="M-1-3.5h1M3-2.5h1M4-.5h1M1 4.5h1"/><text transform="translate(.5 .6) rotate(-83) scale(.92 1)" y="2.35">15</text></g>
<g transform="translate(320 869)"><path d="M-5-2.5h1M-3-3.5h1M1-3.5h1M-5 3.5h1M-3 4.5h2M3 2.5h1"/><path d="M-1-3.5h1M3-2.5h1M4-.5h1M1 4.5h1"/><text transform="translate(.5 .6) rotate(-83) scale(.92 1)" y="2.35">16</text></g>
<g transform="translate(329 865)"><path d="M-5-2.5h1M-3-3.5h1M1-3.5h1M-5 3.5h1M-3 4.5h2M3 2.5h1"/><path d="M-1-3.5h1M3-2.5h1M4-.5h1M1 4.5h1"/><text transform="translate(.5 .6) rotate(-83) scale(.92 1)" y="2.35">17</text></g>
<g transform="translate(339 862)"><path d="M-5-2.5h1M-3-3.5h1M1-3.5h1M-5 3.5h1M-3 4.5h2M3 2.5h1"/><path d="M-1-3.5h1M3-2.5h1M4-.5h1M1 4.5h1"/><text transform="translate(.5 .6) rotate(-83) scale(.92 1)" y="2.35">18</text></g>
<g transform="translate(349 859)"><path d="M-5-2.5h1M-3-3.5h1M1-3.5h1M-5 3.5h1M-3 4.5h2M3 2.5h1"/><path d="M-1-3.5h1M3-2.5h1M4-.5h1M1 4.5h1"/><text transform="translate(.5 .6) rotate(-83) scale(.92 1)" y="2.35">19</text></g>
<g transform="translate(360 856)"><path d="M-5-2.5h1M-3-3.5h1M1-3.5h1M-5 3.5h1M-3 4.5h2M3 2.5h1"/><path d="M-1-3.5h1M3-2.5h1M4-.5h1M1 4.5h1"/><text transform="translate(.5 .6) rotate(-83) scale(.92 1)" y="2.35">20</text></g>
<g transform="translate(370 854)"><path d="M-5-2.5h1M-3-3.5h1M1-3.5h1M-5 3.5h1M-3 4.5h2M3 2.5h1"/><path d="M-1-3.5h1M3-2.5h1M4-.5h1M1 4.5h1"/><text transform="translate(.5 .6) rotate(-83) scale(.92 1)" y="2.35">21</text></g>
<g transform="translate(380 852)"><path d="M-5-2.5h1M-3-3.5h1M1-3.5h1M-5 3.5h1M-3 4.5h2M3 2.5h1"/><path d="M-1-3.5h1M3-2.5h1M4-.5h1M1 4.5h1"/><text transform="translate(.5 .6) rotate(-83) scale(.92 1)" y="2.35">22</text></g>
<g transform="translate(391 851)"><path d="M-5-2.5h1M-3-3.5h1M1-3.5h1M-5 3.5h1M-3 4.5h2M3 2.5h1"/><path d="M-1-3.5h1M3-2.5h1M4-.5h1M1 4.5h1"/><text transform="translate(.5 .6) rotate(-83) scale(.92 1)" y="2.35">23</text></g>
<g transform="translate(401 850)"><path d="M-5-2.5h1M-3-3.5h1M1-3.5h1M-5 3.5h1M-3 4.5h2M3 2.5h1"/><path d="M-1-3.5h1M3-2.5h1M4-.5h1M1 4.5h1"/><text transform="translate(.5 .6) rotate(-83) scale(.92 1)" y="2.35">24</text></g>
<g transform="translate(412 849)"><path d="M-5-2.5h1M-3-3.5h1M1-3.5h1M-5 3.5h1M-3 4.5h2M3 2.5h1"/><path d="M-1-3.5h1M3-2.5h1M4-.5h1M1 4.5h1"/><text transform="translate(.5 .6) rotate(-83) scale(.92 1)" y="2.35">25</text></g>
<g transform="translate(205 995)"><path d="M-5-2.5h1M-3-3.5h1M1-3.5h1M-5 3.5h1M-3 4.5h2M3 2.5h1"/><path d="M-1-3.5h1M3-2.5h1M4-.5h1M1 4.5h1"/><text transform="translate(.5 .6) rotate(-83) scale(.92 1)" y="2.35">1</text></g>
<g transform="translate(210 986)"><path d="M-5-2.5h1M-3-3.5h1M1-3.5h1M-5 3.5h1M-3 4.5h2M3 2.5h1"/><path d="M-1-3.5h1M3-2.5h1M4-.5h1M1 4.5h1"/><text transform="translate(.5 .6) rotate(-83) scale(.92 1)" y="2.35">2</text></g>
<g transform="translate(215 978)"><path d="M-5-2.5h1M-3-3.5h1M1-3.5h1M-5 3.5h1M-3 4.5h2M3 2.5h1"/><path d="M-1-3.5h1M3-2.5h1M4-.5h1M1 4.5h1"/><text transform="translate(.5 .6) rotate(-83) scale(.92 1)" y="2.35">3</text></g>
<g transform="translate(221 970)"><path d="M-5-2.5h1M-3-3.5h1M1-3.5h1M-5 3.5h1M-3 4.5h2M3 2.5h1"/><path d="M-1-3.5h1M3-2.5h1M4-.5h1M1 4.5h1"/><text transform="translate(.5 .6) rotate(-83) scale(.92 1)" y="2.35">4</text></g>
<g transform="translate(227 962)"><path d="M-5-2.5h1M-3-3.5h1M1-3.5h1M-5 3.5h1M-3 4.5h2M3 2.5h1"/><path d="M-1-3.5h1M3-2.5h1M4-.5h1M1 4.5h1"/><text transform="translate(.5 .6) rotate(-83) scale(.92 1)" y="2.35">5</text></g>
<g transform="translate(234 954)"><path d="M-5-2.5h1M-3-3.5h1M1-3.5h1M-5 3.5h1M-3 4.5h2M3 2.5h1"/><path d="M-1-3.5h1M3-2.5h1M4-.5h1M1 4.5h1"/><text transform="translate(.5 .6) rotate(-83) scale(.92 1)" y="2.35">6</text></g>
<g transform="translate(240 946)"><path d="M-5-2.5h1M-3-3.5h1M1-3.5h1M-5 3.5h1M-3 4.5h2M3 2.5h1"/><path d="M-1-3.5h1M3-2.5h1M4-.5h1M1 4.5h1"/><text transform="translate(.5 .6) rotate(-83) scale(.92 1)" y="2.35">7</text></g>
<g transform="translate(255 932)"><path d="M-5-2.5h1M-3-3.5h1M1-3.5h1M-5 3.5h1M-3 4.5h2M3 2.5h1"/><path d="M-1-3.5h1M3-2.5h1M4-.5h1M1 4.5h1"/><text transform="translate(.5 .6) rotate(-83) scale(.92 1)" y="2.35">8</text></g>
<g transform="translate(263 925)"><path d="M-5-2.5h1M-3-3.5h1M1-3.5h1M-5 3.5h1M-3 4.5h2M3 2.5h1"/><path d="M-1-3.5h1M3-2.5h1M4-.5h1M1 4.5h1"/><text transform="translate(.5 .6) rotate(-83) scale(.92 1)" y="2.35">9</text></g>
<g transform="translate(271 919)"><path d="M-5-2.5h1M-3-3.5h1M1-3.5h1M-5 3.5h1M-3 4.5h2M3 2.5h1"/><path d="M-1-3.5h1M3-2.5h1M4-.5h1M1 4.5h1"/><text transform="translate(.5 .6) rotate(-83) scale(.92 1)" y="2.35">10</text></g>
<g transform="translate(279 913)"><path d="M-5-2.5h1M-3-3.5h1M1-3.5h1M-5 3.5h1M-3 4.5h2M3 2.5h1"/><path d="M-1-3.5h1M3-2.5h1M4-.5h1M1 4.5h1"/><text transform="translate(.5 .6) rotate(-83) scale(.92 1)" y="2.35">11</text></g>
<g transform="translate(288 907)"><path d="M-5-2.5h1M-3-3.5h1M1-3.5h1M-5 3.5h1M-3 4.5h2M3 2.5h1"/><path d="M-1-3.5h1M3-2.5h1M4-.5h1M1 4.5h1"/><text transform="translate(.5 .6) rotate(-83) scale(.92 1)" y="2.35">12</text></g>
<g transform="translate(297 902)"><path d="M-5-2.5h1M-3-3.5h1M1-3.5h1M-5 3.5h1M-3 4.5h2M3 2.5h1"/><path d="M-1-3.5h1M3-2.5h1M4-.5h1M1 4.5h1"/><text transform="translate(.5 .6) rotate(-83) scale(.92 1)" y="2.35">13</text></g>
<g transform="translate(306 897)"><path d="M-5-2.5h1M-3-3.5h1M1-3.5h1M-5 3.5h1M-3 4.5h2M3 2.5h1"/><path d="M-1-3.5h1M3-2.5h1M4-.5h1M1 4.5h1"/><text transform="translate(.5 .6) rotate(-83) scale(.92 1)" y="2.35">14</text></g>
<g transform="translate(324 888)"><path d="M-5-2.5h1M-3-3.5h1M1-3.5h1M-5 3.5h1M-3 4.5h2M3 2.5h1"/><path d="M-1-3.5h1M3-2.5h1M4-.5h1M1 4.5h1"/><text transform="translate(.5 .6) rotate(-83) scale(.92 1)" y="2.35">15</text></g>
<g transform="translate(333 884)"><path d="M-5-2.5h1M-3-3.5h1M1-3.5h1M-5 3.5h1M-3 4.5h2M3 2.5h1"/><path d="M-1-3.5h1M3-2.5h1M4-.5h1M1 4.5h1"/><text transform="translate(.5 .6) rotate(-83) scale(.92 1)" y="2.35">16</text></g>
<g transform="translate(343 881)"><path d="M-5-2.5h1M-3-3.5h1M1-3.5h1M-5 3.5h1M-3 4.5h2M3 2.5h1"/><path d="M-1-3.5h1M3-2.5h1M4-.5h1M1 4.5h1"/><text transform="translate(.5 .6) rotate(-83) scale(.92 1)" y="2.35">17</text></g>
<g transform="translate(353 878)"><path d="M-5-2.5h1M-3-3.5h1M1-3.5h1M-5 3.5h1M-3 4.5h2M3 2.5h1"/><path d="M-1-3.5h1M3-2.5h1M4-.5h1M1 4.5h1"/><text transform="translate(.5 .6) rotate(-83) scale(.92 1)" y="2.35">18</text></g>
<g transform="translate(362 875)"><path d="M-5-2.5h1M-3-3.5h1M1-3.5h1M-5 3.5h1M-3 4.5h2M3 2.5h1"/><path d="M-1-3.5h1M3-2.5h1M4-.5h1M1 4.5h1"/><text transform="translate(.5 .6) rotate(-83) scale(.92 1)" y="2.35">19</text></g>
<g transform="translate(372 873)"><path d="M-5-2.5h1M-3-3.5h1M1-3.5h1M-5 3.5h1M-3 4.5h2M3 2.5h1"/><path d="M-1-3.5h1M3-2.5h1M4-.5h1M1 4.5h1"/><text transform="translate(.5 .6) rotate(-83) scale(.92 1)" y="2.35">20</text></g>
<g transform="translate(382 871)"><path d="M-5-2.5h1M-3-3.5h1M1-3.5h1M-5 3.5h1M-3 4.5h2M3 2.5h1"/><path d="M-1-3.5h1M3-2.5h1M4-.5h1M1 4.5h1"/><text transform="translate(.5 .6) rotate(-83) scale(.92 1)" y="2.35">21</text></g>
<g transform="translate(392 870)"><path d="M-5-2.5h1M-3-3.5h1M1-3.5h1M-5 3.5h1M-3 4.5h2M3 2.5h1"/><path d="M-1-3.5h1M3-2.5h1M4-.5h1M1 4.5h1"/><text transform="translate(.5 .6) rotate(-83) scale(.92 1)" y="2.35">22</text></g>
<g transform="translate(403 868)"><path d="M-5-2.5h1M-3-3.5h1M1-3.5h1M-5 3.5h1M-3 4.5h2M3 2.5h1"/><path d="M-1-3.5h1M3-2.5h1M4-.5h1M1 4.5h1"/><text transform="translate(.5 .6) rotate(-83) scale(.92 1)" y="2.35">23</text></g>
<g transform="translate(413 868)"><path d="M-5-2.5h1M-3-3.5h1M1-3.5h1M-5 3.5h1M-3 4.5h2M3 2.5h1"/><path d="M-1-3.5h1M3-2.5h1M4-.5h1M1 4.5h1"/><text transform="translate(.5 .6) rotate(-83) scale(.92 1)" y="2.35">24</text></g>
<g transform="translate(227 997)"><path d="M-5-2.5h1M-3-3.5h1M1-3.5h1M-5 3.5h1M-3 4.5h2M3 2.5h1"/><path d="M-1-3.5h1M3-2.5h1M4-.5h1M1 4.5h1"/><text transform="translate(.5 .6) rotate(-83) scale(.92 1)" y="2.35">1</text></g>
<g transform="translate(233 988)"><path d="M-5-2.5h1M-3-3.5h1M1-3.5h1M-5 3.5h1M-3 4.5h2M3 2.5h1"/><path d="M-1-3.5h1M3-2.5h1M4-.5h1M1 4.5h1"/><text transform="translate(.5 .6) rotate(-83) scale(.92 1)" y="2.35">2</text></g>
<g transform="translate(238 980)"><path d="M-5-2.5h1M-3-3.5h1M1-3.5h1M-5 3.5h1M-3 4.5h2M3 2.5h1"/><path d="M-1-3.5h1M3-2.5h1M4-.5h1M1 4.5h1"/><text transform="translate(.5 .6) rotate(-83) scale(.92 1)" y="2.35">3</text></g>
<g transform="translate(244 972)"><path d="M-5-2.5h1M-3-3.5h1M1-3.5h1M-5 3.5h1M-3 4.5h2M3 2.5h1"/><path d="M-1-3.5h1M3-2.5h1M4-.5h1M1 4.5h1"/><text transform="translate(.5 .6) rotate(-83) scale(.92 1)" y="2.35">4</text></g>
<g transform="translate(251 965)"><path d="M-5-2.5h1M-3-3.5h1M1-3.5h1M-5 3.5h1M-3 4.5h2M3 2.5h1"/><path d="M-1-3.5h1M3-2.5h1M4-.5h1M1 4.5h1"/><text transform="translate(.5 .6) rotate(-83) scale(.92 1)" y="2.35">5</text></g>
<g transform="translate(258 957)"><path d="M-5-2.5h1M-3-3.5h1M1-3.5h1M-5 3.5h1M-3 4.5h2M3 2.5h1"/><path d="M-1-3.5h1M3-2.5h1M4-.5h1M1 4.5h1"/><text transform="translate(.5 .6) rotate(-83) scale(.92 1)" y="2.35">6</text></g>
<g transform="translate(271 945)"><path d="M-5-2.5h1M-3-3.5h1M1-3.5h1M-5 3.5h1M-3 4.5h2M3 2.5h1"/><path d="M-1-3.5h1M3-2.5h1M4-.5h1M1 4.5h1"/><text transform="translate(.5 .6) rotate(-83) scale(.92 1)" y="2.35">7</text></g>
<g transform="translate(279 938)"><path d="M-5-2.5h1M-3-3.5h1M1-3.5h1M-5 3.5h1M-3 4.5h2M3 2.5h1"/><path d="M-1-3.5h1M3-2.5h1M4-.5h1M1 4.5h1"/><text transform="translate(.5 .6) rotate(-83) scale(.92 1)" y="2.35">8</text></g>
<g transform="translate(287 932)"><path d="M-5-2.5h1M-3-3.5h1M1-3.5h1M-5 3.5h1M-3 4.5h2M3 2.5h1"/><path d="M-1-3.5h1M3-2.5h1M4-.5h1M1 4.5h1"/><text transform="translate(.5 .6) rotate(-83) scale(.92 1)" y="2.35">9</text></g>
<g transform="translate(295 927)"><path d="M-5-2.5h1M-3-3.5h1M1-3.5h1M-5 3.5h1M-3 4.5h2M3 2.5h1"/><path d="M-1-3.5h1M3-2.5h1M4-.5h1M1 4.5h1"/><text transform="translate(.5 .6) rotate(-83) scale(.92 1)" y="2.35">10</text></g>
<g transform="translate(303 921)"><path d="M-5-2.5h1M-3-3.5h1M1-3.5h1M-5 3.5h1M-3 4.5h2M3 2.5h1"/><path d="M-1-3.5h1M3-2.5h1M4-.5h1M1 4.5h1"/><text transform="translate(.5 .6) rotate(-83) scale(.92 1)" y="2.35">11</text></g>
<g transform="translate(312 916)"><path d="M-5-2.5h1M-3-3.5h1M1-3.5h1M-5 3.5h1M-3 4.5h2M3 2.5h1"/><path d="M-1-3.5h1M3-2.5h1M4-.5h1M1 4.5h1"/><text transform="translate(.5 .6) rotate(-83) scale(.92 1)" y="2.35">12</text></g>
<g transform="translate(320 912)"><path d="M-5-2.5h1M-3-3.5h1M1-3.5h1M-5 3.5h1M-3 4.5h2M3 2.5h1"/><path d="M-1-3.5h1M3-2.5h1M4-.5h1M1 4.5h1"/><text transform="translate(.5 .6) rotate(-83) scale(.92 1)" y="2.35">13</text></g>
<g transform="translate(338 904)"><path d="M-5-2.5h1M-3-3.5h1M1-3.5h1M-5 3.5h1M-3 4.5h2M3 2.5h1"/><path d="M-1-3.5h1M3-2.5h1M4-.5h1M1 4.5h1"/><text transform="translate(.5 .6) rotate(-83) scale(.92 1)" y="2.35">14</text></g>
<g transform="translate(347 901)"><path d="M-5-2.5h1M-3-3.5h1M1-3.5h1M-5 3.5h1M-3 4.5h2M3 2.5h1"/><path d="M-1-3.5h1M3-2.5h1M4-.5h1M1 4.5h1"/><text transform="translate(.5 .6) rotate(-83) scale(.92 1)" y="2.35">15</text></g>
<g transform="translate(356 898)"><path d="M-5-2.5h1M-3-3.5h1M1-3.5h1M-5 3.5h1M-3 4.5h2M3 2.5h1"/><path d="M-1-3.5h1M3-2.5h1M4-.5h1M1 4.5h1"/><text transform="translate(.5 .6) rotate(-83) scale(.92 1)" y="2.35">16</text></g>
<g transform="translate(365 895)"><path d="M-5-2.5h1M-3-3.5h1M1-3.5h1M-5 3.5h1M-3 4.5h2M3 2.5h1"/><path d="M-1-3.5h1M3-2.5h1M4-.5h1M1 4.5h1"/><text transform="translate(.5 .6) rotate(-83) scale(.92 1)" y="2.35">17</text></g>
<g transform="translate(374 893)"><path d="M-5-2.5h1M-3-3.5h1M1-3.5h1M-5 3.5h1M-3 4.5h2M3 2.5h1"/><path d="M-1-3.5h1M3-2.5h1M4-.5h1M1 4.5h1"/><text transform="translate(.5 .6) rotate(-83) scale(.92 1)" y="2.35">18</text></g>
<g transform="translate(384 891)"><path d="M-5-2.5h1M-3-3.5h1M1-3.5h1M-5 3.5h1M-3 4.5h2M3 2.5h1"/><path d="M-1-3.5h1M3-2.5h1M4-.5h1M1 4.5h1"/><text transform="translate(.5 .6) rotate(-83) scale(.92 1)" y="2.35">19</text></g>
<g transform="translate(393 890)"><path d="M-5-2.5h1M-3-3.5h1M1-3.5h1M-5 3.5h1M-3 4.5h2M3 2.5h1"/><path d="M-1-3.5h1M3-2.5h1M4-.5h1M1 4.5h1"/><text transform="translate(.5 .6) rotate(-83) scale(.92 1)" y="2.35">20</text></g>
<g transform="translate(403 889)"><path d="M-5-2.5h1M-3-3.5h1M1-3.5h1M-5 3.5h1M-3 4.5h2M3 2.5h1"/><path d="M-1-3.5h1M3-2.5h1M4-.5h1M1 4.5h1"/><text transform="translate(.5 .6) rotate(-83) scale(.92 1)" y="2.35">21</text></g>
<g transform="translate(412 888)"><path d="M-5-2.5h1M-3-3.5h1M1-3.5h1M-5 3.5h1M-3 4.5h2M3 2.5h1"/><path d="M-1-3.5h1M3-2.5h1M4-.5h1M1 4.5h1"/><text transform="translate(.5 .6) rotate(-83) scale(.92 1)" y="2.35">22</text></g>
<g transform="translate(254 990)"><path d="M-5-2.5h1M-3-3.5h1M1-3.5h1M-5 3.5h1M-3 4.5h2M3 2.5h1"/><path d="M-1-3.5h1M3-2.5h1M4-.5h1M1 4.5h1"/><text transform="translate(.5 .6) rotate(-83) scale(.92 1)" y="2.35">1</text></g>
<g transform="translate(260 983)"><path d="M-5-2.5h1M-3-3.5h1M1-3.5h1M-5 3.5h1M-3 4.5h2M3 2.5h1"/><path d="M-1-3.5h1M3-2.5h1M4-.5h1M1 4.5h1"/><text transform="translate(.5 .6) rotate(-83) scale(.92 1)" y="2.35">2</text></g>
<g transform="translate(267 975)"><path d="M-5-2.5h1M-3-3.5h1M1-3.5h1M-5 3.5h1M-3 4.5h2M3 2.5h1"/><path d="M-1-3.5h1M3-2.5h1M4-.5h1M1 4.5h1"/><text transform="translate(.5 .6) rotate(-83) scale(.92 1)" y="2.35">3</text></g>
<g transform="translate(273 968)"><path d="M-5-2.5h1M-3-3.5h1M1-3.5h1M-5 3.5h1M-3 4.5h2M3 2.5h1"/><path d="M-1-3.5h1M3-2.5h1M4-.5h1M1 4.5h1"/><text transform="translate(.5 .6) rotate(-83) scale(.92 1)" y="2.35">4</text></g>
<g transform="translate(286 957)"><path d="M-5-2.5h1M-3-3.5h1M1-3.5h1M-5 3.5h1M-3 4.5h2M3 2.5h1"/><path d="M-1-3.5h1M3-2.5h1M4-.5h1M1 4.5h1"/><text transform="translate(.5 .6) rotate(-83) scale(.92 1)" y="2.35">5</text></g>
<g transform="translate(293 951)"><path d="M-5-2.5h1M-3-3.5h1M1-3.5h1M-5 3.5h1M-3 4.5h2M3 2.5h1"/><path d="M-1-3.5h1M3-2.5h1M4-.5h1M1 4.5h1"/><text transform="translate(.5 .6) rotate(-83) scale(.92 1)" y="2.35">6</text></g>
<g transform="translate(301 945)"><path d="M-5-2.5h1M-3-3.5h1M1-3.5h1M-5 3.5h1M-3 4.5h2M3 2.5h1"/><path d="M-1-3.5h1M3-2.5h1M4-.5h1M1 4.5h1"/><text transform="translate(.5 .6) rotate(-83) scale(.92 1)" y="2.35">7</text></g>
<g transform="translate(309 940)"><path d="M-5-2.5h1M-3-3.5h1M1-3.5h1M-5 3.5h1M-3 4.5h2M3 2.5h1"/><path d="M-1-3.5h1M3-2.5h1M4-.5h1M1 4.5h1"/><text transform="translate(.5 .6) rotate(-83) scale(.92 1)" y="2.35">8</text></g>
<g transform="translate(317 935)"><path d="M-5-2.5h1M-3-3.5h1M1-3.5h1M-5 3.5h1M-3 4.5h2M3 2.5h1"/><path d="M-1-3.5h1M3-2.5h1M4-.5h1M1 4.5h1"/><text transform="translate(.5 .6) rotate(-83) scale(.92 1)" y="2.35">9</text></g>
<g transform="translate(325 931)"><path d="M-5-2.5h1M-3-3.5h1M1-3.5h1M-5 3.5h1M-3 4.5h2M3 2.5h1"/><path d="M-1-3.5h1M3-2.5h1M4-.5h1M1 4.5h1"/><text transform="translate(.5 .6) rotate(-83) scale(.92 1)" y="2.35">10</text></g>
<g transform="translate(341 923)"><path d="M-5-2.5h1M-3-3.5h1M1-3.5h1M-5 3.5h1M-3 4.5h2M3 2.5h1"/><path d="M-1-3.5h1M3-2.5h1M4-.5h1M1 4.5h1"/><text transform="translate(.5 .6) rotate(-83) scale(.92 1)" y="2.35">11</text></g>
<g transform="translate(350 920)"><path d="M-5-2.5h1M-3-3.5h1M1-3.5h1M-5 3.5h1M-3 4.5h2M3 2.5h1"/><path d="M-1-3.5h1M3-2.5h1M4-.5h1M1 4.5h1"/><text transform="translate(.5 .6) rotate(-83) scale(.92 1)" y="2.35">12</text></g>
<g transform="translate(359 917)"><path d="M-5-2.5h1M-3-3.5h1M1-3.5h1M-5 3.5h1M-3 4.5h2M3 2.5h1"/><path d="M-1-3.5h1M3-2.5h1M4-.5h1M1 4.5h1"/><text transform="translate(.5 .6) rotate(-83) scale(.92 1)" y="2.35">13</text></g>
<g transform="translate(367 914)"><path d="M-5-2.5h1M-3-3.5h1M1-3.5h1M-5 3.5h1M-3 4.5h2M3 2.5h1"/><path d="M-1-3.5h1M3-2.5h1M4-.5h1M1 4.5h1"/><text transform="translate(.5 .6) rotate(-83) scale(.92 1)" y="2.35">14</text></g>
<g transform="translate(376 912)"><path d="M-5-2.5h1M-3-3.5h1M1-3.5h1M-5 3.5h1M-3 4.5h2M3 2.5h1"/><path d="M-1-3.5h1M3-2.5h1M4-.5h1M1 4.5h1"/><text transform="translate(.5 .6) rotate(-83) scale(.92 1)" y="2.35">15</text></g>
<g transform="translate(386 910)"><path d="M-5-2.5h1M-3-3.5h1M1-3.5h1M-5 3.5h1M-3 4.5h2M3 2.5h1"/><path d="M-1-3.5h1M3-2.5h1M4-.5h1M1 4.5h1"/><text transform="translate(.5 .6) rotate(-83) scale(.92 1)" y="2.35">16</text></g>
<g transform="translate(395 908)"><path d="M-5-2.5h1M-3-3.5h1M1-3.5h1M-5 3.5h1M-3 4.5h2M3 2.5h1"/><path d="M-1-3.5h1M3-2.5h1M4-.5h1M1 4.5h1"/><text transform="translate(.5 .6) rotate(-83) scale(.92 1)" y="2.35">17</text></g>
<g transform="translate(404 907)"><path d="M-5-2.5h1M-3-3.5h1M1-3.5h1M-5 3.5h1M-3 4.5h2M3 2.5h1"/><path d="M-1-3.5h1M3-2.5h1M4-.5h1M1 4.5h1"/><text transform="translate(.5 .6) rotate(-83) scale(.92 1)" y="2.35">18</text></g>
<g transform="translate(449 655)"><path d="M-5-2.5h1M-3-3.5h1M1-3.5h1M-5 3.5h1M-3 4.5h2M3 2.5h1"/><path d="M-1-3.5h1M3-2.5h1M4-.5h1M1 4.5h1"/><text transform="translate(.5 .6) rotate(-83) scale(.92 1)" y="2.35">4</text></g>
<g transform="translate(464 656)"><path d="M-5-2.5h1M-3-3.5h1M1-3.5h1M-5 3.5h1M-3 4.5h2M3 2.5h1"/><path d="M-1-3.5h1M3-2.5h1M4-.5h1M1 4.5h1"/><text transform="translate(.5 .6) rotate(-83) scale(.92 1)" y="2.35">5</text></g>
<g transform="translate(478 657)"><path d="M-5-2.5h1M-3-3.5h1M1-3.5h1M-5 3.5h1M-3 4.5h2M3 2.5h1"/><path d="M-1-3.5h1M3-2.5h1M4-.5h1M1 4.5h1"/><text transform="translate(.5 .6) rotate(-83) scale(.92 1)" y="2.35">6</text></g>
<g transform="translate(449 676)"><path d="M-5-2.5h1M-3-3.5h1M1-3.5h1M-5 3.5h1M-3 4.5h2M3 2.5h1"/><path d="M-1-3.5h1M3-2.5h1M4-.5h1M1 4.5h1"/><text transform="translate(.5 .6) rotate(-83) scale(.92 1)" y="2.35">15</text></g>
<g transform="translate(462 677)"><path d="M-5-2.5h1M-3-3.5h1M1-3.5h1M-5 3.5h1M-3 4.5h2M3 2.5h1"/><path d="M-1-3.5h1M3-2.5h1M4-.5h1M1 4.5h1"/><text transform="translate(.5 .6) rotate(-83) scale(.92 1)" y="2.35">16</text></g>
<g transform="translate(475 678)"><path d="M-5-2.5h1M-3-3.5h1M1-3.5h1M-5 3.5h1M-3 4.5h2M3 2.5h1"/><path d="M-1-3.5h1M3-2.5h1M4-.5h1M1 4.5h1"/><text transform="translate(.5 .6) rotate(-83) scale(.92 1)" y="2.35">17</text></g>
<g transform="translate(489 680)"><path d="M-5-2.5h1M-3-3.5h1M1-3.5h1M-5 3.5h1M-3 4.5h2M3 2.5h1"/><path d="M-1-3.5h1M3-2.5h1M4-.5h1M1 4.5h1"/><text transform="translate(.5 .6) rotate(-83) scale(.92 1)" y="2.35">18</text></g>
<g transform="translate(502 682)"><path d="M-5-2.5h1M-3-3.5h1M1-3.5h1M-5 3.5h1M-3 4.5h2M3 2.5h1"/><path d="M-1-3.5h1M3-2.5h1M4-.5h1M1 4.5h1"/><text transform="translate(.5 .6) rotate(-83) scale(.92 1)" y="2.35">19</text></g>
<g transform="translate(515 685)"><path d="M-5-2.5h1M-3-3.5h1M1-3.5h1M-5 3.5h1M-3 4.5h2M3 2.5h1"/><path d="M-1-3.5h1M3-2.5h1M4-.5h1M1 4.5h1"/><text transform="translate(.5 .6) rotate(-83) scale(.92 1)" y="2.35">20</text></g>
<g transform="translate(528 687)"><path d="M-5-2.5h1M-3-3.5h1M1-3.5h1M-5 3.5h1M-3 4.5h2M3 2.5h1"/><path d="M-1-3.5h1M3-2.5h1M4-.5h1M1 4.5h1"/><text transform="translate(.5 .6) rotate(-83) scale(.92 1)" y="2.35">21</text></g>
<g transform="translate(541 691)"><path d="M-5-2.5h1M-3-3.5h1M1-3.5h1M-5 3.5h1M-3 4.5h2M3 2.5h1"/><path d="M-1-3.5h1M3-2.5h1M4-.5h1M1 4.5h1"/><text transform="translate(.5 .6) rotate(-83) scale(.92 1)" y="2.35">22</text></g>
<g transform="translate(554 695)"><path d="M-5-2.5h1M-3-3.5h1M1-3.5h1M-5 3.5h1M-3 4.5h2M3 2.5h1"/><path d="M-1-3.5h1M3-2.5h1M4-.5h1M1 4.5h1"/><text transform="translate(.5 .6) rotate(-83) scale(.92 1)" y="2.35">23</text></g>
<g transform="translate(566 699)"><path d="M-5-2.5h1M-3-3.5h1M1-3.5h1M-5 3.5h1M-3 4.5h2M3 2.5h1"/><path d="M-1-3.5h1M3-2.5h1M4-.5h1M1 4.5h1"/><text transform="translate(.5 .6) rotate(-83) scale(.92 1)" y="2.35">24</text></g>
<g transform="translate(579 703)"><path d="M-5-2.5h1M-3-3.5h1M1-3.5h1M-5 3.5h1M-3 4.5h2M3 2.5h1"/><path d="M-1-3.5h1M3-2.5h1M4-.5h1M1 4.5h1"/><text transform="translate(.5 .6) rotate(-83) scale(.92 1)" y="2.35">25</text></g>
<g transform="translate(591 708)"><path d="M-5-2.5h1M-3-3.5h1M1-3.5h1M-5 3.5h1M-3 4.5h2M3 2.5h1"/><path d="M-1-3.5h1M3-2.5h1M4-.5h1M1 4.5h1"/><text transform="translate(.5 .6) rotate(-83) scale(.92 1)" y="2.35">26</text></g>
<g transform="translate(603 713)"><path d="M-5-2.5h1M-3-3.5h1M1-3.5h1M-5 3.5h1M-3 4.5h2M3 2.5h1"/><path d="M-1-3.5h1M3-2.5h1M4-.5h1M1 4.5h1"/><text transform="translate(.5 .6) rotate(-83) scale(.92 1)" y="2.35">27</text></g>
<g transform="translate(616 719)"><path d="M-5-2.5h1M-3-3.5h1M1-3.5h1M-5 3.5h1M-3 4.5h2M3 2.5h1"/><path d="M-1-3.5h1M3-2.5h1M4-.5h1M1 4.5h1"/><text transform="translate(.5 .6) rotate(-83) scale(.92 1)" y="2.35">28</text></g>
<g transform="translate(449 695)"><path d="M-5-2.5h1M-3-3.5h1M1-3.5h1M-5 3.5h1M-3 4.5h2M3 2.5h1"/><path d="M-1-3.5h1M3-2.5h1M4-.5h1M1 4.5h1"/><text transform="translate(.5 .6) rotate(-83) scale(.92 1)" y="2.35">15</text></g>
<g transform="translate(462 696)"><path d="M-5-2.5h1M-3-3.5h1M1-3.5h1M-5 3.5h1M-3 4.5h2M3 2.5h1"/><path d="M-1-3.5h1M3-2.5h1M4-.5h1M1 4.5h1"/><text transform="translate(.5 .6) rotate(-83) scale(.92 1)" y="2.35">16</text></g>
<g transform="translate(475 697)"><path d="M-5-2.5h1M-3-3.5h1M1-3.5h1M-5 3.5h1M-3 4.5h2M3 2.5h1"/><path d="M-1-3.5h1M3-2.5h1M4-.5h1M1 4.5h1"/><text transform="translate(.5 .6) rotate(-83) scale(.92 1)" y="2.35">17</text></g>
<g transform="translate(488 699)"><path d="M-5-2.5h1M-3-3.5h1M1-3.5h1M-5 3.5h1M-3 4.5h2M3 2.5h1"/><path d="M-1-3.5h1M3-2.5h1M4-.5h1M1 4.5h1"/><text transform="translate(.5 .6) rotate(-83) scale(.92 1)" y="2.35">18</text></g>
<g transform="translate(500 701)"><path d="M-5-2.5h1M-3-3.5h1M1-3.5h1M-5 3.5h1M-3 4.5h2M3 2.5h1"/><path d="M-1-3.5h1M3-2.5h1M4-.5h1M1 4.5h1"/><text transform="translate(.5 .6) rotate(-83) scale(.92 1)" y="2.35">19</text></g>
<g transform="translate(513 704)"><path d="M-5-2.5h1M-3-3.5h1M1-3.5h1M-5 3.5h1M-3 4.5h2M3 2.5h1"/><path d="M-1-3.5h1M3-2.5h1M4-.5h1M1 4.5h1"/><text transform="translate(.5 .6) rotate(-83) scale(.92 1)" y="2.35">20</text></g>
<g transform="translate(526 707)"><path d="M-5-2.5h1M-3-3.5h1M1-3.5h1M-5 3.5h1M-3 4.5h2M3 2.5h1"/><path d="M-1-3.5h1M3-2.5h1M4-.5h1M1 4.5h1"/><text transform="translate(.5 .6) rotate(-83) scale(.92 1)" y="2.35">21</text></g>
<g transform="translate(539 710)"><path d="M-5-2.5h1M-3-3.5h1M1-3.5h1M-5 3.5h1M-3 4.5h2M3 2.5h1"/><path d="M-1-3.5h1M3-2.5h1M4-.5h1M1 4.5h1"/><text transform="translate(.5 .6) rotate(-83) scale(.92 1)" y="2.35">22</text></g>
<g transform="translate(551 714)"><path d="M-5-2.5h1M-3-3.5h1M1-3.5h1M-5 3.5h1M-3 4.5h2M3 2.5h1"/><path d="M-1-3.5h1M3-2.5h1M4-.5h1M1 4.5h1"/><text transform="translate(.5 .6) rotate(-83) scale(.92 1)" y="2.35">23</text></g>
<g transform="translate(563 718)"><path d="M-5-2.5h1M-3-3.5h1M1-3.5h1M-5 3.5h1M-3 4.5h2M3 2.5h1"/><path d="M-1-3.5h1M3-2.5h1M4-.5h1M1 4.5h1"/><text transform="translate(.5 .6) rotate(-83) scale(.92 1)" y="2.35">24</text></g>
<g transform="translate(576 722)"><path d="M-5-2.5h1M-3-3.5h1M1-3.5h1M-5 3.5h1M-3 4.5h2M3 2.5h1"/><path d="M-1-3.5h1M3-2.5h1M4-.5h1M1 4.5h1"/><text transform="translate(.5 .6) rotate(-83) scale(.92 1)" y="2.35">25</text></g>
<g transform="translate(588 727)"><path d="M-5-2.5h1M-3-3.5h1M1-3.5h1M-5 3.5h1M-3 4.5h2M3 2.5h1"/><path d="M-1-3.5h1M3-2.5h1M4-.5h1M1 4.5h1"/><text transform="translate(.5 .6) rotate(-83) scale(.92 1)" y="2.35">26</text></g>
<g transform="translate(600 733)"><path d="M-5-2.5h1M-3-3.5h1M1-3.5h1M-5 3.5h1M-3 4.5h2M3 2.5h1"/><path d="M-1-3.5h1M3-2.5h1M4-.5h1M1 4.5h1"/><text transform="translate(.5 .6) rotate(-83) scale(.92 1)" y="2.35">27</text></g>
<g transform="translate(441 713)"><path d="M-5-2.5h1M-3-3.5h1M1-3.5h1M-5 3.5h1M-3 4.5h2M3 2.5h1"/><path d="M-1-3.5h1M3-2.5h1M4-.5h1M1 4.5h1"/><text transform="translate(.5 .6) rotate(-83) scale(.92 1)" y="2.35">20</text></g>
<g transform="translate(454 714)"><path d="M-5-2.5h1M-3-3.5h1M1-3.5h1M-5 3.5h1M-3 4.5h2M3 2.5h1"/><path d="M-1-3.5h1M3-2.5h1M4-.5h1M1 4.5h1"/><text transform="translate(.5 .6) rotate(-83) scale(.92 1)" y="2.35">21</text></g>
<g transform="translate(467 715)"><path d="M-5-2.5h1M-3-3.5h1M1-3.5h1M-5 3.5h1M-3 4.5h2M3 2.5h1"/><path d="M-1-3.5h1M3-2.5h1M4-.5h1M1 4.5h1"/><text transform="translate(.5 .6) rotate(-83) scale(.92 1)" y="2.35">22</text></g>
<g transform="translate(480 717)"><path d="M-5-2.5h1M-3-3.5h1M1-3.5h1M-5 3.5h1M-3 4.5h2M3 2.5h1"/><path d="M-1-3.5h1M3-2.5h1M4-.5h1M1 4.5h1"/><text transform="translate(.5 .6) rotate(-83) scale(.92 1)" y="2.35">23</text></g>
<g transform="translate(493 719)"><path d="M-5-2.5h1M-3-3.5h1M1-3.5h1M-5 3.5h1M-3 4.5h2M3 2.5h1"/><path d="M-1-3.5h1M3-2.5h1M4-.5h1M1 4.5h1"/><text transform="translate(.5 .6) rotate(-83) scale(.92 1)" y="2.35">24</text></g>
<g transform="translate(506 721)"><path d="M-5-2.5h1M-3-3.5h1M1-3.5h1M-5 3.5h1M-3 4.5h2M3 2.5h1"/><path d="M-1-3.5h1M3-2.5h1M4-.5h1M1 4.5h1"/><text transform="translate(.5 .6) rotate(-83) scale(.92 1)" y="2.35">25</text></g>
<g transform="translate(519 724)"><path d="M-5-2.5h1M-3-3.5h1M1-3.5h1M-5 3.5h1M-3 4.5h2M3 2.5h1"/><path d="M-1-3.5h1M3-2.5h1M4-.5h1M1 4.5h1"/><text transform="translate(.5 .6) rotate(-83) scale(.92 1)" y="2.35">26</text></g>
<g transform="translate(532 728)"><path d="M-5-2.5h1M-3-3.5h1M1-3.5h1M-5 3.5h1M-3 4.5h2M3 2.5h1"/><path d="M-1-3.5h1M3-2.5h1M4-.5h1M1 4.5h1"/><text transform="translate(.5 .6) rotate(-83) scale(.92 1)" y="2.35">27</text></g>
<g transform="translate(544 731)"><path d="M-5-2.5h1M-3-3.5h1M1-3.5h1M-5 3.5h1M-3 4.5h2M3 2.5h1"/><path d="M-1-3.5h1M3-2.5h1M4-.5h1M1 4.5h1"/><text transform="translate(.5 .6) rotate(-83) scale(.92 1)" y="2.35">28</text></g>
<g transform="translate(556 735)"><path d="M-5-2.5h1M-3-3.5h1M1-3.5h1M-5 3.5h1M-3 4.5h2M3 2.5h1"/><path d="M-1-3.5h1M3-2.5h1M4-.5h1M1 4.5h1"/><text transform="translate(.5 .6) rotate(-83) scale(.92 1)" y="2.35">29</text></g>
<g transform="translate(569 740)"><path d="M-5-2.5h1M-3-3.5h1M1-3.5h1M-5 3.5h1M-3 4.5h2M3 2.5h1"/><path d="M-1-3.5h1M3-2.5h1M4-.5h1M1 4.5h1"/><text transform="translate(.5 .6) rotate(-83) scale(.92 1)" y="2.35">30</text></g>
<g transform="translate(581 745)"><path d="M-5-2.5h1M-3-3.5h1M1-3.5h1M-5 3.5h1M-3 4.5h2M3 2.5h1"/><path d="M-1-3.5h1M3-2.5h1M4-.5h1M1 4.5h1"/><text transform="translate(.5 .6) rotate(-83) scale(.92 1)" y="2.35">31</text></g>
<g transform="translate(593 750)"><path d="M-5-2.5h1M-3-3.5h1M1-3.5h1M-5 3.5h1M-3 4.5h2M3 2.5h1"/><path d="M-1-3.5h1M3-2.5h1M4-.5h1M1 4.5h1"/><text transform="translate(.5 .6) rotate(-83) scale(.92 1)" y="2.35">32</text></g>
<g transform="translate(605 756)"><path d="M-5-2.5h1M-3-3.5h1M1-3.5h1M-5 3.5h1M-3 4.5h2M3 2.5h1"/><path d="M-1-3.5h1M3-2.5h1M4-.5h1M1 4.5h1"/><text transform="translate(.5 .6) rotate(-83) scale(.92 1)" y="2.35">33</text></g>
<g transform="translate(436 733)"><path d="M-5-2.5h1M-3-3.5h1M1-3.5h1M-5 3.5h1M-3 4.5h2M3 2.5h1"/><path d="M-1-3.5h1M3-2.5h1M4-.5h1M1 4.5h1"/><text transform="translate(.5 .6) rotate(-83) scale(.92 1)" y="2.35">23</text></g>
<g transform="translate(449 734)"><path d="M-5-2.5h1M-3-3.5h1M1-3.5h1M-5 3.5h1M-3 4.5h2M3 2.5h1"/><path d="M-1-3.5h1M3-2.5h1M4-.5h1M1 4.5h1"/><text transform="translate(.5 .6) rotate(-83) scale(.92 1)" y="2.35">24</text></g>
<g transform="translate(462 735)"><path d="M-5-2.5h1M-3-3.5h1M1-3.5h1M-5 3.5h1M-3 4.5h2M3 2.5h1"/><path d="M-1-3.5h1M3-2.5h1M4-.5h1M1 4.5h1"/><text transform="translate(.5 .6) rotate(-83) scale(.92 1)" y="2.35">25</text></g>
<g transform="translate(475 736)"><path d="M-5-2.5h1M-3-3.5h1M1-3.5h1M-5 3.5h1M-3 4.5h2M3 2.5h1"/><path d="M-1-3.5h1M3-2.5h1M4-.5h1M1 4.5h1"/><text transform="translate(.5 .6) rotate(-83) scale(.92 1)" y="2.35">26</text></g>
<g transform="translate(488 738)"><path d="M-5-2.5h1M-3-3.5h1M1-3.5h1M-5 3.5h1M-3 4.5h2M3 2.5h1"/><path d="M-1-3.5h1M3-2.5h1M4-.5h1M1 4.5h1"/><text transform="translate(.5 .6) rotate(-83) scale(.92 1)" y="2.35">27</text></g>
<g transform="translate(502 741)"><path d="M-5-2.5h1M-3-3.5h1M1-3.5h1M-5 3.5h1M-3 4.5h2M3 2.5h1"/><path d="M-1-3.5h1M3-2.5h1M4-.5h1M1 4.5h1"/><text transform="translate(.5 .6) rotate(-83) scale(.92 1)" y="2.35">28</text></g>
<g transform="translate(514 744)"><path d="M-5-2.5h1M-3-3.5h1M1-3.5h1M-5 3.5h1M-3 4.5h2M3 2.5h1"/><path d="M-1-3.5h1M3-2.5h1M4-.5h1M1 4.5h1"/><text transform="translate(.5 .6) rotate(-83) scale(.92 1)" y="2.35">29</text></g>
<g transform="translate(527 747)"><path d="M-5-2.5h1M-3-3.5h1M1-3.5h1M-5 3.5h1M-3 4.5h2M3 2.5h1"/><path d="M-1-3.5h1M3-2.5h1M4-.5h1M1 4.5h1"/><text transform="translate(.5 .6) rotate(-83) scale(.92 1)" y="2.35">30</text></g>
<g transform="translate(540 751)"><path d="M-5-2.5h1M-3-3.5h1M1-3.5h1M-5 3.5h1M-3 4.5h2M3 2.5h1"/><path d="M-1-3.5h1M3-2.5h1M4-.5h1M1 4.5h1"/><text transform="translate(.5 .6) rotate(-83) scale(.92 1)" y="2.35">31</text></g>
<g transform="translate(553 755)"><path d="M-5-2.5h1M-3-3.5h1M1-3.5h1M-5 3.5h1M-3 4.5h2M3 2.5h1"/><path d="M-1-3.5h1M3-2.5h1M4-.5h1M1 4.5h1"/><text transform="translate(.5 .6) rotate(-83) scale(.92 1)" y="2.35">32</text></g>
<g transform="translate(565 760)"><path d="M-5-2.5h1M-3-3.5h1M1-3.5h1M-5 3.5h1M-3 4.5h2M3 2.5h1"/><path d="M-1-3.5h1M3-2.5h1M4-.5h1M1 4.5h1"/><text transform="translate(.5 .6) rotate(-83) scale(.92 1)" y="2.35">33</text></g>
<g transform="translate(577 765)"><path d="M-5-2.5h1M-3-3.5h1M1-3.5h1M-5 3.5h1M-3 4.5h2M3 2.5h1"/><path d="M-1-3.5h1M3-2.5h1M4-.5h1M1 4.5h1"/><text transform="translate(.5 .6) rotate(-83) scale(.92 1)" y="2.35">34</text></g>
<g transform="translate(589 771)"><path d="M-5-2.5h1M-3-3.5h1M1-3.5h1M-5 3.5h1M-3 4.5h2M3 2.5h1"/><path d="M-1-3.5h1M3-2.5h1M4-.5h1M1 4.5h1"/><text transform="translate(.5 .6) rotate(-83) scale(.92 1)" y="2.35">35</text></g>
<g transform="translate(435 752)"><path d="M-5-2.5h1M-3-3.5h1M1-3.5h1M-5 3.5h1M-3 4.5h2M3 2.5h1"/><path d="M-1-3.5h1M3-2.5h1M4-.5h1M1 4.5h1"/><text transform="translate(.5 .6) rotate(-83) scale(.92 1)" y="2.35">24</text></g>
<g transform="translate(447 753)"><path d="M-5-2.5h1M-3-3.5h1M1-3.5h1M-5 3.5h1M-3 4.5h2M3 2.5h1"/><path d="M-1-3.5h1M3-2.5h1M4-.5h1M1 4.5h1"/><text transform="translate(.5 .6) rotate(-83) scale(.92 1)" y="2.35">25</text></g>
<g transform="translate(459 754)"><path d="M-5-2.5h1M-3-3.5h1M1-3.5h1M-5 3.5h1M-3 4.5h2M3 2.5h1"/><path d="M-1-3.5h1M3-2.5h1M4-.5h1M1 4.5h1"/><text transform="translate(.5 .6) rotate(-83) scale(.92 1)" y="2.35">26</text></g>
<g transform="translate(471 755)"><path d="M-5-2.5h1M-3-3.5h1M1-3.5h1M-5 3.5h1M-3 4.5h2M3 2.5h1"/><path d="M-1-3.5h1M3-2.5h1M4-.5h1M1 4.5h1"/><text transform="translate(.5 .6) rotate(-83) scale(.92 1)" y="2.35">27</text></g>
<g transform="translate(484 757)"><path d="M-5-2.5h1M-3-3.5h1M1-3.5h1M-5 3.5h1M-3 4.5h2M3 2.5h1"/><path d="M-1-3.5h1M3-2.5h1M4-.5h1M1 4.5h1"/><text transform="translate(.5 .6) rotate(-83) scale(.92 1)" y="2.35">28</text></g>
<g transform="translate(496 759)"><path d="M-5-2.5h1M-3-3.5h1M1-3.5h1M-5 3.5h1M-3 4.5h2M3 2.5h1"/><path d="M-1-3.5h1M3-2.5h1M4-.5h1M1 4.5h1"/><text transform="translate(.5 .6) rotate(-83) scale(.92 1)" y="2.35">29</text></g>
<g transform="translate(508 762)"><path d="M-5-2.5h1M-3-3.5h1M1-3.5h1M-5 3.5h1M-3 4.5h2M3 2.5h1"/><path d="M-1-3.5h1M3-2.5h1M4-.5h1M1 4.5h1"/><text transform="translate(.5 .6) rotate(-83) scale(.92 1)" y="2.35">30</text></g>
<g transform="translate(520 765)"><path d="M-5-2.5h1M-3-3.5h1M1-3.5h1M-5 3.5h1M-3 4.5h2M3 2.5h1"/><path d="M-1-3.5h1M3-2.5h1M4-.5h1M1 4.5h1"/><text transform="translate(.5 .6) rotate(-83) scale(.92 1)" y="2.35">31</text></g>
<g transform="translate(531 768)"><path d="M-5-2.5h1M-3-3.5h1M1-3.5h1M-5 3.5h1M-3 4.5h2M3 2.5h1"/><path d="M-1-3.5h1M3-2.5h1M4-.5h1M1 4.5h1"/><text transform="translate(.5 .6) rotate(-83) scale(.92 1)" y="2.35">32</text></g>
<g transform="translate(543 772)"><path d="M-5-2.5h1M-3-3.5h1M1-3.5h1M-5 3.5h1M-3 4.5h2M3 2.5h1"/><path d="M-1-3.5h1M3-2.5h1M4-.5h1M1 4.5h1"/><text transform="translate(.5 .6) rotate(-83) scale(.92 1)" y="2.35">33</text></g>
<g transform="translate(555 776)"><path d="M-5-2.5h1M-3-3.5h1M1-3.5h1M-5 3.5h1M-3 4.5h2M3 2.5h1"/><path d="M-1-3.5h1M3-2.5h1M4-.5h1M1 4.5h1"/><text transform="translate(.5 .6) rotate(-83) scale(.92 1)" y="2.35">34</text></g>
<g transform="translate(566 781)"><path d="M-5-2.5h1M-3-3.5h1M1-3.5h1M-5 3.5h1M-3 4.5h2M3 2.5h1"/><path d="M-1-3.5h1M3-2.5h1M4-.5h1M1 4.5h1"/><text transform="translate(.5 .6) rotate(-83) scale(.92 1)" y="2.35">35</text></g>
<g transform="translate(577 786)"><path d="M-5-2.5h1M-3-3.5h1M1-3.5h1M-5 3.5h1M-3 4.5h2M3 2.5h1"/><path d="M-1-3.5h1M3-2.5h1M4-.5h1M1 4.5h1"/><text transform="translate(.5 .6) rotate(-83) scale(.92 1)" y="2.35">36</text></g>
<g transform="translate(588 791)"><path d="M-5-2.5h1M-3-3.5h1M1-3.5h1M-5 3.5h1M-3 4.5h2M3 2.5h1"/><path d="M-1-3.5h1M3-2.5h1M4-.5h1M1 4.5h1"/><text transform="translate(.5 .6) rotate(-83) scale(.92 1)" y="2.35">37</text></g>
<g transform="translate(434 772)"><path d="M-5-2.5h1M-3-3.5h1M1-3.5h1M-5 3.5h1M-3 4.5h2M3 2.5h1"/><path d="M-1-3.5h1M3-2.5h1M4-.5h1M1 4.5h1"/><text transform="translate(.5 .6) rotate(-83) scale(.92 1)" y="2.35">22</text></g>
<g transform="translate(446 773)"><path d="M-5-2.5h1M-3-3.5h1M1-3.5h1M-5 3.5h1M-3 4.5h2M3 2.5h1"/><path d="M-1-3.5h1M3-2.5h1M4-.5h1M1 4.5h1"/><text transform="translate(.5 .6) rotate(-83) scale(.92 1)" y="2.35">23</text></g>
<g transform="translate(457 774)"><path d="M-5-2.5h1M-3-3.5h1M1-3.5h1M-5 3.5h1M-3 4.5h2M3 2.5h1"/><path d="M-1-3.5h1M3-2.5h1M4-.5h1M1 4.5h1"/><text transform="translate(.5 .6) rotate(-83) scale(.92 1)" y="2.35">24</text></g>
<g transform="translate(469 775)"><path d="M-5-2.5h1M-3-3.5h1M1-3.5h1M-5 3.5h1M-3 4.5h2M3 2.5h1"/><path d="M-1-3.5h1M3-2.5h1M4-.5h1M1 4.5h1"/><text transform="translate(.5 .6) rotate(-83) scale(.92 1)" y="2.35">25</text></g>
<g transform="translate(480 777)"><path d="M-5-2.5h1M-3-3.5h1M1-3.5h1M-5 3.5h1M-3 4.5h2M3 2.5h1"/><path d="M-1-3.5h1M3-2.5h1M4-.5h1M1 4.5h1"/><text transform="translate(.5 .6) rotate(-83) scale(.92 1)" y="2.35">26</text></g>
<g transform="translate(492 779)"><path d="M-5-2.5h1M-3-3.5h1M1-3.5h1M-5 3.5h1M-3 4.5h2M3 2.5h1"/><path d="M-1-3.5h1M3-2.5h1M4-.5h1M1 4.5h1"/><text transform="translate(.5 .6) rotate(-83) scale(.92 1)" y="2.35">27</text></g>
<g transform="translate(503 781)"><path d="M-5-2.5h1M-3-3.5h1M1-3.5h1M-5 3.5h1M-3 4.5h2M3 2.5h1"/><path d="M-1-3.5h1M3-2.5h1M4-.5h1M1 4.5h1"/><text transform="translate(.5 .6) rotate(-83) scale(.92 1)" y="2.35">28</text></g>
<g transform="translate(514 784)"><path d="M-5-2.5h1M-3-3.5h1M1-3.5h1M-5 3.5h1M-3 4.5h2M3 2.5h1"/><path d="M-1-3.5h1M3-2.5h1M4-.5h1M1 4.5h1"/><text transform="translate(.5 .6) rotate(-83) scale(.92 1)" y="2.35">29</text></g>
<g transform="translate(525 787)"><path d="M-5-2.5h1M-3-3.5h1M1-3.5h1M-5 3.5h1M-3 4.5h2M3 2.5h1"/><path d="M-1-3.5h1M3-2.5h1M4-.5h1M1 4.5h1"/><text transform="translate(.5 .6) rotate(-83) scale(.92 1)" y="2.35">30</text></g>
<g transform="translate(536 791)"><path d="M-5-2.5h1M-3-3.5h1M1-3.5h1M-5 3.5h1M-3 4.5h2M3 2.5h1"/><path d="M-1-3.5h1M3-2.5h1M4-.5h1M1 4.5h1"/><text transform="translate(.5 .6) rotate(-83) scale(.92 1)" y="2.35">31</text></g>
<g transform="translate(547 795)"><path d="M-5-2.5h1M-3-3.5h1M1-3.5h1M-5 3.5h1M-3 4.5h2M3 2.5h1"/><path d="M-1-3.5h1M3-2.5h1M4-.5h1M1 4.5h1"/><text transform="translate(.5 .6) rotate(-83) scale(.92 1)" y="2.35">32</text></g>
<g transform="translate(558 799)"><path d="M-5-2.5h1M-3-3.5h1M1-3.5h1M-5 3.5h1M-3 4.5h2M3 2.5h1"/><path d="M-1-3.5h1M3-2.5h1M4-.5h1M1 4.5h1"/><text transform="translate(.5 .6) rotate(-83) scale(.92 1)" y="2.35">33</text></g>
<g transform="translate(568 804)"><path d="M-5-2.5h1M-3-3.5h1M1-3.5h1M-5 3.5h1M-3 4.5h2M3 2.5h1"/><path d="M-1-3.5h1M3-2.5h1M4-.5h1M1 4.5h1"/><text transform="translate(.5 .6) rotate(-83) scale(.92 1)" y="2.35">34</text></g>
<g transform="translate(434 791)"><path d="M-5-2.5h1M-3-3.5h1M1-3.5h1M-5 3.5h1M-3 4.5h2M3 2.5h1"/><path d="M-1-3.5h1M3-2.5h1M4-.5h1M1 4.5h1"/><text transform="translate(.5 .6) rotate(-83) scale(.92 1)" y="2.35">30</text></g>
<g transform="translate(446 792)"><path d="M-5-2.5h1M-3-3.5h1M1-3.5h1M-5 3.5h1M-3 4.5h2M3 2.5h1"/><path d="M-1-3.5h1M3-2.5h1M4-.5h1M1 4.5h1"/><text transform="translate(.5 .6) rotate(-83) scale(.92 1)" y="2.35">31</text></g>
<g transform="translate(457 793)"><path d="M-5-2.5h1M-3-3.5h1M1-3.5h1M-5 3.5h1M-3 4.5h2M3 2.5h1"/><path d="M-1-3.5h1M3-2.5h1M4-.5h1M1 4.5h1"/><text transform="translate(.5 .6) rotate(-83) scale(.92 1)" y="2.35">32</text></g>
<g transform="translate(469 794)"><path d="M-5-2.5h1M-3-3.5h1M1-3.5h1M-5 3.5h1M-3 4.5h2M3 2.5h1"/><path d="M-1-3.5h1M3-2.5h1M4-.5h1M1 4.5h1"/><text transform="translate(.5 .6) rotate(-83) scale(.92 1)" y="2.35">33</text></g>
<g transform="translate(480 796)"><path d="M-5-2.5h1M-3-3.5h1M1-3.5h1M-5 3.5h1M-3 4.5h2M3 2.5h1"/><path d="M-1-3.5h1M3-2.5h1M4-.5h1M1 4.5h1"/><text transform="translate(.5 .6) rotate(-83) scale(.92 1)" y="2.35">34</text></g>
<g transform="translate(492 798)"><path d="M-5-2.5h1M-3-3.5h1M1-3.5h1M-5 3.5h1M-3 4.5h2M3 2.5h1"/><path d="M-1-3.5h1M3-2.5h1M4-.5h1M1 4.5h1"/><text transform="translate(.5 .6) rotate(-83) scale(.92 1)" y="2.35">35</text></g>
<g transform="translate(503 801)"><path d="M-5-2.5h1M-3-3.5h1M1-3.5h1M-5 3.5h1M-3 4.5h2M3 2.5h1"/><path d="M-1-3.5h1M3-2.5h1M4-.5h1M1 4.5h1"/><text transform="translate(.5 .6) rotate(-83) scale(.92 1)" y="2.35">36</text></g>
<g transform="translate(514 804)"><path d="M-5-2.5h1M-3-3.5h1M1-3.5h1M-5 3.5h1M-3 4.5h2M3 2.5h1"/><path d="M-1-3.5h1M3-2.5h1M4-.5h1M1 4.5h1"/><text transform="translate(.5 .6) rotate(-83) scale(.92 1)" y="2.35">37</text></g>
<g transform="translate(525 807)"><path d="M-5-2.5h1M-3-3.5h1M1-3.5h1M-5 3.5h1M-3 4.5h2M3 2.5h1"/><path d="M-1-3.5h1M3-2.5h1M4-.5h1M1 4.5h1"/><text transform="translate(.5 .6) rotate(-83) scale(.92 1)" y="2.35">38</text></g>
<g transform="translate(536 811)"><path d="M-5-2.5h1M-3-3.5h1M1-3.5h1M-5 3.5h1M-3 4.5h2M3 2.5h1"/><path d="M-1-3.5h1M3-2.5h1M4-.5h1M1 4.5h1"/><text transform="translate(.5 .6) rotate(-83) scale(.92 1)" y="2.35">39</text></g>
<g transform="translate(547 816)"><path d="M-5-2.5h1M-3-3.5h1M1-3.5h1M-5 3.5h1M-3 4.5h2M3 2.5h1"/><path d="M-1-3.5h1M3-2.5h1M4-.5h1M1 4.5h1"/><text transform="translate(.5 .6) rotate(-83) scale(.92 1)" y="2.35">40</text></g>
<g transform="translate(558 820)"><path d="M-5-2.5h1M-3-3.5h1M1-3.5h1M-5 3.5h1M-3 4.5h2M3 2.5h1"/><path d="M-1-3.5h1M3-2.5h1M4-.5h1M1 4.5h1"/><text transform="translate(.5 .6) rotate(-83) scale(.92 1)" y="2.35">41</text></g>
<g transform="translate(434 810)"><path d="M-5-2.5h1M-3-3.5h1M1-3.5h1M-5 3.5h1M-3 4.5h2M3 2.5h1"/><path d="M-1-3.5h1M3-2.5h1M4-.5h1M1 4.5h1"/><text transform="translate(.5 .6) rotate(-83) scale(.92 1)" y="2.35">30</text></g>
<g transform="translate(445 811)"><path d="M-5-2.5h1M-3-3.5h1M1-3.5h1M-5 3.5h1M-3 4.5h2M3 2.5h1"/><path d="M-1-3.5h1M3-2.5h1M4-.5h1M1 4.5h1"/><text transform="translate(.5 .6) rotate(-83) scale(.92 1)" y="2.35">31</text></g>
<g transform="translate(456 812)"><path d="M-5-2.5h1M-3-3.5h1M1-3.5h1M-5 3.5h1M-3 4.5h2M3 2.5h1"/><path d="M-1-3.5h1M3-2.5h1M4-.5h1M1 4.5h1"/><text transform="translate(.5 .6) rotate(-83) scale(.92 1)" y="2.35">32</text></g>
<g transform="translate(467 813)"><path d="M-5-2.5h1M-3-3.5h1M1-3.5h1M-5 3.5h1M-3 4.5h2M3 2.5h1"/><path d="M-1-3.5h1M3-2.5h1M4-.5h1M1 4.5h1"/><text transform="translate(.5 .6) rotate(-83) scale(.92 1)" y="2.35">33</text></g>
<g transform="translate(479 815)"><path d="M-5-2.5h1M-3-3.5h1M1-3.5h1M-5 3.5h1M-3 4.5h2M3 2.5h1"/><path d="M-1-3.5h1M3-2.5h1M4-.5h1M1 4.5h1"/><text transform="translate(.5 .6) rotate(-83) scale(.92 1)" y="2.35">34</text></g>
<g transform="translate(490 817)"><path d="M-5-2.5h1M-3-3.5h1M1-3.5h1M-5 3.5h1M-3 4.5h2M3 2.5h1"/><path d="M-1-3.5h1M3-2.5h1M4-.5h1M1 4.5h1"/><text transform="translate(.5 .6) rotate(-83) scale(.92 1)" y="2.35">35</text></g>
<g transform="translate(501 820)"><path d="M-5-2.5h1M-3-3.5h1M1-3.5h1M-5 3.5h1M-3 4.5h2M3 2.5h1"/><path d="M-1-3.5h1M3-2.5h1M4-.5h1M1 4.5h1"/><text transform="translate(.5 .6) rotate(-83) scale(.92 1)" y="2.35">36</text></g>
<g transform="translate(512 823)"><path d="M-5-2.5h1M-3-3.5h1M1-3.5h1M-5 3.5h1M-3 4.5h2M3 2.5h1"/><path d="M-1-3.5h1M3-2.5h1M4-.5h1M1 4.5h1"/><text transform="translate(.5 .6) rotate(-83) scale(.92 1)" y="2.35">37</text></g>
<g transform="translate(523 826)"><path d="M-5-2.5h1M-3-3.5h1M1-3.5h1M-5 3.5h1M-3 4.5h2M3 2.5h1"/><path d="M-1-3.5h1M3-2.5h1M4-.5h1M1 4.5h1"/><text transform="translate(.5 .6) rotate(-83) scale(.92 1)" y="2.35">38</text></g>
<g transform="translate(533 830)"><path d="M-5-2.5h1M-3-3.5h1M1-3.5h1M-5 3.5h1M-3 4.5h2M3 2.5h1"/><path d="M-1-3.5h1M3-2.5h1M4-.5h1M1 4.5h1"/><text transform="translate(.5 .6) rotate(-83) scale(.92 1)" y="2.35">39</text></g>
<g transform="translate(544 835)"><path d="M-5-2.5h1M-3-3.5h1M1-3.5h1M-5 3.5h1M-3 4.5h2M3 2.5h1"/><path d="M-1-3.5h1M3-2.5h1M4-.5h1M1 4.5h1"/><text transform="translate(.5 .6) rotate(-83) scale(.92 1)" y="2.35">40</text></g>
<g transform="translate(554 839)"><path d="M-5-2.5h1M-3-3.5h1M1-3.5h1M-5 3.5h1M-3 4.5h2M3 2.5h1"/><path d="M-1-3.5h1M3-2.5h1M4-.5h1M1 4.5h1"/><text transform="translate(.5 .6) rotate(-83) scale(.92 1)" y="2.35">41</text></g>
<g transform="translate(434 829)"><path d="M-5-2.5h1M-3-3.5h1M1-3.5h1M-5 3.5h1M-3 4.5h2M3 2.5h1"/><path d="M-1-3.5h1M3-2.5h1M4-.5h1M1 4.5h1"/><text transform="translate(.5 .6) rotate(-83) scale(.92 1)" y="2.35">28</text></g>
<g transform="translate(445 830)"><path d="M-5-2.5h1M-3-3.5h1M1-3.5h1M-5 3.5h1M-3 4.5h2M3 2.5h1"/><path d="M-1-3.5h1M3-2.5h1M4-.5h1M1 4.5h1"/><text transform="translate(.5 .6) rotate(-83) scale(.92 1)" y="2.35">29</text></g>
<g transform="translate(455 831)"><path d="M-5-2.5h1M-3-3.5h1M1-3.5h1M-5 3.5h1M-3 4.5h2M3 2.5h1"/><path d="M-1-3.5h1M3-2.5h1M4-.5h1M1 4.5h1"/><text transform="translate(.5 .6) rotate(-83) scale(.92 1)" y="2.35">30</text></g>
<g transform="translate(466 832)"><path d="M-5-2.5h1M-3-3.5h1M1-3.5h1M-5 3.5h1M-3 4.5h2M3 2.5h1"/><path d="M-1-3.5h1M3-2.5h1M4-.5h1M1 4.5h1"/><text transform="translate(.5 .6) rotate(-83) scale(.92 1)" y="2.35">31</text></g>
<g transform="translate(477 834)"><path d="M-5-2.5h1M-3-3.5h1M1-3.5h1M-5 3.5h1M-3 4.5h2M3 2.5h1"/><path d="M-1-3.5h1M3-2.5h1M4-.5h1M1 4.5h1"/><text transform="translate(.5 .6) rotate(-83) scale(.92 1)" y="2.35">32</text></g>
<g transform="translate(488 836)"><path d="M-5-2.5h1M-3-3.5h1M1-3.5h1M-5 3.5h1M-3 4.5h2M3 2.5h1"/><path d="M-1-3.5h1M3-2.5h1M4-.5h1M1 4.5h1"/><text transform="translate(.5 .6) rotate(-83) scale(.92 1)" y="2.35">33</text></g>
<g transform="translate(498 839)"><path d="M-5-2.5h1M-3-3.5h1M1-3.5h1M-5 3.5h1M-3 4.5h2M3 2.5h1"/><path d="M-1-3.5h1M3-2.5h1M4-.5h1M1 4.5h1"/><text transform="translate(.5 .6) rotate(-83) scale(.92 1)" y="2.35">34</text></g>
<g transform="translate(509 842)"><path d="M-5-2.5h1M-3-3.5h1M1-3.5h1M-5 3.5h1M-3 4.5h2M3 2.5h1"/><path d="M-1-3.5h1M3-2.5h1M4-.5h1M1 4.5h1"/><text transform="translate(.5 .6) rotate(-83) scale(.92 1)" y="2.35">35</text></g>
<g transform="translate(519 845)"><path d="M-5-2.5h1M-3-3.5h1M1-3.5h1M-5 3.5h1M-3 4.5h2M3 2.5h1"/><path d="M-1-3.5h1M3-2.5h1M4-.5h1M1 4.5h1"/><text transform="translate(.5 .6) rotate(-83) scale(.92 1)" y="2.35">36</text></g>
<g transform="translate(529 849)"><path d="M-5-2.5h1M-3-3.5h1M1-3.5h1M-5 3.5h1M-3 4.5h2M3 2.5h1"/><path d="M-1-3.5h1M3-2.5h1M4-.5h1M1 4.5h1"/><text transform="translate(.5 .6) rotate(-83) scale(.92 1)" y="2.35">37</text></g>
<g transform="translate(539 853)"><path d="M-5-2.5h1M-3-3.5h1M1-3.5h1M-5 3.5h1M-3 4.5h2M3 2.5h1"/><path d="M-1-3.5h1M3-2.5h1M4-.5h1M1 4.5h1"/><text transform="translate(.5 .6) rotate(-83) scale(.92 1)" y="2.35">38</text></g>
<g transform="translate(433 849)"><path d="M-5-2.5h1M-3-3.5h1M1-3.5h1M-5 3.5h1M-3 4.5h2M3 2.5h1"/><path d="M-1-3.5h1M3-2.5h1M4-.5h1M1 4.5h1"/><text transform="translate(.5 .6) rotate(-83) scale(.92 1)" y="2.35">26</text></g>
<g transform="translate(444 850)"><path d="M-5-2.5h1M-3-3.5h1M1-3.5h1M-5 3.5h1M-3 4.5h2M3 2.5h1"/><path d="M-1-3.5h1M3-2.5h1M4-.5h1M1 4.5h1"/><text transform="translate(.5 .6) rotate(-83) scale(.92 1)" y="2.35">27</text></g>
<g transform="translate(454 851)"><path d="M-5-2.5h1M-3-3.5h1M1-3.5h1M-5 3.5h1M-3 4.5h2M3 2.5h1"/><path d="M-1-3.5h1M3-2.5h1M4-.5h1M1 4.5h1"/><text transform="translate(.5 .6) rotate(-83) scale(.92 1)" y="2.35">28</text></g>
<g transform="translate(465 852)"><path d="M-5-2.5h1M-3-3.5h1M1-3.5h1M-5 3.5h1M-3 4.5h2M3 2.5h1"/><path d="M-1-3.5h1M3-2.5h1M4-.5h1M1 4.5h1"/><text transform="translate(.5 .6) rotate(-83) scale(.92 1)" y="2.35">29</text></g>
<g transform="translate(475 854)"><path d="M-5-2.5h1M-3-3.5h1M1-3.5h1M-5 3.5h1M-3 4.5h2M3 2.5h1"/><path d="M-1-3.5h1M3-2.5h1M4-.5h1M1 4.5h1"/><text transform="translate(.5 .6) rotate(-83) scale(.92 1)" y="2.35">30</text></g>
<g transform="translate(485 856)"><path d="M-5-2.5h1M-3-3.5h1M1-3.5h1M-5 3.5h1M-3 4.5h2M3 2.5h1"/><path d="M-1-3.5h1M3-2.5h1M4-.5h1M1 4.5h1"/><text transform="translate(.5 .6) rotate(-83) scale(.92 1)" y="2.35">31</text></g>
<g transform="translate(495 859)"><path d="M-5-2.5h1M-3-3.5h1M1-3.5h1M-5 3.5h1M-3 4.5h2M3 2.5h1"/><path d="M-1-3.5h1M3-2.5h1M4-.5h1M1 4.5h1"/><text transform="translate(.5 .6) rotate(-83) scale(.92 1)" y="2.35">32</text></g>
<g transform="translate(506 862)"><path d="M-5-2.5h1M-3-3.5h1M1-3.5h1M-5 3.5h1M-3 4.5h2M3 2.5h1"/><path d="M-1-3.5h1M3-2.5h1M4-.5h1M1 4.5h1"/><text transform="translate(.5 .6) rotate(-83) scale(.92 1)" y="2.35">33</text></g>
<g transform="translate(515 865)"><path d="M-5-2.5h1M-3-3.5h1M1-3.5h1M-5 3.5h1M-3 4.5h2M3 2.5h1"/><path d="M-1-3.5h1M3-2.5h1M4-.5h1M1 4.5h1"/><text transform="translate(.5 .6) rotate(-83) scale(.92 1)" y="2.35">34</text></g>
<g transform="translate(525 869)"><path d="M-5-2.5h1M-3-3.5h1M1-3.5h1M-5 3.5h1M-3 4.5h2M3 2.5h1"/><path d="M-1-3.5h1M3-2.5h1M4-.5h1M1 4.5h1"/><text transform="translate(.5 .6) rotate(-83) scale(.92 1)" y="2.35">35</text></g>
<g transform="translate(535 873)"><path d="M-5-2.5h1M-3-3.5h1M1-3.5h1M-5 3.5h1M-3 4.5h2M3 2.5h1"/><path d="M-1-3.5h1M3-2.5h1M4-.5h1M1 4.5h1"/><text transform="translate(.5 .6) rotate(-83) scale(.92 1)" y="2.35">36</text></g>
<g transform="translate(432 868)"><path d="M-5-2.5h1M-3-3.5h1M1-3.5h1M-5 3.5h1M-3 4.5h2M3 2.5h1"/><path d="M-1-3.5h1M3-2.5h1M4-.5h1M1 4.5h1"/><text transform="translate(.5 .6) rotate(-83) scale(.92 1)" y="2.35">25</text></g>
<g transform="translate(442 868)"><path d="M-5-2.5h1M-3-3.5h1M1-3.5h1M-5 3.5h1M-3 4.5h2M3 2.5h1"/><path d="M-1-3.5h1M3-2.5h1M4-.5h1M1 4.5h1"/><text transform="translate(.5 .6) rotate(-83) scale(.92 1)" y="2.35">26</text></g>
<g transform="translate(452 870)"><path d="M-5-2.5h1M-3-3.5h1M1-3.5h1M-5 3.5h1M-3 4.5h2M3 2.5h1"/><path d="M-1-3.5h1M3-2.5h1M4-.5h1M1 4.5h1"/><text transform="translate(.5 .6) rotate(-83) scale(.92 1)" y="2.35">27</text></g>
<g transform="translate(462 871)"><path d="M-5-2.5h1M-3-3.5h1M1-3.5h1M-5 3.5h1M-3 4.5h2M3 2.5h1"/><path d="M-1-3.5h1M3-2.5h1M4-.5h1M1 4.5h1"/><text transform="translate(.5 .6) rotate(-83) scale(.92 1)" y="2.35">28</text></g>
<g transform="translate(472 873)"><path d="M-5-2.5h1M-3-3.5h1M1-3.5h1M-5 3.5h1M-3 4.5h2M3 2.5h1"/><path d="M-1-3.5h1M3-2.5h1M4-.5h1M1 4.5h1"/><text transform="translate(.5 .6) rotate(-83) scale(.92 1)" y="2.35">29</text></g>
<g transform="translate(482 875)"><path d="M-5-2.5h1M-3-3.5h1M1-3.5h1M-5 3.5h1M-3 4.5h2M3 2.5h1"/><path d="M-1-3.5h1M3-2.5h1M4-.5h1M1 4.5h1"/><text transform="translate(.5 .6) rotate(-83) scale(.92 1)" y="2.35">30</text></g>
<g transform="translate(492 878)"><path d="M-5-2.5h1M-3-3.5h1M1-3.5h1M-5 3.5h1M-3 4.5h2M3 2.5h1"/><path d="M-1-3.5h1M3-2.5h1M4-.5h1M1 4.5h1"/><text transform="translate(.5 .6) rotate(-83) scale(.92 1)" y="2.35">31</text></g>
<g transform="translate(502 881)"><path d="M-5-2.5h1M-3-3.5h1M1-3.5h1M-5 3.5h1M-3 4.5h2M3 2.5h1"/><path d="M-1-3.5h1M3-2.5h1M4-.5h1M1 4.5h1"/><text transform="translate(.5 .6) rotate(-83) scale(.92 1)" y="2.35">32</text></g>
<g transform="translate(512 884)"><path d="M-5-2.5h1M-3-3.5h1M1-3.5h1M-5 3.5h1M-3 4.5h2M3 2.5h1"/><path d="M-1-3.5h1M3-2.5h1M4-.5h1M1 4.5h1"/><text transform="translate(.5 .6) rotate(-83) scale(.92 1)" y="2.35">33</text></g>
<g transform="translate(521 888)"><path d="M-5-2.5h1M-3-3.5h1M1-3.5h1M-5 3.5h1M-3 4.5h2M3 2.5h1"/><path d="M-1-3.5h1M3-2.5h1M4-.5h1M1 4.5h1"/><text transform="translate(.5 .6) rotate(-83) scale(.92 1)" y="2.35">34</text></g>
<g transform="translate(432 888)"><path d="M-5-2.5h1M-3-3.5h1M1-3.5h1M-5 3.5h1M-3 4.5h2M3 2.5h1"/><path d="M-1-3.5h1M3-2.5h1M4-.5h1M1 4.5h1"/><text transform="translate(.5 .6) rotate(-83) scale(.92 1)" y="2.35">23</text></g>
<g transform="translate(442 889)"><path d="M-5-2.5h1M-3-3.5h1M1-3.5h1M-5 3.5h1M-3 4.5h2M3 2.5h1"/><path d="M-1-3.5h1M3-2.5h1M4-.5h1M1 4.5h1"/><text transform="translate(.5 .6) rotate(-83) scale(.92 1)" y="2.35">24</text></g>
<g transform="translate(452 890)"><path d="M-5-2.5h1M-3-3.5h1M1-3.5h1M-5 3.5h1M-3 4.5h2M3 2.5h1"/><path d="M-1-3.5h1M3-2.5h1M4-.5h1M1 4.5h1"/><text transform="translate(.5 .6) rotate(-83) scale(.92 1)" y="2.35">25</text></g>
<g transform="translate(461 891)"><path d="M-5-2.5h1M-3-3.5h1M1-3.5h1M-5 3.5h1M-3 4.5h2M3 2.5h1"/><path d="M-1-3.5h1M3-2.5h1M4-.5h1M1 4.5h1"/><text transform="translate(.5 .6) rotate(-83) scale(.92 1)" y="2.35">26</text></g>
<g transform="translate(471 893)"><path d="M-5-2.5h1M-3-3.5h1M1-3.5h1M-5 3.5h1M-3 4.5h2M3 2.5h1"/><path d="M-1-3.5h1M3-2.5h1M4-.5h1M1 4.5h1"/><text transform="translate(.5 .6) rotate(-83) scale(.92 1)" y="2.35">27</text></g>
<g transform="translate(480 895)"><path d="M-5-2.5h1M-3-3.5h1M1-3.5h1M-5 3.5h1M-3 4.5h2M3 2.5h1"/><path d="M-1-3.5h1M3-2.5h1M4-.5h1M1 4.5h1"/><text transform="translate(.5 .6) rotate(-83) scale(.92 1)" y="2.35">28</text></g>
<g transform="translate(489 898)"><path d="M-5-2.5h1M-3-3.5h1M1-3.5h1M-5 3.5h1M-3 4.5h2M3 2.5h1"/><path d="M-1-3.5h1M3-2.5h1M4-.5h1M1 4.5h1"/><text transform="translate(.5 .6) rotate(-83) scale(.92 1)" y="2.35">29</text></g>
<g transform="translate(498 901)"><path d="M-5-2.5h1M-3-3.5h1M1-3.5h1M-5 3.5h1M-3 4.5h2M3 2.5h1"/><path d="M-1-3.5h1M3-2.5h1M4-.5h1M1 4.5h1"/><text transform="translate(.5 .6) rotate(-83) scale(.92 1)" y="2.35">30</text></g>
<g transform="translate(507 904)"><path d="M-5-2.5h1M-3-3.5h1M1-3.5h1M-5 3.5h1M-3 4.5h2M3 2.5h1"/><path d="M-1-3.5h1M3-2.5h1M4-.5h1M1 4.5h1"/><text transform="translate(.5 .6) rotate(-83) scale(.92 1)" y="2.35">31</text></g>
<g transform="translate(441 907)"><path d="M-5-2.5h1M-3-3.5h1M1-3.5h1M-5 3.5h1M-3 4.5h2M3 2.5h1"/><path d="M-1-3.5h1M3-2.5h1M4-.5h1M1 4.5h1"/><text transform="translate(.5 .6) rotate(-83) scale(.92 1)" y="2.35">19</text></g>
<g transform="translate(450 908)"><path d="M-5-2.5h1M-3-3.5h1M1-3.5h1M-5 3.5h1M-3 4.5h2M3 2.5h1"/><path d="M-1-3.5h1M3-2.5h1M4-.5h1M1 4.5h1"/><text transform="translate(.5 .6) rotate(-83) scale(.92 1)" y="2.35">20</text></g>
<g transform="translate(459 910)"><path d="M-5-2.5h1M-3-3.5h1M1-3.5h1M-5 3.5h1M-3 4.5h2M3 2.5h1"/><path d="M-1-3.5h1M3-2.5h1M4-.5h1M1 4.5h1"/><text transform="translate(.5 .6) rotate(-83) scale(.92 1)" y="2.35">21</text></g>
<g transform="translate(468 912)"><path d="M-5-2.5h1M-3-3.5h1M1-3.5h1M-5 3.5h1M-3 4.5h2M3 2.5h1"/><path d="M-1-3.5h1M3-2.5h1M4-.5h1M1 4.5h1"/><text transform="translate(.5 .6) rotate(-83) scale(.92 1)" y="2.35">22</text></g>
<g transform="translate(477 914)"><path d="M-5-2.5h1M-3-3.5h1M1-3.5h1M-5 3.5h1M-3 4.5h2M3 2.5h1"/><path d="M-1-3.5h1M3-2.5h1M4-.5h1M1 4.5h1"/><text transform="translate(.5 .6) rotate(-83) scale(.92 1)" y="2.35">23</text></g>
<g transform="translate(486 917)"><path d="M-5-2.5h1M-3-3.5h1M1-3.5h1M-5 3.5h1M-3 4.5h2M3 2.5h1"/><path d="M-1-3.5h1M3-2.5h1M4-.5h1M1 4.5h1"/><text transform="translate(.5 .6) rotate(-83) scale(.92 1)" y="2.35">24</text></g>
<g transform="translate(495 920)"><path d="M-5-2.5h1M-3-3.5h1M1-3.5h1M-5 3.5h1M-3 4.5h2M3 2.5h1"/><path d="M-1-3.5h1M3-2.5h1M4-.5h1M1 4.5h1"/><text transform="translate(.5 .6) rotate(-83) scale(.92 1)" y="2.35">25</text></g>
<g transform="translate(504 923)"><path d="M-5-2.5h1M-3-3.5h1M1-3.5h1M-5 3.5h1M-3 4.5h2M3 2.5h1"/><path d="M-1-3.5h1M3-2.5h1M4-.5h1M1 4.5h1"/><text transform="translate(.5 .6) rotate(-83) scale(.92 1)" y="2.35">26</text></g>
<g transform="translate(639 775)"><path d="M-5-2.5h1M-3-3.5h1M1-3.5h1M-5 3.5h1M-3 4.5h2M3 2.5h1"/><path d="M-1-3.5h1M3-2.5h1M4-.5h1M1 4.5h1"/><text transform="translate(.5 .6) rotate(-83) scale(.92 1)" y="2.35">34</text></g>
<g transform="translate(649 782)"><path d="M-5-2.5h1M-3-3.5h1M1-3.5h1M-5 3.5h1M-3 4.5h2M3 2.5h1"/><path d="M-1-3.5h1M3-2.5h1M4-.5h1M1 4.5h1"/><text transform="translate(.5 .6) rotate(-83) scale(.92 1)" y="2.35">35</text></g>
<g transform="translate(660 790)"><path d="M-5-2.5h1M-3-3.5h1M1-3.5h1M-5 3.5h1M-3 4.5h2M3 2.5h1"/><path d="M-1-3.5h1M3-2.5h1M4-.5h1M1 4.5h1"/><text transform="translate(.5 .6) rotate(-83) scale(.92 1)" y="2.35">36</text></g>
<g transform="translate(670 797)"><path d="M-5-2.5h1M-3-3.5h1M1-3.5h1M-5 3.5h1M-3 4.5h2M3 2.5h1"/><path d="M-1-3.5h1M3-2.5h1M4-.5h1M1 4.5h1"/><text transform="translate(.5 .6) rotate(-83) scale(.92 1)" y="2.35">37</text></g>
<g transform="translate(680 805)"><path d="M-5-2.5h1M-3-3.5h1M1-3.5h1M-5 3.5h1M-3 4.5h2M3 2.5h1"/><path d="M-1-3.5h1M3-2.5h1M4-.5h1M1 4.5h1"/><text transform="translate(.5 .6) rotate(-83) scale(.92 1)" y="2.35">38</text></g>
<g transform="translate(613 783)"><path d="M-5-2.5h1M-3-3.5h1M1-3.5h1M-5 3.5h1M-3 4.5h2M3 2.5h1"/><path d="M-1-3.5h1M3-2.5h1M4-.5h1M1 4.5h1"/><text transform="translate(.5 .6) rotate(-83) scale(.92 1)" y="2.35">36</text></g>
<g transform="translate(625 790)"><path d="M-5-2.5h1M-3-3.5h1M1-3.5h1M-5 3.5h1M-3 4.5h2M3 2.5h1"/><path d="M-1-3.5h1M3-2.5h1M4-.5h1M1 4.5h1"/><text transform="translate(.5 .6) rotate(-83) scale(.92 1)" y="2.35">37</text></g>
<g transform="translate(636 797)"><path d="M-5-2.5h1M-3-3.5h1M1-3.5h1M-5 3.5h1M-3 4.5h2M3 2.5h1"/><path d="M-1-3.5h1M3-2.5h1M4-.5h1M1 4.5h1"/><text transform="translate(.5 .6) rotate(-83) scale(.92 1)" y="2.35">38</text></g>
<g transform="translate(647 805)"><path d="M-5-2.5h1M-3-3.5h1M1-3.5h1M-5 3.5h1M-3 4.5h2M3 2.5h1"/><path d="M-1-3.5h1M3-2.5h1M4-.5h1M1 4.5h1"/><text transform="translate(.5 .6) rotate(-83) scale(.92 1)" y="2.35">39</text></g>
<g transform="translate(657 813)"><path d="M-5-2.5h1M-3-3.5h1M1-3.5h1M-5 3.5h1M-3 4.5h2M3 2.5h1"/><path d="M-1-3.5h1M3-2.5h1M4-.5h1M1 4.5h1"/><text transform="translate(.5 .6) rotate(-83) scale(.92 1)" y="2.35">40</text></g>
<g transform="translate(668 821)"><path d="M-5-2.5h1M-3-3.5h1M1-3.5h1M-5 3.5h1M-3 4.5h2M3 2.5h1"/><path d="M-1-3.5h1M3-2.5h1M4-.5h1M1 4.5h1"/><text transform="translate(.5 .6) rotate(-83) scale(.92 1)" y="2.35">41</text></g>
<g transform="translate(678 830)"><path d="M-5-2.5h1M-3-3.5h1M1-3.5h1M-5 3.5h1M-3 4.5h2M3 2.5h1"/><path d="M-1-3.5h1M3-2.5h1M4-.5h1M1 4.5h1"/><text transform="translate(.5 .6) rotate(-83) scale(.92 1)" y="2.35">42</text></g>
<g transform="translate(688 839)"><path d="M-5-2.5h1M-3-3.5h1M1-3.5h1M-5 3.5h1M-3 4.5h2M3 2.5h1"/><path d="M-1-3.5h1M3-2.5h1M4-.5h1M1 4.5h1"/><text transform="translate(.5 .6) rotate(-83) scale(.92 1)" y="2.35">43</text></g>
<g transform="translate(610 803)"><path d="M-5-2.5h1M-3-3.5h1M1-3.5h1M-5 3.5h1M-3 4.5h2M3 2.5h1"/><path d="M-1-3.5h1M3-2.5h1M4-.5h1M1 4.5h1"/><text transform="translate(.5 .6) rotate(-83) scale(.92 1)" y="2.35">38</text></g>
<g transform="translate(620 810)"><path d="M-5-2.5h1M-3-3.5h1M1-3.5h1M-5 3.5h1M-3 4.5h2M3 2.5h1"/><path d="M-1-3.5h1M3-2.5h1M4-.5h1M1 4.5h1"/><text transform="translate(.5 .6) rotate(-83) scale(.92 1)" y="2.35">39</text></g>
<g transform="translate(630 817)"><path d="M-5-2.5h1M-3-3.5h1M1-3.5h1M-5 3.5h1M-3 4.5h2M3 2.5h1"/><path d="M-1-3.5h1M3-2.5h1M4-.5h1M1 4.5h1"/><text transform="translate(.5 .6) rotate(-83) scale(.92 1)" y="2.35">40</text></g>
<g transform="translate(640 824)"><path d="M-5-2.5h1M-3-3.5h1M1-3.5h1M-5 3.5h1M-3 4.5h2M3 2.5h1"/><path d="M-1-3.5h1M3-2.5h1M4-.5h1M1 4.5h1"/><text transform="translate(.5 .6) rotate(-83) scale(.92 1)" y="2.35">41</text></g>
<g transform="translate(650 831)"><path d="M-5-2.5h1M-3-3.5h1M1-3.5h1M-5 3.5h1M-3 4.5h2M3 2.5h1"/><path d="M-1-3.5h1M3-2.5h1M4-.5h1M1 4.5h1"/><text transform="translate(.5 .6) rotate(-83) scale(.92 1)" y="2.35">42</text></g>
<g transform="translate(659 839)"><path d="M-5-2.5h1M-3-3.5h1M1-3.5h1M-5 3.5h1M-3 4.5h2M3 2.5h1"/><path d="M-1-3.5h1M3-2.5h1M4-.5h1M1 4.5h1"/><text transform="translate(.5 .6) rotate(-83) scale(.92 1)" y="2.35">43</text></g>
<g transform="translate(669 847)"><path d="M-5-2.5h1M-3-3.5h1M1-3.5h1M-5 3.5h1M-3 4.5h2M3 2.5h1"/><path d="M-1-3.5h1M3-2.5h1M4-.5h1M1 4.5h1"/><text transform="translate(.5 .6) rotate(-83) scale(.92 1)" y="2.35">44</text></g>
<g transform="translate(678 856)"><path d="M-5-2.5h1M-3-3.5h1M1-3.5h1M-5 3.5h1M-3 4.5h2M3 2.5h1"/><path d="M-1-3.5h1M3-2.5h1M4-.5h1M1 4.5h1"/><text transform="translate(.5 .6) rotate(-83) scale(.92 1)" y="2.35">45</text></g>
<g transform="translate(686 864)"><path d="M-5-2.5h1M-3-3.5h1M1-3.5h1M-5 3.5h1M-3 4.5h2M3 2.5h1"/><path d="M-1-3.5h1M3-2.5h1M4-.5h1M1 4.5h1"/><text transform="translate(.5 .6) rotate(-83) scale(.92 1)" y="2.35">46</text></g>
<g transform="translate(590 815)"><path d="M-5-2.5h1M-3-3.5h1M1-3.5h1M-5 3.5h1M-3 4.5h2M3 2.5h1"/><path d="M-1-3.5h1M3-2.5h1M4-.5h1M1 4.5h1"/><text transform="translate(.5 .6) rotate(-83) scale(.92 1)" y="2.35">35</text></g>
<g transform="translate(600 821)"><path d="M-5-2.5h1M-3-3.5h1M1-3.5h1M-5 3.5h1M-3 4.5h2M3 2.5h1"/><path d="M-1-3.5h1M3-2.5h1M4-.5h1M1 4.5h1"/><text transform="translate(.5 .6) rotate(-83) scale(.92 1)" y="2.35">36</text></g>
<g transform="translate(609 827)"><path d="M-5-2.5h1M-3-3.5h1M1-3.5h1M-5 3.5h1M-3 4.5h2M3 2.5h1"/><path d="M-1-3.5h1M3-2.5h1M4-.5h1M1 4.5h1"/><text transform="translate(.5 .6) rotate(-83) scale(.92 1)" y="2.35">37</text></g>
<g transform="translate(619 833)"><path d="M-5-2.5h1M-3-3.5h1M1-3.5h1M-5 3.5h1M-3 4.5h2M3 2.5h1"/><path d="M-1-3.5h1M3-2.5h1M4-.5h1M1 4.5h1"/><text transform="translate(.5 .6) rotate(-83) scale(.92 1)" y="2.35">38</text></g>
<g transform="translate(628 840)"><path d="M-5-2.5h1M-3-3.5h1M1-3.5h1M-5 3.5h1M-3 4.5h2M3 2.5h1"/><path d="M-1-3.5h1M3-2.5h1M4-.5h1M1 4.5h1"/><text transform="translate(.5 .6) rotate(-83) scale(.92 1)" y="2.35">39</text></g>
<g transform="translate(638 847)"><path d="M-5-2.5h1M-3-3.5h1M1-3.5h1M-5 3.5h1M-3 4.5h2M3 2.5h1"/><path d="M-1-3.5h1M3-2.5h1M4-.5h1M1 4.5h1"/><text transform="translate(.5 .6) rotate(-83) scale(.92 1)" y="2.35">40</text></g>
<g transform="translate(647 854)"><path d="M-5-2.5h1M-3-3.5h1M1-3.5h1M-5 3.5h1M-3 4.5h2M3 2.5h1"/><path d="M-1-3.5h1M3-2.5h1M4-.5h1M1 4.5h1"/><text transform="translate(.5 .6) rotate(-83) scale(.92 1)" y="2.35">41</text></g>
<g transform="translate(655 862)"><path d="M-5-2.5h1M-3-3.5h1M1-3.5h1M-5 3.5h1M-3 4.5h2M3 2.5h1"/><path d="M-1-3.5h1M3-2.5h1M4-.5h1M1 4.5h1"/><text transform="translate(.5 .6) rotate(-83) scale(.92 1)" y="2.35">42</text></g>
<g transform="translate(579 831)"><path d="M-5-2.5h1M-3-3.5h1M1-3.5h1M-5 3.5h1M-3 4.5h2M3 2.5h1"/><path d="M-1-3.5h1M3-2.5h1M4-.5h1M1 4.5h1"/><text transform="translate(.5 .6) rotate(-83) scale(.92 1)" y="2.35">42</text></g>
<g transform="translate(589 836)"><path d="M-5-2.5h1M-3-3.5h1M1-3.5h1M-5 3.5h1M-3 4.5h2M3 2.5h1"/><path d="M-1-3.5h1M3-2.5h1M4-.5h1M1 4.5h1"/><text transform="translate(.5 .6) rotate(-83) scale(.92 1)" y="2.35">43</text></g>
<g transform="translate(599 843)"><path d="M-5-2.5h1M-3-3.5h1M1-3.5h1M-5 3.5h1M-3 4.5h2M3 2.5h1"/><path d="M-1-3.5h1M3-2.5h1M4-.5h1M1 4.5h1"/><text transform="translate(.5 .6) rotate(-83) scale(.92 1)" y="2.35">44</text></g>
<g transform="translate(608 849)"><path d="M-5-2.5h1M-3-3.5h1M1-3.5h1M-5 3.5h1M-3 4.5h2M3 2.5h1"/><path d="M-1-3.5h1M3-2.5h1M4-.5h1M1 4.5h1"/><text transform="translate(.5 .6) rotate(-83) scale(.92 1)" y="2.35">45</text></g>
<g transform="translate(618 856)"><path d="M-5-2.5h1M-3-3.5h1M1-3.5h1M-5 3.5h1M-3 4.5h2M3 2.5h1"/><path d="M-1-3.5h1M3-2.5h1M4-.5h1M1 4.5h1"/><text transform="translate(.5 .6) rotate(-83) scale(.92 1)" y="2.35">46</text></g>
<g transform="translate(627 863)"><path d="M-5-2.5h1M-3-3.5h1M1-3.5h1M-5 3.5h1M-3 4.5h2M3 2.5h1"/><path d="M-1-3.5h1M3-2.5h1M4-.5h1M1 4.5h1"/><text transform="translate(.5 .6) rotate(-83) scale(.92 1)" y="2.35">47</text></g>
<g transform="translate(636 870)"><path d="M-5-2.5h1M-3-3.5h1M1-3.5h1M-5 3.5h1M-3 4.5h2M3 2.5h1"/><path d="M-1-3.5h1M3-2.5h1M4-.5h1M1 4.5h1"/><text transform="translate(.5 .6) rotate(-83) scale(.92 1)" y="2.35">48</text></g>
<g transform="translate(645 878)"><path d="M-5-2.5h1M-3-3.5h1M1-3.5h1M-5 3.5h1M-3 4.5h2M3 2.5h1"/><path d="M-1-3.5h1M3-2.5h1M4-.5h1M1 4.5h1"/><text transform="translate(.5 .6) rotate(-83) scale(.92 1)" y="2.35">49</text></g>
<g transform="translate(653 886)"><path d="M-5-2.5h1M-3-3.5h1M1-3.5h1M-5 3.5h1M-3 4.5h2M3 2.5h1"/><path d="M-1-3.5h1M3-2.5h1M4-.5h1M1 4.5h1"/><text transform="translate(.5 .6) rotate(-83) scale(.92 1)" y="2.35">50</text></g>
<g transform="translate(575 850)"><path d="M-5-2.5h1M-3-3.5h1M1-3.5h1M-5 3.5h1M-3 4.5h2M3 2.5h1"/><path d="M-1-3.5h1M3-2.5h1M4-.5h1M1 4.5h1"/><text transform="translate(.5 .6) rotate(-83) scale(.92 1)" y="2.35">42</text></g>
<g transform="translate(584 856)"><path d="M-5-2.5h1M-3-3.5h1M1-3.5h1M-5 3.5h1M-3 4.5h2M3 2.5h1"/><path d="M-1-3.5h1M3-2.5h1M4-.5h1M1 4.5h1"/><text transform="translate(.5 .6) rotate(-83) scale(.92 1)" y="2.35">43</text></g>
<g transform="translate(594 862)"><path d="M-5-2.5h1M-3-3.5h1M1-3.5h1M-5 3.5h1M-3 4.5h2M3 2.5h1"/><path d="M-1-3.5h1M3-2.5h1M4-.5h1M1 4.5h1"/><text transform="translate(.5 .6) rotate(-83) scale(.92 1)" y="2.35">44</text></g>
<g transform="translate(603 868)"><path d="M-5-2.5h1M-3-3.5h1M1-3.5h1M-5 3.5h1M-3 4.5h2M3 2.5h1"/><path d="M-1-3.5h1M3-2.5h1M4-.5h1M1 4.5h1"/><text transform="translate(.5 .6) rotate(-83) scale(.92 1)" y="2.35">45</text></g>
<g transform="translate(612 875)"><path d="M-5-2.5h1M-3-3.5h1M1-3.5h1M-5 3.5h1M-3 4.5h2M3 2.5h1"/><path d="M-1-3.5h1M3-2.5h1M4-.5h1M1 4.5h1"/><text transform="translate(.5 .6) rotate(-83) scale(.92 1)" y="2.35">46</text></g>
<g transform="translate(620 882)"><path d="M-5-2.5h1M-3-3.5h1M1-3.5h1M-5 3.5h1M-3 4.5h2M3 2.5h1"/><path d="M-1-3.5h1M3-2.5h1M4-.5h1M1 4.5h1"/><text transform="translate(.5 .6) rotate(-83) scale(.92 1)" y="2.35">47</text></g>
<g transform="translate(629 889)"><path d="M-5-2.5h1M-3-3.5h1M1-3.5h1M-5 3.5h1M-3 4.5h2M3 2.5h1"/><path d="M-1-3.5h1M3-2.5h1M4-.5h1M1 4.5h1"/><text transform="translate(.5 .6) rotate(-83) scale(.92 1)" y="2.35">48</text></g>
<g transform="translate(637 897)"><path d="M-5-2.5h1M-3-3.5h1M1-3.5h1M-5 3.5h1M-3 4.5h2M3 2.5h1"/><path d="M-1-3.5h1M3-2.5h1M4-.5h1M1 4.5h1"/><text transform="translate(.5 .6) rotate(-83) scale(.92 1)" y="2.35">49</text></g>
<g transform="translate(559 863)"><path d="M-5-2.5h1M-3-3.5h1M1-3.5h1M-5 3.5h1M-3 4.5h2M3 2.5h1"/><path d="M-1-3.5h1M3-2.5h1M4-.5h1M1 4.5h1"/><text transform="translate(.5 .6) rotate(-83) scale(.92 1)" y="2.35">39</text></g>
<g transform="translate(569 868)"><path d="M-5-2.5h1M-3-3.5h1M1-3.5h1M-5 3.5h1M-3 4.5h2M3 2.5h1"/><path d="M-1-3.5h1M3-2.5h1M4-.5h1M1 4.5h1"/><text transform="translate(.5 .6) rotate(-83) scale(.92 1)" y="2.35">40</text></g>
<g transform="translate(578 874)"><path d="M-5-2.5h1M-3-3.5h1M1-3.5h1M-5 3.5h1M-3 4.5h2M3 2.5h1"/><path d="M-1-3.5h1M3-2.5h1M4-.5h1M1 4.5h1"/><text transform="translate(.5 .6) rotate(-83) scale(.92 1)" y="2.35">41</text></g>
<g transform="translate(587 880)"><path d="M-5-2.5h1M-3-3.5h1M1-3.5h1M-5 3.5h1M-3 4.5h2M3 2.5h1"/><path d="M-1-3.5h1M3-2.5h1M4-.5h1M1 4.5h1"/><text transform="translate(.5 .6) rotate(-83) scale(.92 1)" y="2.35">42</text></g>
<g transform="translate(596 887)"><path d="M-5-2.5h1M-3-3.5h1M1-3.5h1M-5 3.5h1M-3 4.5h2M3 2.5h1"/><path d="M-1-3.5h1M3-2.5h1M4-.5h1M1 4.5h1"/><text transform="translate(.5 .6) rotate(-83) scale(.92 1)" y="2.35">43</text></g>
<g transform="translate(605 894)"><path d="M-5-2.5h1M-3-3.5h1M1-3.5h1M-5 3.5h1M-3 4.5h2M3 2.5h1"/><path d="M-1-3.5h1M3-2.5h1M4-.5h1M1 4.5h1"/><text transform="translate(.5 .6) rotate(-83) scale(.92 1)" y="2.35">44</text></g>
<g transform="translate(613 901)"><path d="M-5-2.5h1M-3-3.5h1M1-3.5h1M-5 3.5h1M-3 4.5h2M3 2.5h1"/><path d="M-1-3.5h1M3-2.5h1M4-.5h1M1 4.5h1"/><text transform="translate(.5 .6) rotate(-83) scale(.92 1)" y="2.35">45</text></g>
<g transform="translate(621 908)"><path d="M-5-2.5h1M-3-3.5h1M1-3.5h1M-5 3.5h1M-3 4.5h2M3 2.5h1"/><path d="M-1-3.5h1M3-2.5h1M4-.5h1M1 4.5h1"/><text transform="translate(.5 .6) rotate(-83) scale(.92 1)" y="2.35">46</text></g>
<g transform="translate(553 883)"><path d="M-5-2.5h1M-3-3.5h1M1-3.5h1M-5 3.5h1M-3 4.5h2M3 2.5h1"/><path d="M-1-3.5h1M3-2.5h1M4-.5h1M1 4.5h1"/><text transform="translate(.5 .6) rotate(-83) scale(.92 1)" y="2.35">37</text></g>
<g transform="translate(562 888)"><path d="M-5-2.5h1M-3-3.5h1M1-3.5h1M-5 3.5h1M-3 4.5h2M3 2.5h1"/><path d="M-1-3.5h1M3-2.5h1M4-.5h1M1 4.5h1"/><text transform="translate(.5 .6) rotate(-83) scale(.92 1)" y="2.35">38</text></g>
<g transform="translate(571 894)"><path d="M-5-2.5h1M-3-3.5h1M1-3.5h1M-5 3.5h1M-3 4.5h2M3 2.5h1"/><path d="M-1-3.5h1M3-2.5h1M4-.5h1M1 4.5h1"/><text transform="translate(.5 .6) rotate(-83) scale(.92 1)" y="2.35">39</text></g>
<g transform="translate(580 900)"><path d="M-5-2.5h1M-3-3.5h1M1-3.5h1M-5 3.5h1M-3 4.5h2M3 2.5h1"/><path d="M-1-3.5h1M3-2.5h1M4-.5h1M1 4.5h1"/><text transform="translate(.5 .6) rotate(-83) scale(.92 1)" y="2.35">40</text></g>
<g transform="translate(589 906)"><path d="M-5-2.5h1M-3-3.5h1M1-3.5h1M-5 3.5h1M-3 4.5h2M3 2.5h1"/><path d="M-1-3.5h1M3-2.5h1M4-.5h1M1 4.5h1"/><text transform="translate(.5 .6) rotate(-83) scale(.92 1)" y="2.35">41</text></g>
<g transform="translate(597 913)"><path d="M-5-2.5h1M-3-3.5h1M1-3.5h1M-5 3.5h1M-3 4.5h2M3 2.5h1"/><path d="M-1-3.5h1M3-2.5h1M4-.5h1M1 4.5h1"/><text transform="translate(.5 .6) rotate(-83) scale(.92 1)" y="2.35">42</text></g>
<g transform="translate(605 920)"><path d="M-5-2.5h1M-3-3.5h1M1-3.5h1M-5 3.5h1M-3 4.5h2M3 2.5h1"/><path d="M-1-3.5h1M3-2.5h1M4-.5h1M1 4.5h1"/><text transform="translate(.5 .6) rotate(-83) scale(.92 1)" y="2.35">43</text></g>
<g transform="translate(539 897)"><path d="M-5-2.5h1M-3-3.5h1M1-3.5h1M-5 3.5h1M-3 4.5h2M3 2.5h1"/><path d="M-1-3.5h1M3-2.5h1M4-.5h1M1 4.5h1"/><text transform="translate(.5 .6) rotate(-83) scale(.92 1)" y="2.35">35</text></g>
<g transform="translate(548 902)"><path d="M-5-2.5h1M-3-3.5h1M1-3.5h1M-5 3.5h1M-3 4.5h2M3 2.5h1"/><path d="M-1-3.5h1M3-2.5h1M4-.5h1M1 4.5h1"/><text transform="translate(.5 .6) rotate(-83) scale(.92 1)" y="2.35">36</text></g>
<g transform="translate(557 907)"><path d="M-5-2.5h1M-3-3.5h1M1-3.5h1M-5 3.5h1M-3 4.5h2M3 2.5h1"/><path d="M-1-3.5h1M3-2.5h1M4-.5h1M1 4.5h1"/><text transform="translate(.5 .6) rotate(-83) scale(.92 1)" y="2.35">37</text></g>
<g transform="translate(565 913)"><path d="M-5-2.5h1M-3-3.5h1M1-3.5h1M-5 3.5h1M-3 4.5h2M3 2.5h1"/><path d="M-1-3.5h1M3-2.5h1M4-.5h1M1 4.5h1"/><text transform="translate(.5 .6) rotate(-83) scale(.92 1)" y="2.35">38</text></g>
<g transform="translate(574 919)"><path d="M-5-2.5h1M-3-3.5h1M1-3.5h1M-5 3.5h1M-3 4.5h2M3 2.5h1"/><path d="M-1-3.5h1M3-2.5h1M4-.5h1M1 4.5h1"/><text transform="translate(.5 .6) rotate(-83) scale(.92 1)" y="2.35">39</text></g>
<g transform="translate(582 925)"><path d="M-5-2.5h1M-3-3.5h1M1-3.5h1M-5 3.5h1M-3 4.5h2M3 2.5h1"/><path d="M-1-3.5h1M3-2.5h1M4-.5h1M1 4.5h1"/><text transform="translate(.5 .6) rotate(-83) scale(.92 1)" y="2.35">40</text></g>
<g transform="translate(590 932)"><path d="M-5-2.5h1M-3-3.5h1M1-3.5h1M-5 3.5h1M-3 4.5h2M3 2.5h1"/><path d="M-1-3.5h1M3-2.5h1M4-.5h1M1 4.5h1"/><text transform="translate(.5 .6) rotate(-83) scale(.92 1)" y="2.35">41</text></g>
<g transform="translate(525 912)"><path d="M-5-2.5h1M-3-3.5h1M1-3.5h1M-5 3.5h1M-3 4.5h2M3 2.5h1"/><path d="M-1-3.5h1M3-2.5h1M4-.5h1M1 4.5h1"/><text transform="translate(.5 .6) rotate(-83) scale(.92 1)" y="2.35">32</text></g>
<g transform="translate(533 916)"><path d="M-5-2.5h1M-3-3.5h1M1-3.5h1M-5 3.5h1M-3 4.5h2M3 2.5h1"/><path d="M-1-3.5h1M3-2.5h1M4-.5h1M1 4.5h1"/><text transform="translate(.5 .6) rotate(-83) scale(.92 1)" y="2.35">33</text></g>
<g transform="translate(542 921)"><path d="M-5-2.5h1M-3-3.5h1M1-3.5h1M-5 3.5h1M-3 4.5h2M3 2.5h1"/><path d="M-1-3.5h1M3-2.5h1M4-.5h1M1 4.5h1"/><text transform="translate(.5 .6) rotate(-83) scale(.92 1)" y="2.35">34</text></g>
<g transform="translate(550 927)"><path d="M-5-2.5h1M-3-3.5h1M1-3.5h1M-5 3.5h1M-3 4.5h2M3 2.5h1"/><path d="M-1-3.5h1M3-2.5h1M4-.5h1M1 4.5h1"/><text transform="translate(.5 .6) rotate(-83) scale(.92 1)" y="2.35">35</text></g>
<g transform="translate(558 932)"><path d="M-5-2.5h1M-3-3.5h1M1-3.5h1M-5 3.5h1M-3 4.5h2M3 2.5h1"/><path d="M-1-3.5h1M3-2.5h1M4-.5h1M1 4.5h1"/><text transform="translate(.5 .6) rotate(-83) scale(.92 1)" y="2.35">36</text></g>
<g transform="translate(566 938)"><path d="M-5-2.5h1M-3-3.5h1M1-3.5h1M-5 3.5h1M-3 4.5h2M3 2.5h1"/><path d="M-1-3.5h1M3-2.5h1M4-.5h1M1 4.5h1"/><text transform="translate(.5 .6) rotate(-83) scale(.92 1)" y="2.35">37</text></g>
<g transform="translate(574 945)"><path d="M-5-2.5h1M-3-3.5h1M1-3.5h1M-5 3.5h1M-3 4.5h2M3 2.5h1"/><path d="M-1-3.5h1M3-2.5h1M4-.5h1M1 4.5h1"/><text transform="translate(.5 .6) rotate(-83) scale(.92 1)" y="2.35">38</text></g>
<g transform="translate(520 931)"><path d="M-5-2.5h1M-3-3.5h1M1-3.5h1M-5 3.5h1M-3 4.5h2M3 2.5h1"/><path d="M-1-3.5h1M3-2.5h1M4-.5h1M1 4.5h1"/><text transform="translate(.5 .6) rotate(-83) scale(.92 1)" y="2.35">27</text></g>
<g transform="translate(528 935)"><path d="M-5-2.5h1M-3-3.5h1M1-3.5h1M-5 3.5h1M-3 4.5h2M3 2.5h1"/><path d="M-1-3.5h1M3-2.5h1M4-.5h1M1 4.5h1"/><text transform="translate(.5 .6) rotate(-83) scale(.92 1)" y="2.35">28</text></g>
<g transform="translate(536 940)"><path d="M-5-2.5h1M-3-3.5h1M1-3.5h1M-5 3.5h1M-3 4.5h2M3 2.5h1"/><path d="M-1-3.5h1M3-2.5h1M4-.5h1M1 4.5h1"/><text transform="translate(.5 .6) rotate(-83) scale(.92 1)" y="2.35">29</text></g>
<g transform="translate(544 945)"><path d="M-5-2.5h1M-3-3.5h1M1-3.5h1M-5 3.5h1M-3 4.5h2M3 2.5h1"/><path d="M-1-3.5h1M3-2.5h1M4-.5h1M1 4.5h1"/><text transform="translate(.5 .6) rotate(-83) scale(.92 1)" y="2.35">30</text></g>
<g transform="translate(551 951)"><path d="M-5-2.5h1M-3-3.5h1M1-3.5h1M-5 3.5h1M-3 4.5h2M3 2.5h1"/><path d="M-1-3.5h1M3-2.5h1M4-.5h1M1 4.5h1"/><text transform="translate(.5 .6) rotate(-83) scale(.92 1)" y="2.35">31</text></g>
<g transform="translate(559 957)"><path d="M-5-2.5h1M-3-3.5h1M1-3.5h1M-5 3.5h1M-3 4.5h2M3 2.5h1"/><path d="M-1-3.5h1M3-2.5h1M4-.5h1M1 4.5h1"/><text transform="translate(.5 .6) rotate(-83) scale(.92 1)" y="2.35">32</text></g>
<g transform="translate(646 757)"><path d="M-5-2.5h1M-3-3.5h1M1-3.5h1M-5 3.5h1M-3 4.5h2M3 2.5h1"/><path d="M-1-3.5h1M3-2.5h1M4-.5h1M1 4.5h1"/><text transform="translate(.5 .6) rotate(-83) scale(.92 1)" y="2.35">28</text></g>
<g transform="translate(669 904)"><path d="M-5-2.5h1M-3-3.5h1M1-3.5h1M-5 3.5h1M-3 4.5h2M3 2.5h1"/><path d="M-1-3.5h1M3-2.5h1M4-.5h1M1 4.5h1"/><text transform="translate(.5 .6) rotate(-83) scale(.92 1)" y="2.35">51</text></g>
<g transform="translate(677 913)"><path d="M-5-2.5h1M-3-3.5h1M1-3.5h1M-5 3.5h1M-3 4.5h2M3 2.5h1"/><path d="M-1-3.5h1M3-2.5h1M4-.5h1M1 4.5h1"/><text transform="translate(.5 .6) rotate(-83) scale(.92 1)" y="2.35">52</text></g>
<g transform="translate(684 922)"><path d="M-5-2.5h1M-3-3.5h1M1-3.5h1M-5 3.5h1M-3 4.5h2M3 2.5h1"/><path d="M-1-3.5h1M3-2.5h1M4-.5h1M1 4.5h1"/><text transform="translate(.5 .6) rotate(-83) scale(.92 1)" y="2.35">53</text></g>
<g transform="translate(691 931)"><path d="M-5-2.5h1M-3-3.5h1M1-3.5h1M-5 3.5h1M-3 4.5h2M3 2.5h1"/><path d="M-1-3.5h1M3-2.5h1M4-.5h1M1 4.5h1"/><text transform="translate(.5 .6) rotate(-83) scale(.92 1)" y="2.35">54</text></g>
<g transform="translate(697 941)"><path d="M-5-2.5h1M-3-3.5h1M1-3.5h1M-5 3.5h1M-3 4.5h2M3 2.5h1"/><path d="M-1-3.5h1M3-2.5h1M4-.5h1M1 4.5h1"/><text transform="translate(.5 .6) rotate(-83) scale(.92 1)" y="2.35">55</text></g>
<g transform="translate(703 951)"><path d="M-5-2.5h1M-3-3.5h1M1-3.5h1M-5 3.5h1M-3 4.5h2M3 2.5h1"/><path d="M-1-3.5h1M3-2.5h1M4-.5h1M1 4.5h1"/><text transform="translate(.5 .6) rotate(-83) scale(.92 1)" y="2.35">56</text></g>
<g transform="translate(709 961)"><path d="M-5-2.5h1M-3-3.5h1M1-3.5h1M-5 3.5h1M-3 4.5h2M3 2.5h1"/><path d="M-1-3.5h1M3-2.5h1M4-.5h1M1 4.5h1"/><text transform="translate(.5 .6) rotate(-83) scale(.92 1)" y="2.35">57</text></g>
<g transform="translate(715 971)"><path d="M-5-2.5h1M-3-3.5h1M1-3.5h1M-5 3.5h1M-3 4.5h2M3 2.5h1"/><path d="M-1-3.5h1M3-2.5h1M4-.5h1M1 4.5h1"/><text transform="translate(.5 .6) rotate(-83) scale(.92 1)" y="2.35">58</text></g>
<g transform="translate(654 914)"><path d="M-5-2.5h1M-3-3.5h1M1-3.5h1M-5 3.5h1M-3 4.5h2M3 2.5h1"/><path d="M-1-3.5h1M3-2.5h1M4-.5h1M1 4.5h1"/><text transform="translate(.5 .6) rotate(-83) scale(.92 1)" y="2.35">50</text></g>
<g transform="translate(661 923)"><path d="M-5-2.5h1M-3-3.5h1M1-3.5h1M-5 3.5h1M-3 4.5h2M3 2.5h1"/><path d="M-1-3.5h1M3-2.5h1M4-.5h1M1 4.5h1"/><text transform="translate(.5 .6) rotate(-83) scale(.92 1)" y="2.35">51</text></g>
<g transform="translate(668 932)"><path d="M-5-2.5h1M-3-3.5h1M1-3.5h1M-5 3.5h1M-3 4.5h2M3 2.5h1"/><path d="M-1-3.5h1M3-2.5h1M4-.5h1M1 4.5h1"/><text transform="translate(.5 .6) rotate(-83) scale(.92 1)" y="2.35">52</text></g>
<g transform="translate(675 941)"><path d="M-5-2.5h1M-3-3.5h1M1-3.5h1M-5 3.5h1M-3 4.5h2M3 2.5h1"/><path d="M-1-3.5h1M3-2.5h1M4-.5h1M1 4.5h1"/><text transform="translate(.5 .6) rotate(-83) scale(.92 1)" y="2.35">53</text></g>
<g transform="translate(681 950)"><path d="M-5-2.5h1M-3-3.5h1M1-3.5h1M-5 3.5h1M-3 4.5h2M3 2.5h1"/><path d="M-1-3.5h1M3-2.5h1M4-.5h1M1 4.5h1"/><text transform="translate(.5 .6) rotate(-83) scale(.92 1)" y="2.35">54</text></g>
<g transform="translate(687 960)"><path d="M-5-2.5h1M-3-3.5h1M1-3.5h1M-5 3.5h1M-3 4.5h2M3 2.5h1"/><path d="M-1-3.5h1M3-2.5h1M4-.5h1M1 4.5h1"/><text transform="translate(.5 .6) rotate(-83) scale(.92 1)" y="2.35">55</text></g>
<g transform="translate(692 970)"><path d="M-5-2.5h1M-3-3.5h1M1-3.5h1M-5 3.5h1M-3 4.5h2M3 2.5h1"/><path d="M-1-3.5h1M3-2.5h1M4-.5h1M1 4.5h1"/><text transform="translate(.5 .6) rotate(-83) scale(.92 1)" y="2.35">56</text></g>
<g transform="translate(698 980)"><path d="M-5-2.5h1M-3-3.5h1M1-3.5h1M-5 3.5h1M-3 4.5h2M3 2.5h1"/><path d="M-1-3.5h1M3-2.5h1M4-.5h1M1 4.5h1"/><text transform="translate(.5 .6) rotate(-83) scale(.92 1)" y="2.35">57</text></g>
<g transform="translate(637 924)"><path d="M-5-2.5h1M-3-3.5h1M1-3.5h1M-5 3.5h1M-3 4.5h2M3 2.5h1"/><path d="M-1-3.5h1M3-2.5h1M4-.5h1M1 4.5h1"/><text transform="translate(.5 .6) rotate(-83) scale(.92 1)" y="2.35">47</text></g>
<g transform="translate(644 932)"><path d="M-5-2.5h1M-3-3.5h1M1-3.5h1M-5 3.5h1M-3 4.5h2M3 2.5h1"/><path d="M-1-3.5h1M3-2.5h1M4-.5h1M1 4.5h1"/><text transform="translate(.5 .6) rotate(-83) scale(.92 1)" y="2.35">48</text></g>
<g transform="translate(651 941)"><path d="M-5-2.5h1M-3-3.5h1M1-3.5h1M-5 3.5h1M-3 4.5h2M3 2.5h1"/><path d="M-1-3.5h1M3-2.5h1M4-.5h1M1 4.5h1"/><text transform="translate(.5 .6) rotate(-83) scale(.92 1)" y="2.35">49</text></g>
<g transform="translate(657 950)"><path d="M-5-2.5h1M-3-3.5h1M1-3.5h1M-5 3.5h1M-3 4.5h2M3 2.5h1"/><path d="M-1-3.5h1M3-2.5h1M4-.5h1M1 4.5h1"/><text transform="translate(.5 .6) rotate(-83) scale(.92 1)" y="2.35">50</text></g>
<g transform="translate(664 959)"><path d="M-5-2.5h1M-3-3.5h1M1-3.5h1M-5 3.5h1M-3 4.5h2M3 2.5h1"/><path d="M-1-3.5h1M3-2.5h1M4-.5h1M1 4.5h1"/><text transform="translate(.5 .6) rotate(-83) scale(.92 1)" y="2.35">51</text></g>
<g transform="translate(669 968)"><path d="M-5-2.5h1M-3-3.5h1M1-3.5h1M-5 3.5h1M-3 4.5h2M3 2.5h1"/><path d="M-1-3.5h1M3-2.5h1M4-.5h1M1 4.5h1"/><text transform="translate(.5 .6) rotate(-83) scale(.92 1)" y="2.35">52</text></g>
<g transform="translate(675 978)"><path d="M-5-2.5h1M-3-3.5h1M1-3.5h1M-5 3.5h1M-3 4.5h2M3 2.5h1"/><path d="M-1-3.5h1M3-2.5h1M4-.5h1M1 4.5h1"/><text transform="translate(.5 .6) rotate(-83) scale(.92 1)" y="2.35">53</text></g>
<g transform="translate(620 935)"><path d="M-5-2.5h1M-3-3.5h1M1-3.5h1M-5 3.5h1M-3 4.5h2M3 2.5h1"/><path d="M-1-3.5h1M3-2.5h1M4-.5h1M1 4.5h1"/><text transform="translate(.5 .6) rotate(-83) scale(.92 1)" y="2.35">44</text></g>
<g transform="translate(627 943)"><path d="M-5-2.5h1M-3-3.5h1M1-3.5h1M-5 3.5h1M-3 4.5h2M3 2.5h1"/><path d="M-1-3.5h1M3-2.5h1M4-.5h1M1 4.5h1"/><text transform="translate(.5 .6) rotate(-83) scale(.92 1)" y="2.35">45</text></g>
<g transform="translate(634 951)"><path d="M-5-2.5h1M-3-3.5h1M1-3.5h1M-5 3.5h1M-3 4.5h2M3 2.5h1"/><path d="M-1-3.5h1M3-2.5h1M4-.5h1M1 4.5h1"/><text transform="translate(.5 .6) rotate(-83) scale(.92 1)" y="2.35">46</text></g>
<g transform="translate(640 960)"><path d="M-5-2.5h1M-3-3.5h1M1-3.5h1M-5 3.5h1M-3 4.5h2M3 2.5h1"/><path d="M-1-3.5h1M3-2.5h1M4-.5h1M1 4.5h1"/><text transform="translate(.5 .6) rotate(-83) scale(.92 1)" y="2.35">47</text></g>
<g transform="translate(646 968)"><path d="M-5-2.5h1M-3-3.5h1M1-3.5h1M-5 3.5h1M-3 4.5h2M3 2.5h1"/><path d="M-1-3.5h1M3-2.5h1M4-.5h1M1 4.5h1"/><text transform="translate(.5 .6) rotate(-83) scale(.92 1)" y="2.35">48</text></g>
<g transform="translate(652 977)"><path d="M-5-2.5h1M-3-3.5h1M1-3.5h1M-5 3.5h1M-3 4.5h2M3 2.5h1"/><path d="M-1-3.5h1M3-2.5h1M4-.5h1M1 4.5h1"/><text transform="translate(.5 .6) rotate(-83) scale(.92 1)" y="2.35">49</text></g>
<g transform="translate(657 987)"><path d="M-5-2.5h1M-3-3.5h1M1-3.5h1M-5 3.5h1M-3 4.5h2M3 2.5h1"/><path d="M-1-3.5h1M3-2.5h1M4-.5h1M1 4.5h1"/><text transform="translate(.5 .6) rotate(-83) scale(.92 1)" y="2.35">50</text></g>
<g transform="translate(604 946)"><path d="M-5-2.5h1M-3-3.5h1M1-3.5h1M-5 3.5h1M-3 4.5h2M3 2.5h1"/><path d="M-1-3.5h1M3-2.5h1M4-.5h1M1 4.5h1"/><text transform="translate(.5 .6) rotate(-83) scale(.92 1)" y="2.35">42</text></g>
<g transform="translate(611 954)"><path d="M-5-2.5h1M-3-3.5h1M1-3.5h1M-5 3.5h1M-3 4.5h2M3 2.5h1"/><path d="M-1-3.5h1M3-2.5h1M4-.5h1M1 4.5h1"/><text transform="translate(.5 .6) rotate(-83) scale(.92 1)" y="2.35">43</text></g>
<g transform="translate(618 962)"><path d="M-5-2.5h1M-3-3.5h1M1-3.5h1M-5 3.5h1M-3 4.5h2M3 2.5h1"/><path d="M-1-3.5h1M3-2.5h1M4-.5h1M1 4.5h1"/><text transform="translate(.5 .6) rotate(-83) scale(.92 1)" y="2.35">44</text></g>
<g transform="translate(624 970)"><path d="M-5-2.5h1M-3-3.5h1M1-3.5h1M-5 3.5h1M-3 4.5h2M3 2.5h1"/><path d="M-1-3.5h1M3-2.5h1M4-.5h1M1 4.5h1"/><text transform="translate(.5 .6) rotate(-83) scale(.92 1)" y="2.35">45</text></g>
<g transform="translate(629 978)"><path d="M-5-2.5h1M-3-3.5h1M1-3.5h1M-5 3.5h1M-3 4.5h2M3 2.5h1"/><path d="M-1-3.5h1M3-2.5h1M4-.5h1M1 4.5h1"/><text transform="translate(.5 .6) rotate(-83) scale(.92 1)" y="2.35">46</text></g>
<g transform="translate(635 986)"><path d="M-5-2.5h1M-3-3.5h1M1-3.5h1M-5 3.5h1M-3 4.5h2M3 2.5h1"/><path d="M-1-3.5h1M3-2.5h1M4-.5h1M1 4.5h1"/><text transform="translate(.5 .6) rotate(-83) scale(.92 1)" y="2.35">47</text></g>
<g transform="translate(587 957)"><path d="M-5-2.5h1M-3-3.5h1M1-3.5h1M-5 3.5h1M-3 4.5h2M3 2.5h1"/><path d="M-1-3.5h1M3-2.5h1M4-.5h1M1 4.5h1"/><text transform="translate(.5 .6) rotate(-83) scale(.92 1)" y="2.35">39</text></g>
<g transform="translate(594 965)"><path d="M-5-2.5h1M-3-3.5h1M1-3.5h1M-5 3.5h1M-3 4.5h2M3 2.5h1"/><path d="M-1-3.5h1M3-2.5h1M4-.5h1M1 4.5h1"/><text transform="translate(.5 .6) rotate(-83) scale(.92 1)" y="2.35">40</text></g>
<g transform="translate(600 972)"><path d="M-5-2.5h1M-3-3.5h1M1-3.5h1M-5 3.5h1M-3 4.5h2M3 2.5h1"/><path d="M-1-3.5h1M3-2.5h1M4-.5h1M1 4.5h1"/><text transform="translate(.5 .6) rotate(-83) scale(.92 1)" y="2.35">41</text></g>
<g transform="translate(607 980)"><path d="M-5-2.5h1M-3-3.5h1M1-3.5h1M-5 3.5h1M-3 4.5h2M3 2.5h1"/><path d="M-1-3.5h1M3-2.5h1M4-.5h1M1 4.5h1"/><text transform="translate(.5 .6) rotate(-83) scale(.92 1)" y="2.35">42</text></g>
<g transform="translate(612 988)"><path d="M-5-2.5h1M-3-3.5h1M1-3.5h1M-5 3.5h1M-3 4.5h2M3 2.5h1"/><path d="M-1-3.5h1M3-2.5h1M4-.5h1M1 4.5h1"/><text transform="translate(.5 .6) rotate(-83) scale(.92 1)" y="2.35">43</text></g>
<g transform="translate(618 997)"><path d="M-5-2.5h1M-3-3.5h1M1-3.5h1M-5 3.5h1M-3 4.5h2M3 2.5h1"/><path d="M-1-3.5h1M3-2.5h1M4-.5h1M1 4.5h1"/><text transform="translate(.5 .6) rotate(-83) scale(.92 1)" y="2.35">44</text></g>
<g transform="translate(572 968)"><path d="M-5-2.5h1M-3-3.5h1M1-3.5h1M-5 3.5h1M-3 4.5h2M3 2.5h1"/><path d="M-1-3.5h1M3-2.5h1M4-.5h1M1 4.5h1"/><text transform="translate(.5 .6) rotate(-83) scale(.92 1)" y="2.35">33</text></g>
<g transform="translate(578 975)"><path d="M-5-2.5h1M-3-3.5h1M1-3.5h1M-5 3.5h1M-3 4.5h2M3 2.5h1"/><path d="M-1-3.5h1M3-2.5h1M4-.5h1M1 4.5h1"/><text transform="translate(.5 .6) rotate(-83) scale(.92 1)" y="2.35">34</text></g>
<g transform="translate(585 983)"><path d="M-5-2.5h1M-3-3.5h1M1-3.5h1M-5 3.5h1M-3 4.5h2M3 2.5h1"/><path d="M-1-3.5h1M3-2.5h1M4-.5h1M1 4.5h1"/><text transform="translate(.5 .6) rotate(-83) scale(.92 1)" y="2.35">35</text></g>
<g transform="translate(591 990)"><path d="M-5-2.5h1M-3-3.5h1M1-3.5h1M-5 3.5h1M-3 4.5h2M3 2.5h1"/><path d="M-1-3.5h1M3-2.5h1M4-.5h1M1 4.5h1"/><text transform="translate(.5 .6) rotate(-83) scale(.92 1)" y="2.35">36</text></g>
<g transform="translate(687 895)"><path d="M-5-2.5h1M-3-3.5h1M1-3.5h1M-5 3.5h1M-3 4.5h2M3 2.5h1"/><path d="M-1-3.5h1M3-2.5h1M4-.5h1M1 4.5h1"/><text transform="translate(.5 .6) rotate(-83) scale(.92 1)" y="2.35">40</text></g>
<g transform="translate(694 904)"><path d="M-5-2.5h1M-3-3.5h1M1-3.5h1M-5 3.5h1M-3 4.5h2M3 2.5h1"/><path d="M-1-3.5h1M3-2.5h1M4-.5h1M1 4.5h1"/><text transform="translate(.5 .6) rotate(-83) scale(.92 1)" y="2.35">40</text></g>
</g><g opacity="0.999">
<text class="l" x="383.8" y="114" font-size="23.7">Balcony</text>
<text class="l" x="363.4" y="422.5" font-size="23.6">Amphitheater</text>
<text class="l" x="8.8" y="579.5" font-size="24">Right Balcony</text>
<text class="l" x="704.2" y="572.2" font-size="24">Left Balcony</text>
<text class="l" x="381.0" y="940" font-size="24.4">STALLS</text>
<text class="l" x="377.0" y="1013.9" font-size="32.5">STAGE</text>
</g></svg></body></html>
